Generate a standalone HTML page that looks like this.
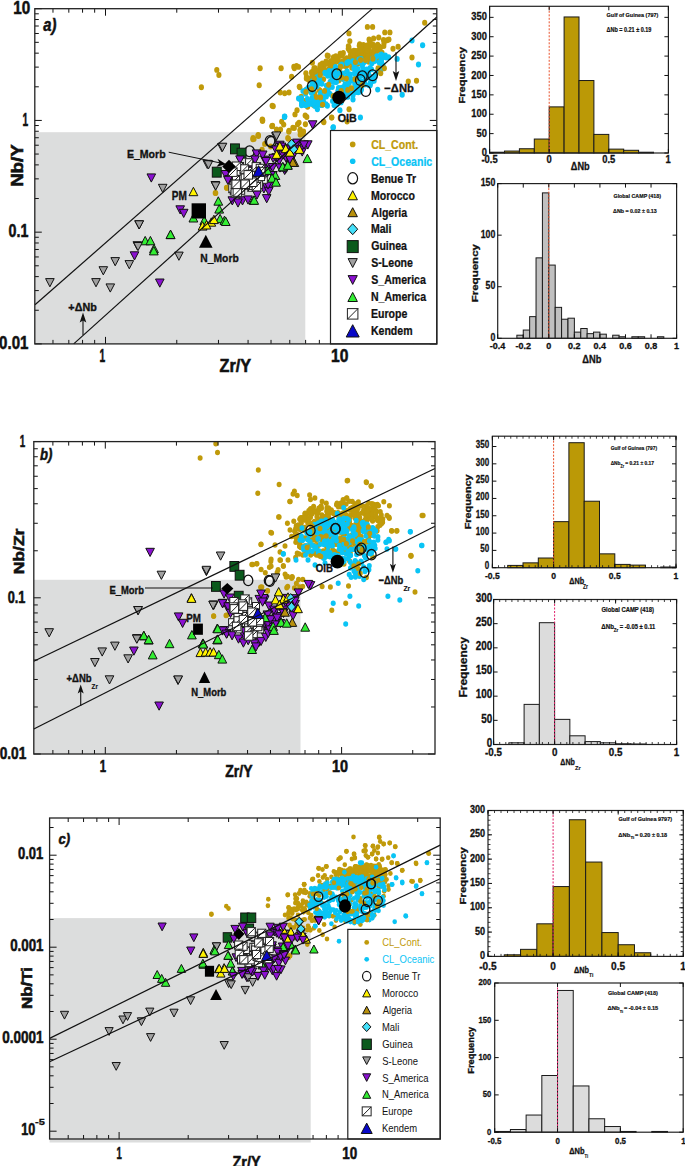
<!DOCTYPE html>
<html><head><meta charset="utf-8"><style>
html,body{margin:0;padding:0;background:#fff;}
svg{display:block;font-family:"Liberation Sans",sans-serif;}
</style></head><body>
<svg width="685" height="1166" viewBox="0 0 685 1166">
<rect width="685" height="1166" fill="#fff"/>
<rect x="34.80" y="132.20" width="270.50" height="211.70" fill="#dcdddd" stroke="none" stroke-width="1" />
<ellipse cx="319.5" cy="90.3" rx="2.6" ry="2.94" fill="#c09a0a"/>
<ellipse cx="369.8" cy="41.5" rx="2.6" ry="2.94" fill="#c09a0a"/>
<ellipse cx="348.3" cy="48.8" rx="2.6" ry="2.94" fill="#c09a0a"/>
<ellipse cx="323.2" cy="68.0" rx="2.6" ry="2.94" fill="#c09a0a"/>
<ellipse cx="307.6" cy="106.7" rx="2.6" ry="2.94" fill="#c09a0a"/>
<ellipse cx="351.8" cy="67.8" rx="2.6" ry="2.94" fill="#c09a0a"/>
<ellipse cx="330.6" cy="67.8" rx="2.6" ry="2.94" fill="#c09a0a"/>
<ellipse cx="306.3" cy="89.6" rx="2.6" ry="2.94" fill="#c09a0a"/>
<ellipse cx="313.5" cy="76.0" rx="2.6" ry="2.94" fill="#c09a0a"/>
<ellipse cx="318.9" cy="70.4" rx="2.6" ry="2.94" fill="#c09a0a"/>
<ellipse cx="356.2" cy="64.8" rx="2.6" ry="2.94" fill="#c09a0a"/>
<ellipse cx="305.9" cy="73.2" rx="2.6" ry="2.94" fill="#c09a0a"/>
<ellipse cx="299.8" cy="87.3" rx="2.6" ry="2.94" fill="#c09a0a"/>
<ellipse cx="359.7" cy="44.1" rx="2.6" ry="2.94" fill="#c09a0a"/>
<ellipse cx="313.5" cy="105.1" rx="2.6" ry="2.94" fill="#c09a0a"/>
<ellipse cx="314.4" cy="84.3" rx="2.6" ry="2.94" fill="#c09a0a"/>
<ellipse cx="328.2" cy="56.0" rx="2.6" ry="2.94" fill="#c09a0a"/>
<ellipse cx="309.4" cy="90.2" rx="2.6" ry="2.94" fill="#c09a0a"/>
<ellipse cx="299.3" cy="86.6" rx="2.6" ry="2.94" fill="#c09a0a"/>
<ellipse cx="320.5" cy="82.6" rx="2.6" ry="2.94" fill="#c09a0a"/>
<ellipse cx="346.8" cy="71.7" rx="2.6" ry="2.94" fill="#c09a0a"/>
<ellipse cx="363.0" cy="56.1" rx="2.6" ry="2.94" fill="#c09a0a"/>
<ellipse cx="319.4" cy="90.2" rx="2.6" ry="2.94" fill="#c09a0a"/>
<ellipse cx="382.0" cy="52.8" rx="2.6" ry="2.94" fill="#c09a0a"/>
<ellipse cx="354.3" cy="61.3" rx="2.6" ry="2.94" fill="#c09a0a"/>
<ellipse cx="301.2" cy="96.7" rx="2.6" ry="2.94" fill="#c09a0a"/>
<ellipse cx="374.0" cy="46.8" rx="2.6" ry="2.94" fill="#c09a0a"/>
<ellipse cx="343.0" cy="78.8" rx="2.6" ry="2.94" fill="#c09a0a"/>
<ellipse cx="327.3" cy="55.5" rx="2.6" ry="2.94" fill="#c09a0a"/>
<ellipse cx="383.5" cy="39.9" rx="2.6" ry="2.94" fill="#c09a0a"/>
<ellipse cx="379.3" cy="49.2" rx="2.6" ry="2.94" fill="#c09a0a"/>
<ellipse cx="324.2" cy="64.2" rx="2.6" ry="2.94" fill="#c09a0a"/>
<ellipse cx="330.3" cy="68.9" rx="2.6" ry="2.94" fill="#c09a0a"/>
<ellipse cx="305.7" cy="100.7" rx="2.6" ry="2.94" fill="#c09a0a"/>
<ellipse cx="349.8" cy="41.1" rx="2.6" ry="2.94" fill="#c09a0a"/>
<ellipse cx="384.0" cy="43.2" rx="2.6" ry="2.94" fill="#c09a0a"/>
<ellipse cx="342.8" cy="62.7" rx="2.6" ry="2.94" fill="#c09a0a"/>
<ellipse cx="314.7" cy="93.2" rx="2.6" ry="2.94" fill="#c09a0a"/>
<ellipse cx="338.7" cy="80.4" rx="2.6" ry="2.94" fill="#c09a0a"/>
<ellipse cx="387.1" cy="40.2" rx="2.6" ry="2.94" fill="#c09a0a"/>
<ellipse cx="306.5" cy="77.0" rx="2.6" ry="2.94" fill="#c09a0a"/>
<ellipse cx="369.1" cy="39.4" rx="2.6" ry="2.94" fill="#c09a0a"/>
<ellipse cx="382.5" cy="66.6" rx="2.6" ry="2.94" fill="#c09a0a"/>
<ellipse cx="343.3" cy="53.0" rx="2.6" ry="2.94" fill="#c09a0a"/>
<ellipse cx="348.9" cy="47.1" rx="2.6" ry="2.94" fill="#c09a0a"/>
<ellipse cx="340.3" cy="64.8" rx="2.6" ry="2.94" fill="#c09a0a"/>
<ellipse cx="344.6" cy="65.9" rx="2.6" ry="2.94" fill="#c09a0a"/>
<ellipse cx="312.1" cy="74.6" rx="2.6" ry="2.94" fill="#c09a0a"/>
<ellipse cx="340.7" cy="53.8" rx="2.6" ry="2.94" fill="#c09a0a"/>
<ellipse cx="364.8" cy="58.6" rx="2.6" ry="2.94" fill="#c09a0a"/>
<ellipse cx="371.0" cy="58.1" rx="2.6" ry="2.94" fill="#c09a0a"/>
<ellipse cx="381.5" cy="58.5" rx="2.6" ry="2.94" fill="#c09a0a"/>
<ellipse cx="365.7" cy="53.5" rx="2.6" ry="2.94" fill="#c09a0a"/>
<ellipse cx="367.2" cy="49.9" rx="2.6" ry="2.94" fill="#c09a0a"/>
<ellipse cx="348.6" cy="60.4" rx="2.6" ry="2.94" fill="#c09a0a"/>
<ellipse cx="319.9" cy="71.5" rx="2.6" ry="2.94" fill="#c09a0a"/>
<ellipse cx="315.2" cy="68.1" rx="2.6" ry="2.94" fill="#c09a0a"/>
<ellipse cx="365.3" cy="55.8" rx="2.6" ry="2.94" fill="#c09a0a"/>
<ellipse cx="324.0" cy="66.5" rx="2.6" ry="2.94" fill="#c09a0a"/>
<ellipse cx="334.0" cy="60.7" rx="2.6" ry="2.94" fill="#c09a0a"/>
<ellipse cx="323.6" cy="70.5" rx="2.6" ry="2.94" fill="#c09a0a"/>
<ellipse cx="351.5" cy="54.4" rx="2.6" ry="2.94" fill="#c09a0a"/>
<ellipse cx="318.7" cy="71.1" rx="2.6" ry="2.94" fill="#c09a0a"/>
<ellipse cx="352.9" cy="53.9" rx="2.6" ry="2.94" fill="#c09a0a"/>
<ellipse cx="376.6" cy="51.0" rx="2.6" ry="2.94" fill="#c09a0a"/>
<ellipse cx="306.4" cy="78.5" rx="2.6" ry="2.94" fill="#c09a0a"/>
<ellipse cx="332.4" cy="69.7" rx="2.6" ry="2.94" fill="#c09a0a"/>
<ellipse cx="353.7" cy="57.9" rx="2.6" ry="2.94" fill="#c09a0a"/>
<ellipse cx="361.8" cy="58.1" rx="2.6" ry="2.94" fill="#c09a0a"/>
<ellipse cx="311.5" cy="72.3" rx="2.6" ry="2.94" fill="#c09a0a"/>
<ellipse cx="359.5" cy="62.4" rx="2.6" ry="2.94" fill="#c09a0a"/>
<ellipse cx="328.5" cy="69.4" rx="2.6" ry="2.94" fill="#c09a0a"/>
<ellipse cx="330.5" cy="69.0" rx="2.6" ry="2.94" fill="#c09a0a"/>
<ellipse cx="373.7" cy="58.0" rx="2.6" ry="2.94" fill="#c09a0a"/>
<ellipse cx="350.5" cy="55.3" rx="2.6" ry="2.94" fill="#c09a0a"/>
<ellipse cx="340.2" cy="53.7" rx="2.6" ry="2.94" fill="#c09a0a"/>
<ellipse cx="353.8" cy="62.3" rx="2.6" ry="2.94" fill="#c09a0a"/>
<ellipse cx="373.1" cy="44.6" rx="2.6" ry="2.94" fill="#c09a0a"/>
<ellipse cx="369.7" cy="52.3" rx="2.6" ry="2.94" fill="#c09a0a"/>
<ellipse cx="354.1" cy="60.4" rx="2.6" ry="2.94" fill="#c09a0a"/>
<ellipse cx="358.4" cy="50.8" rx="2.6" ry="2.94" fill="#c09a0a"/>
<ellipse cx="360.7" cy="50.0" rx="2.6" ry="2.94" fill="#c09a0a"/>
<ellipse cx="359.4" cy="63.3" rx="2.6" ry="2.94" fill="#c09a0a"/>
<ellipse cx="375.7" cy="46.4" rx="2.6" ry="2.94" fill="#c09a0a"/>
<ellipse cx="334.4" cy="65.2" rx="2.6" ry="2.94" fill="#c09a0a"/>
<ellipse cx="355.8" cy="51.0" rx="2.6" ry="2.94" fill="#c09a0a"/>
<ellipse cx="371.8" cy="56.6" rx="2.6" ry="2.94" fill="#c09a0a"/>
<ellipse cx="368.1" cy="45.5" rx="2.6" ry="2.94" fill="#c09a0a"/>
<ellipse cx="367.4" cy="49.7" rx="2.6" ry="2.94" fill="#c09a0a"/>
<ellipse cx="379.0" cy="46.4" rx="2.6" ry="2.94" fill="#c09a0a"/>
<ellipse cx="322.3" cy="63.5" rx="2.6" ry="2.94" fill="#c09a0a"/>
<ellipse cx="327.6" cy="71.4" rx="2.6" ry="2.94" fill="#c09a0a"/>
<ellipse cx="354.8" cy="63.4" rx="2.6" ry="2.94" fill="#c09a0a"/>
<ellipse cx="349.7" cy="50.8" rx="2.6" ry="2.94" fill="#c09a0a"/>
<ellipse cx="346.8" cy="62.6" rx="2.6" ry="2.94" fill="#c09a0a"/>
<ellipse cx="348.9" cy="62.2" rx="2.6" ry="2.94" fill="#c09a0a"/>
<ellipse cx="347.0" cy="59.1" rx="2.6" ry="2.94" fill="#c09a0a"/>
<ellipse cx="326.0" cy="61.5" rx="2.6" ry="2.94" fill="#c09a0a"/>
<ellipse cx="342.2" cy="55.4" rx="2.6" ry="2.94" fill="#c09a0a"/>
<ellipse cx="319.9" cy="67.1" rx="2.6" ry="2.94" fill="#c09a0a"/>
<ellipse cx="377.2" cy="48.0" rx="2.6" ry="2.94" fill="#c09a0a"/>
<ellipse cx="358.6" cy="55.6" rx="2.6" ry="2.94" fill="#c09a0a"/>
<ellipse cx="332.7" cy="67.2" rx="2.6" ry="2.94" fill="#c09a0a"/>
<ellipse cx="313.2" cy="71.5" rx="2.6" ry="2.94" fill="#c09a0a"/>
<ellipse cx="346.4" cy="60.0" rx="2.6" ry="2.94" fill="#c09a0a"/>
<ellipse cx="334.3" cy="59.1" rx="2.6" ry="2.94" fill="#c09a0a"/>
<ellipse cx="320.9" cy="67.6" rx="2.6" ry="2.94" fill="#c09a0a"/>
<ellipse cx="354.8" cy="63.7" rx="2.6" ry="2.94" fill="#c09a0a"/>
<ellipse cx="371.8" cy="52.1" rx="2.6" ry="2.94" fill="#c09a0a"/>
<ellipse cx="375.4" cy="55.3" rx="2.6" ry="2.94" fill="#c09a0a"/>
<ellipse cx="374.2" cy="48.2" rx="2.6" ry="2.94" fill="#c09a0a"/>
<ellipse cx="323.7" cy="71.3" rx="2.6" ry="2.94" fill="#c09a0a"/>
<ellipse cx="369.9" cy="59.4" rx="2.6" ry="2.94" fill="#c09a0a"/>
<ellipse cx="366.6" cy="47.9" rx="2.6" ry="2.94" fill="#c09a0a"/>
<ellipse cx="336.4" cy="69.7" rx="2.6" ry="2.94" fill="#c09a0a"/>
<ellipse cx="380.5" cy="47.5" rx="2.6" ry="2.94" fill="#c09a0a"/>
<ellipse cx="348.0" cy="63.1" rx="2.6" ry="2.94" fill="#c09a0a"/>
<ellipse cx="377.3" cy="46.7" rx="2.6" ry="2.94" fill="#c09a0a"/>
<ellipse cx="309.8" cy="80.1" rx="2.6" ry="2.94" fill="#c09a0a"/>
<ellipse cx="330.5" cy="61.2" rx="2.6" ry="2.94" fill="#c09a0a"/>
<ellipse cx="345.2" cy="59.8" rx="2.6" ry="2.94" fill="#c09a0a"/>
<ellipse cx="362.7" cy="58.8" rx="2.6" ry="2.94" fill="#c09a0a"/>
<ellipse cx="354.1" cy="58.8" rx="2.6" ry="2.94" fill="#c09a0a"/>
<ellipse cx="351.8" cy="62.7" rx="2.6" ry="2.94" fill="#c09a0a"/>
<ellipse cx="368.5" cy="58.8" rx="2.6" ry="2.94" fill="#c09a0a"/>
<ellipse cx="364.7" cy="58.8" rx="2.6" ry="2.94" fill="#c09a0a"/>
<ellipse cx="361.4" cy="45.8" rx="2.6" ry="2.94" fill="#c09a0a"/>
<ellipse cx="331.7" cy="61.3" rx="2.6" ry="2.94" fill="#c09a0a"/>
<ellipse cx="357.0" cy="56.2" rx="2.6" ry="2.94" fill="#c09a0a"/>
<ellipse cx="346.6" cy="58.2" rx="2.6" ry="2.94" fill="#c09a0a"/>
<ellipse cx="347.9" cy="62.8" rx="2.6" ry="2.94" fill="#c09a0a"/>
<ellipse cx="368.1" cy="46.0" rx="2.6" ry="2.94" fill="#c09a0a"/>
<ellipse cx="308.5" cy="79.3" rx="2.6" ry="2.94" fill="#c09a0a"/>
<ellipse cx="378.7" cy="59.4" rx="2.6" ry="2.94" fill="#c09a0a"/>
<ellipse cx="346.1" cy="66.3" rx="2.6" ry="2.94" fill="#c09a0a"/>
<ellipse cx="356.1" cy="64.9" rx="2.6" ry="2.94" fill="#c09a0a"/>
<ellipse cx="327.1" cy="70.9" rx="2.6" ry="2.94" fill="#c09a0a"/>
<ellipse cx="317.2" cy="72.4" rx="2.6" ry="2.94" fill="#c09a0a"/>
<ellipse cx="363.4" cy="45.0" rx="2.6" ry="2.94" fill="#c09a0a"/>
<ellipse cx="310.7" cy="78.3" rx="2.6" ry="2.94" fill="#c09a0a"/>
<ellipse cx="338.5" cy="61.6" rx="2.6" ry="2.94" fill="#c09a0a"/>
<ellipse cx="380.9" cy="52.5" rx="2.6" ry="2.94" fill="#c09a0a"/>
<ellipse cx="361.4" cy="61.3" rx="2.6" ry="2.94" fill="#c09a0a"/>
<ellipse cx="353.7" cy="60.8" rx="2.6" ry="2.94" fill="#c09a0a"/>
<ellipse cx="339.5" cy="69.0" rx="2.6" ry="2.94" fill="#c09a0a"/>
<ellipse cx="350.4" cy="59.4" rx="2.6" ry="2.94" fill="#c09a0a"/>
<ellipse cx="362.3" cy="52.3" rx="2.6" ry="2.94" fill="#c09a0a"/>
<ellipse cx="313.9" cy="77.8" rx="2.6" ry="2.94" fill="#c09a0a"/>
<ellipse cx="363.8" cy="50.4" rx="2.6" ry="2.94" fill="#c09a0a"/>
<ellipse cx="334.1" cy="61.7" rx="2.6" ry="2.94" fill="#c09a0a"/>
<ellipse cx="365.0" cy="51.3" rx="2.6" ry="2.94" fill="#c09a0a"/>
<ellipse cx="368.2" cy="57.4" rx="2.6" ry="2.94" fill="#c09a0a"/>
<ellipse cx="330.4" cy="64.4" rx="2.6" ry="2.94" fill="#c09a0a"/>
<ellipse cx="338.4" cy="57.4" rx="2.6" ry="2.94" fill="#c09a0a"/>
<ellipse cx="312.6" cy="77.1" rx="2.6" ry="2.94" fill="#c09a0a"/>
<ellipse cx="349.0" cy="61.9" rx="2.6" ry="2.94" fill="#c09a0a"/>
<ellipse cx="358.5" cy="54.7" rx="2.6" ry="2.94" fill="#c09a0a"/>
<ellipse cx="365.5" cy="46.0" rx="2.6" ry="2.94" fill="#c09a0a"/>
<ellipse cx="321.6" cy="68.8" rx="2.6" ry="2.94" fill="#c09a0a"/>
<ellipse cx="376.2" cy="60.1" rx="2.6" ry="2.94" fill="#c09a0a"/>
<ellipse cx="367.6" cy="54.9" rx="2.6" ry="2.94" fill="#c09a0a"/>
<ellipse cx="333.5" cy="57.2" rx="2.6" ry="2.94" fill="#c09a0a"/>
<ellipse cx="335.9" cy="58.1" rx="2.6" ry="2.94" fill="#c09a0a"/>
<ellipse cx="320.2" cy="65.0" rx="2.6" ry="2.94" fill="#c09a0a"/>
<ellipse cx="318.8" cy="72.6" rx="2.6" ry="2.94" fill="#c09a0a"/>
<ellipse cx="373.7" cy="54.0" rx="2.6" ry="2.94" fill="#c09a0a"/>
<ellipse cx="347.4" cy="65.1" rx="2.6" ry="2.94" fill="#c09a0a"/>
<ellipse cx="367.7" cy="45.5" rx="2.6" ry="2.94" fill="#c09a0a"/>
<ellipse cx="316.2" cy="72.1" rx="2.6" ry="2.94" fill="#c09a0a"/>
<ellipse cx="355.6" cy="52.6" rx="2.6" ry="2.94" fill="#c09a0a"/>
<ellipse cx="322.2" cy="72.8" rx="2.6" ry="2.94" fill="#c09a0a"/>
<ellipse cx="335.8" cy="56.2" rx="2.6" ry="2.94" fill="#c09a0a"/>
<ellipse cx="343.5" cy="64.0" rx="2.6" ry="2.94" fill="#c09a0a"/>
<ellipse cx="376.4" cy="59.0" rx="2.6" ry="2.94" fill="#c09a0a"/>
<ellipse cx="367.6" cy="59.4" rx="2.6" ry="2.94" fill="#c09a0a"/>
<ellipse cx="314.0" cy="68.3" rx="2.6" ry="2.94" fill="#c09a0a"/>
<ellipse cx="365.5" cy="50.0" rx="2.6" ry="2.94" fill="#c09a0a"/>
<ellipse cx="323.4" cy="71.0" rx="2.6" ry="2.94" fill="#c09a0a"/>
<ellipse cx="351.4" cy="51.7" rx="2.6" ry="2.94" fill="#c09a0a"/>
<ellipse cx="318.5" cy="72.5" rx="2.6" ry="2.94" fill="#c09a0a"/>
<ellipse cx="329.3" cy="64.4" rx="2.6" ry="2.94" fill="#c09a0a"/>
<ellipse cx="368.7" cy="61.7" rx="2.6" ry="2.94" fill="#c09a0a"/>
<ellipse cx="376.3" cy="56.3" rx="2.6" ry="2.94" fill="#c09a0a"/>
<ellipse cx="308.9" cy="80.0" rx="2.6" ry="2.94" fill="#c09a0a"/>
<ellipse cx="367.5" cy="58.0" rx="2.6" ry="2.94" fill="#c09a0a"/>
<ellipse cx="346.2" cy="63.1" rx="2.6" ry="2.94" fill="#c09a0a"/>
<ellipse cx="356.3" cy="52.3" rx="2.6" ry="2.94" fill="#c09a0a"/>
<ellipse cx="325.8" cy="63.8" rx="2.6" ry="2.94" fill="#c09a0a"/>
<ellipse cx="316.8" cy="73.0" rx="2.6" ry="2.94" fill="#c09a0a"/>
<ellipse cx="360.9" cy="46.8" rx="2.6" ry="2.94" fill="#c09a0a"/>
<ellipse cx="342.4" cy="61.3" rx="2.6" ry="2.94" fill="#c09a0a"/>
<ellipse cx="371.9" cy="54.8" rx="2.6" ry="2.94" fill="#c09a0a"/>
<ellipse cx="366.6" cy="59.3" rx="2.6" ry="2.94" fill="#c09a0a"/>
<ellipse cx="376.5" cy="46.5" rx="2.6" ry="2.94" fill="#c09a0a"/>
<ellipse cx="369.5" cy="51.1" rx="2.6" ry="2.94" fill="#c09a0a"/>
<ellipse cx="347.4" cy="63.5" rx="2.6" ry="2.94" fill="#c09a0a"/>
<ellipse cx="317.3" cy="75.4" rx="2.6" ry="2.94" fill="#c09a0a"/>
<ellipse cx="333.1" cy="69.8" rx="2.6" ry="2.94" fill="#c09a0a"/>
<ellipse cx="360.4" cy="52.3" rx="2.6" ry="2.94" fill="#c09a0a"/>
<ellipse cx="349.0" cy="60.9" rx="2.6" ry="2.94" fill="#c09a0a"/>
<ellipse cx="367.4" cy="51.1" rx="2.6" ry="2.94" fill="#c09a0a"/>
<ellipse cx="353.1" cy="54.3" rx="2.6" ry="2.94" fill="#c09a0a"/>
<ellipse cx="334.3" cy="64.1" rx="2.6" ry="2.94" fill="#c09a0a"/>
<ellipse cx="335.6" cy="69.0" rx="2.6" ry="2.94" fill="#c09a0a"/>
<ellipse cx="362.1" cy="55.8" rx="2.6" ry="2.94" fill="#c09a0a"/>
<ellipse cx="361.5" cy="55.9" rx="2.6" ry="2.94" fill="#c09a0a"/>
<ellipse cx="369.5" cy="46.6" rx="2.6" ry="2.94" fill="#c09a0a"/>
<ellipse cx="376.8" cy="59.7" rx="2.6" ry="2.94" fill="#c09a0a"/>
<ellipse cx="331.7" cy="68.4" rx="2.6" ry="2.94" fill="#c09a0a"/>
<ellipse cx="317.4" cy="72.9" rx="2.6" ry="2.94" fill="#c09a0a"/>
<ellipse cx="332.5" cy="62.5" rx="2.6" ry="2.94" fill="#c09a0a"/>
<ellipse cx="316.1" cy="70.8" rx="2.6" ry="2.94" fill="#c09a0a"/>
<ellipse cx="353.9" cy="50.7" rx="2.6" ry="2.94" fill="#c09a0a"/>
<ellipse cx="333.2" cy="61.1" rx="2.6" ry="2.94" fill="#c09a0a"/>
<ellipse cx="315.6" cy="78.3" rx="2.6" ry="2.94" fill="#c09a0a"/>
<ellipse cx="424.7" cy="22.8" rx="2.6" ry="2.94" fill="#c09a0a"/>
<ellipse cx="367.4" cy="26.9" rx="2.6" ry="2.94" fill="#c09a0a"/>
<ellipse cx="372.6" cy="26.9" rx="2.6" ry="2.94" fill="#c09a0a"/>
<ellipse cx="384.8" cy="32.4" rx="2.6" ry="2.94" fill="#c09a0a"/>
<ellipse cx="389.9" cy="32.4" rx="2.6" ry="2.94" fill="#c09a0a"/>
<ellipse cx="349.0" cy="33.4" rx="2.6" ry="2.94" fill="#c09a0a"/>
<ellipse cx="373.6" cy="38.5" rx="2.6" ry="2.94" fill="#c09a0a"/>
<ellipse cx="378.7" cy="37.5" rx="2.6" ry="2.94" fill="#c09a0a"/>
<ellipse cx="388.9" cy="39.5" rx="2.6" ry="2.94" fill="#c09a0a"/>
<ellipse cx="348.4" cy="46.1" rx="2.6" ry="2.94" fill="#c09a0a"/>
<ellipse cx="359.3" cy="45.7" rx="2.6" ry="2.94" fill="#c09a0a"/>
<ellipse cx="366.4" cy="45.7" rx="2.6" ry="2.94" fill="#c09a0a"/>
<ellipse cx="370.5" cy="43.2" rx="2.6" ry="2.94" fill="#c09a0a"/>
<ellipse cx="377.7" cy="44.6" rx="2.6" ry="2.94" fill="#c09a0a"/>
<ellipse cx="383.8" cy="46.1" rx="2.6" ry="2.94" fill="#c09a0a"/>
<ellipse cx="393.0" cy="48.7" rx="2.6" ry="2.94" fill="#c09a0a"/>
<ellipse cx="398.1" cy="46.7" rx="2.6" ry="2.94" fill="#c09a0a"/>
<ellipse cx="412.0" cy="57.5" rx="2.6" ry="2.94" fill="#c09a0a"/>
<ellipse cx="416.5" cy="80.8" rx="2.6" ry="2.94" fill="#c09a0a"/>
<ellipse cx="408.3" cy="81.4" rx="2.6" ry="2.94" fill="#c09a0a"/>
<ellipse cx="201.4" cy="87.3" rx="2.6" ry="2.94" fill="#c09a0a"/>
<ellipse cx="216.8" cy="69.9" rx="2.6" ry="2.94" fill="#c09a0a"/>
<ellipse cx="218.9" cy="75.0" rx="2.6" ry="2.94" fill="#c09a0a"/>
<ellipse cx="260.1" cy="68.2" rx="2.6" ry="2.94" fill="#c09a0a"/>
<ellipse cx="259.2" cy="85.2" rx="2.6" ry="2.94" fill="#c09a0a"/>
<ellipse cx="281.1" cy="68.2" rx="2.6" ry="2.94" fill="#c09a0a"/>
<ellipse cx="293.9" cy="66.8" rx="2.6" ry="2.94" fill="#c09a0a"/>
<ellipse cx="296.5" cy="65.9" rx="2.6" ry="2.94" fill="#c09a0a"/>
<ellipse cx="291.6" cy="76.8" rx="2.6" ry="2.94" fill="#c09a0a"/>
<ellipse cx="280.2" cy="92.5" rx="2.6" ry="2.94" fill="#c09a0a"/>
<ellipse cx="289.0" cy="92.5" rx="2.6" ry="2.94" fill="#c09a0a"/>
<ellipse cx="273.2" cy="106.2" rx="2.6" ry="2.94" fill="#c09a0a"/>
<ellipse cx="262.3" cy="119.9" rx="2.6" ry="2.94" fill="#c09a0a"/>
<ellipse cx="272.3" cy="126.0" rx="2.6" ry="2.94" fill="#c09a0a"/>
<ellipse cx="272.2" cy="105.7" rx="2.6" ry="2.94" fill="#c09a0a"/>
<ellipse cx="262.5" cy="121.0" rx="2.6" ry="2.94" fill="#c09a0a"/>
<ellipse cx="284.7" cy="93.2" rx="2.6" ry="2.94" fill="#c09a0a"/>
<ellipse cx="262.3" cy="119.5" rx="2.6" ry="2.94" fill="#c09a0a"/>
<ellipse cx="283.7" cy="124.6" rx="2.6" ry="2.94" fill="#c09a0a"/>
<ellipse cx="281.7" cy="121.6" rx="2.6" ry="2.94" fill="#c09a0a"/>
<ellipse cx="272.5" cy="125.7" rx="2.6" ry="2.94" fill="#c09a0a"/>
<ellipse cx="295.0" cy="114.4" rx="2.6" ry="2.94" fill="#c09a0a"/>
<ellipse cx="297.0" cy="110.3" rx="2.6" ry="2.94" fill="#c09a0a"/>
<ellipse cx="305.2" cy="115.4" rx="2.6" ry="2.94" fill="#c09a0a"/>
<ellipse cx="299.0" cy="122.6" rx="2.6" ry="2.94" fill="#c09a0a"/>
<ellipse cx="292.9" cy="127.7" rx="2.6" ry="2.94" fill="#c09a0a"/>
<ellipse cx="288.8" cy="131.8" rx="2.6" ry="2.94" fill="#c09a0a"/>
<ellipse cx="300.0" cy="130.8" rx="2.6" ry="2.94" fill="#c09a0a"/>
<ellipse cx="303.1" cy="133.8" rx="2.6" ry="2.94" fill="#c09a0a"/>
<ellipse cx="253.1" cy="137.9" rx="2.6" ry="2.94" fill="#c09a0a"/>
<ellipse cx="258.2" cy="134.9" rx="2.6" ry="2.94" fill="#c09a0a"/>
<ellipse cx="287.8" cy="137.9" rx="2.6" ry="2.94" fill="#c09a0a"/>
<ellipse cx="323.6" cy="121.6" rx="2.6" ry="2.94" fill="#c09a0a"/>
<ellipse cx="331.7" cy="117.5" rx="2.6" ry="2.94" fill="#c09a0a"/>
<ellipse cx="349.1" cy="109.3" rx="2.6" ry="2.94" fill="#c09a0a"/>
<ellipse cx="347.1" cy="121.6" rx="2.6" ry="2.94" fill="#c09a0a"/>
<ellipse cx="254.0" cy="138.9" rx="2.6" ry="2.94" fill="#c09a0a"/>
<ellipse cx="258.4" cy="136.0" rx="2.6" ry="2.94" fill="#c09a0a"/>
<ellipse cx="215.7" cy="193.1" rx="2.6" ry="2.94" fill="#c09a0a"/>
<ellipse cx="227.1" cy="187.9" rx="2.6" ry="2.94" fill="#c09a0a"/>
<ellipse cx="226.5" cy="187.7" rx="2.6" ry="2.94" fill="#c09a0a"/>
<ellipse cx="215.3" cy="192.9" rx="2.6" ry="2.94" fill="#c09a0a"/>
<ellipse cx="262.7" cy="120.3" rx="2.6" ry="2.94" fill="#c09a0a"/>
<ellipse cx="271.9" cy="126.2" rx="2.6" ry="2.94" fill="#c09a0a"/>
<ellipse cx="276.5" cy="129.5" rx="2.6" ry="2.94" fill="#c09a0a"/>
<ellipse cx="280.5" cy="129.5" rx="2.6" ry="2.94" fill="#c09a0a"/>
<ellipse cx="289.0" cy="130.8" rx="2.6" ry="2.94" fill="#c09a0a"/>
<ellipse cx="294.3" cy="128.1" rx="2.6" ry="2.94" fill="#c09a0a"/>
<ellipse cx="297.6" cy="124.2" rx="2.6" ry="2.94" fill="#c09a0a"/>
<ellipse cx="300.2" cy="129.5" rx="2.6" ry="2.94" fill="#c09a0a"/>
<ellipse cx="303.5" cy="131.4" rx="2.6" ry="2.94" fill="#c09a0a"/>
<ellipse cx="305.4" cy="124.2" rx="2.6" ry="2.94" fill="#c09a0a"/>
<ellipse cx="288.4" cy="138.7" rx="2.6" ry="2.94" fill="#c09a0a"/>
<ellipse cx="252.9" cy="139.3" rx="2.6" ry="2.94" fill="#c09a0a"/>
<ellipse cx="258.1" cy="135.4" rx="2.6" ry="2.94" fill="#c09a0a"/>
<ellipse cx="264.7" cy="143.9" rx="2.6" ry="2.94" fill="#c09a0a"/>
<ellipse cx="262.1" cy="149.8" rx="2.6" ry="2.94" fill="#c09a0a"/>
<ellipse cx="270.6" cy="146.5" rx="2.6" ry="2.94" fill="#c09a0a"/>
<ellipse cx="300.2" cy="134.7" rx="2.6" ry="2.94" fill="#c09a0a"/>
<ellipse cx="306.8" cy="117.0" rx="2.6" ry="2.94" fill="#c09a0a"/>
<ellipse cx="323.8" cy="122.2" rx="2.6" ry="2.94" fill="#c09a0a"/>
<ellipse cx="331.7" cy="117.6" rx="2.6" ry="2.94" fill="#c09a0a"/>
<ellipse cx="312.4" cy="62.7" rx="2.6" ry="2.94" fill="#c09a0a"/>
<ellipse cx="298.5" cy="66.9" rx="2.6" ry="2.94" fill="#c09a0a"/>
<ellipse cx="294.4" cy="68.3" rx="2.6" ry="2.94" fill="#c09a0a"/>
<ellipse cx="323.5" cy="79.3" rx="2.6" ry="2.94" fill="#c09a0a"/>
<ellipse cx="340.6" cy="89.5" rx="2.6" ry="2.94" fill="#0ac4f5"/>
<ellipse cx="358.6" cy="61.7" rx="2.6" ry="2.94" fill="#0ac4f5"/>
<ellipse cx="321.8" cy="97.8" rx="2.6" ry="2.94" fill="#0ac4f5"/>
<ellipse cx="360.9" cy="86.5" rx="2.6" ry="2.94" fill="#0ac4f5"/>
<ellipse cx="348.5" cy="89.7" rx="2.6" ry="2.94" fill="#0ac4f5"/>
<ellipse cx="311.3" cy="102.9" rx="2.6" ry="2.94" fill="#0ac4f5"/>
<ellipse cx="301.5" cy="98.2" rx="2.6" ry="2.94" fill="#0ac4f5"/>
<ellipse cx="303.0" cy="91.1" rx="2.6" ry="2.94" fill="#0ac4f5"/>
<ellipse cx="327.7" cy="75.8" rx="2.6" ry="2.94" fill="#0ac4f5"/>
<ellipse cx="301.7" cy="103.4" rx="2.6" ry="2.94" fill="#0ac4f5"/>
<ellipse cx="354.4" cy="62.8" rx="2.6" ry="2.94" fill="#0ac4f5"/>
<ellipse cx="312.1" cy="98.0" rx="2.6" ry="2.94" fill="#0ac4f5"/>
<ellipse cx="333.6" cy="76.6" rx="2.6" ry="2.94" fill="#0ac4f5"/>
<ellipse cx="352.0" cy="79.7" rx="2.6" ry="2.94" fill="#0ac4f5"/>
<ellipse cx="329.5" cy="73.6" rx="2.6" ry="2.94" fill="#0ac4f5"/>
<ellipse cx="360.9" cy="90.4" rx="2.6" ry="2.94" fill="#0ac4f5"/>
<ellipse cx="330.2" cy="81.6" rx="2.6" ry="2.94" fill="#0ac4f5"/>
<ellipse cx="372.2" cy="81.0" rx="2.6" ry="2.94" fill="#0ac4f5"/>
<ellipse cx="298.6" cy="98.4" rx="2.6" ry="2.94" fill="#0ac4f5"/>
<ellipse cx="336.4" cy="82.0" rx="2.6" ry="2.94" fill="#0ac4f5"/>
<ellipse cx="316.9" cy="77.1" rx="2.6" ry="2.94" fill="#0ac4f5"/>
<ellipse cx="332.5" cy="95.7" rx="2.6" ry="2.94" fill="#0ac4f5"/>
<ellipse cx="312.7" cy="91.6" rx="2.6" ry="2.94" fill="#0ac4f5"/>
<ellipse cx="328.4" cy="88.4" rx="2.6" ry="2.94" fill="#0ac4f5"/>
<ellipse cx="311.8" cy="103.9" rx="2.6" ry="2.94" fill="#0ac4f5"/>
<ellipse cx="368.4" cy="72.5" rx="2.6" ry="2.94" fill="#0ac4f5"/>
<ellipse cx="326.3" cy="96.5" rx="2.6" ry="2.94" fill="#0ac4f5"/>
<ellipse cx="317.6" cy="82.5" rx="2.6" ry="2.94" fill="#0ac4f5"/>
<ellipse cx="340.9" cy="87.9" rx="2.6" ry="2.94" fill="#0ac4f5"/>
<ellipse cx="320.7" cy="105.1" rx="2.6" ry="2.94" fill="#0ac4f5"/>
<ellipse cx="380.1" cy="62.8" rx="2.6" ry="2.94" fill="#0ac4f5"/>
<ellipse cx="323.4" cy="101.2" rx="2.6" ry="2.94" fill="#0ac4f5"/>
<ellipse cx="322.2" cy="105.0" rx="2.6" ry="2.94" fill="#0ac4f5"/>
<ellipse cx="344.4" cy="91.6" rx="2.6" ry="2.94" fill="#0ac4f5"/>
<ellipse cx="362.2" cy="65.6" rx="2.6" ry="2.94" fill="#0ac4f5"/>
<ellipse cx="360.2" cy="91.5" rx="2.6" ry="2.94" fill="#0ac4f5"/>
<ellipse cx="308.4" cy="101.9" rx="2.6" ry="2.94" fill="#0ac4f5"/>
<ellipse cx="335.5" cy="67.0" rx="2.6" ry="2.94" fill="#0ac4f5"/>
<ellipse cx="348.6" cy="87.7" rx="2.6" ry="2.94" fill="#0ac4f5"/>
<ellipse cx="367.5" cy="76.6" rx="2.6" ry="2.94" fill="#0ac4f5"/>
<ellipse cx="370.2" cy="85.3" rx="2.6" ry="2.94" fill="#0ac4f5"/>
<ellipse cx="328.7" cy="73.9" rx="2.6" ry="2.94" fill="#0ac4f5"/>
<ellipse cx="365.2" cy="84.4" rx="2.6" ry="2.94" fill="#0ac4f5"/>
<ellipse cx="346.3" cy="96.6" rx="2.6" ry="2.94" fill="#0ac4f5"/>
<ellipse cx="329.2" cy="70.9" rx="2.6" ry="2.94" fill="#0ac4f5"/>
<ellipse cx="346.9" cy="87.6" rx="2.6" ry="2.94" fill="#0ac4f5"/>
<ellipse cx="361.9" cy="75.3" rx="2.6" ry="2.94" fill="#0ac4f5"/>
<ellipse cx="319.1" cy="76.0" rx="2.6" ry="2.94" fill="#0ac4f5"/>
<ellipse cx="326.4" cy="91.0" rx="2.6" ry="2.94" fill="#0ac4f5"/>
<ellipse cx="325.4" cy="91.6" rx="2.6" ry="2.94" fill="#0ac4f5"/>
<ellipse cx="358.7" cy="72.4" rx="2.6" ry="2.94" fill="#0ac4f5"/>
<ellipse cx="316.7" cy="103.6" rx="2.6" ry="2.94" fill="#0ac4f5"/>
<ellipse cx="343.1" cy="91.7" rx="2.6" ry="2.94" fill="#0ac4f5"/>
<ellipse cx="353.0" cy="99.5" rx="2.6" ry="2.94" fill="#0ac4f5"/>
<ellipse cx="319.5" cy="78.8" rx="2.6" ry="2.94" fill="#0ac4f5"/>
<ellipse cx="317.4" cy="83.1" rx="2.6" ry="2.94" fill="#0ac4f5"/>
<ellipse cx="367.6" cy="75.3" rx="2.6" ry="2.94" fill="#0ac4f5"/>
<ellipse cx="359.3" cy="89.8" rx="2.6" ry="2.94" fill="#0ac4f5"/>
<ellipse cx="360.0" cy="72.9" rx="2.6" ry="2.94" fill="#0ac4f5"/>
<ellipse cx="364.8" cy="71.4" rx="2.6" ry="2.94" fill="#0ac4f5"/>
<ellipse cx="343.0" cy="73.5" rx="2.6" ry="2.94" fill="#0ac4f5"/>
<ellipse cx="317.2" cy="83.4" rx="2.6" ry="2.94" fill="#0ac4f5"/>
<ellipse cx="371.5" cy="69.4" rx="2.6" ry="2.94" fill="#0ac4f5"/>
<ellipse cx="332.6" cy="101.1" rx="2.6" ry="2.94" fill="#0ac4f5"/>
<ellipse cx="380.3" cy="71.3" rx="2.6" ry="2.94" fill="#0ac4f5"/>
<ellipse cx="307.8" cy="88.6" rx="2.6" ry="2.94" fill="#0ac4f5"/>
<ellipse cx="369.7" cy="76.3" rx="2.6" ry="2.94" fill="#0ac4f5"/>
<ellipse cx="354.1" cy="68.2" rx="2.6" ry="2.94" fill="#0ac4f5"/>
<ellipse cx="334.2" cy="74.5" rx="2.6" ry="2.94" fill="#0ac4f5"/>
<ellipse cx="332.2" cy="75.6" rx="2.6" ry="2.94" fill="#0ac4f5"/>
<ellipse cx="371.9" cy="63.2" rx="2.6" ry="2.94" fill="#0ac4f5"/>
<ellipse cx="301.0" cy="99.1" rx="2.6" ry="2.94" fill="#0ac4f5"/>
<ellipse cx="329.7" cy="93.7" rx="2.6" ry="2.94" fill="#0ac4f5"/>
<ellipse cx="315.9" cy="101.5" rx="2.6" ry="2.94" fill="#0ac4f5"/>
<ellipse cx="311.3" cy="92.7" rx="2.6" ry="2.94" fill="#0ac4f5"/>
<ellipse cx="305.6" cy="91.0" rx="2.6" ry="2.94" fill="#0ac4f5"/>
<ellipse cx="346.4" cy="78.2" rx="2.6" ry="2.94" fill="#0ac4f5"/>
<ellipse cx="345.6" cy="89.2" rx="2.6" ry="2.94" fill="#0ac4f5"/>
<ellipse cx="371.3" cy="81.3" rx="2.6" ry="2.94" fill="#0ac4f5"/>
<ellipse cx="355.7" cy="79.2" rx="2.6" ry="2.94" fill="#0ac4f5"/>
<ellipse cx="355.6" cy="75.0" rx="2.6" ry="2.94" fill="#0ac4f5"/>
<ellipse cx="335.0" cy="81.9" rx="2.6" ry="2.94" fill="#0ac4f5"/>
<ellipse cx="363.2" cy="69.0" rx="2.6" ry="2.94" fill="#0ac4f5"/>
<ellipse cx="336.1" cy="75.9" rx="2.6" ry="2.94" fill="#0ac4f5"/>
<ellipse cx="353.1" cy="94.7" rx="2.6" ry="2.94" fill="#0ac4f5"/>
<ellipse cx="374.9" cy="61.0" rx="2.6" ry="2.94" fill="#0ac4f5"/>
<ellipse cx="306.6" cy="91.0" rx="2.6" ry="2.94" fill="#0ac4f5"/>
<ellipse cx="385.3" cy="55.5" rx="2.6" ry="2.94" fill="#0ac4f5"/>
<ellipse cx="317.4" cy="104.0" rx="2.6" ry="2.94" fill="#0ac4f5"/>
<ellipse cx="340.7" cy="65.2" rx="2.6" ry="2.94" fill="#0ac4f5"/>
<ellipse cx="367.1" cy="76.9" rx="2.6" ry="2.94" fill="#0ac4f5"/>
<ellipse cx="347.1" cy="71.1" rx="2.6" ry="2.94" fill="#0ac4f5"/>
<ellipse cx="324.0" cy="103.9" rx="2.6" ry="2.94" fill="#0ac4f5"/>
<ellipse cx="352.4" cy="90.1" rx="2.6" ry="2.94" fill="#0ac4f5"/>
<ellipse cx="341.3" cy="93.5" rx="2.6" ry="2.94" fill="#0ac4f5"/>
<ellipse cx="327.9" cy="74.6" rx="2.6" ry="2.94" fill="#0ac4f5"/>
<ellipse cx="341.6" cy="64.5" rx="2.6" ry="2.94" fill="#0ac4f5"/>
<ellipse cx="354.7" cy="82.9" rx="2.6" ry="2.94" fill="#0ac4f5"/>
<ellipse cx="332.2" cy="87.1" rx="2.6" ry="2.94" fill="#0ac4f5"/>
<ellipse cx="319.7" cy="76.6" rx="2.6" ry="2.94" fill="#0ac4f5"/>
<ellipse cx="305.6" cy="93.8" rx="2.6" ry="2.94" fill="#0ac4f5"/>
<ellipse cx="355.4" cy="63.3" rx="2.6" ry="2.94" fill="#0ac4f5"/>
<ellipse cx="347.5" cy="86.2" rx="2.6" ry="2.94" fill="#0ac4f5"/>
<ellipse cx="350.3" cy="74.4" rx="2.6" ry="2.94" fill="#0ac4f5"/>
<ellipse cx="325.1" cy="73.2" rx="2.6" ry="2.94" fill="#0ac4f5"/>
<ellipse cx="343.2" cy="78.8" rx="2.6" ry="2.94" fill="#0ac4f5"/>
<ellipse cx="330.5" cy="72.9" rx="2.6" ry="2.94" fill="#0ac4f5"/>
<ellipse cx="327.2" cy="89.5" rx="2.6" ry="2.94" fill="#0ac4f5"/>
<ellipse cx="333.3" cy="81.8" rx="2.6" ry="2.94" fill="#0ac4f5"/>
<ellipse cx="359.1" cy="59.5" rx="2.6" ry="2.94" fill="#0ac4f5"/>
<ellipse cx="319.5" cy="97.7" rx="2.6" ry="2.94" fill="#0ac4f5"/>
<ellipse cx="322.6" cy="99.4" rx="2.6" ry="2.94" fill="#0ac4f5"/>
<ellipse cx="356.0" cy="88.4" rx="2.6" ry="2.94" fill="#0ac4f5"/>
<ellipse cx="351.4" cy="79.9" rx="2.6" ry="2.94" fill="#0ac4f5"/>
<ellipse cx="339.7" cy="73.4" rx="2.6" ry="2.94" fill="#0ac4f5"/>
<ellipse cx="318.5" cy="82.4" rx="2.6" ry="2.94" fill="#0ac4f5"/>
<ellipse cx="364.3" cy="81.1" rx="2.6" ry="2.94" fill="#0ac4f5"/>
<ellipse cx="358.3" cy="87.3" rx="2.6" ry="2.94" fill="#0ac4f5"/>
<ellipse cx="363.1" cy="73.2" rx="2.6" ry="2.94" fill="#0ac4f5"/>
<ellipse cx="380.8" cy="62.2" rx="2.6" ry="2.94" fill="#0ac4f5"/>
<ellipse cx="374.6" cy="76.7" rx="2.6" ry="2.94" fill="#0ac4f5"/>
<ellipse cx="307.5" cy="98.9" rx="2.6" ry="2.94" fill="#0ac4f5"/>
<ellipse cx="331.7" cy="80.5" rx="2.6" ry="2.94" fill="#0ac4f5"/>
<ellipse cx="347.9" cy="96.7" rx="2.6" ry="2.94" fill="#0ac4f5"/>
<ellipse cx="320.5" cy="82.8" rx="2.6" ry="2.94" fill="#0ac4f5"/>
<ellipse cx="381.2" cy="59.9" rx="2.6" ry="2.94" fill="#0ac4f5"/>
<ellipse cx="354.0" cy="64.0" rx="2.6" ry="2.94" fill="#0ac4f5"/>
<ellipse cx="356.5" cy="77.5" rx="2.6" ry="2.94" fill="#0ac4f5"/>
<ellipse cx="329.8" cy="75.6" rx="2.6" ry="2.94" fill="#0ac4f5"/>
<ellipse cx="303.3" cy="103.7" rx="2.6" ry="2.94" fill="#0ac4f5"/>
<ellipse cx="345.1" cy="84.3" rx="2.6" ry="2.94" fill="#0ac4f5"/>
<ellipse cx="347.7" cy="83.4" rx="2.6" ry="2.94" fill="#0ac4f5"/>
<ellipse cx="375.6" cy="74.1" rx="2.6" ry="2.94" fill="#0ac4f5"/>
<ellipse cx="380.6" cy="55.3" rx="2.6" ry="2.94" fill="#0ac4f5"/>
<ellipse cx="370.8" cy="82.5" rx="2.6" ry="2.94" fill="#0ac4f5"/>
<ellipse cx="345.3" cy="96.0" rx="2.6" ry="2.94" fill="#0ac4f5"/>
<ellipse cx="357.1" cy="73.6" rx="2.6" ry="2.94" fill="#0ac4f5"/>
<ellipse cx="352.7" cy="61.2" rx="2.6" ry="2.94" fill="#0ac4f5"/>
<ellipse cx="312.6" cy="98.6" rx="2.6" ry="2.94" fill="#0ac4f5"/>
<ellipse cx="358.1" cy="69.3" rx="2.6" ry="2.94" fill="#0ac4f5"/>
<ellipse cx="349.5" cy="91.9" rx="2.6" ry="2.94" fill="#0ac4f5"/>
<ellipse cx="366.6" cy="69.4" rx="2.6" ry="2.94" fill="#0ac4f5"/>
<ellipse cx="367.0" cy="77.4" rx="2.6" ry="2.94" fill="#0ac4f5"/>
<ellipse cx="354.5" cy="73.3" rx="2.6" ry="2.94" fill="#0ac4f5"/>
<ellipse cx="335.0" cy="71.6" rx="2.6" ry="2.94" fill="#0ac4f5"/>
<ellipse cx="349.2" cy="83.1" rx="2.6" ry="2.94" fill="#0ac4f5"/>
<ellipse cx="381.0" cy="70.1" rx="2.6" ry="2.94" fill="#0ac4f5"/>
<ellipse cx="378.0" cy="71.0" rx="2.6" ry="2.94" fill="#0ac4f5"/>
<ellipse cx="384.1" cy="57.1" rx="2.6" ry="2.94" fill="#0ac4f5"/>
<ellipse cx="325.9" cy="104.3" rx="2.6" ry="2.94" fill="#0ac4f5"/>
<ellipse cx="358.2" cy="92.2" rx="2.6" ry="2.94" fill="#0ac4f5"/>
<ellipse cx="386.2" cy="57.6" rx="2.6" ry="2.94" fill="#0ac4f5"/>
<ellipse cx="337.1" cy="103.2" rx="2.6" ry="2.94" fill="#0ac4f5"/>
<ellipse cx="358.1" cy="79.9" rx="2.6" ry="2.94" fill="#0ac4f5"/>
<ellipse cx="341.0" cy="102.4" rx="2.6" ry="2.94" fill="#0ac4f5"/>
<ellipse cx="359.3" cy="79.3" rx="2.6" ry="2.94" fill="#0ac4f5"/>
<ellipse cx="359.7" cy="85.9" rx="2.6" ry="2.94" fill="#0ac4f5"/>
<ellipse cx="312.5" cy="87.7" rx="2.6" ry="2.94" fill="#0ac4f5"/>
<ellipse cx="360.3" cy="81.9" rx="2.6" ry="2.94" fill="#0ac4f5"/>
<ellipse cx="336.8" cy="75.1" rx="2.6" ry="2.94" fill="#0ac4f5"/>
<ellipse cx="314.8" cy="106.0" rx="2.6" ry="2.94" fill="#0ac4f5"/>
<ellipse cx="357.1" cy="61.8" rx="2.6" ry="2.94" fill="#0ac4f5"/>
<ellipse cx="346.9" cy="63.0" rx="2.6" ry="2.94" fill="#0ac4f5"/>
<ellipse cx="326.5" cy="85.7" rx="2.6" ry="2.94" fill="#0ac4f5"/>
<ellipse cx="364.7" cy="80.2" rx="2.6" ry="2.94" fill="#0ac4f5"/>
<ellipse cx="379.6" cy="62.6" rx="2.6" ry="2.94" fill="#0ac4f5"/>
<ellipse cx="304.3" cy="104.7" rx="2.6" ry="2.94" fill="#0ac4f5"/>
<ellipse cx="353.2" cy="91.4" rx="2.6" ry="2.94" fill="#0ac4f5"/>
<ellipse cx="348.3" cy="62.0" rx="2.6" ry="2.94" fill="#0ac4f5"/>
<ellipse cx="381.5" cy="61.9" rx="2.6" ry="2.94" fill="#0ac4f5"/>
<ellipse cx="321.9" cy="83.7" rx="2.6" ry="2.94" fill="#0ac4f5"/>
<ellipse cx="319.3" cy="100.4" rx="2.6" ry="2.94" fill="#0ac4f5"/>
<ellipse cx="358.9" cy="77.0" rx="2.6" ry="2.94" fill="#0ac4f5"/>
<ellipse cx="299.9" cy="98.9" rx="2.6" ry="2.94" fill="#0ac4f5"/>
<ellipse cx="336.9" cy="100.6" rx="2.6" ry="2.94" fill="#0ac4f5"/>
<ellipse cx="381.3" cy="54.4" rx="2.6" ry="2.94" fill="#0ac4f5"/>
<ellipse cx="365.0" cy="61.6" rx="2.6" ry="2.94" fill="#0ac4f5"/>
<ellipse cx="337.3" cy="103.8" rx="2.6" ry="2.94" fill="#0ac4f5"/>
<ellipse cx="323.8" cy="96.9" rx="2.6" ry="2.94" fill="#0ac4f5"/>
<ellipse cx="382.1" cy="55.4" rx="2.6" ry="2.94" fill="#0ac4f5"/>
<ellipse cx="327.4" cy="105.8" rx="2.6" ry="2.94" fill="#0ac4f5"/>
<ellipse cx="321.0" cy="102.0" rx="2.6" ry="2.94" fill="#0ac4f5"/>
<ellipse cx="320.7" cy="92.9" rx="2.6" ry="2.94" fill="#0ac4f5"/>
<ellipse cx="307.2" cy="89.5" rx="2.6" ry="2.94" fill="#0ac4f5"/>
<ellipse cx="311.9" cy="86.1" rx="2.6" ry="2.94" fill="#0ac4f5"/>
<ellipse cx="334.2" cy="105.3" rx="2.6" ry="2.94" fill="#0ac4f5"/>
<ellipse cx="320.1" cy="95.5" rx="2.6" ry="2.94" fill="#0ac4f5"/>
<ellipse cx="317.5" cy="104.4" rx="2.6" ry="2.94" fill="#0ac4f5"/>
<ellipse cx="361.4" cy="89.3" rx="2.6" ry="2.94" fill="#0ac4f5"/>
<ellipse cx="361.0" cy="59.0" rx="2.6" ry="2.94" fill="#0ac4f5"/>
<ellipse cx="379.5" cy="62.5" rx="2.6" ry="2.94" fill="#0ac4f5"/>
<ellipse cx="337.9" cy="91.1" rx="2.6" ry="2.94" fill="#0ac4f5"/>
<ellipse cx="378.1" cy="71.0" rx="2.6" ry="2.94" fill="#0ac4f5"/>
<ellipse cx="332.9" cy="70.9" rx="2.6" ry="2.94" fill="#0ac4f5"/>
<ellipse cx="363.1" cy="63.4" rx="2.6" ry="2.94" fill="#0ac4f5"/>
<ellipse cx="308.3" cy="87.6" rx="2.6" ry="2.94" fill="#0ac4f5"/>
<ellipse cx="339.5" cy="73.2" rx="2.6" ry="2.94" fill="#0ac4f5"/>
<ellipse cx="325.1" cy="72.6" rx="2.6" ry="2.94" fill="#0ac4f5"/>
<ellipse cx="308.7" cy="104.1" rx="2.6" ry="2.94" fill="#0ac4f5"/>
<ellipse cx="364.0" cy="61.8" rx="2.6" ry="2.94" fill="#0ac4f5"/>
<ellipse cx="370.4" cy="82.9" rx="2.6" ry="2.94" fill="#0ac4f5"/>
<ellipse cx="366.5" cy="73.0" rx="2.6" ry="2.94" fill="#0ac4f5"/>
<ellipse cx="312.7" cy="80.9" rx="2.6" ry="2.94" fill="#0ac4f5"/>
<ellipse cx="376.8" cy="56.2" rx="2.6" ry="2.94" fill="#0ac4f5"/>
<ellipse cx="388.6" cy="57.2" rx="2.6" ry="2.94" fill="#0ac4f5"/>
<ellipse cx="369.1" cy="85.3" rx="2.6" ry="2.94" fill="#0ac4f5"/>
<ellipse cx="356.9" cy="80.0" rx="2.6" ry="2.94" fill="#0ac4f5"/>
<ellipse cx="347.5" cy="75.9" rx="2.6" ry="2.94" fill="#0ac4f5"/>
<ellipse cx="355.1" cy="85.7" rx="2.6" ry="2.94" fill="#0ac4f5"/>
<ellipse cx="327.0" cy="92.9" rx="2.6" ry="2.94" fill="#0ac4f5"/>
<ellipse cx="318.0" cy="80.0" rx="2.6" ry="2.94" fill="#0ac4f5"/>
<ellipse cx="345.4" cy="93.3" rx="2.6" ry="2.94" fill="#0ac4f5"/>
<ellipse cx="313.2" cy="87.5" rx="2.6" ry="2.94" fill="#0ac4f5"/>
<ellipse cx="312.0" cy="84.2" rx="2.6" ry="2.94" fill="#0ac4f5"/>
<ellipse cx="317.0" cy="86.2" rx="2.6" ry="2.94" fill="#0ac4f5"/>
<ellipse cx="334.7" cy="77.6" rx="2.6" ry="2.94" fill="#0ac4f5"/>
<ellipse cx="312.8" cy="90.9" rx="2.6" ry="2.94" fill="#0ac4f5"/>
<ellipse cx="342.7" cy="90.8" rx="2.6" ry="2.94" fill="#0ac4f5"/>
<ellipse cx="305.7" cy="105.2" rx="2.6" ry="2.94" fill="#0ac4f5"/>
<ellipse cx="370.1" cy="67.9" rx="2.6" ry="2.94" fill="#0ac4f5"/>
<ellipse cx="363.2" cy="84.4" rx="2.6" ry="2.94" fill="#0ac4f5"/>
<ellipse cx="338.5" cy="87.9" rx="2.6" ry="2.94" fill="#0ac4f5"/>
<ellipse cx="338.9" cy="89.5" rx="2.6" ry="2.94" fill="#0ac4f5"/>
<ellipse cx="356.1" cy="92.1" rx="2.6" ry="2.94" fill="#0ac4f5"/>
<ellipse cx="314.4" cy="102.4" rx="2.6" ry="2.94" fill="#0ac4f5"/>
<ellipse cx="301.8" cy="102.6" rx="2.6" ry="2.94" fill="#0ac4f5"/>
<ellipse cx="338.0" cy="97.1" rx="2.6" ry="2.94" fill="#0ac4f5"/>
<ellipse cx="301.6" cy="105.2" rx="2.6" ry="2.94" fill="#0ac4f5"/>
<ellipse cx="305.8" cy="90.2" rx="2.6" ry="2.94" fill="#0ac4f5"/>
<ellipse cx="355.9" cy="69.1" rx="2.6" ry="2.94" fill="#0ac4f5"/>
<ellipse cx="348.4" cy="91.0" rx="2.6" ry="2.94" fill="#0ac4f5"/>
<ellipse cx="382.9" cy="65.2" rx="2.6" ry="2.94" fill="#0ac4f5"/>
<ellipse cx="341.9" cy="78.6" rx="2.6" ry="2.94" fill="#0ac4f5"/>
<ellipse cx="350.0" cy="77.4" rx="2.6" ry="2.94" fill="#0ac4f5"/>
<ellipse cx="367.0" cy="74.3" rx="2.6" ry="2.94" fill="#0ac4f5"/>
<ellipse cx="374.1" cy="80.8" rx="2.6" ry="2.94" fill="#0ac4f5"/>
<ellipse cx="343.2" cy="87.3" rx="2.6" ry="2.94" fill="#0ac4f5"/>
<ellipse cx="372.6" cy="58.7" rx="2.6" ry="2.94" fill="#0ac4f5"/>
<ellipse cx="344.4" cy="88.9" rx="2.6" ry="2.94" fill="#0ac4f5"/>
<ellipse cx="352.6" cy="79.7" rx="2.6" ry="2.94" fill="#0ac4f5"/>
<ellipse cx="306.0" cy="91.9" rx="2.6" ry="2.94" fill="#c09a0a"/>
<ellipse cx="324.5" cy="90.9" rx="2.6" ry="2.94" fill="#c09a0a"/>
<ellipse cx="333.3" cy="96.0" rx="2.6" ry="2.94" fill="#c09a0a"/>
<ellipse cx="380.7" cy="73.3" rx="2.6" ry="2.94" fill="#c09a0a"/>
<ellipse cx="320.5" cy="97.4" rx="2.6" ry="2.94" fill="#c09a0a"/>
<ellipse cx="355.4" cy="62.1" rx="2.6" ry="2.94" fill="#c09a0a"/>
<ellipse cx="347.8" cy="89.9" rx="2.6" ry="2.94" fill="#c09a0a"/>
<ellipse cx="311.5" cy="89.2" rx="2.6" ry="2.94" fill="#c09a0a"/>
<ellipse cx="360.6" cy="60.0" rx="2.6" ry="2.94" fill="#c09a0a"/>
<ellipse cx="351.4" cy="88.2" rx="2.6" ry="2.94" fill="#c09a0a"/>
<ellipse cx="314.2" cy="78.4" rx="2.6" ry="2.94" fill="#c09a0a"/>
<ellipse cx="316.5" cy="97.1" rx="2.6" ry="2.94" fill="#c09a0a"/>
<ellipse cx="372.9" cy="58.8" rx="2.6" ry="2.94" fill="#c09a0a"/>
<ellipse cx="365.6" cy="60.1" rx="2.6" ry="2.94" fill="#c09a0a"/>
<ellipse cx="341.2" cy="91.0" rx="2.6" ry="2.94" fill="#c09a0a"/>
<ellipse cx="346.3" cy="78.6" rx="2.6" ry="2.94" fill="#c09a0a"/>
<ellipse cx="341.6" cy="77.6" rx="2.6" ry="2.94" fill="#c09a0a"/>
<ellipse cx="340.6" cy="66.8" rx="2.6" ry="2.94" fill="#c09a0a"/>
<ellipse cx="362.1" cy="84.9" rx="2.6" ry="2.94" fill="#c09a0a"/>
<ellipse cx="328.7" cy="84.7" rx="2.6" ry="2.94" fill="#c09a0a"/>
<ellipse cx="384.3" cy="68.2" rx="2.6" ry="2.94" fill="#c09a0a"/>
<ellipse cx="355.1" cy="79.3" rx="2.6" ry="2.94" fill="#c09a0a"/>
<ellipse cx="320.1" cy="74.9" rx="2.6" ry="2.94" fill="#c09a0a"/>
<ellipse cx="322.6" cy="104.6" rx="2.6" ry="2.94" fill="#c09a0a"/>
<ellipse cx="378.1" cy="68.3" rx="2.6" ry="2.94" fill="#c09a0a"/>
<ellipse cx="412.0" cy="40.5" rx="2.6" ry="2.94" fill="#0ac4f5"/>
<ellipse cx="422.6" cy="45.2" rx="2.6" ry="2.94" fill="#0ac4f5"/>
<ellipse cx="418.5" cy="64.5" rx="2.6" ry="2.94" fill="#0ac4f5"/>
<ellipse cx="397.1" cy="58.9" rx="2.6" ry="2.94" fill="#0ac4f5"/>
<ellipse cx="389.9" cy="97.8" rx="2.6" ry="2.94" fill="#0ac4f5"/>
<ellipse cx="402.2" cy="94.7" rx="2.6" ry="2.94" fill="#0ac4f5"/>
<ellipse cx="377.7" cy="89.6" rx="2.6" ry="2.94" fill="#0ac4f5"/>
<ellipse cx="284.6" cy="116.7" rx="2.6" ry="2.94" fill="#0ac4f5"/>
<ellipse cx="284.7" cy="116.5" rx="2.6" ry="2.94" fill="#0ac4f5"/>
<ellipse cx="317.4" cy="109.3" rx="2.6" ry="2.94" fill="#0ac4f5"/>
<ellipse cx="339.9" cy="110.3" rx="2.6" ry="2.94" fill="#0ac4f5"/>
<ellipse cx="333.4" cy="127.3" rx="2.6" ry="2.94" fill="#0ac4f5"/>
<ellipse cx="360.4" cy="117.5" rx="2.6" ry="2.94" fill="#0ac4f5"/>
<ellipse cx="284.4" cy="117.0" rx="2.6" ry="2.94" fill="#0ac4f5"/>
<ellipse cx="333.0" cy="127.5" rx="2.6" ry="2.94" fill="#0ac4f5"/>
<ellipse cx="312.3" cy="86.1" rx="4.8" ry="5.4" fill="none" stroke="#111" stroke-width="1.3"/>
<ellipse cx="336.8" cy="74.3" rx="4.8" ry="5.4" fill="none" stroke="#111" stroke-width="1.3"/>
<ellipse cx="360.3" cy="80.0" rx="4.8" ry="5.4" fill="none" stroke="#111" stroke-width="1.3"/>
<ellipse cx="362.3" cy="76.3" rx="4.8" ry="5.4" fill="none" stroke="#111" stroke-width="1.3"/>
<ellipse cx="372.6" cy="75.3" rx="4.8" ry="5.4" fill="none" stroke="#111" stroke-width="1.3"/>
<ellipse cx="365.8" cy="91.0" rx="4.8" ry="5.4" fill="none" stroke="#111" stroke-width="1.3"/>
<ellipse cx="249.6" cy="151.3" rx="4.8" ry="5.4" fill="none" stroke="#111" stroke-width="1.3"/>
<ellipse cx="270.0" cy="141.0" rx="4.8" ry="5.4" fill="none" stroke="#111" stroke-width="1.3"/>
<ellipse cx="271.3" cy="141.9" rx="4.8" ry="5.4" fill="none" stroke="#111" stroke-width="1.3"/>
<path d="M264.1,165.0L268.4,173.2L272.7,165.0Z" fill="#8a10d0" stroke="#111" stroke-width="1"/>
<path d="M259.6,184.8L263.9,193.0L268.2,184.8Z" fill="#8a10d0" stroke="#111" stroke-width="1"/>
<path d="M263.4,168.1L267.7,176.4L272.1,168.1Z" fill="#8a10d0" stroke="#111" stroke-width="1"/>
<path d="M282.9,156.2L287.2,164.4L291.6,156.2Z" fill="#8a10d0" stroke="#111" stroke-width="1"/>
<path d="M252.2,149.9L256.6,158.1L260.9,149.9Z" fill="#8a10d0" stroke="#111" stroke-width="1"/>
<path d="M260.4,172.1L264.8,180.3L269.1,172.1Z" fill="#8a10d0" stroke="#111" stroke-width="1"/>
<path d="M261.3,181.0L265.6,189.2L270.0,181.0Z" fill="#8a10d0" stroke="#111" stroke-width="1"/>
<path d="M283.2,144.7L287.6,152.9L291.9,144.7Z" fill="#8a10d0" stroke="#111" stroke-width="1"/>
<path d="M273.5,146.3L277.8,154.6L282.1,146.3Z" fill="#8a10d0" stroke="#111" stroke-width="1"/>
<path d="M303.5,140.8L307.8,149.1L312.1,140.8Z" fill="#8a10d0" stroke="#111" stroke-width="1"/>
<path d="M260.5,156.1L264.8,164.3L269.1,156.1Z" fill="#8a10d0" stroke="#111" stroke-width="1"/>
<path d="M275.4,141.2L279.8,149.4L284.1,141.2Z" fill="#8a10d0" stroke="#111" stroke-width="1"/>
<path d="M280.3,166.4L284.7,174.6L289.0,166.4Z" fill="#8a10d0" stroke="#111" stroke-width="1"/>
<path d="M297.9,147.8L302.2,156.1L306.5,147.8Z" fill="#8a10d0" stroke="#111" stroke-width="1"/>
<path d="M262.4,194.6L266.7,202.8L271.0,194.6Z" fill="#8a10d0" stroke="#111" stroke-width="1"/>
<path d="M277.2,143.0L281.5,151.2L285.8,143.0Z" fill="#8a10d0" stroke="#111" stroke-width="1"/>
<path d="M285.9,160.1L290.2,168.3L294.5,160.1Z" fill="#8a10d0" stroke="#111" stroke-width="1"/>
<path d="M293.8,140.9L298.2,149.1L302.5,140.9Z" fill="#8a10d0" stroke="#111" stroke-width="1"/>
<path d="M281.3,164.9L285.7,173.2L290.0,164.9Z" fill="#8a10d0" stroke="#111" stroke-width="1"/>
<path d="M266.0,182.4L270.4,190.6L274.7,182.4Z" fill="#8a10d0" stroke="#111" stroke-width="1"/>
<path d="M271.9,153.7L276.2,161.9L280.5,153.7Z" fill="#8a10d0" stroke="#111" stroke-width="1"/>
<path d="M268.5,171.5L272.8,179.7L277.2,171.5Z" fill="#8a10d0" stroke="#111" stroke-width="1"/>
<path d="M155.5,279.0L159.8,287.2L164.1,279.0Z" fill="#8a10d0" stroke="#111" stroke-width="1"/>
<path d="M217.6,143.5L221.9,151.7L226.2,143.5Z" fill="#a0a0a0" stroke="#111" stroke-width="1"/>
<rect x="230.5" y="143.9" width="8.928" height="9.928" fill="#0b5a1c" stroke="#111" stroke-width="1"/>
<rect x="237.1" y="148.2" width="8.928" height="9.928" fill="#0b5a1c" stroke="#111" stroke-width="1"/>
<path d="M271.6,132.6L275.9,140.8L280.2,132.6Z" fill="#a0a0a0" stroke="#111" stroke-width="1"/>
<path d="M203.0,160.3L207.3,168.5L211.6,160.3Z" fill="#a0a0a0" stroke="#111" stroke-width="1"/>
<rect x="212.3" y="167.2" width="8.928" height="9.928" fill="#0b5a1c" stroke="#111" stroke-width="1"/>
<path d="M221.2,170.5L225.5,178.7L229.8,170.5Z" fill="#8a10d0" stroke="#111" stroke-width="1"/>
<path d="M224.9,175.6L229.2,183.8L233.5,175.6Z" fill="#8a10d0" stroke="#111" stroke-width="1"/>
<path d="M211.0,181.5L215.3,189.7L219.6,181.5Z" fill="#a0a0a0" stroke="#111" stroke-width="1"/>
<path d="M147.0,173.9L151.3,182.1L155.6,173.9Z" fill="#8a10d0" stroke="#111" stroke-width="1"/>
<path d="M158.4,184.3L162.7,192.5L167.0,184.3Z" fill="#a0a0a0" stroke="#111" stroke-width="1"/>
<path d="M189.0,195.7L193.4,187.3L197.8,195.7Z" fill="#fff200" stroke="#111" stroke-width="1" stroke-linejoin="miter"/>
<path d="M175.9,205.8L180.2,214.0L184.5,205.8Z" fill="#8a10d0" stroke="#111" stroke-width="1"/>
<path d="M179.4,209.3L183.7,217.5L188.0,209.3Z" fill="#8a10d0" stroke="#111" stroke-width="1"/>
<path d="M189.0,222.0L193.4,213.6L197.8,222.0Z" fill="#33ee33" stroke="#111" stroke-width="1" stroke-linejoin="miter"/>
<path d="M134.8,220.7L139.1,228.9L143.4,220.7Z" fill="#a0a0a0" stroke="#111" stroke-width="1"/>
<path d="M166.2,238.7L170.6,230.3L175.0,238.7Z" fill="#33ee33" stroke="#111" stroke-width="1" stroke-linejoin="miter"/>
<path d="M140.8,244.8L145.2,236.4L149.6,244.8Z" fill="#33ee33" stroke="#111" stroke-width="1" stroke-linejoin="miter"/>
<path d="M146.0,244.8L150.4,236.4L154.8,244.8Z" fill="#33ee33" stroke="#111" stroke-width="1" stroke-linejoin="miter"/>
<path d="M133.0,241.7L137.3,249.9L141.6,241.7Z" fill="#a0a0a0" stroke="#111" stroke-width="1"/>
<path d="M149.6,252.7L154.0,244.3L158.4,252.7Z" fill="#33ee33" stroke="#111" stroke-width="1" stroke-linejoin="miter"/>
<path d="M45.6,278.6L49.9,286.8L54.2,278.6Z" fill="#a0a0a0" stroke="#111" stroke-width="1"/>
<path d="M134.9,220.8L139.2,229.0L143.5,220.8Z" fill="#a0a0a0" stroke="#111" stroke-width="1"/>
<path d="M133.7,242.5L138.0,250.7L142.3,242.5Z" fill="#a0a0a0" stroke="#111" stroke-width="1"/>
<path d="M130.2,251.8L134.5,260.0L138.8,251.8Z" fill="#8a10d0" stroke="#111" stroke-width="1"/>
<path d="M110.9,257.6L115.2,265.8L119.5,257.6Z" fill="#a0a0a0" stroke="#111" stroke-width="1"/>
<path d="M125.0,260.6L129.3,268.8L133.6,260.6Z" fill="#a0a0a0" stroke="#111" stroke-width="1"/>
<path d="M99.0,266.7L103.3,274.9L107.6,266.7Z" fill="#a0a0a0" stroke="#111" stroke-width="1"/>
<path d="M91.7,278.6L96.0,286.8L100.3,278.6Z" fill="#a0a0a0" stroke="#111" stroke-width="1"/>
<path d="M106.0,283.9L110.3,292.1L114.6,283.9Z" fill="#a0a0a0" stroke="#111" stroke-width="1"/>
<path d="M149.4,254.9L153.8,246.5L158.2,254.9Z" fill="#33ee33" stroke="#111" stroke-width="1" stroke-linejoin="miter"/>
<path d="M211.4,182.0L215.7,190.2L220.0,182.0Z" fill="#a0a0a0" stroke="#111" stroke-width="1"/>
<path d="M213.9,205.2L218.3,196.8L222.7,205.2Z" fill="#33ee33" stroke="#111" stroke-width="1" stroke-linejoin="miter"/>
<path d="M214.8,213.1L219.2,204.7L223.6,213.1Z" fill="#33ee33" stroke="#111" stroke-width="1" stroke-linejoin="miter"/>
<path d="M215.7,222.7L220.1,214.3L224.5,222.7Z" fill="#33ee33" stroke="#111" stroke-width="1" stroke-linejoin="miter"/>
<path d="M220.1,224.5L224.5,216.1L228.9,224.5Z" fill="#33ee33" stroke="#111" stroke-width="1" stroke-linejoin="miter"/>
<path d="M199.9,224.5L204.3,216.1L208.7,224.5Z" fill="#33ee33" stroke="#111" stroke-width="1" stroke-linejoin="miter"/>
<path d="M198.2,230.1L202.6,221.7L207.0,230.1Z" fill="#fff200" stroke="#111" stroke-width="1" stroke-linejoin="miter"/>
<path d="M206.9,226.2L211.3,217.8L215.7,226.2Z" fill="#fff200" stroke="#111" stroke-width="1" stroke-linejoin="miter"/>
<path d="M209.5,223.6L213.9,215.2L218.3,223.6Z" fill="#fff200" stroke="#111" stroke-width="1" stroke-linejoin="miter"/>
<path d="M202.1,229.0L206.5,220.6L210.9,229.0Z" fill="#fff200" stroke="#111" stroke-width="1" stroke-linejoin="miter"/>
<path d="M166.1,238.5L170.5,230.1L174.9,238.5Z" fill="#33ee33" stroke="#111" stroke-width="1" stroke-linejoin="miter"/>
<path d="M174.6,252.1L178.9,260.3L183.2,252.1Z" fill="#a0a0a0" stroke="#111" stroke-width="1"/>
<path d="M218.2,143.2L222.5,151.4L226.8,143.2Z" fill="#a0a0a0" stroke="#111" stroke-width="1"/>
<path d="M204.2,160.7L208.5,168.9L212.8,160.7Z" fill="#a0a0a0" stroke="#111" stroke-width="1"/>
<path d="M258.4,151.0L262.7,159.2L267.0,151.0Z" fill="#8a10d0" stroke="#111" stroke-width="1"/>
<path d="M268.9,154.3L273.2,162.5L277.5,154.3Z" fill="#8a10d0" stroke="#111" stroke-width="1"/>
<path d="M278.8,151.0L283.1,159.2L287.4,151.0Z" fill="#8a10d0" stroke="#111" stroke-width="1"/>
<path d="M289.3,151.0L293.6,159.2L297.9,151.0Z" fill="#8a10d0" stroke="#111" stroke-width="1"/>
<path d="M261.7,157.5L266.0,165.7L270.3,157.5Z" fill="#8a10d0" stroke="#111" stroke-width="1"/>
<path d="M268.3,163.5L272.6,171.7L276.9,163.5Z" fill="#8a10d0" stroke="#111" stroke-width="1"/>
<path d="M274.9,156.9L279.2,165.1L283.5,156.9Z" fill="#8a10d0" stroke="#111" stroke-width="1"/>
<path d="M284.1,152.9L288.4,161.1L292.7,152.9Z" fill="#8a10d0" stroke="#111" stroke-width="1"/>
<path d="M292.6,139.1L296.9,147.3L301.2,139.1Z" fill="#8a10d0" stroke="#111" stroke-width="1"/>
<path d="M264.5,187.3L268.8,195.5L273.1,187.3Z" fill="#8a10d0" stroke="#111" stroke-width="1"/>
<path d="M223.6,176.3L227.9,184.5L232.2,176.3Z" fill="#8a10d0" stroke="#111" stroke-width="1"/>
<path d="M238.2,196.8L242.5,205.0L246.8,196.8Z" fill="#8a10d0" stroke="#111" stroke-width="1"/>
<path d="M228.0,196.8L232.3,205.0L236.6,196.8Z" fill="#8a10d0" stroke="#111" stroke-width="1"/>
<path d="M271.7,145.9L276.0,154.1L280.3,145.9Z" fill="#8a10d0" stroke="#111" stroke-width="1"/>
<path d="M281.7,145.9L286.0,154.1L290.3,145.9Z" fill="#8a10d0" stroke="#111" stroke-width="1"/>
<path d="M257.7,173.9L262.0,182.1L266.3,173.9Z" fill="#8a10d0" stroke="#111" stroke-width="1"/>
<path d="M263.7,180.9L268.0,189.1L272.3,180.9Z" fill="#8a10d0" stroke="#111" stroke-width="1"/>
<path d="M252.7,190.9L257.0,199.1L261.3,190.9Z" fill="#8a10d0" stroke="#111" stroke-width="1"/>
<path d="M243.7,195.9L248.0,204.1L252.3,195.9Z" fill="#8a10d0" stroke="#111" stroke-width="1"/>
<path d="M233.7,198.9L238.0,207.1L242.3,198.9Z" fill="#8a10d0" stroke="#111" stroke-width="1"/>
<path d="M275.7,163.9L280.0,172.1L284.3,163.9Z" fill="#8a10d0" stroke="#111" stroke-width="1"/>
<path d="M285.7,155.9L290.0,164.1L294.3,155.9Z" fill="#8a10d0" stroke="#111" stroke-width="1"/>
<path d="M295.7,145.9L300.0,154.1L304.3,145.9Z" fill="#8a10d0" stroke="#111" stroke-width="1"/>
<path d="M299.7,140.9L304.0,149.1L308.3,140.9Z" fill="#8a10d0" stroke="#111" stroke-width="1"/>
<path d="M250.7,155.9L255.0,164.1L259.3,155.9Z" fill="#8a10d0" stroke="#111" stroke-width="1"/>
<path d="M245.7,161.9L250.0,170.1L254.3,161.9Z" fill="#8a10d0" stroke="#111" stroke-width="1"/>
<path d="M241.7,165.9L246.0,174.1L250.3,165.9Z" fill="#8a10d0" stroke="#111" stroke-width="1"/>
<path d="M235.7,155.9L240.0,164.1L244.3,155.9Z" fill="#8a10d0" stroke="#111" stroke-width="1"/>
<path d="M308.4,120.8L312.7,129.0L317.0,120.8Z" fill="#8a10d0" stroke="#111" stroke-width="1"/>
<path d="M253.7,175.9L258.0,184.1L262.3,175.9Z" fill="#8a10d0" stroke="#111" stroke-width="1"/>
<path d="M259.7,167.9L264.0,176.1L268.3,167.9Z" fill="#8a10d0" stroke="#111" stroke-width="1"/>
<path d="M275.4,150.1L279.8,141.7L284.2,150.1Z" fill="#fff200" stroke="#111" stroke-width="1" stroke-linejoin="miter"/>
<path d="M281.3,152.7L285.7,144.3L290.1,152.7Z" fill="#fff200" stroke="#111" stroke-width="1" stroke-linejoin="miter"/>
<path d="M295.1,153.4L299.5,145.0L303.9,153.4Z" fill="#fff200" stroke="#111" stroke-width="1" stroke-linejoin="miter"/>
<path d="M272.2,158.4L276.6,150.0L281.0,158.4Z" fill="#fff200" stroke="#111" stroke-width="1" stroke-linejoin="miter"/>
<path d="M285.6,156.2L290.0,147.8L294.4,156.2Z" fill="#fff200" stroke="#111" stroke-width="1" stroke-linejoin="miter"/>
<path d="M291.6,139.4L295.7,143.9L291.6,148.4L287.5,143.9Z" fill="#44e0fa" stroke="#111" stroke-width="1"/>
<path d="M293.6,144.7L297.7,149.2L293.6,153.7L289.5,149.2Z" fill="#44e0fa" stroke="#111" stroke-width="1"/>
<path d="M289.9,166.5L294.3,158.1L298.7,166.5Z" fill="#b8900c" stroke="#111" stroke-width="1" stroke-linejoin="miter"/>
<path d="M288.5,166.4L292.9,158.0L297.3,166.4Z" fill="#b8900c" stroke="#111" stroke-width="1" stroke-linejoin="miter"/>
<path d="M303.0,162.6L307.4,154.2L311.8,162.6Z" fill="#33ee33" stroke="#111" stroke-width="1" stroke-linejoin="miter"/>
<path d="M283.3,169.1L287.7,160.7L292.1,169.1Z" fill="#33ee33" stroke="#111" stroke-width="1" stroke-linejoin="miter"/>
<path d="M278.7,171.1L283.1,162.7L287.5,171.1Z" fill="#33ee33" stroke="#111" stroke-width="1" stroke-linejoin="miter"/>
<path d="M262.9,174.4L267.3,166.0L271.7,174.4Z" fill="#33ee33" stroke="#111" stroke-width="1" stroke-linejoin="miter"/>
<path d="M271.0,179.5L275.4,171.1L279.8,179.5Z" fill="#33ee33" stroke="#111" stroke-width="1" stroke-linejoin="miter"/>
<path d="M278.3,170.8L282.7,162.4L287.1,170.8Z" fill="#33ee33" stroke="#111" stroke-width="1" stroke-linejoin="miter"/>
<path d="M283.4,169.3L287.8,160.9L292.2,169.3Z" fill="#33ee33" stroke="#111" stroke-width="1" stroke-linejoin="miter"/>
<path d="M249.1,204.3L253.5,195.9L257.9,204.3Z" fill="#33ee33" stroke="#111" stroke-width="1" stroke-linejoin="miter"/>
<path d="M249.8,204.3L254.2,195.9L258.6,204.3Z" fill="#33ee33" stroke="#111" stroke-width="1" stroke-linejoin="miter"/>
<path d="M221.3,225.5L225.7,217.1L230.1,225.5Z" fill="#33ee33" stroke="#111" stroke-width="1" stroke-linejoin="miter"/>
<path d="M267.6,182.2L272.0,173.8L276.4,182.2Z" fill="#33ee33" stroke="#111" stroke-width="1" stroke-linejoin="miter"/>
<path d="M271.6,186.2L276.0,177.8L280.4,186.2Z" fill="#33ee33" stroke="#111" stroke-width="1" stroke-linejoin="miter"/>
<path d="M272.2,131.9L276.5,140.1L280.8,131.9Z" fill="#a0a0a0" stroke="#111" stroke-width="1"/>
<rect x="233.2" y="168.2" width="7.068" height="7.068" fill="#fff" stroke="#222" stroke-width="1"/>
<line x1="233.17" y1="175.23" x2="240.23" y2="168.17" stroke="#222" stroke-width="1" />
<rect x="245.6" y="167.4" width="7.068" height="7.068" fill="#fff" stroke="#222" stroke-width="1"/>
<line x1="245.57" y1="174.43" x2="252.63" y2="167.37" stroke="#222" stroke-width="1" />
<rect x="232.5" y="175.5" width="7.068" height="7.068" fill="#fff" stroke="#222" stroke-width="1"/>
<line x1="232.47" y1="182.53" x2="239.53" y2="175.47" stroke="#222" stroke-width="1" />
<rect x="241.2" y="174.0" width="7.068" height="7.068" fill="#fff" stroke="#222" stroke-width="1"/>
<line x1="241.17" y1="181.03" x2="248.23" y2="173.97" stroke="#222" stroke-width="1" />
<rect x="230.3" y="187.2" width="7.068" height="7.068" fill="#fff" stroke="#222" stroke-width="1"/>
<line x1="230.27" y1="194.23" x2="237.33" y2="187.17" stroke="#222" stroke-width="1" />
<rect x="237.6" y="187.2" width="7.068" height="7.068" fill="#fff" stroke="#222" stroke-width="1"/>
<line x1="237.57" y1="194.23" x2="244.63" y2="187.17" stroke="#222" stroke-width="1" />
<rect x="247.8" y="184.2" width="7.068" height="7.068" fill="#fff" stroke="#222" stroke-width="1"/>
<line x1="247.77" y1="191.23" x2="254.83" y2="184.17" stroke="#222" stroke-width="1" />
<rect x="256.5" y="178.4" width="7.068" height="7.068" fill="#fff" stroke="#222" stroke-width="1"/>
<line x1="256.47" y1="185.43" x2="263.53" y2="178.37" stroke="#222" stroke-width="1" />
<rect x="260.2" y="176.2" width="7.068" height="7.068" fill="#fff" stroke="#222" stroke-width="1"/>
<line x1="260.17" y1="183.23" x2="267.23" y2="176.17" stroke="#222" stroke-width="1" />
<rect x="245.6" y="158.7" width="7.068" height="7.068" fill="#fff" stroke="#222" stroke-width="1"/>
<line x1="245.57" y1="165.73" x2="252.63" y2="158.67" stroke="#222" stroke-width="1" />
<rect x="239.5" y="181.5" width="7.068" height="7.068" fill="#fff" stroke="#222" stroke-width="1"/>
<line x1="239.47" y1="188.53" x2="246.53" y2="181.47" stroke="#222" stroke-width="1" />
<rect x="251.5" y="172.5" width="7.068" height="7.068" fill="#fff" stroke="#222" stroke-width="1"/>
<line x1="251.47" y1="179.53" x2="258.53" y2="172.47" stroke="#222" stroke-width="1" />
<rect x="236.5" y="162.5" width="7.068" height="7.068" fill="#fff" stroke="#222" stroke-width="1"/>
<line x1="236.47" y1="169.53" x2="243.53" y2="162.47" stroke="#222" stroke-width="1" />
<path d="M253.0,176.3L258.6,165.7L264.2,176.3Z" fill="#0808c8" stroke="#111" stroke-width="1" stroke-linejoin="miter"/>
<rect x="240.1" y="164.8" width="8.512" height="8.512" fill="#fff" stroke="#222" stroke-width="1"/>
<line x1="240.08" y1="173.33" x2="248.59" y2="164.82" stroke="#222" stroke-width="1" />
<rect x="232.6" y="188.7" width="8.512" height="8.512" fill="#fff" stroke="#222" stroke-width="1"/>
<line x1="232.56" y1="197.24" x2="241.07" y2="188.73" stroke="#222" stroke-width="1" />
<rect x="247.0" y="180.9" width="8.512" height="8.512" fill="#fff" stroke="#222" stroke-width="1"/>
<line x1="246.97" y1="189.41" x2="255.48" y2="180.90" stroke="#222" stroke-width="1" />
<rect x="246.1" y="170.2" width="8.512" height="8.512" fill="#fff" stroke="#222" stroke-width="1"/>
<line x1="246.10" y1="178.68" x2="254.61" y2="170.17" stroke="#222" stroke-width="1" />
<rect x="252.4" y="176.9" width="8.512" height="8.512" fill="#fff" stroke="#222" stroke-width="1"/>
<line x1="252.35" y1="185.43" x2="260.86" y2="176.92" stroke="#222" stroke-width="1" />
<rect x="254.1" y="179.9" width="8.512" height="8.512" fill="#fff" stroke="#222" stroke-width="1"/>
<line x1="254.09" y1="188.41" x2="262.60" y2="179.90" stroke="#222" stroke-width="1" />
<rect x="256.1" y="172.1" width="8.512" height="8.512" fill="#fff" stroke="#222" stroke-width="1"/>
<line x1="256.12" y1="180.63" x2="264.63" y2="172.12" stroke="#222" stroke-width="1" />
<rect x="232.2" y="162.0" width="8.512" height="8.512" fill="#fff" stroke="#222" stroke-width="1"/>
<line x1="232.17" y1="170.50" x2="240.68" y2="161.99" stroke="#222" stroke-width="1" />
<rect x="252.1" y="162.6" width="8.512" height="8.512" fill="#fff" stroke="#222" stroke-width="1"/>
<line x1="252.05" y1="171.12" x2="260.57" y2="162.61" stroke="#222" stroke-width="1" />
<rect x="249.7" y="178.5" width="8.512" height="8.512" fill="#fff" stroke="#222" stroke-width="1"/>
<line x1="249.66" y1="186.98" x2="258.17" y2="178.47" stroke="#222" stroke-width="1" />
<rect x="228.8" y="184.2" width="8.512" height="8.512" fill="#fff" stroke="#222" stroke-width="1"/>
<line x1="228.83" y1="192.71" x2="237.34" y2="184.20" stroke="#222" stroke-width="1" />
<rect x="256.2" y="164.3" width="8.512" height="8.512" fill="#fff" stroke="#222" stroke-width="1"/>
<line x1="256.18" y1="172.81" x2="264.69" y2="164.30" stroke="#222" stroke-width="1" />
<rect x="252.2" y="182.4" width="8.512" height="8.512" fill="#fff" stroke="#222" stroke-width="1"/>
<line x1="252.16" y1="190.89" x2="260.67" y2="182.38" stroke="#222" stroke-width="1" />
<rect x="231.1" y="180.2" width="8.512" height="8.512" fill="#fff" stroke="#222" stroke-width="1"/>
<line x1="231.12" y1="188.70" x2="239.63" y2="180.19" stroke="#222" stroke-width="1" />
<rect x="231.1" y="188.7" width="8.512" height="8.512" fill="#fff" stroke="#222" stroke-width="1"/>
<line x1="231.08" y1="197.22" x2="239.59" y2="188.71" stroke="#222" stroke-width="1" />
<rect x="228.6" y="167.9" width="8.512" height="8.512" fill="#fff" stroke="#222" stroke-width="1"/>
<line x1="228.62" y1="176.38" x2="237.13" y2="167.87" stroke="#222" stroke-width="1" />
<rect x="248.4" y="178.0" width="8.512" height="8.512" fill="#fff" stroke="#222" stroke-width="1"/>
<line x1="248.44" y1="186.54" x2="256.95" y2="178.03" stroke="#222" stroke-width="1" />
<rect x="233.1" y="187.8" width="8.512" height="8.512" fill="#fff" stroke="#222" stroke-width="1"/>
<line x1="233.12" y1="196.33" x2="241.63" y2="187.82" stroke="#222" stroke-width="1" />
<rect x="256.4" y="167.3" width="8.512" height="8.512" fill="#fff" stroke="#222" stroke-width="1"/>
<line x1="256.37" y1="175.81" x2="264.88" y2="167.29" stroke="#222" stroke-width="1" />
<rect x="231.9" y="180.1" width="8.512" height="8.512" fill="#fff" stroke="#222" stroke-width="1"/>
<line x1="231.85" y1="188.62" x2="240.36" y2="180.11" stroke="#222" stroke-width="1" />
<rect x="241.0" y="180.0" width="8.512" height="8.512" fill="#fff" stroke="#222" stroke-width="1"/>
<line x1="241.00" y1="188.47" x2="249.51" y2="179.96" stroke="#222" stroke-width="1" />
<rect x="244.0" y="170.6" width="8.512" height="8.512" fill="#fff" stroke="#222" stroke-width="1"/>
<line x1="244.01" y1="179.07" x2="252.52" y2="170.56" stroke="#222" stroke-width="1" />
<path d="M253.0,176.3L258.6,165.7L264.2,176.3Z" fill="#0808c8" stroke="#111" stroke-width="1" stroke-linejoin="miter"/>
<path d="M229,159.8L235.8,166.5L229,173.2L222.2,166.5Z" fill="#000"/>
<rect x="191.60" y="203.30" width="14.40" height="15.20" fill="#000" stroke="none" stroke-width="1" />
<path d="M199,247.8L205.8,234.8L212.6,247.8Z" fill="#000"/>
<circle cx="339" cy="97.5" r="6.8" fill="#000"/>
<line x1="168.70" y1="152.20" x2="222.00" y2="163.30" stroke="#111" stroke-width="1" />
<path d="M226,164.2L217.5,158.8L219.5,163L216.5,166.8Z" fill="#000"/>
<text transform="translate(126.91,157.50) scale(0.895,1)" font-size="11.8" font-weight="bold" font-style="normal" fill="#111" stroke="#111" stroke-width="0.35">E_Morb</text>
<text transform="translate(171.85,200.30) scale(0.836,1)" font-size="12" font-weight="bold" font-style="normal" fill="#111" stroke="#111" stroke-width="0.35">PM</text>
<text transform="translate(200.33,262.30) scale(0.874,1)" font-size="11.8" font-weight="bold" font-style="normal" fill="#111" stroke="#111" stroke-width="0.35">N_Morb</text>
<text transform="translate(337.67,121.60) scale(0.903,1)" font-size="11.8" font-weight="bold" font-style="normal" fill="#111" stroke="#111" stroke-width="0.35">OIB</text>
<text transform="translate(68.37,310.80) scale(1.025,1)" font-size="10.5" font-weight="bold" font-style="normal" fill="#111" stroke="#111" stroke-width="0.35">+ΔNb</text>
<line x1="83.00" y1="335.00" x2="83.00" y2="318.00" stroke="#222" stroke-width="1.2" />
<path d="M83,312.5L86.3,322.6L83,320.5L79.7,322.6Z" fill="#111"/>
<text transform="translate(384.35,91.60) scale(0.973,1)" font-size="11.5" font-weight="bold" font-style="normal" fill="#111" stroke="#111" stroke-width="0.35">−ΔNb</text>
<line x1="396.00" y1="52.20" x2="396.00" y2="75.00" stroke="#222" stroke-width="1.2" />
<path d="M396,81L392.7,70.9L396,73L399.3,70.9Z" fill="#111"/>
<line x1="35.00" y1="304.80" x2="372.10" y2="8.90" stroke="#111" stroke-width="1.2" />
<line x1="73.70" y1="343.90" x2="436.80" y2="17.00" stroke="#111" stroke-width="1.2" />
<line x1="105.50" y1="343.90" x2="105.50" y2="336.90" stroke="#111" stroke-width="1" />
<line x1="105.50" y1="8.70" x2="105.50" y2="15.70" stroke="#111" stroke-width="1" />
<line x1="342.30" y1="343.90" x2="342.30" y2="336.90" stroke="#111" stroke-width="1" />
<line x1="342.30" y1="8.70" x2="342.30" y2="15.70" stroke="#111" stroke-width="1" />
<line x1="52.97" y1="343.90" x2="52.97" y2="339.90" stroke="#111" stroke-width="1" />
<line x1="52.97" y1="8.70" x2="52.97" y2="12.70" stroke="#111" stroke-width="1" />
<line x1="68.82" y1="343.90" x2="68.82" y2="339.90" stroke="#111" stroke-width="1" />
<line x1="68.82" y1="8.70" x2="68.82" y2="12.70" stroke="#111" stroke-width="1" />
<line x1="82.55" y1="343.90" x2="82.55" y2="339.90" stroke="#111" stroke-width="1" />
<line x1="82.55" y1="8.70" x2="82.55" y2="12.70" stroke="#111" stroke-width="1" />
<line x1="94.66" y1="343.90" x2="94.66" y2="339.90" stroke="#111" stroke-width="1" />
<line x1="94.66" y1="8.70" x2="94.66" y2="12.70" stroke="#111" stroke-width="1" />
<line x1="176.78" y1="343.90" x2="176.78" y2="339.90" stroke="#111" stroke-width="1" />
<line x1="176.78" y1="8.70" x2="176.78" y2="12.70" stroke="#111" stroke-width="1" />
<line x1="218.48" y1="343.90" x2="218.48" y2="339.90" stroke="#111" stroke-width="1" />
<line x1="218.48" y1="8.70" x2="218.48" y2="12.70" stroke="#111" stroke-width="1" />
<line x1="248.07" y1="343.90" x2="248.07" y2="339.90" stroke="#111" stroke-width="1" />
<line x1="248.07" y1="8.70" x2="248.07" y2="12.70" stroke="#111" stroke-width="1" />
<line x1="271.02" y1="343.90" x2="271.02" y2="339.90" stroke="#111" stroke-width="1" />
<line x1="271.02" y1="8.70" x2="271.02" y2="12.70" stroke="#111" stroke-width="1" />
<line x1="289.77" y1="343.90" x2="289.77" y2="339.90" stroke="#111" stroke-width="1" />
<line x1="289.77" y1="8.70" x2="289.77" y2="12.70" stroke="#111" stroke-width="1" />
<line x1="305.62" y1="343.90" x2="305.62" y2="339.90" stroke="#111" stroke-width="1" />
<line x1="305.62" y1="8.70" x2="305.62" y2="12.70" stroke="#111" stroke-width="1" />
<line x1="319.35" y1="343.90" x2="319.35" y2="339.90" stroke="#111" stroke-width="1" />
<line x1="319.35" y1="8.70" x2="319.35" y2="12.70" stroke="#111" stroke-width="1" />
<line x1="331.46" y1="343.90" x2="331.46" y2="339.90" stroke="#111" stroke-width="1" />
<line x1="331.46" y1="8.70" x2="331.46" y2="12.70" stroke="#111" stroke-width="1" />
<line x1="413.58" y1="343.90" x2="413.58" y2="339.90" stroke="#111" stroke-width="1" />
<line x1="413.58" y1="8.70" x2="413.58" y2="12.70" stroke="#111" stroke-width="1" />
<line x1="34.80" y1="8.70" x2="41.80" y2="8.70" stroke="#111" stroke-width="1" />
<line x1="436.80" y1="8.70" x2="429.80" y2="8.70" stroke="#111" stroke-width="1" />
<line x1="34.80" y1="120.43" x2="41.80" y2="120.43" stroke="#111" stroke-width="1" />
<line x1="436.80" y1="120.43" x2="429.80" y2="120.43" stroke="#111" stroke-width="1" />
<line x1="34.80" y1="232.16" x2="41.80" y2="232.16" stroke="#111" stroke-width="1" />
<line x1="436.80" y1="232.16" x2="429.80" y2="232.16" stroke="#111" stroke-width="1" />
<line x1="34.80" y1="343.89" x2="41.80" y2="343.89" stroke="#111" stroke-width="1" />
<line x1="436.80" y1="343.89" x2="429.80" y2="343.89" stroke="#111" stroke-width="1" />
<line x1="34.80" y1="310.26" x2="38.80" y2="310.26" stroke="#111" stroke-width="1" />
<line x1="436.80" y1="310.26" x2="432.80" y2="310.26" stroke="#111" stroke-width="1" />
<line x1="34.80" y1="290.58" x2="38.80" y2="290.58" stroke="#111" stroke-width="1" />
<line x1="436.80" y1="290.58" x2="432.80" y2="290.58" stroke="#111" stroke-width="1" />
<line x1="34.80" y1="276.62" x2="38.80" y2="276.62" stroke="#111" stroke-width="1" />
<line x1="436.80" y1="276.62" x2="432.80" y2="276.62" stroke="#111" stroke-width="1" />
<line x1="34.80" y1="265.79" x2="38.80" y2="265.79" stroke="#111" stroke-width="1" />
<line x1="436.80" y1="265.79" x2="432.80" y2="265.79" stroke="#111" stroke-width="1" />
<line x1="34.80" y1="256.95" x2="38.80" y2="256.95" stroke="#111" stroke-width="1" />
<line x1="436.80" y1="256.95" x2="432.80" y2="256.95" stroke="#111" stroke-width="1" />
<line x1="34.80" y1="249.47" x2="38.80" y2="249.47" stroke="#111" stroke-width="1" />
<line x1="436.80" y1="249.47" x2="432.80" y2="249.47" stroke="#111" stroke-width="1" />
<line x1="34.80" y1="242.99" x2="38.80" y2="242.99" stroke="#111" stroke-width="1" />
<line x1="436.80" y1="242.99" x2="432.80" y2="242.99" stroke="#111" stroke-width="1" />
<line x1="34.80" y1="237.27" x2="38.80" y2="237.27" stroke="#111" stroke-width="1" />
<line x1="436.80" y1="237.27" x2="432.80" y2="237.27" stroke="#111" stroke-width="1" />
<line x1="34.80" y1="198.53" x2="38.80" y2="198.53" stroke="#111" stroke-width="1" />
<line x1="436.80" y1="198.53" x2="432.80" y2="198.53" stroke="#111" stroke-width="1" />
<line x1="34.80" y1="178.85" x2="38.80" y2="178.85" stroke="#111" stroke-width="1" />
<line x1="436.80" y1="178.85" x2="432.80" y2="178.85" stroke="#111" stroke-width="1" />
<line x1="34.80" y1="164.89" x2="38.80" y2="164.89" stroke="#111" stroke-width="1" />
<line x1="436.80" y1="164.89" x2="432.80" y2="164.89" stroke="#111" stroke-width="1" />
<line x1="34.80" y1="154.06" x2="38.80" y2="154.06" stroke="#111" stroke-width="1" />
<line x1="436.80" y1="154.06" x2="432.80" y2="154.06" stroke="#111" stroke-width="1" />
<line x1="34.80" y1="145.22" x2="38.80" y2="145.22" stroke="#111" stroke-width="1" />
<line x1="436.80" y1="145.22" x2="432.80" y2="145.22" stroke="#111" stroke-width="1" />
<line x1="34.80" y1="137.74" x2="38.80" y2="137.74" stroke="#111" stroke-width="1" />
<line x1="436.80" y1="137.74" x2="432.80" y2="137.74" stroke="#111" stroke-width="1" />
<line x1="34.80" y1="131.26" x2="38.80" y2="131.26" stroke="#111" stroke-width="1" />
<line x1="436.80" y1="131.26" x2="432.80" y2="131.26" stroke="#111" stroke-width="1" />
<line x1="34.80" y1="125.54" x2="38.80" y2="125.54" stroke="#111" stroke-width="1" />
<line x1="436.80" y1="125.54" x2="432.80" y2="125.54" stroke="#111" stroke-width="1" />
<line x1="34.80" y1="86.80" x2="38.80" y2="86.80" stroke="#111" stroke-width="1" />
<line x1="436.80" y1="86.80" x2="432.80" y2="86.80" stroke="#111" stroke-width="1" />
<line x1="34.80" y1="67.12" x2="38.80" y2="67.12" stroke="#111" stroke-width="1" />
<line x1="436.80" y1="67.12" x2="432.80" y2="67.12" stroke="#111" stroke-width="1" />
<line x1="34.80" y1="53.16" x2="38.80" y2="53.16" stroke="#111" stroke-width="1" />
<line x1="436.80" y1="53.16" x2="432.80" y2="53.16" stroke="#111" stroke-width="1" />
<line x1="34.80" y1="42.33" x2="38.80" y2="42.33" stroke="#111" stroke-width="1" />
<line x1="436.80" y1="42.33" x2="432.80" y2="42.33" stroke="#111" stroke-width="1" />
<line x1="34.80" y1="33.49" x2="38.80" y2="33.49" stroke="#111" stroke-width="1" />
<line x1="436.80" y1="33.49" x2="432.80" y2="33.49" stroke="#111" stroke-width="1" />
<line x1="34.80" y1="26.01" x2="38.80" y2="26.01" stroke="#111" stroke-width="1" />
<line x1="436.80" y1="26.01" x2="432.80" y2="26.01" stroke="#111" stroke-width="1" />
<line x1="34.80" y1="19.53" x2="38.80" y2="19.53" stroke="#111" stroke-width="1" />
<line x1="436.80" y1="19.53" x2="432.80" y2="19.53" stroke="#111" stroke-width="1" />
<line x1="34.80" y1="13.81" x2="38.80" y2="13.81" stroke="#111" stroke-width="1" />
<line x1="436.80" y1="13.81" x2="432.80" y2="13.81" stroke="#111" stroke-width="1" />
<rect x="330.50" y="130.50" width="106.30" height="213.40" fill="#fff" stroke="#222" stroke-width="1.2" />
<rect x="34.80" y="8.70" width="402.00" height="335.20" fill="none" stroke="#222" stroke-width="1.3" />
<rect x="33.80" y="579.80" width="266.70" height="174.20" fill="#dcdddd" stroke="none" stroke-width="1" />
<ellipse cx="349.6" cy="521.8" rx="2.5" ry="2.75" fill="#c09a0a"/>
<ellipse cx="343.1" cy="499.8" rx="2.5" ry="2.75" fill="#c09a0a"/>
<ellipse cx="308.0" cy="523.3" rx="2.5" ry="2.75" fill="#c09a0a"/>
<ellipse cx="311.0" cy="524.1" rx="2.5" ry="2.75" fill="#c09a0a"/>
<ellipse cx="361.8" cy="521.6" rx="2.5" ry="2.75" fill="#c09a0a"/>
<ellipse cx="341.3" cy="545.1" rx="2.5" ry="2.75" fill="#c09a0a"/>
<ellipse cx="369.4" cy="534.2" rx="2.5" ry="2.75" fill="#c09a0a"/>
<ellipse cx="356.4" cy="536.6" rx="2.5" ry="2.75" fill="#c09a0a"/>
<ellipse cx="389.0" cy="517.2" rx="2.5" ry="2.75" fill="#c09a0a"/>
<ellipse cx="367.0" cy="517.7" rx="2.5" ry="2.75" fill="#c09a0a"/>
<ellipse cx="347.5" cy="539.5" rx="2.5" ry="2.75" fill="#c09a0a"/>
<ellipse cx="337.3" cy="543.8" rx="2.5" ry="2.75" fill="#c09a0a"/>
<ellipse cx="349.4" cy="523.6" rx="2.5" ry="2.75" fill="#c09a0a"/>
<ellipse cx="354.8" cy="503.7" rx="2.5" ry="2.75" fill="#c09a0a"/>
<ellipse cx="306.6" cy="514.3" rx="2.5" ry="2.75" fill="#c09a0a"/>
<ellipse cx="372.9" cy="504.7" rx="2.5" ry="2.75" fill="#c09a0a"/>
<ellipse cx="347.6" cy="551.5" rx="2.5" ry="2.75" fill="#c09a0a"/>
<ellipse cx="322.4" cy="517.7" rx="2.5" ry="2.75" fill="#c09a0a"/>
<ellipse cx="318.0" cy="512.9" rx="2.5" ry="2.75" fill="#c09a0a"/>
<ellipse cx="368.9" cy="531.2" rx="2.5" ry="2.75" fill="#c09a0a"/>
<ellipse cx="314.9" cy="498.0" rx="2.5" ry="2.75" fill="#c09a0a"/>
<ellipse cx="369.5" cy="543.0" rx="2.5" ry="2.75" fill="#c09a0a"/>
<ellipse cx="374.2" cy="507.9" rx="2.5" ry="2.75" fill="#c09a0a"/>
<ellipse cx="344.7" cy="558.9" rx="2.5" ry="2.75" fill="#c09a0a"/>
<ellipse cx="349.6" cy="560.9" rx="2.5" ry="2.75" fill="#c09a0a"/>
<ellipse cx="293.8" cy="521.2" rx="2.5" ry="2.75" fill="#c09a0a"/>
<ellipse cx="344.0" cy="564.1" rx="2.5" ry="2.75" fill="#c09a0a"/>
<ellipse cx="365.9" cy="516.0" rx="2.5" ry="2.75" fill="#c09a0a"/>
<ellipse cx="389.3" cy="518.3" rx="2.5" ry="2.75" fill="#c09a0a"/>
<ellipse cx="336.5" cy="504.7" rx="2.5" ry="2.75" fill="#c09a0a"/>
<ellipse cx="343.0" cy="502.7" rx="2.5" ry="2.75" fill="#c09a0a"/>
<ellipse cx="344.5" cy="551.0" rx="2.5" ry="2.75" fill="#c09a0a"/>
<ellipse cx="314.3" cy="521.6" rx="2.5" ry="2.75" fill="#c09a0a"/>
<ellipse cx="381.7" cy="523.4" rx="2.5" ry="2.75" fill="#c09a0a"/>
<ellipse cx="323.6" cy="556.9" rx="2.5" ry="2.75" fill="#c09a0a"/>
<ellipse cx="372.6" cy="557.1" rx="2.5" ry="2.75" fill="#c09a0a"/>
<ellipse cx="359.5" cy="520.9" rx="2.5" ry="2.75" fill="#c09a0a"/>
<ellipse cx="360.1" cy="552.2" rx="2.5" ry="2.75" fill="#c09a0a"/>
<ellipse cx="354.5" cy="507.9" rx="2.5" ry="2.75" fill="#c09a0a"/>
<ellipse cx="318.7" cy="520.7" rx="2.5" ry="2.75" fill="#c09a0a"/>
<ellipse cx="368.3" cy="531.8" rx="2.5" ry="2.75" fill="#c09a0a"/>
<ellipse cx="345.2" cy="552.0" rx="2.5" ry="2.75" fill="#c09a0a"/>
<ellipse cx="299.3" cy="537.3" rx="2.5" ry="2.75" fill="#c09a0a"/>
<ellipse cx="322.6" cy="532.0" rx="2.5" ry="2.75" fill="#c09a0a"/>
<ellipse cx="374.9" cy="508.6" rx="2.5" ry="2.75" fill="#c09a0a"/>
<ellipse cx="346.5" cy="530.6" rx="2.5" ry="2.75" fill="#c09a0a"/>
<ellipse cx="312.4" cy="532.1" rx="2.5" ry="2.75" fill="#c09a0a"/>
<ellipse cx="337.0" cy="523.7" rx="2.5" ry="2.75" fill="#c09a0a"/>
<ellipse cx="327.2" cy="548.9" rx="2.5" ry="2.75" fill="#c09a0a"/>
<ellipse cx="302.8" cy="555.1" rx="2.5" ry="2.75" fill="#c09a0a"/>
<ellipse cx="308.6" cy="539.5" rx="2.5" ry="2.75" fill="#c09a0a"/>
<ellipse cx="350.5" cy="527.5" rx="2.5" ry="2.75" fill="#c09a0a"/>
<ellipse cx="313.2" cy="545.4" rx="2.5" ry="2.75" fill="#c09a0a"/>
<ellipse cx="366.0" cy="529.4" rx="2.5" ry="2.75" fill="#c09a0a"/>
<ellipse cx="339.0" cy="513.7" rx="2.5" ry="2.75" fill="#c09a0a"/>
<ellipse cx="346.1" cy="504.1" rx="2.5" ry="2.75" fill="#c09a0a"/>
<ellipse cx="364.7" cy="513.4" rx="2.5" ry="2.75" fill="#c09a0a"/>
<ellipse cx="372.0" cy="535.3" rx="2.5" ry="2.75" fill="#c09a0a"/>
<ellipse cx="338.3" cy="506.8" rx="2.5" ry="2.75" fill="#c09a0a"/>
<ellipse cx="378.8" cy="521.2" rx="2.5" ry="2.75" fill="#c09a0a"/>
<ellipse cx="307.7" cy="546.8" rx="2.5" ry="2.75" fill="#c09a0a"/>
<ellipse cx="334.3" cy="531.7" rx="2.5" ry="2.75" fill="#c09a0a"/>
<ellipse cx="324.5" cy="527.8" rx="2.5" ry="2.75" fill="#c09a0a"/>
<ellipse cx="371.1" cy="513.6" rx="2.5" ry="2.75" fill="#c09a0a"/>
<ellipse cx="363.5" cy="512.1" rx="2.5" ry="2.75" fill="#c09a0a"/>
<ellipse cx="361.2" cy="543.7" rx="2.5" ry="2.75" fill="#c09a0a"/>
<ellipse cx="345.7" cy="541.8" rx="2.5" ry="2.75" fill="#c09a0a"/>
<ellipse cx="304.8" cy="527.4" rx="2.5" ry="2.75" fill="#c09a0a"/>
<ellipse cx="367.7" cy="511.7" rx="2.5" ry="2.75" fill="#c09a0a"/>
<ellipse cx="330.4" cy="521.0" rx="2.5" ry="2.75" fill="#c09a0a"/>
<ellipse cx="334.2" cy="522.2" rx="2.5" ry="2.75" fill="#c09a0a"/>
<ellipse cx="382.6" cy="522.2" rx="2.5" ry="2.75" fill="#c09a0a"/>
<ellipse cx="338.1" cy="528.2" rx="2.5" ry="2.75" fill="#c09a0a"/>
<ellipse cx="343.0" cy="542.8" rx="2.5" ry="2.75" fill="#c09a0a"/>
<ellipse cx="313.7" cy="534.9" rx="2.5" ry="2.75" fill="#c09a0a"/>
<ellipse cx="343.5" cy="535.7" rx="2.5" ry="2.75" fill="#c09a0a"/>
<ellipse cx="310.0" cy="509.9" rx="2.5" ry="2.75" fill="#c09a0a"/>
<ellipse cx="325.0" cy="553.0" rx="2.5" ry="2.75" fill="#c09a0a"/>
<ellipse cx="324.8" cy="534.2" rx="2.5" ry="2.75" fill="#c09a0a"/>
<ellipse cx="321.2" cy="506.1" rx="2.5" ry="2.75" fill="#c09a0a"/>
<ellipse cx="299.8" cy="546.6" rx="2.5" ry="2.75" fill="#c09a0a"/>
<ellipse cx="363.2" cy="521.6" rx="2.5" ry="2.75" fill="#c09a0a"/>
<ellipse cx="354.9" cy="538.7" rx="2.5" ry="2.75" fill="#c09a0a"/>
<ellipse cx="372.7" cy="528.2" rx="2.5" ry="2.75" fill="#c09a0a"/>
<ellipse cx="327.4" cy="514.3" rx="2.5" ry="2.75" fill="#c09a0a"/>
<ellipse cx="372.1" cy="509.5" rx="2.5" ry="2.75" fill="#c09a0a"/>
<ellipse cx="300.1" cy="546.1" rx="2.5" ry="2.75" fill="#c09a0a"/>
<ellipse cx="362.9" cy="527.7" rx="2.5" ry="2.75" fill="#c09a0a"/>
<ellipse cx="368.6" cy="503.2" rx="2.5" ry="2.75" fill="#c09a0a"/>
<ellipse cx="316.9" cy="516.7" rx="2.5" ry="2.75" fill="#c09a0a"/>
<ellipse cx="331.3" cy="509.9" rx="2.5" ry="2.75" fill="#c09a0a"/>
<ellipse cx="300.1" cy="519.5" rx="2.5" ry="2.75" fill="#c09a0a"/>
<ellipse cx="360.4" cy="527.5" rx="2.5" ry="2.75" fill="#c09a0a"/>
<ellipse cx="316.4" cy="554.9" rx="2.5" ry="2.75" fill="#c09a0a"/>
<ellipse cx="340.8" cy="541.7" rx="2.5" ry="2.75" fill="#c09a0a"/>
<ellipse cx="372.5" cy="534.5" rx="2.5" ry="2.75" fill="#c09a0a"/>
<ellipse cx="331.9" cy="533.3" rx="2.5" ry="2.75" fill="#c09a0a"/>
<ellipse cx="369.7" cy="517.8" rx="2.5" ry="2.75" fill="#c09a0a"/>
<ellipse cx="341.6" cy="515.9" rx="2.5" ry="2.75" fill="#c09a0a"/>
<ellipse cx="296.0" cy="534.0" rx="2.5" ry="2.75" fill="#c09a0a"/>
<ellipse cx="351.3" cy="548.7" rx="2.5" ry="2.75" fill="#c09a0a"/>
<ellipse cx="346.0" cy="514.9" rx="2.5" ry="2.75" fill="#c09a0a"/>
<ellipse cx="330.1" cy="554.8" rx="2.5" ry="2.75" fill="#c09a0a"/>
<ellipse cx="374.7" cy="507.8" rx="2.5" ry="2.75" fill="#c09a0a"/>
<ellipse cx="296.2" cy="525.7" rx="2.5" ry="2.75" fill="#c09a0a"/>
<ellipse cx="306.5" cy="549.6" rx="2.5" ry="2.75" fill="#c09a0a"/>
<ellipse cx="352.4" cy="507.4" rx="2.5" ry="2.75" fill="#c09a0a"/>
<ellipse cx="341.9" cy="518.7" rx="2.5" ry="2.75" fill="#c09a0a"/>
<ellipse cx="338.0" cy="512.7" rx="2.5" ry="2.75" fill="#c09a0a"/>
<ellipse cx="308.7" cy="510.7" rx="2.5" ry="2.75" fill="#c09a0a"/>
<ellipse cx="327.6" cy="540.7" rx="2.5" ry="2.75" fill="#c09a0a"/>
<ellipse cx="343.0" cy="502.8" rx="2.5" ry="2.75" fill="#c09a0a"/>
<ellipse cx="357.3" cy="550.0" rx="2.5" ry="2.75" fill="#c09a0a"/>
<ellipse cx="363.0" cy="545.3" rx="2.5" ry="2.75" fill="#c09a0a"/>
<ellipse cx="299.6" cy="543.7" rx="2.5" ry="2.75" fill="#c09a0a"/>
<ellipse cx="309.5" cy="540.8" rx="2.5" ry="2.75" fill="#c09a0a"/>
<ellipse cx="316.5" cy="539.9" rx="2.5" ry="2.75" fill="#c09a0a"/>
<ellipse cx="328.6" cy="517.8" rx="2.5" ry="2.75" fill="#c09a0a"/>
<ellipse cx="374.2" cy="517.0" rx="2.5" ry="2.75" fill="#c09a0a"/>
<ellipse cx="338.8" cy="531.5" rx="2.5" ry="2.75" fill="#c09a0a"/>
<ellipse cx="378.5" cy="505.8" rx="2.5" ry="2.75" fill="#c09a0a"/>
<ellipse cx="347.5" cy="529.2" rx="2.5" ry="2.75" fill="#c09a0a"/>
<ellipse cx="321.6" cy="540.1" rx="2.5" ry="2.75" fill="#c09a0a"/>
<ellipse cx="340.8" cy="532.2" rx="2.5" ry="2.75" fill="#c09a0a"/>
<ellipse cx="299.6" cy="546.6" rx="2.5" ry="2.75" fill="#c09a0a"/>
<ellipse cx="381.0" cy="520.4" rx="2.5" ry="2.75" fill="#c09a0a"/>
<ellipse cx="300.4" cy="546.6" rx="2.5" ry="2.75" fill="#c09a0a"/>
<ellipse cx="361.7" cy="525.7" rx="2.5" ry="2.75" fill="#c09a0a"/>
<ellipse cx="349.3" cy="501.3" rx="2.5" ry="2.75" fill="#c09a0a"/>
<ellipse cx="351.4" cy="525.4" rx="2.5" ry="2.75" fill="#c09a0a"/>
<ellipse cx="340.1" cy="522.4" rx="2.5" ry="2.75" fill="#c09a0a"/>
<ellipse cx="329.7" cy="513.1" rx="2.5" ry="2.75" fill="#c09a0a"/>
<ellipse cx="298.3" cy="524.9" rx="2.5" ry="2.75" fill="#c09a0a"/>
<ellipse cx="315.9" cy="540.3" rx="2.5" ry="2.75" fill="#c09a0a"/>
<ellipse cx="366.8" cy="541.5" rx="2.5" ry="2.75" fill="#c09a0a"/>
<ellipse cx="334.6" cy="513.7" rx="2.5" ry="2.75" fill="#c09a0a"/>
<ellipse cx="328.3" cy="527.9" rx="2.5" ry="2.75" fill="#c09a0a"/>
<ellipse cx="301.5" cy="527.5" rx="2.5" ry="2.75" fill="#c09a0a"/>
<ellipse cx="337.8" cy="541.1" rx="2.5" ry="2.75" fill="#c09a0a"/>
<ellipse cx="349.8" cy="543.4" rx="2.5" ry="2.75" fill="#c09a0a"/>
<ellipse cx="353.5" cy="549.2" rx="2.5" ry="2.75" fill="#c09a0a"/>
<ellipse cx="356.3" cy="539.1" rx="2.5" ry="2.75" fill="#c09a0a"/>
<ellipse cx="315.8" cy="552.5" rx="2.5" ry="2.75" fill="#c09a0a"/>
<ellipse cx="328.3" cy="535.2" rx="2.5" ry="2.75" fill="#c09a0a"/>
<ellipse cx="321.8" cy="518.0" rx="2.5" ry="2.75" fill="#c09a0a"/>
<ellipse cx="328.8" cy="508.5" rx="2.5" ry="2.75" fill="#c09a0a"/>
<ellipse cx="343.2" cy="504.7" rx="2.5" ry="2.75" fill="#c09a0a"/>
<ellipse cx="320.9" cy="554.0" rx="2.5" ry="2.75" fill="#c09a0a"/>
<ellipse cx="360.1" cy="526.6" rx="2.5" ry="2.75" fill="#c09a0a"/>
<ellipse cx="356.7" cy="511.9" rx="2.5" ry="2.75" fill="#c09a0a"/>
<ellipse cx="323.8" cy="536.8" rx="2.5" ry="2.75" fill="#c09a0a"/>
<ellipse cx="354.7" cy="515.1" rx="2.5" ry="2.75" fill="#c09a0a"/>
<ellipse cx="378.8" cy="518.6" rx="2.5" ry="2.75" fill="#c09a0a"/>
<ellipse cx="316.6" cy="548.4" rx="2.5" ry="2.75" fill="#c09a0a"/>
<ellipse cx="307.6" cy="539.0" rx="2.5" ry="2.75" fill="#c09a0a"/>
<ellipse cx="311.7" cy="534.3" rx="2.5" ry="2.75" fill="#c09a0a"/>
<ellipse cx="318.6" cy="521.8" rx="2.5" ry="2.75" fill="#c09a0a"/>
<ellipse cx="377.8" cy="526.8" rx="2.5" ry="2.75" fill="#c09a0a"/>
<ellipse cx="332.9" cy="535.4" rx="2.5" ry="2.75" fill="#c09a0a"/>
<ellipse cx="318.9" cy="510.1" rx="2.5" ry="2.75" fill="#c09a0a"/>
<ellipse cx="328.2" cy="515.7" rx="2.5" ry="2.75" fill="#c09a0a"/>
<ellipse cx="310.7" cy="555.0" rx="2.5" ry="2.75" fill="#c09a0a"/>
<ellipse cx="295.6" cy="528.8" rx="2.5" ry="2.75" fill="#c09a0a"/>
<ellipse cx="297.4" cy="534.8" rx="2.5" ry="2.75" fill="#c09a0a"/>
<ellipse cx="356.4" cy="513.9" rx="2.5" ry="2.75" fill="#c09a0a"/>
<ellipse cx="294.6" cy="531.2" rx="2.5" ry="2.75" fill="#c09a0a"/>
<ellipse cx="302.3" cy="517.8" rx="2.5" ry="2.75" fill="#c09a0a"/>
<ellipse cx="334.4" cy="551.2" rx="2.5" ry="2.75" fill="#c09a0a"/>
<ellipse cx="326.9" cy="507.9" rx="2.5" ry="2.75" fill="#c09a0a"/>
<ellipse cx="364.5" cy="547.1" rx="2.5" ry="2.75" fill="#c09a0a"/>
<ellipse cx="341.1" cy="503.0" rx="2.5" ry="2.75" fill="#c09a0a"/>
<ellipse cx="310.6" cy="523.2" rx="2.5" ry="2.75" fill="#c09a0a"/>
<ellipse cx="343.1" cy="513.0" rx="2.5" ry="2.75" fill="#c09a0a"/>
<ellipse cx="295.5" cy="533.4" rx="2.5" ry="2.75" fill="#c09a0a"/>
<ellipse cx="360.5" cy="543.5" rx="2.5" ry="2.75" fill="#c09a0a"/>
<ellipse cx="366.6" cy="534.8" rx="2.5" ry="2.75" fill="#c09a0a"/>
<ellipse cx="349.2" cy="527.1" rx="2.5" ry="2.75" fill="#c09a0a"/>
<ellipse cx="365.3" cy="519.5" rx="2.5" ry="2.75" fill="#c09a0a"/>
<ellipse cx="318.0" cy="520.3" rx="2.5" ry="2.75" fill="#c09a0a"/>
<ellipse cx="320.5" cy="535.9" rx="2.5" ry="2.75" fill="#c09a0a"/>
<ellipse cx="373.3" cy="504.2" rx="2.5" ry="2.75" fill="#c09a0a"/>
<ellipse cx="299.9" cy="529.4" rx="2.5" ry="2.75" fill="#c09a0a"/>
<ellipse cx="354.4" cy="511.0" rx="2.5" ry="2.75" fill="#c09a0a"/>
<ellipse cx="297.2" cy="528.4" rx="2.5" ry="2.75" fill="#c09a0a"/>
<ellipse cx="354.6" cy="537.4" rx="2.5" ry="2.75" fill="#c09a0a"/>
<ellipse cx="376.9" cy="530.9" rx="2.5" ry="2.75" fill="#c09a0a"/>
<ellipse cx="330.3" cy="539.6" rx="2.5" ry="2.75" fill="#c09a0a"/>
<ellipse cx="358.8" cy="530.1" rx="2.5" ry="2.75" fill="#c09a0a"/>
<ellipse cx="300.9" cy="547.4" rx="2.5" ry="2.75" fill="#c09a0a"/>
<ellipse cx="325.3" cy="530.6" rx="2.5" ry="2.75" fill="#c09a0a"/>
<ellipse cx="349.9" cy="510.1" rx="2.5" ry="2.75" fill="#c09a0a"/>
<ellipse cx="357.2" cy="528.3" rx="2.5" ry="2.75" fill="#c09a0a"/>
<ellipse cx="308.4" cy="548.7" rx="2.5" ry="2.75" fill="#c09a0a"/>
<ellipse cx="354.5" cy="512.6" rx="2.5" ry="2.75" fill="#c09a0a"/>
<ellipse cx="341.5" cy="552.0" rx="2.5" ry="2.75" fill="#c09a0a"/>
<ellipse cx="380.4" cy="522.4" rx="2.5" ry="2.75" fill="#c09a0a"/>
<ellipse cx="325.3" cy="535.2" rx="2.5" ry="2.75" fill="#c09a0a"/>
<ellipse cx="348.1" cy="543.3" rx="2.5" ry="2.75" fill="#c09a0a"/>
<ellipse cx="351.6" cy="509.4" rx="2.5" ry="2.75" fill="#c09a0a"/>
<ellipse cx="376.9" cy="530.8" rx="2.5" ry="2.75" fill="#c09a0a"/>
<ellipse cx="372.5" cy="512.0" rx="2.5" ry="2.75" fill="#c09a0a"/>
<ellipse cx="363.1" cy="542.4" rx="2.5" ry="2.75" fill="#c09a0a"/>
<ellipse cx="372.6" cy="520.9" rx="2.5" ry="2.75" fill="#c09a0a"/>
<ellipse cx="301.3" cy="523.3" rx="2.5" ry="2.75" fill="#c09a0a"/>
<ellipse cx="309.8" cy="531.0" rx="2.5" ry="2.75" fill="#c09a0a"/>
<ellipse cx="366.6" cy="520.8" rx="2.5" ry="2.75" fill="#c09a0a"/>
<ellipse cx="331.6" cy="533.3" rx="2.5" ry="2.75" fill="#c09a0a"/>
<ellipse cx="296.2" cy="538.1" rx="2.5" ry="2.75" fill="#c09a0a"/>
<ellipse cx="376.7" cy="530.0" rx="2.5" ry="2.75" fill="#c09a0a"/>
<ellipse cx="373.7" cy="529.5" rx="2.5" ry="2.75" fill="#c09a0a"/>
<ellipse cx="304.9" cy="513.9" rx="2.5" ry="2.75" fill="#c09a0a"/>
<ellipse cx="331.7" cy="536.7" rx="2.5" ry="2.75" fill="#c09a0a"/>
<ellipse cx="362.7" cy="543.0" rx="2.5" ry="2.75" fill="#c09a0a"/>
<ellipse cx="351.9" cy="514.6" rx="2.5" ry="2.75" fill="#c09a0a"/>
<ellipse cx="332.3" cy="521.7" rx="2.5" ry="2.75" fill="#c09a0a"/>
<ellipse cx="337.6" cy="515.3" rx="2.5" ry="2.75" fill="#c09a0a"/>
<ellipse cx="341.9" cy="526.4" rx="2.5" ry="2.75" fill="#c09a0a"/>
<ellipse cx="346.2" cy="546.0" rx="2.5" ry="2.75" fill="#c09a0a"/>
<ellipse cx="359.6" cy="541.9" rx="2.5" ry="2.75" fill="#c09a0a"/>
<ellipse cx="382.5" cy="521.7" rx="2.5" ry="2.75" fill="#c09a0a"/>
<ellipse cx="353.2" cy="533.3" rx="2.5" ry="2.75" fill="#c09a0a"/>
<ellipse cx="311.5" cy="513.2" rx="2.5" ry="2.75" fill="#c09a0a"/>
<ellipse cx="359.4" cy="546.5" rx="2.5" ry="2.75" fill="#c09a0a"/>
<ellipse cx="337.0" cy="503.3" rx="2.5" ry="2.75" fill="#c09a0a"/>
<ellipse cx="326.9" cy="547.3" rx="2.5" ry="2.75" fill="#c09a0a"/>
<ellipse cx="338.5" cy="526.5" rx="2.5" ry="2.75" fill="#c09a0a"/>
<ellipse cx="328.6" cy="536.0" rx="2.5" ry="2.75" fill="#c09a0a"/>
<ellipse cx="347.3" cy="539.7" rx="2.5" ry="2.75" fill="#c09a0a"/>
<ellipse cx="327.3" cy="514.5" rx="2.5" ry="2.75" fill="#c09a0a"/>
<ellipse cx="363.6" cy="545.4" rx="2.5" ry="2.75" fill="#c09a0a"/>
<ellipse cx="376.7" cy="511.5" rx="2.5" ry="2.75" fill="#c09a0a"/>
<ellipse cx="300.8" cy="517.8" rx="2.5" ry="2.75" fill="#c09a0a"/>
<ellipse cx="350.4" cy="508.5" rx="2.5" ry="2.75" fill="#c09a0a"/>
<ellipse cx="368.0" cy="515.3" rx="2.5" ry="2.75" fill="#c09a0a"/>
<ellipse cx="354.8" cy="517.1" rx="2.5" ry="2.75" fill="#c09a0a"/>
<ellipse cx="313.4" cy="512.0" rx="2.5" ry="2.75" fill="#c09a0a"/>
<ellipse cx="338.3" cy="540.8" rx="2.5" ry="2.75" fill="#c09a0a"/>
<ellipse cx="313.3" cy="539.3" rx="2.5" ry="2.75" fill="#c09a0a"/>
<ellipse cx="323.8" cy="537.2" rx="2.5" ry="2.75" fill="#c09a0a"/>
<ellipse cx="326.7" cy="511.2" rx="2.5" ry="2.75" fill="#c09a0a"/>
<ellipse cx="356.0" cy="523.8" rx="2.5" ry="2.75" fill="#c09a0a"/>
<ellipse cx="304.9" cy="550.4" rx="2.5" ry="2.75" fill="#c09a0a"/>
<ellipse cx="352.3" cy="501.4" rx="2.5" ry="2.75" fill="#c09a0a"/>
<ellipse cx="358.5" cy="534.1" rx="2.5" ry="2.75" fill="#c09a0a"/>
<ellipse cx="333.5" cy="528.7" rx="2.5" ry="2.75" fill="#c09a0a"/>
<ellipse cx="379.7" cy="521.5" rx="2.5" ry="2.75" fill="#c09a0a"/>
<ellipse cx="350.7" cy="536.4" rx="2.5" ry="2.75" fill="#c09a0a"/>
<ellipse cx="326.5" cy="519.9" rx="2.5" ry="2.75" fill="#c09a0a"/>
<ellipse cx="361.2" cy="536.4" rx="2.5" ry="2.75" fill="#c09a0a"/>
<ellipse cx="334.7" cy="529.5" rx="2.5" ry="2.75" fill="#c09a0a"/>
<ellipse cx="313.8" cy="545.2" rx="2.5" ry="2.75" fill="#c09a0a"/>
<ellipse cx="295.7" cy="536.9" rx="2.5" ry="2.75" fill="#c09a0a"/>
<ellipse cx="334.5" cy="512.8" rx="2.5" ry="2.75" fill="#c09a0a"/>
<ellipse cx="346.2" cy="533.4" rx="2.5" ry="2.75" fill="#c09a0a"/>
<ellipse cx="301.6" cy="528.1" rx="2.5" ry="2.75" fill="#c09a0a"/>
<ellipse cx="308.6" cy="545.7" rx="2.5" ry="2.75" fill="#c09a0a"/>
<ellipse cx="323.1" cy="518.9" rx="2.5" ry="2.75" fill="#c09a0a"/>
<ellipse cx="310.6" cy="508.8" rx="2.5" ry="2.75" fill="#c09a0a"/>
<ellipse cx="349.6" cy="548.5" rx="2.5" ry="2.75" fill="#c09a0a"/>
<ellipse cx="313.6" cy="506.6" rx="2.5" ry="2.75" fill="#c09a0a"/>
<ellipse cx="341.6" cy="506.8" rx="2.5" ry="2.75" fill="#c09a0a"/>
<ellipse cx="330.0" cy="543.6" rx="2.5" ry="2.75" fill="#c09a0a"/>
<ellipse cx="312.0" cy="540.1" rx="2.5" ry="2.75" fill="#c09a0a"/>
<ellipse cx="342.0" cy="505.0" rx="2.5" ry="2.75" fill="#c09a0a"/>
<ellipse cx="315.5" cy="534.4" rx="2.5" ry="2.75" fill="#c09a0a"/>
<ellipse cx="345.3" cy="546.8" rx="2.5" ry="2.75" fill="#c09a0a"/>
<ellipse cx="340.3" cy="538.0" rx="2.5" ry="2.75" fill="#c09a0a"/>
<ellipse cx="322.3" cy="552.3" rx="2.5" ry="2.75" fill="#c09a0a"/>
<ellipse cx="325.8" cy="544.9" rx="2.5" ry="2.75" fill="#c09a0a"/>
<ellipse cx="297.0" cy="528.6" rx="2.5" ry="2.75" fill="#c09a0a"/>
<ellipse cx="345.6" cy="510.6" rx="2.5" ry="2.75" fill="#c09a0a"/>
<ellipse cx="376.5" cy="504.7" rx="2.5" ry="2.75" fill="#c09a0a"/>
<ellipse cx="358.1" cy="530.4" rx="2.5" ry="2.75" fill="#c09a0a"/>
<ellipse cx="308.5" cy="519.6" rx="2.5" ry="2.75" fill="#c09a0a"/>
<ellipse cx="353.1" cy="537.6" rx="2.5" ry="2.75" fill="#c09a0a"/>
<ellipse cx="328.6" cy="545.9" rx="2.5" ry="2.75" fill="#c09a0a"/>
<ellipse cx="302.0" cy="518.7" rx="2.5" ry="2.75" fill="#c09a0a"/>
<ellipse cx="364.6" cy="543.1" rx="2.5" ry="2.75" fill="#c09a0a"/>
<ellipse cx="307.2" cy="517.8" rx="2.5" ry="2.75" fill="#c09a0a"/>
<ellipse cx="303.9" cy="537.9" rx="2.5" ry="2.75" fill="#c09a0a"/>
<ellipse cx="333.4" cy="513.4" rx="2.5" ry="2.75" fill="#c09a0a"/>
<ellipse cx="327.3" cy="549.5" rx="2.5" ry="2.75" fill="#c09a0a"/>
<ellipse cx="331.8" cy="539.6" rx="2.5" ry="2.75" fill="#c09a0a"/>
<ellipse cx="349.9" cy="527.2" rx="2.5" ry="2.75" fill="#c09a0a"/>
<ellipse cx="343.5" cy="520.9" rx="2.5" ry="2.75" fill="#c09a0a"/>
<ellipse cx="311.6" cy="528.4" rx="2.5" ry="2.75" fill="#c09a0a"/>
<ellipse cx="321.1" cy="519.0" rx="2.5" ry="2.75" fill="#c09a0a"/>
<ellipse cx="310.5" cy="552.3" rx="2.5" ry="2.75" fill="#c09a0a"/>
<ellipse cx="331.9" cy="511.6" rx="2.5" ry="2.75" fill="#c09a0a"/>
<ellipse cx="371.4" cy="519.4" rx="2.5" ry="2.75" fill="#c09a0a"/>
<ellipse cx="353.4" cy="513.3" rx="2.5" ry="2.75" fill="#c09a0a"/>
<ellipse cx="351.9" cy="525.9" rx="2.5" ry="2.75" fill="#c09a0a"/>
<ellipse cx="359.6" cy="530.3" rx="2.5" ry="2.75" fill="#c09a0a"/>
<ellipse cx="327.4" cy="516.2" rx="2.5" ry="2.75" fill="#c09a0a"/>
<ellipse cx="346.9" cy="547.6" rx="2.5" ry="2.75" fill="#c09a0a"/>
<ellipse cx="355.6" cy="527.6" rx="2.5" ry="2.75" fill="#c09a0a"/>
<ellipse cx="323.2" cy="551.0" rx="2.5" ry="2.75" fill="#c09a0a"/>
<ellipse cx="369.4" cy="508.5" rx="2.5" ry="2.75" fill="#c09a0a"/>
<ellipse cx="354.5" cy="544.2" rx="2.5" ry="2.75" fill="#c09a0a"/>
<ellipse cx="372.3" cy="514.2" rx="2.5" ry="2.75" fill="#c09a0a"/>
<ellipse cx="382.8" cy="518.9" rx="2.5" ry="2.75" fill="#c09a0a"/>
<ellipse cx="327.8" cy="555.9" rx="2.5" ry="2.75" fill="#c09a0a"/>
<ellipse cx="308.8" cy="522.7" rx="2.5" ry="2.75" fill="#c09a0a"/>
<ellipse cx="349.7" cy="515.8" rx="2.5" ry="2.75" fill="#c09a0a"/>
<ellipse cx="317.7" cy="545.5" rx="2.5" ry="2.75" fill="#c09a0a"/>
<ellipse cx="348.5" cy="542.6" rx="2.5" ry="2.75" fill="#c09a0a"/>
<ellipse cx="356.5" cy="529.5" rx="2.5" ry="2.75" fill="#c09a0a"/>
<ellipse cx="332.3" cy="538.1" rx="2.5" ry="2.75" fill="#c09a0a"/>
<ellipse cx="320.2" cy="507.6" rx="2.5" ry="2.75" fill="#c09a0a"/>
<ellipse cx="328.4" cy="508.0" rx="2.5" ry="2.75" fill="#c09a0a"/>
<ellipse cx="334.4" cy="543.7" rx="2.5" ry="2.75" fill="#c09a0a"/>
<ellipse cx="298.2" cy="536.5" rx="2.5" ry="2.75" fill="#c09a0a"/>
<ellipse cx="303.8" cy="529.3" rx="2.5" ry="2.75" fill="#c09a0a"/>
<ellipse cx="320.3" cy="525.6" rx="2.5" ry="2.75" fill="#c09a0a"/>
<ellipse cx="357.4" cy="523.8" rx="2.5" ry="2.75" fill="#c09a0a"/>
<ellipse cx="328.8" cy="541.7" rx="2.5" ry="2.75" fill="#c09a0a"/>
<ellipse cx="304.2" cy="520.1" rx="2.5" ry="2.75" fill="#c09a0a"/>
<ellipse cx="356.5" cy="547.8" rx="2.5" ry="2.75" fill="#c09a0a"/>
<ellipse cx="381.3" cy="514.9" rx="2.5" ry="2.75" fill="#c09a0a"/>
<ellipse cx="349.7" cy="518.0" rx="2.5" ry="2.75" fill="#c09a0a"/>
<ellipse cx="356.5" cy="548.4" rx="2.5" ry="2.75" fill="#c09a0a"/>
<ellipse cx="305.9" cy="519.9" rx="2.5" ry="2.75" fill="#c09a0a"/>
<ellipse cx="377.4" cy="520.3" rx="2.5" ry="2.75" fill="#c09a0a"/>
<ellipse cx="350.3" cy="546.9" rx="2.5" ry="2.75" fill="#c09a0a"/>
<ellipse cx="318.8" cy="544.9" rx="2.5" ry="2.75" fill="#c09a0a"/>
<ellipse cx="308.8" cy="519.9" rx="2.5" ry="2.75" fill="#c09a0a"/>
<ellipse cx="365.5" cy="510.1" rx="2.5" ry="2.75" fill="#c09a0a"/>
<ellipse cx="345.0" cy="531.8" rx="2.5" ry="2.75" fill="#c09a0a"/>
<ellipse cx="349.4" cy="509.8" rx="2.5" ry="2.75" fill="#c09a0a"/>
<ellipse cx="361.8" cy="505.8" rx="2.5" ry="2.75" fill="#c09a0a"/>
<ellipse cx="376.7" cy="517.8" rx="2.5" ry="2.75" fill="#c09a0a"/>
<ellipse cx="316.4" cy="512.5" rx="2.5" ry="2.75" fill="#c09a0a"/>
<ellipse cx="329.2" cy="545.3" rx="2.5" ry="2.75" fill="#c09a0a"/>
<ellipse cx="370.2" cy="542.7" rx="2.5" ry="2.75" fill="#c09a0a"/>
<ellipse cx="359.0" cy="514.1" rx="2.5" ry="2.75" fill="#c09a0a"/>
<ellipse cx="322.6" cy="517.5" rx="2.5" ry="2.75" fill="#c09a0a"/>
<ellipse cx="332.6" cy="550.0" rx="2.5" ry="2.75" fill="#c09a0a"/>
<ellipse cx="335.0" cy="539.7" rx="2.5" ry="2.75" fill="#c09a0a"/>
<ellipse cx="363.9" cy="510.9" rx="2.5" ry="2.75" fill="#c09a0a"/>
<ellipse cx="301.5" cy="540.9" rx="2.5" ry="2.75" fill="#c09a0a"/>
<ellipse cx="337.3" cy="552.0" rx="2.5" ry="2.75" fill="#c09a0a"/>
<ellipse cx="308.8" cy="531.5" rx="2.5" ry="2.75" fill="#c09a0a"/>
<ellipse cx="304.7" cy="546.0" rx="2.5" ry="2.75" fill="#c09a0a"/>
<ellipse cx="358.4" cy="502.0" rx="2.5" ry="2.75" fill="#c09a0a"/>
<ellipse cx="321.5" cy="508.3" rx="2.5" ry="2.75" fill="#c09a0a"/>
<ellipse cx="350.6" cy="536.1" rx="2.5" ry="2.75" fill="#c09a0a"/>
<ellipse cx="380.0" cy="525.3" rx="2.5" ry="2.75" fill="#c09a0a"/>
<ellipse cx="345.1" cy="520.9" rx="2.5" ry="2.75" fill="#c09a0a"/>
<ellipse cx="348.0" cy="522.9" rx="2.5" ry="2.75" fill="#c09a0a"/>
<ellipse cx="333.2" cy="542.9" rx="2.5" ry="2.75" fill="#c09a0a"/>
<ellipse cx="310.5" cy="517.2" rx="2.5" ry="2.75" fill="#c09a0a"/>
<ellipse cx="362.0" cy="513.0" rx="2.5" ry="2.75" fill="#c09a0a"/>
<ellipse cx="308.1" cy="523.6" rx="2.5" ry="2.75" fill="#c09a0a"/>
<ellipse cx="321.9" cy="515.1" rx="2.5" ry="2.75" fill="#c09a0a"/>
<ellipse cx="325.3" cy="530.8" rx="2.5" ry="2.75" fill="#c09a0a"/>
<ellipse cx="304.3" cy="530.6" rx="2.5" ry="2.75" fill="#c09a0a"/>
<ellipse cx="311.9" cy="513.9" rx="2.5" ry="2.75" fill="#c09a0a"/>
<ellipse cx="324.4" cy="516.8" rx="2.5" ry="2.75" fill="#c09a0a"/>
<ellipse cx="368.5" cy="537.7" rx="2.5" ry="2.75" fill="#c09a0a"/>
<ellipse cx="336.1" cy="544.2" rx="2.5" ry="2.75" fill="#c09a0a"/>
<ellipse cx="355.1" cy="518.2" rx="2.5" ry="2.75" fill="#c09a0a"/>
<ellipse cx="348.8" cy="542.7" rx="2.5" ry="2.75" fill="#c09a0a"/>
<ellipse cx="341.6" cy="543.1" rx="2.5" ry="2.75" fill="#c09a0a"/>
<ellipse cx="350.3" cy="553.1" rx="2.5" ry="2.75" fill="#c09a0a"/>
<ellipse cx="317.5" cy="538.5" rx="2.5" ry="2.75" fill="#c09a0a"/>
<ellipse cx="374.6" cy="505.6" rx="2.5" ry="2.75" fill="#c09a0a"/>
<ellipse cx="358.4" cy="515.3" rx="2.5" ry="2.75" fill="#c09a0a"/>
<ellipse cx="360.8" cy="524.3" rx="2.5" ry="2.75" fill="#c09a0a"/>
<ellipse cx="341.6" cy="514.4" rx="2.5" ry="2.75" fill="#c09a0a"/>
<ellipse cx="316.8" cy="549.5" rx="2.5" ry="2.75" fill="#c09a0a"/>
<ellipse cx="351.3" cy="536.0" rx="2.5" ry="2.75" fill="#c09a0a"/>
<ellipse cx="304.2" cy="516.9" rx="2.5" ry="2.75" fill="#c09a0a"/>
<ellipse cx="380.3" cy="511.8" rx="2.5" ry="2.75" fill="#c09a0a"/>
<ellipse cx="341.9" cy="539.9" rx="2.5" ry="2.75" fill="#c09a0a"/>
<ellipse cx="339.4" cy="531.8" rx="2.5" ry="2.75" fill="#c09a0a"/>
<ellipse cx="315.0" cy="524.7" rx="2.5" ry="2.75" fill="#c09a0a"/>
<ellipse cx="331.3" cy="539.2" rx="2.5" ry="2.75" fill="#c09a0a"/>
<ellipse cx="354.1" cy="515.1" rx="2.5" ry="2.75" fill="#c09a0a"/>
<ellipse cx="355.7" cy="524.8" rx="2.5" ry="2.75" fill="#c09a0a"/>
<ellipse cx="327.5" cy="511.4" rx="2.5" ry="2.75" fill="#c09a0a"/>
<ellipse cx="215.8" cy="443.7" rx="2.5" ry="2.75" fill="#c09a0a"/>
<ellipse cx="217.5" cy="452.4" rx="2.5" ry="2.75" fill="#c09a0a"/>
<ellipse cx="200.1" cy="458.1" rx="2.5" ry="2.75" fill="#c09a0a"/>
<ellipse cx="289.7" cy="501.5" rx="2.5" ry="2.75" fill="#c09a0a"/>
<ellipse cx="278.6" cy="516.9" rx="2.5" ry="2.75" fill="#c09a0a"/>
<ellipse cx="300.2" cy="518.9" rx="2.5" ry="2.75" fill="#c09a0a"/>
<ellipse cx="305.1" cy="513.2" rx="2.5" ry="2.75" fill="#c09a0a"/>
<ellipse cx="311.3" cy="513.2" rx="2.5" ry="2.75" fill="#c09a0a"/>
<ellipse cx="315.0" cy="510.7" rx="2.5" ry="2.75" fill="#c09a0a"/>
<ellipse cx="318.8" cy="508.2" rx="2.5" ry="2.75" fill="#c09a0a"/>
<ellipse cx="260.9" cy="544.4" rx="2.5" ry="2.75" fill="#c09a0a"/>
<ellipse cx="251.8" cy="564.5" rx="2.5" ry="2.75" fill="#c09a0a"/>
<ellipse cx="256.7" cy="563.7" rx="2.5" ry="2.75" fill="#c09a0a"/>
<ellipse cx="271.1" cy="559.3" rx="2.5" ry="2.75" fill="#c09a0a"/>
<ellipse cx="271.1" cy="566.3" rx="2.5" ry="2.75" fill="#c09a0a"/>
<ellipse cx="279.9" cy="560.1" rx="2.5" ry="2.75" fill="#c09a0a"/>
<ellipse cx="283.4" cy="566.3" rx="2.5" ry="2.75" fill="#c09a0a"/>
<ellipse cx="285.1" cy="574.2" rx="2.5" ry="2.75" fill="#c09a0a"/>
<ellipse cx="292.1" cy="576.8" rx="2.5" ry="2.75" fill="#c09a0a"/>
<ellipse cx="295.6" cy="557.5" rx="2.5" ry="2.75" fill="#c09a0a"/>
<ellipse cx="299.1" cy="554.0" rx="2.5" ry="2.75" fill="#c09a0a"/>
<ellipse cx="260.6" cy="587.3" rx="2.5" ry="2.75" fill="#c09a0a"/>
<ellipse cx="267.6" cy="590.8" rx="2.5" ry="2.75" fill="#c09a0a"/>
<ellipse cx="287.7" cy="586.4" rx="2.5" ry="2.75" fill="#c09a0a"/>
<ellipse cx="278.1" cy="569.8" rx="2.5" ry="2.75" fill="#c09a0a"/>
<ellipse cx="258.3" cy="470.0" rx="2.5" ry="2.75" fill="#c09a0a"/>
<ellipse cx="279.1" cy="484.4" rx="2.5" ry="2.75" fill="#c09a0a"/>
<ellipse cx="257.8" cy="493.3" rx="2.5" ry="2.75" fill="#c09a0a"/>
<ellipse cx="294.4" cy="491.3" rx="2.5" ry="2.75" fill="#c09a0a"/>
<ellipse cx="293.0" cy="494.1" rx="2.5" ry="2.75" fill="#c09a0a"/>
<ellipse cx="297.2" cy="495.5" rx="2.5" ry="2.75" fill="#c09a0a"/>
<ellipse cx="309.6" cy="494.9" rx="2.5" ry="2.75" fill="#c09a0a"/>
<ellipse cx="310.5" cy="499.6" rx="2.5" ry="2.75" fill="#c09a0a"/>
<ellipse cx="290.2" cy="501.6" rx="2.5" ry="2.75" fill="#c09a0a"/>
<ellipse cx="347.1" cy="480.8" rx="2.5" ry="2.75" fill="#c09a0a"/>
<ellipse cx="366.5" cy="482.4" rx="2.5" ry="2.75" fill="#c09a0a"/>
<ellipse cx="371.2" cy="486.3" rx="2.5" ry="2.75" fill="#c09a0a"/>
<ellipse cx="346.5" cy="498.3" rx="2.5" ry="2.75" fill="#c09a0a"/>
<ellipse cx="279.1" cy="517.1" rx="2.5" ry="2.75" fill="#c09a0a"/>
<ellipse cx="287.4" cy="523.2" rx="2.5" ry="2.75" fill="#c09a0a"/>
<ellipse cx="271.6" cy="532.9" rx="2.5" ry="2.75" fill="#c09a0a"/>
<ellipse cx="261.1" cy="544.3" rx="2.5" ry="2.75" fill="#c09a0a"/>
<ellipse cx="422.0" cy="515.5" rx="2.5" ry="2.75" fill="#c09a0a"/>
<ellipse cx="391.5" cy="530.7" rx="2.5" ry="2.75" fill="#c09a0a"/>
<ellipse cx="397.0" cy="530.7" rx="2.5" ry="2.75" fill="#c09a0a"/>
<ellipse cx="410.9" cy="556.0" rx="2.5" ry="2.75" fill="#c09a0a"/>
<ellipse cx="322.1" cy="501.6" rx="2.5" ry="2.75" fill="#c09a0a"/>
<ellipse cx="326.3" cy="503.2" rx="2.5" ry="2.75" fill="#c09a0a"/>
<ellipse cx="299.9" cy="519.1" rx="2.5" ry="2.75" fill="#c09a0a"/>
<ellipse cx="270.8" cy="532.5" rx="2.5" ry="2.75" fill="#c09a0a"/>
<ellipse cx="252.8" cy="564.4" rx="2.5" ry="2.75" fill="#c09a0a"/>
<ellipse cx="256.9" cy="563.8" rx="2.5" ry="2.75" fill="#c09a0a"/>
<ellipse cx="270.8" cy="561.6" rx="2.5" ry="2.75" fill="#c09a0a"/>
<ellipse cx="269.4" cy="567.2" rx="2.5" ry="2.75" fill="#c09a0a"/>
<ellipse cx="280.5" cy="560.2" rx="2.5" ry="2.75" fill="#c09a0a"/>
<ellipse cx="283.3" cy="565.8" rx="2.5" ry="2.75" fill="#c09a0a"/>
<ellipse cx="261.1" cy="569.4" rx="2.5" ry="2.75" fill="#c09a0a"/>
<ellipse cx="265.3" cy="572.7" rx="2.5" ry="2.75" fill="#c09a0a"/>
<ellipse cx="286.1" cy="576.9" rx="2.5" ry="2.75" fill="#c09a0a"/>
<ellipse cx="291.6" cy="578.3" rx="2.5" ry="2.75" fill="#c09a0a"/>
<ellipse cx="298.5" cy="579.6" rx="2.5" ry="2.75" fill="#c09a0a"/>
<ellipse cx="302.7" cy="586.6" rx="2.5" ry="2.75" fill="#c09a0a"/>
<ellipse cx="294.4" cy="588.0" rx="2.5" ry="2.75" fill="#c09a0a"/>
<ellipse cx="322.1" cy="586.6" rx="2.5" ry="2.75" fill="#c09a0a"/>
<ellipse cx="330.4" cy="587.1" rx="2.5" ry="2.75" fill="#c09a0a"/>
<ellipse cx="348.5" cy="586.0" rx="2.5" ry="2.75" fill="#c09a0a"/>
<ellipse cx="345.7" cy="603.2" rx="2.5" ry="2.75" fill="#c09a0a"/>
<ellipse cx="331.8" cy="610.2" rx="2.5" ry="2.75" fill="#c09a0a"/>
<ellipse cx="410.9" cy="555.5" rx="2.5" ry="2.75" fill="#c09a0a"/>
<ellipse cx="415.0" cy="592.1" rx="2.5" ry="2.75" fill="#c09a0a"/>
<ellipse cx="291.6" cy="536.6" rx="2.5" ry="2.75" fill="#c09a0a"/>
<ellipse cx="295.8" cy="542.2" rx="2.5" ry="2.75" fill="#c09a0a"/>
<ellipse cx="304.0" cy="546.4" rx="2.5" ry="2.75" fill="#c09a0a"/>
<ellipse cx="308.3" cy="550.5" rx="2.5" ry="2.75" fill="#c09a0a"/>
<ellipse cx="297.2" cy="553.3" rx="2.5" ry="2.75" fill="#c09a0a"/>
<ellipse cx="313.8" cy="553.3" rx="2.5" ry="2.75" fill="#c09a0a"/>
<ellipse cx="261.8" cy="586.9" rx="2.5" ry="2.75" fill="#c09a0a"/>
<ellipse cx="267.4" cy="590.9" rx="2.5" ry="2.75" fill="#c09a0a"/>
<ellipse cx="286.7" cy="587.7" rx="2.5" ry="2.75" fill="#c09a0a"/>
<ellipse cx="296.4" cy="583.6" rx="2.5" ry="2.75" fill="#c09a0a"/>
<ellipse cx="299.6" cy="586.9" rx="2.5" ry="2.75" fill="#c09a0a"/>
<ellipse cx="302.8" cy="579.6" rx="2.5" ry="2.75" fill="#c09a0a"/>
<ellipse cx="287.5" cy="576.4" rx="2.5" ry="2.75" fill="#c09a0a"/>
<ellipse cx="292.3" cy="577.2" rx="2.5" ry="2.75" fill="#c09a0a"/>
<ellipse cx="277.1" cy="572.4" rx="2.5" ry="2.75" fill="#c09a0a"/>
<ellipse cx="213.7" cy="616.3" rx="2.5" ry="2.75" fill="#c09a0a"/>
<ellipse cx="226.5" cy="615.3" rx="2.5" ry="2.75" fill="#c09a0a"/>
<ellipse cx="213.6" cy="615.9" rx="2.5" ry="2.75" fill="#c09a0a"/>
<ellipse cx="226.0" cy="615.4" rx="2.5" ry="2.75" fill="#c09a0a"/>
<ellipse cx="347.7" cy="480.4" rx="2.5" ry="2.75" fill="#c09a0a"/>
<ellipse cx="366.1" cy="482.0" rx="2.5" ry="2.75" fill="#c09a0a"/>
<ellipse cx="371.0" cy="486.1" rx="2.5" ry="2.75" fill="#c09a0a"/>
<ellipse cx="346.9" cy="498.1" rx="2.5" ry="2.75" fill="#c09a0a"/>
<ellipse cx="341.2" cy="504.5" rx="2.5" ry="2.75" fill="#c09a0a"/>
<ellipse cx="358.1" cy="504.5" rx="2.5" ry="2.75" fill="#c09a0a"/>
<ellipse cx="358.1" cy="508.5" rx="2.5" ry="2.75" fill="#c09a0a"/>
<ellipse cx="366.1" cy="506.1" rx="2.5" ry="2.75" fill="#c09a0a"/>
<ellipse cx="363.7" cy="510.1" rx="2.5" ry="2.75" fill="#c09a0a"/>
<ellipse cx="366.9" cy="511.0" rx="2.5" ry="2.75" fill="#c09a0a"/>
<ellipse cx="371.8" cy="503.7" rx="2.5" ry="2.75" fill="#c09a0a"/>
<ellipse cx="377.4" cy="504.5" rx="2.5" ry="2.75" fill="#c09a0a"/>
<ellipse cx="383.8" cy="501.8" rx="2.5" ry="2.75" fill="#c09a0a"/>
<ellipse cx="389.4" cy="505.7" rx="2.5" ry="2.75" fill="#c09a0a"/>
<ellipse cx="351.7" cy="508.5" rx="2.5" ry="2.75" fill="#c09a0a"/>
<ellipse cx="375.8" cy="515.4" rx="2.5" ry="2.75" fill="#c09a0a"/>
<ellipse cx="387.0" cy="515.4" rx="2.5" ry="2.75" fill="#c09a0a"/>
<ellipse cx="359.7" cy="517.4" rx="2.5" ry="2.75" fill="#c09a0a"/>
<ellipse cx="381.4" cy="520.6" rx="2.5" ry="2.75" fill="#c09a0a"/>
<ellipse cx="391.8" cy="531.0" rx="2.5" ry="2.75" fill="#c09a0a"/>
<ellipse cx="396.6" cy="531.0" rx="2.5" ry="2.75" fill="#c09a0a"/>
<ellipse cx="423.1" cy="515.4" rx="2.5" ry="2.75" fill="#c09a0a"/>
<ellipse cx="411.1" cy="555.9" rx="2.5" ry="2.75" fill="#c09a0a"/>
<ellipse cx="285.0" cy="546.0" rx="2.5" ry="2.75" fill="#c09a0a"/>
<ellipse cx="290.0" cy="530.0" rx="2.5" ry="2.75" fill="#c09a0a"/>
<ellipse cx="300.0" cy="527.0" rx="2.5" ry="2.75" fill="#c09a0a"/>
<ellipse cx="306.0" cy="538.0" rx="2.5" ry="2.75" fill="#c09a0a"/>
<ellipse cx="280.0" cy="552.0" rx="2.5" ry="2.75" fill="#c09a0a"/>
<ellipse cx="288.0" cy="560.0" rx="2.5" ry="2.75" fill="#c09a0a"/>
<ellipse cx="275.0" cy="545.0" rx="2.5" ry="2.75" fill="#c09a0a"/>
<ellipse cx="314.6" cy="524.6" rx="2.5" ry="2.75" fill="#0ac4f5"/>
<ellipse cx="352.7" cy="538.3" rx="2.5" ry="2.75" fill="#0ac4f5"/>
<ellipse cx="372.2" cy="531.4" rx="2.5" ry="2.75" fill="#0ac4f5"/>
<ellipse cx="377.9" cy="536.7" rx="2.5" ry="2.75" fill="#0ac4f5"/>
<ellipse cx="355.5" cy="573.5" rx="2.5" ry="2.75" fill="#0ac4f5"/>
<ellipse cx="371.5" cy="553.1" rx="2.5" ry="2.75" fill="#0ac4f5"/>
<ellipse cx="324.9" cy="528.9" rx="2.5" ry="2.75" fill="#0ac4f5"/>
<ellipse cx="368.9" cy="552.7" rx="2.5" ry="2.75" fill="#0ac4f5"/>
<ellipse cx="356.6" cy="554.5" rx="2.5" ry="2.75" fill="#0ac4f5"/>
<ellipse cx="354.0" cy="528.5" rx="2.5" ry="2.75" fill="#0ac4f5"/>
<ellipse cx="303.5" cy="549.6" rx="2.5" ry="2.75" fill="#0ac4f5"/>
<ellipse cx="340.9" cy="548.8" rx="2.5" ry="2.75" fill="#0ac4f5"/>
<ellipse cx="333.0" cy="557.5" rx="2.5" ry="2.75" fill="#0ac4f5"/>
<ellipse cx="374.4" cy="536.0" rx="2.5" ry="2.75" fill="#0ac4f5"/>
<ellipse cx="330.0" cy="552.7" rx="2.5" ry="2.75" fill="#0ac4f5"/>
<ellipse cx="323.8" cy="553.5" rx="2.5" ry="2.75" fill="#0ac4f5"/>
<ellipse cx="343.9" cy="543.7" rx="2.5" ry="2.75" fill="#0ac4f5"/>
<ellipse cx="354.5" cy="549.4" rx="2.5" ry="2.75" fill="#0ac4f5"/>
<ellipse cx="328.6" cy="543.6" rx="2.5" ry="2.75" fill="#0ac4f5"/>
<ellipse cx="332.2" cy="523.2" rx="2.5" ry="2.75" fill="#0ac4f5"/>
<ellipse cx="372.7" cy="527.7" rx="2.5" ry="2.75" fill="#0ac4f5"/>
<ellipse cx="344.2" cy="538.5" rx="2.5" ry="2.75" fill="#0ac4f5"/>
<ellipse cx="326.3" cy="539.0" rx="2.5" ry="2.75" fill="#0ac4f5"/>
<ellipse cx="352.4" cy="529.6" rx="2.5" ry="2.75" fill="#0ac4f5"/>
<ellipse cx="356.2" cy="520.5" rx="2.5" ry="2.75" fill="#0ac4f5"/>
<ellipse cx="374.7" cy="545.3" rx="2.5" ry="2.75" fill="#0ac4f5"/>
<ellipse cx="368.7" cy="547.6" rx="2.5" ry="2.75" fill="#0ac4f5"/>
<ellipse cx="342.3" cy="552.8" rx="2.5" ry="2.75" fill="#0ac4f5"/>
<ellipse cx="338.1" cy="561.5" rx="2.5" ry="2.75" fill="#0ac4f5"/>
<ellipse cx="352.1" cy="538.8" rx="2.5" ry="2.75" fill="#0ac4f5"/>
<ellipse cx="363.6" cy="567.1" rx="2.5" ry="2.75" fill="#0ac4f5"/>
<ellipse cx="349.2" cy="574.6" rx="2.5" ry="2.75" fill="#0ac4f5"/>
<ellipse cx="351.3" cy="538.0" rx="2.5" ry="2.75" fill="#0ac4f5"/>
<ellipse cx="335.0" cy="533.7" rx="2.5" ry="2.75" fill="#0ac4f5"/>
<ellipse cx="328.3" cy="524.5" rx="2.5" ry="2.75" fill="#0ac4f5"/>
<ellipse cx="317.2" cy="532.8" rx="2.5" ry="2.75" fill="#0ac4f5"/>
<ellipse cx="370.3" cy="528.3" rx="2.5" ry="2.75" fill="#0ac4f5"/>
<ellipse cx="322.1" cy="523.2" rx="2.5" ry="2.75" fill="#0ac4f5"/>
<ellipse cx="337.9" cy="529.9" rx="2.5" ry="2.75" fill="#0ac4f5"/>
<ellipse cx="302.6" cy="540.3" rx="2.5" ry="2.75" fill="#0ac4f5"/>
<ellipse cx="316.1" cy="547.1" rx="2.5" ry="2.75" fill="#0ac4f5"/>
<ellipse cx="358.2" cy="545.5" rx="2.5" ry="2.75" fill="#0ac4f5"/>
<ellipse cx="319.8" cy="531.3" rx="2.5" ry="2.75" fill="#0ac4f5"/>
<ellipse cx="321.3" cy="521.3" rx="2.5" ry="2.75" fill="#0ac4f5"/>
<ellipse cx="353.9" cy="526.9" rx="2.5" ry="2.75" fill="#0ac4f5"/>
<ellipse cx="304.1" cy="547.6" rx="2.5" ry="2.75" fill="#0ac4f5"/>
<ellipse cx="348.8" cy="519.9" rx="2.5" ry="2.75" fill="#0ac4f5"/>
<ellipse cx="339.3" cy="519.1" rx="2.5" ry="2.75" fill="#0ac4f5"/>
<ellipse cx="351.1" cy="577.2" rx="2.5" ry="2.75" fill="#0ac4f5"/>
<ellipse cx="368.6" cy="531.5" rx="2.5" ry="2.75" fill="#0ac4f5"/>
<ellipse cx="343.2" cy="525.8" rx="2.5" ry="2.75" fill="#0ac4f5"/>
<ellipse cx="330.5" cy="556.2" rx="2.5" ry="2.75" fill="#0ac4f5"/>
<ellipse cx="372.5" cy="550.8" rx="2.5" ry="2.75" fill="#0ac4f5"/>
<ellipse cx="341.4" cy="528.8" rx="2.5" ry="2.75" fill="#0ac4f5"/>
<ellipse cx="322.2" cy="527.0" rx="2.5" ry="2.75" fill="#0ac4f5"/>
<ellipse cx="368.0" cy="548.3" rx="2.5" ry="2.75" fill="#0ac4f5"/>
<ellipse cx="356.4" cy="567.0" rx="2.5" ry="2.75" fill="#0ac4f5"/>
<ellipse cx="361.7" cy="540.8" rx="2.5" ry="2.75" fill="#0ac4f5"/>
<ellipse cx="353.1" cy="529.2" rx="2.5" ry="2.75" fill="#0ac4f5"/>
<ellipse cx="330.5" cy="531.6" rx="2.5" ry="2.75" fill="#0ac4f5"/>
<ellipse cx="312.0" cy="551.2" rx="2.5" ry="2.75" fill="#0ac4f5"/>
<ellipse cx="370.1" cy="553.7" rx="2.5" ry="2.75" fill="#0ac4f5"/>
<ellipse cx="355.6" cy="566.3" rx="2.5" ry="2.75" fill="#0ac4f5"/>
<ellipse cx="373.8" cy="542.3" rx="2.5" ry="2.75" fill="#0ac4f5"/>
<ellipse cx="350.4" cy="562.3" rx="2.5" ry="2.75" fill="#0ac4f5"/>
<ellipse cx="352.8" cy="536.8" rx="2.5" ry="2.75" fill="#0ac4f5"/>
<ellipse cx="322.5" cy="531.8" rx="2.5" ry="2.75" fill="#0ac4f5"/>
<ellipse cx="325.3" cy="523.6" rx="2.5" ry="2.75" fill="#0ac4f5"/>
<ellipse cx="335.9" cy="537.5" rx="2.5" ry="2.75" fill="#0ac4f5"/>
<ellipse cx="313.8" cy="546.3" rx="2.5" ry="2.75" fill="#0ac4f5"/>
<ellipse cx="333.4" cy="538.8" rx="2.5" ry="2.75" fill="#0ac4f5"/>
<ellipse cx="365.9" cy="536.0" rx="2.5" ry="2.75" fill="#0ac4f5"/>
<ellipse cx="377.9" cy="540.1" rx="2.5" ry="2.75" fill="#0ac4f5"/>
<ellipse cx="341.5" cy="530.5" rx="2.5" ry="2.75" fill="#0ac4f5"/>
<ellipse cx="310.0" cy="531.8" rx="2.5" ry="2.75" fill="#0ac4f5"/>
<ellipse cx="324.9" cy="525.7" rx="2.5" ry="2.75" fill="#0ac4f5"/>
<ellipse cx="366.5" cy="524.2" rx="2.5" ry="2.75" fill="#0ac4f5"/>
<ellipse cx="340.7" cy="521.5" rx="2.5" ry="2.75" fill="#0ac4f5"/>
<ellipse cx="327.2" cy="540.4" rx="2.5" ry="2.75" fill="#0ac4f5"/>
<ellipse cx="337.0" cy="555.6" rx="2.5" ry="2.75" fill="#0ac4f5"/>
<ellipse cx="365.5" cy="558.1" rx="2.5" ry="2.75" fill="#0ac4f5"/>
<ellipse cx="329.0" cy="534.7" rx="2.5" ry="2.75" fill="#0ac4f5"/>
<ellipse cx="312.1" cy="544.9" rx="2.5" ry="2.75" fill="#0ac4f5"/>
<ellipse cx="363.1" cy="530.5" rx="2.5" ry="2.75" fill="#0ac4f5"/>
<ellipse cx="338.1" cy="556.0" rx="2.5" ry="2.75" fill="#0ac4f5"/>
<ellipse cx="324.3" cy="531.9" rx="2.5" ry="2.75" fill="#0ac4f5"/>
<ellipse cx="355.8" cy="574.0" rx="2.5" ry="2.75" fill="#0ac4f5"/>
<ellipse cx="327.1" cy="541.5" rx="2.5" ry="2.75" fill="#0ac4f5"/>
<ellipse cx="345.0" cy="527.9" rx="2.5" ry="2.75" fill="#0ac4f5"/>
<ellipse cx="363.4" cy="531.0" rx="2.5" ry="2.75" fill="#0ac4f5"/>
<ellipse cx="342.8" cy="558.8" rx="2.5" ry="2.75" fill="#0ac4f5"/>
<ellipse cx="346.3" cy="553.9" rx="2.5" ry="2.75" fill="#0ac4f5"/>
<ellipse cx="319.1" cy="551.0" rx="2.5" ry="2.75" fill="#0ac4f5"/>
<ellipse cx="346.9" cy="531.1" rx="2.5" ry="2.75" fill="#0ac4f5"/>
<ellipse cx="333.5" cy="525.1" rx="2.5" ry="2.75" fill="#0ac4f5"/>
<ellipse cx="348.9" cy="536.0" rx="2.5" ry="2.75" fill="#0ac4f5"/>
<ellipse cx="363.0" cy="525.0" rx="2.5" ry="2.75" fill="#0ac4f5"/>
<ellipse cx="355.1" cy="560.7" rx="2.5" ry="2.75" fill="#0ac4f5"/>
<ellipse cx="318.5" cy="525.2" rx="2.5" ry="2.75" fill="#0ac4f5"/>
<ellipse cx="329.9" cy="556.8" rx="2.5" ry="2.75" fill="#0ac4f5"/>
<ellipse cx="341.0" cy="527.1" rx="2.5" ry="2.75" fill="#0ac4f5"/>
<ellipse cx="307.7" cy="539.8" rx="2.5" ry="2.75" fill="#0ac4f5"/>
<ellipse cx="338.4" cy="528.0" rx="2.5" ry="2.75" fill="#0ac4f5"/>
<ellipse cx="306.4" cy="547.8" rx="2.5" ry="2.75" fill="#0ac4f5"/>
<ellipse cx="320.3" cy="544.3" rx="2.5" ry="2.75" fill="#0ac4f5"/>
<ellipse cx="336.3" cy="559.7" rx="2.5" ry="2.75" fill="#0ac4f5"/>
<ellipse cx="346.7" cy="531.2" rx="2.5" ry="2.75" fill="#0ac4f5"/>
<ellipse cx="350.7" cy="537.7" rx="2.5" ry="2.75" fill="#0ac4f5"/>
<ellipse cx="332.8" cy="519.9" rx="2.5" ry="2.75" fill="#0ac4f5"/>
<ellipse cx="327.6" cy="551.4" rx="2.5" ry="2.75" fill="#0ac4f5"/>
<ellipse cx="375.2" cy="548.4" rx="2.5" ry="2.75" fill="#0ac4f5"/>
<ellipse cx="343.5" cy="526.9" rx="2.5" ry="2.75" fill="#0ac4f5"/>
<ellipse cx="336.4" cy="540.7" rx="2.5" ry="2.75" fill="#0ac4f5"/>
<ellipse cx="305.5" cy="554.9" rx="2.5" ry="2.75" fill="#0ac4f5"/>
<ellipse cx="369.3" cy="540.9" rx="2.5" ry="2.75" fill="#0ac4f5"/>
<ellipse cx="323.1" cy="554.6" rx="2.5" ry="2.75" fill="#0ac4f5"/>
<ellipse cx="364.3" cy="527.6" rx="2.5" ry="2.75" fill="#0ac4f5"/>
<ellipse cx="322.6" cy="556.4" rx="2.5" ry="2.75" fill="#0ac4f5"/>
<ellipse cx="336.7" cy="527.4" rx="2.5" ry="2.75" fill="#0ac4f5"/>
<ellipse cx="364.4" cy="555.7" rx="2.5" ry="2.75" fill="#0ac4f5"/>
<ellipse cx="324.6" cy="557.7" rx="2.5" ry="2.75" fill="#0ac4f5"/>
<ellipse cx="359.3" cy="539.6" rx="2.5" ry="2.75" fill="#0ac4f5"/>
<ellipse cx="306.2" cy="545.8" rx="2.5" ry="2.75" fill="#0ac4f5"/>
<ellipse cx="317.6" cy="528.8" rx="2.5" ry="2.75" fill="#0ac4f5"/>
<ellipse cx="331.4" cy="521.8" rx="2.5" ry="2.75" fill="#0ac4f5"/>
<ellipse cx="372.9" cy="534.4" rx="2.5" ry="2.75" fill="#0ac4f5"/>
<ellipse cx="365.6" cy="549.2" rx="2.5" ry="2.75" fill="#0ac4f5"/>
<ellipse cx="371.7" cy="546.4" rx="2.5" ry="2.75" fill="#0ac4f5"/>
<ellipse cx="367.3" cy="524.5" rx="2.5" ry="2.75" fill="#0ac4f5"/>
<ellipse cx="328.1" cy="524.1" rx="2.5" ry="2.75" fill="#0ac4f5"/>
<ellipse cx="318.2" cy="538.7" rx="2.5" ry="2.75" fill="#0ac4f5"/>
<ellipse cx="333.4" cy="526.4" rx="2.5" ry="2.75" fill="#0ac4f5"/>
<ellipse cx="353.2" cy="532.0" rx="2.5" ry="2.75" fill="#0ac4f5"/>
<ellipse cx="372.2" cy="546.6" rx="2.5" ry="2.75" fill="#0ac4f5"/>
<ellipse cx="327.7" cy="532.9" rx="2.5" ry="2.75" fill="#0ac4f5"/>
<ellipse cx="309.5" cy="535.2" rx="2.5" ry="2.75" fill="#0ac4f5"/>
<ellipse cx="322.0" cy="521.5" rx="2.5" ry="2.75" fill="#0ac4f5"/>
<ellipse cx="324.4" cy="541.2" rx="2.5" ry="2.75" fill="#0ac4f5"/>
<ellipse cx="373.9" cy="529.4" rx="2.5" ry="2.75" fill="#0ac4f5"/>
<ellipse cx="316.8" cy="526.8" rx="2.5" ry="2.75" fill="#0ac4f5"/>
<ellipse cx="375.6" cy="531.1" rx="2.5" ry="2.75" fill="#0ac4f5"/>
<ellipse cx="303.6" cy="546.9" rx="2.5" ry="2.75" fill="#0ac4f5"/>
<ellipse cx="347.3" cy="524.1" rx="2.5" ry="2.75" fill="#0ac4f5"/>
<ellipse cx="355.5" cy="565.1" rx="2.5" ry="2.75" fill="#0ac4f5"/>
<ellipse cx="339.3" cy="545.5" rx="2.5" ry="2.75" fill="#0ac4f5"/>
<ellipse cx="341.9" cy="525.6" rx="2.5" ry="2.75" fill="#0ac4f5"/>
<ellipse cx="341.5" cy="531.9" rx="2.5" ry="2.75" fill="#0ac4f5"/>
<ellipse cx="325.7" cy="520.0" rx="2.5" ry="2.75" fill="#0ac4f5"/>
<ellipse cx="343.7" cy="531.7" rx="2.5" ry="2.75" fill="#0ac4f5"/>
<ellipse cx="344.9" cy="547.9" rx="2.5" ry="2.75" fill="#0ac4f5"/>
<ellipse cx="318.5" cy="525.0" rx="2.5" ry="2.75" fill="#0ac4f5"/>
<ellipse cx="348.2" cy="558.4" rx="2.5" ry="2.75" fill="#0ac4f5"/>
<ellipse cx="355.9" cy="548.2" rx="2.5" ry="2.75" fill="#0ac4f5"/>
<ellipse cx="346.9" cy="518.8" rx="2.5" ry="2.75" fill="#0ac4f5"/>
<ellipse cx="330.3" cy="523.6" rx="2.5" ry="2.75" fill="#0ac4f5"/>
<ellipse cx="331.4" cy="532.4" rx="2.5" ry="2.75" fill="#0ac4f5"/>
<ellipse cx="362.2" cy="523.0" rx="2.5" ry="2.75" fill="#0ac4f5"/>
<ellipse cx="323.6" cy="553.7" rx="2.5" ry="2.75" fill="#0ac4f5"/>
<ellipse cx="368.9" cy="569.7" rx="2.5" ry="2.75" fill="#0ac4f5"/>
<ellipse cx="326.1" cy="533.5" rx="2.5" ry="2.75" fill="#0ac4f5"/>
<ellipse cx="329.2" cy="524.7" rx="2.5" ry="2.75" fill="#0ac4f5"/>
<ellipse cx="361.6" cy="562.5" rx="2.5" ry="2.75" fill="#0ac4f5"/>
<ellipse cx="363.3" cy="531.6" rx="2.5" ry="2.75" fill="#0ac4f5"/>
<ellipse cx="334.7" cy="522.7" rx="2.5" ry="2.75" fill="#0ac4f5"/>
<ellipse cx="339.2" cy="549.2" rx="2.5" ry="2.75" fill="#0ac4f5"/>
<ellipse cx="363.1" cy="522.6" rx="2.5" ry="2.75" fill="#0ac4f5"/>
<ellipse cx="328.4" cy="546.7" rx="2.5" ry="2.75" fill="#0ac4f5"/>
<ellipse cx="339.8" cy="558.9" rx="2.5" ry="2.75" fill="#0ac4f5"/>
<ellipse cx="344.1" cy="558.9" rx="2.5" ry="2.75" fill="#0ac4f5"/>
<ellipse cx="348.2" cy="553.4" rx="2.5" ry="2.75" fill="#0ac4f5"/>
<ellipse cx="331.8" cy="542.8" rx="2.5" ry="2.75" fill="#0ac4f5"/>
<ellipse cx="361.9" cy="540.0" rx="2.5" ry="2.75" fill="#0ac4f5"/>
<ellipse cx="346.1" cy="539.6" rx="2.5" ry="2.75" fill="#0ac4f5"/>
<ellipse cx="360.9" cy="561.3" rx="2.5" ry="2.75" fill="#0ac4f5"/>
<ellipse cx="355.4" cy="534.3" rx="2.5" ry="2.75" fill="#0ac4f5"/>
<ellipse cx="332.6" cy="545.7" rx="2.5" ry="2.75" fill="#0ac4f5"/>
<ellipse cx="316.7" cy="530.4" rx="2.5" ry="2.75" fill="#0ac4f5"/>
<ellipse cx="342.2" cy="520.2" rx="2.5" ry="2.75" fill="#0ac4f5"/>
<ellipse cx="359.4" cy="576.3" rx="2.5" ry="2.75" fill="#0ac4f5"/>
<ellipse cx="360.8" cy="548.6" rx="2.5" ry="2.75" fill="#0ac4f5"/>
<ellipse cx="359.8" cy="569.9" rx="2.5" ry="2.75" fill="#0ac4f5"/>
<ellipse cx="315.5" cy="548.7" rx="2.5" ry="2.75" fill="#0ac4f5"/>
<ellipse cx="344.0" cy="561.2" rx="2.5" ry="2.75" fill="#0ac4f5"/>
<ellipse cx="318.3" cy="552.4" rx="2.5" ry="2.75" fill="#0ac4f5"/>
<ellipse cx="322.7" cy="528.5" rx="2.5" ry="2.75" fill="#0ac4f5"/>
<ellipse cx="344.7" cy="538.9" rx="2.5" ry="2.75" fill="#0ac4f5"/>
<ellipse cx="317.9" cy="539.1" rx="2.5" ry="2.75" fill="#0ac4f5"/>
<ellipse cx="332.1" cy="533.8" rx="2.5" ry="2.75" fill="#0ac4f5"/>
<ellipse cx="324.9" cy="531.1" rx="2.5" ry="2.75" fill="#0ac4f5"/>
<ellipse cx="323.5" cy="558.2" rx="2.5" ry="2.75" fill="#0ac4f5"/>
<ellipse cx="350.6" cy="555.4" rx="2.5" ry="2.75" fill="#0ac4f5"/>
<ellipse cx="310.1" cy="541.8" rx="2.5" ry="2.75" fill="#0ac4f5"/>
<ellipse cx="342.3" cy="562.7" rx="2.5" ry="2.75" fill="#0ac4f5"/>
<ellipse cx="342.8" cy="522.9" rx="2.5" ry="2.75" fill="#0ac4f5"/>
<ellipse cx="338.4" cy="557.1" rx="2.5" ry="2.75" fill="#0ac4f5"/>
<ellipse cx="363.7" cy="544.4" rx="2.5" ry="2.75" fill="#0ac4f5"/>
<ellipse cx="308.5" cy="549.1" rx="2.5" ry="2.75" fill="#0ac4f5"/>
<ellipse cx="348.3" cy="551.3" rx="2.5" ry="2.75" fill="#0ac4f5"/>
<ellipse cx="318.4" cy="522.9" rx="2.5" ry="2.75" fill="#0ac4f5"/>
<ellipse cx="301.3" cy="535.9" rx="2.5" ry="2.75" fill="#0ac4f5"/>
<ellipse cx="372.8" cy="542.8" rx="2.5" ry="2.75" fill="#0ac4f5"/>
<ellipse cx="347.2" cy="544.0" rx="2.5" ry="2.75" fill="#0ac4f5"/>
<ellipse cx="326.8" cy="526.8" rx="2.5" ry="2.75" fill="#0ac4f5"/>
<ellipse cx="330.4" cy="541.6" rx="2.5" ry="2.75" fill="#0ac4f5"/>
<ellipse cx="307.8" cy="551.8" rx="2.5" ry="2.75" fill="#0ac4f5"/>
<ellipse cx="363.7" cy="547.6" rx="2.5" ry="2.75" fill="#0ac4f5"/>
<ellipse cx="356.5" cy="562.2" rx="2.5" ry="2.75" fill="#0ac4f5"/>
<ellipse cx="326.5" cy="556.1" rx="2.5" ry="2.75" fill="#0ac4f5"/>
<ellipse cx="352.2" cy="564.5" rx="2.5" ry="2.75" fill="#0ac4f5"/>
<ellipse cx="356.9" cy="572.8" rx="2.5" ry="2.75" fill="#0ac4f5"/>
<ellipse cx="338.7" cy="520.1" rx="2.5" ry="2.75" fill="#0ac4f5"/>
<ellipse cx="334.3" cy="554.8" rx="2.5" ry="2.75" fill="#0ac4f5"/>
<ellipse cx="334.6" cy="527.7" rx="2.5" ry="2.75" fill="#0ac4f5"/>
<ellipse cx="340.5" cy="530.9" rx="2.5" ry="2.75" fill="#0ac4f5"/>
<ellipse cx="339.5" cy="560.8" rx="2.5" ry="2.75" fill="#0ac4f5"/>
<ellipse cx="323.9" cy="544.5" rx="2.5" ry="2.75" fill="#0ac4f5"/>
<ellipse cx="351.1" cy="549.6" rx="2.5" ry="2.75" fill="#0ac4f5"/>
<ellipse cx="364.9" cy="571.5" rx="2.5" ry="2.75" fill="#0ac4f5"/>
<ellipse cx="338.9" cy="524.5" rx="2.5" ry="2.75" fill="#0ac4f5"/>
<ellipse cx="356.6" cy="541.4" rx="2.5" ry="2.75" fill="#0ac4f5"/>
<ellipse cx="368.9" cy="546.7" rx="2.5" ry="2.75" fill="#0ac4f5"/>
<ellipse cx="349.6" cy="542.4" rx="2.5" ry="2.75" fill="#0ac4f5"/>
<ellipse cx="326.2" cy="543.7" rx="2.5" ry="2.75" fill="#0ac4f5"/>
<ellipse cx="350.5" cy="567.9" rx="2.5" ry="2.75" fill="#0ac4f5"/>
<ellipse cx="368.1" cy="569.5" rx="2.5" ry="2.75" fill="#0ac4f5"/>
<ellipse cx="336.0" cy="534.9" rx="2.5" ry="2.75" fill="#0ac4f5"/>
<ellipse cx="371.7" cy="546.4" rx="2.5" ry="2.75" fill="#0ac4f5"/>
<ellipse cx="330.3" cy="556.5" rx="2.5" ry="2.75" fill="#0ac4f5"/>
<ellipse cx="340.9" cy="549.5" rx="2.5" ry="2.75" fill="#0ac4f5"/>
<ellipse cx="306.9" cy="533.2" rx="2.5" ry="2.75" fill="#0ac4f5"/>
<ellipse cx="357.7" cy="568.4" rx="2.5" ry="2.75" fill="#c09a0a"/>
<ellipse cx="358.7" cy="563.9" rx="2.5" ry="2.75" fill="#c09a0a"/>
<ellipse cx="359.9" cy="544.3" rx="2.5" ry="2.75" fill="#c09a0a"/>
<ellipse cx="368.4" cy="526.9" rx="2.5" ry="2.75" fill="#c09a0a"/>
<ellipse cx="326.2" cy="535.9" rx="2.5" ry="2.75" fill="#c09a0a"/>
<ellipse cx="343.8" cy="539.6" rx="2.5" ry="2.75" fill="#c09a0a"/>
<ellipse cx="353.8" cy="565.9" rx="2.5" ry="2.75" fill="#c09a0a"/>
<ellipse cx="366.4" cy="577.6" rx="2.5" ry="2.75" fill="#c09a0a"/>
<ellipse cx="369.7" cy="533.5" rx="2.5" ry="2.75" fill="#c09a0a"/>
<ellipse cx="360.2" cy="573.5" rx="2.5" ry="2.75" fill="#c09a0a"/>
<ellipse cx="307.1" cy="547.4" rx="2.5" ry="2.75" fill="#c09a0a"/>
<ellipse cx="312.1" cy="526.0" rx="2.5" ry="2.75" fill="#c09a0a"/>
<ellipse cx="338.7" cy="558.1" rx="2.5" ry="2.75" fill="#c09a0a"/>
<ellipse cx="362.0" cy="549.7" rx="2.5" ry="2.75" fill="#c09a0a"/>
<ellipse cx="319.3" cy="555.7" rx="2.5" ry="2.75" fill="#c09a0a"/>
<ellipse cx="320.8" cy="556.5" rx="2.5" ry="2.75" fill="#c09a0a"/>
<ellipse cx="352.5" cy="541.1" rx="2.5" ry="2.75" fill="#c09a0a"/>
<ellipse cx="364.4" cy="541.8" rx="2.5" ry="2.75" fill="#c09a0a"/>
<ellipse cx="320.0" cy="528.6" rx="2.5" ry="2.75" fill="#c09a0a"/>
<ellipse cx="346.4" cy="543.7" rx="2.5" ry="2.75" fill="#c09a0a"/>
<ellipse cx="283.4" cy="554.0" rx="2.5" ry="2.75" fill="#0ac4f5"/>
<ellipse cx="265.8" cy="597.8" rx="2.5" ry="2.75" fill="#0ac4f5"/>
<ellipse cx="283.3" cy="553.8" rx="2.5" ry="2.75" fill="#0ac4f5"/>
<ellipse cx="410.3" cy="531.7" rx="2.5" ry="2.75" fill="#0ac4f5"/>
<ellipse cx="422.0" cy="545.5" rx="2.5" ry="2.75" fill="#0ac4f5"/>
<ellipse cx="417.8" cy="570.8" rx="2.5" ry="2.75" fill="#0ac4f5"/>
<ellipse cx="385.9" cy="542.2" rx="2.5" ry="2.75" fill="#0ac4f5"/>
<ellipse cx="388.7" cy="539.4" rx="2.5" ry="2.75" fill="#0ac4f5"/>
<ellipse cx="395.6" cy="549.1" rx="2.5" ry="2.75" fill="#0ac4f5"/>
<ellipse cx="354.0" cy="571.3" rx="2.5" ry="2.75" fill="#0ac4f5"/>
<ellipse cx="355.4" cy="576.9" rx="2.5" ry="2.75" fill="#0ac4f5"/>
<ellipse cx="363.7" cy="579.6" rx="2.5" ry="2.75" fill="#0ac4f5"/>
<ellipse cx="338.2" cy="583.2" rx="2.5" ry="2.75" fill="#0ac4f5"/>
<ellipse cx="349.9" cy="596.3" rx="2.5" ry="2.75" fill="#0ac4f5"/>
<ellipse cx="333.2" cy="603.2" rx="2.5" ry="2.75" fill="#0ac4f5"/>
<ellipse cx="358.7" cy="606.0" rx="2.5" ry="2.75" fill="#0ac4f5"/>
<ellipse cx="387.9" cy="596.3" rx="2.5" ry="2.75" fill="#0ac4f5"/>
<ellipse cx="399.8" cy="599.9" rx="2.5" ry="2.75" fill="#0ac4f5"/>
<ellipse cx="345.7" cy="624.0" rx="2.5" ry="2.75" fill="#0ac4f5"/>
<ellipse cx="369.3" cy="565.8" rx="2.5" ry="2.75" fill="#0ac4f5"/>
<ellipse cx="343.7" cy="507.7" rx="2.5" ry="2.75" fill="#0ac4f5"/>
<ellipse cx="337.2" cy="513.4" rx="2.5" ry="2.75" fill="#0ac4f5"/>
<ellipse cx="343.7" cy="518.2" rx="2.5" ry="2.75" fill="#0ac4f5"/>
<ellipse cx="410.3" cy="531.8" rx="2.5" ry="2.75" fill="#0ac4f5"/>
<ellipse cx="421.5" cy="545.5" rx="2.5" ry="2.75" fill="#0ac4f5"/>
<ellipse cx="395.8" cy="549.0" rx="2.5" ry="2.75" fill="#0ac4f5"/>
<ellipse cx="387.0" cy="549.0" rx="2.5" ry="2.75" fill="#0ac4f5"/>
<ellipse cx="386.2" cy="542.3" rx="2.5" ry="2.75" fill="#0ac4f5"/>
<ellipse cx="389.4" cy="540.7" rx="2.5" ry="2.75" fill="#0ac4f5"/>
<ellipse cx="302.0" cy="528.0" rx="2.5" ry="2.75" fill="#0ac4f5"/>
<ellipse cx="300.0" cy="540.0" rx="2.5" ry="2.75" fill="#0ac4f5"/>
<ellipse cx="308.0" cy="560.0" rx="2.5" ry="2.75" fill="#0ac4f5"/>
<ellipse cx="296.0" cy="560.0" rx="2.5" ry="2.75" fill="#0ac4f5"/>
<ellipse cx="315.0" cy="565.0" rx="2.5" ry="2.75" fill="#0ac4f5"/>
<ellipse cx="325.0" cy="563.0" rx="2.5" ry="2.75" fill="#0ac4f5"/>
<ellipse cx="310.5" cy="530.5" rx="4.6" ry="5.2" fill="none" stroke="#111" stroke-width="1.3"/>
<ellipse cx="335.4" cy="528.9" rx="4.6" ry="5.2" fill="none" stroke="#111" stroke-width="1.3"/>
<ellipse cx="359.6" cy="550.0" rx="4.6" ry="5.2" fill="none" stroke="#111" stroke-width="1.3"/>
<ellipse cx="361.5" cy="548.3" rx="4.6" ry="5.2" fill="none" stroke="#111" stroke-width="1.3"/>
<ellipse cx="371.5" cy="554.7" rx="4.6" ry="5.2" fill="none" stroke="#111" stroke-width="1.3"/>
<ellipse cx="364.3" cy="572.2" rx="4.6" ry="5.2" fill="none" stroke="#111" stroke-width="1.3"/>
<ellipse cx="268.9" cy="580.5" rx="4.6" ry="5.2" fill="none" stroke="#111" stroke-width="1.3"/>
<ellipse cx="248.2" cy="580.4" rx="4.6" ry="5.2" fill="none" stroke="#111" stroke-width="1.3"/>
<ellipse cx="269.9" cy="581.2" rx="4.6" ry="5.2" fill="none" stroke="#111" stroke-width="1.3"/>
<ellipse cx="335.6" cy="528.6" rx="4.6" ry="5.2" fill="none" stroke="#111" stroke-width="1.3"/>
<path d="M294.1,588.9L298.4,597.1L302.7,588.9Z" fill="#8a10d0" stroke="#111" stroke-width="1"/>
<path d="M275.1,612.5L279.4,620.7L283.7,612.5Z" fill="#8a10d0" stroke="#111" stroke-width="1"/>
<path d="M289.7,594.7L293.9,602.8L298.2,594.7Z" fill="#8a10d0" stroke="#111" stroke-width="1"/>
<path d="M279.1,608.8L283.4,616.9L287.6,608.8Z" fill="#8a10d0" stroke="#111" stroke-width="1"/>
<path d="M263.9,622.9L268.2,631.0L272.5,622.9Z" fill="#8a10d0" stroke="#111" stroke-width="1"/>
<path d="M260.5,595.8L264.8,603.9L269.0,595.8Z" fill="#8a10d0" stroke="#111" stroke-width="1"/>
<path d="M270.0,609.4L274.2,617.5L278.5,609.4Z" fill="#8a10d0" stroke="#111" stroke-width="1"/>
<path d="M269.8,615.1L274.1,623.2L278.4,615.1Z" fill="#8a10d0" stroke="#111" stroke-width="1"/>
<path d="M255.0,595.4L259.3,603.5L263.5,595.4Z" fill="#8a10d0" stroke="#111" stroke-width="1"/>
<path d="M254.7,638.3L259.0,646.4L263.3,638.3Z" fill="#8a10d0" stroke="#111" stroke-width="1"/>
<path d="M281.7,599.1L285.9,607.2L290.2,599.1Z" fill="#8a10d0" stroke="#111" stroke-width="1"/>
<path d="M260.4,622.9L264.7,631.0L269.0,622.9Z" fill="#8a10d0" stroke="#111" stroke-width="1"/>
<path d="M288.4,606.4L292.7,614.5L297.0,606.4Z" fill="#8a10d0" stroke="#111" stroke-width="1"/>
<path d="M259.5,594.5L263.8,602.6L268.0,594.5Z" fill="#8a10d0" stroke="#111" stroke-width="1"/>
<path d="M276.2,619.5L280.4,627.6L284.7,619.5Z" fill="#8a10d0" stroke="#111" stroke-width="1"/>
<path d="M258.2,622.8L262.5,631.0L266.8,622.8Z" fill="#8a10d0" stroke="#111" stroke-width="1"/>
<path d="M280.2,594.4L284.5,602.5L288.8,594.4Z" fill="#8a10d0" stroke="#111" stroke-width="1"/>
<path d="M239.7,631.8L243.9,639.9L248.2,631.8Z" fill="#8a10d0" stroke="#111" stroke-width="1"/>
<path d="M240.3,627.5L244.6,635.6L248.9,627.5Z" fill="#8a10d0" stroke="#111" stroke-width="1"/>
<path d="M244.5,634.1L248.8,642.2L253.0,634.1Z" fill="#8a10d0" stroke="#111" stroke-width="1"/>
<path d="M290.9,600.3L295.1,608.4L299.4,600.3Z" fill="#8a10d0" stroke="#111" stroke-width="1"/>
<path d="M262.4,621.6L266.7,629.7L271.0,621.6Z" fill="#8a10d0" stroke="#111" stroke-width="1"/>
<path d="M145.8,548.3L150.1,556.5L154.4,548.3Z" fill="#8a10d0" stroke="#111" stroke-width="1"/>
<path d="M216.3,552.0L220.6,560.2L224.9,552.0Z" fill="#a0a0a0" stroke="#111" stroke-width="1"/>
<rect x="229.9" y="561.5" width="8.832" height="9.832" fill="#0b5a1c" stroke="#111" stroke-width="1"/>
<rect x="235.2" y="570.3" width="8.832" height="9.832" fill="#0b5a1c" stroke="#111" stroke-width="1"/>
<rect x="211.5" y="581.5" width="8.832" height="9.832" fill="#0b5a1c" stroke="#111" stroke-width="1"/>
<rect x="234.3" y="591.3" width="8.832" height="9.832" fill="#0b5a1c" stroke="#111" stroke-width="1"/>
<path d="M187.0,602.0L191.4,593.6L195.8,602.0Z" fill="#fff200" stroke="#111" stroke-width="1" stroke-linejoin="miter"/>
<path d="M209.0,601.1L213.3,609.3L217.6,601.1Z" fill="#a0a0a0" stroke="#111" stroke-width="1"/>
<path d="M271.2,573.9L275.5,582.1L279.8,573.9Z" fill="#a0a0a0" stroke="#111" stroke-width="1"/>
<path d="M209.4,601.2L213.7,609.4L218.0,601.2Z" fill="#a0a0a0" stroke="#111" stroke-width="1"/>
<path d="M202.1,567.5L206.4,575.7L210.7,567.5Z" fill="#a0a0a0" stroke="#111" stroke-width="1"/>
<path d="M157.1,571.2L161.4,579.4L165.7,571.2Z" fill="#a0a0a0" stroke="#111" stroke-width="1"/>
<path d="M202.1,566.3L206.4,574.5L210.7,566.3Z" fill="#a0a0a0" stroke="#111" stroke-width="1"/>
<path d="M133.7,606.5L138.0,614.7L142.3,606.5Z" fill="#a0a0a0" stroke="#111" stroke-width="1"/>
<path d="M208.8,601.3L213.1,609.5L217.4,601.3Z" fill="#a0a0a0" stroke="#111" stroke-width="1"/>
<path d="M132.6,634.6L136.9,642.8L141.2,634.6Z" fill="#a0a0a0" stroke="#111" stroke-width="1"/>
<path d="M44.9,628.7L49.2,636.9L53.5,628.7Z" fill="#a0a0a0" stroke="#111" stroke-width="1"/>
<path d="M133.8,606.5L138.1,614.7L142.4,606.5Z" fill="#a0a0a0" stroke="#111" stroke-width="1"/>
<path d="M132.5,635.1L136.8,643.3L141.1,635.1Z" fill="#a0a0a0" stroke="#111" stroke-width="1"/>
<path d="M110.6,642.1L114.9,650.3L119.2,642.1Z" fill="#a0a0a0" stroke="#111" stroke-width="1"/>
<path d="M97.9,647.9L102.2,656.1L106.5,647.9Z" fill="#a0a0a0" stroke="#111" stroke-width="1"/>
<path d="M90.6,658.5L94.9,666.7L99.2,658.5Z" fill="#a0a0a0" stroke="#111" stroke-width="1"/>
<path d="M123.8,654.8L128.1,663.0L132.4,654.8Z" fill="#a0a0a0" stroke="#111" stroke-width="1"/>
<path d="M105.2,675.8L109.5,684.0L113.8,675.8Z" fill="#a0a0a0" stroke="#111" stroke-width="1"/>
<path d="M173.7,676.3L178.0,684.5L182.3,676.3Z" fill="#a0a0a0" stroke="#111" stroke-width="1"/>
<path d="M173.9,675.9L178.2,684.1L182.5,675.9Z" fill="#a0a0a0" stroke="#111" stroke-width="1"/>
<path d="M129.6,647.0L133.9,655.2L138.2,647.0Z" fill="#8a10d0" stroke="#111" stroke-width="1"/>
<path d="M154.8,702.0L159.1,710.2L163.4,702.0Z" fill="#8a10d0" stroke="#111" stroke-width="1"/>
<path d="M174.3,612.9L178.6,621.1L182.9,612.9Z" fill="#8a10d0" stroke="#111" stroke-width="1"/>
<path d="M178.3,619.3L182.6,627.5L186.9,619.3Z" fill="#8a10d0" stroke="#111" stroke-width="1"/>
<path d="M218.5,599.3L222.8,607.5L227.1,599.3Z" fill="#8a10d0" stroke="#111" stroke-width="1"/>
<path d="M222.5,602.5L226.8,610.7L231.1,602.5Z" fill="#8a10d0" stroke="#111" stroke-width="1"/>
<path d="M220.1,626.6L224.4,634.8L228.7,626.6Z" fill="#8a10d0" stroke="#111" stroke-width="1"/>
<path d="M222.5,629.8L226.8,638.0L231.1,629.8Z" fill="#8a10d0" stroke="#111" stroke-width="1"/>
<path d="M306.2,581.6L310.5,589.8L314.8,581.6Z" fill="#8a10d0" stroke="#111" stroke-width="1"/>
<path d="M304.1,580.4L308.4,588.6L312.7,580.4Z" fill="#8a10d0" stroke="#111" stroke-width="1"/>
<path d="M187.1,602.4L191.5,594.0L195.9,602.4Z" fill="#fff200" stroke="#111" stroke-width="1" stroke-linejoin="miter"/>
<path d="M196.0,656.6L200.4,648.2L204.8,656.6Z" fill="#fff200" stroke="#111" stroke-width="1" stroke-linejoin="miter"/>
<path d="M201.3,656.1L205.7,647.7L210.1,656.1Z" fill="#fff200" stroke="#111" stroke-width="1" stroke-linejoin="miter"/>
<path d="M205.7,656.1L210.1,647.7L214.5,656.1Z" fill="#fff200" stroke="#111" stroke-width="1" stroke-linejoin="miter"/>
<path d="M209.2,656.1L213.6,647.7L218.0,656.1Z" fill="#fff200" stroke="#111" stroke-width="1" stroke-linejoin="miter"/>
<path d="M139.5,639.8L143.9,631.4L148.3,639.8Z" fill="#33ee33" stroke="#111" stroke-width="1" stroke-linejoin="miter"/>
<path d="M144.3,644.0L148.7,635.6L153.1,644.0Z" fill="#33ee33" stroke="#111" stroke-width="1" stroke-linejoin="miter"/>
<path d="M148.3,658.9L152.7,650.5L157.1,658.9Z" fill="#33ee33" stroke="#111" stroke-width="1" stroke-linejoin="miter"/>
<path d="M139.4,639.7L143.8,631.3L148.2,639.7Z" fill="#33ee33" stroke="#111" stroke-width="1" stroke-linejoin="miter"/>
<path d="M144.2,643.7L148.6,635.3L153.0,643.7Z" fill="#33ee33" stroke="#111" stroke-width="1" stroke-linejoin="miter"/>
<path d="M165.1,647.7L169.5,639.3L173.9,647.7Z" fill="#33ee33" stroke="#111" stroke-width="1" stroke-linejoin="miter"/>
<path d="M187.5,638.9L191.9,630.5L196.3,638.9Z" fill="#33ee33" stroke="#111" stroke-width="1" stroke-linejoin="miter"/>
<path d="M198.3,647.7L202.7,639.3L207.1,647.7Z" fill="#33ee33" stroke="#111" stroke-width="1" stroke-linejoin="miter"/>
<path d="M212.8,632.5L217.2,624.1L221.6,632.5Z" fill="#33ee33" stroke="#111" stroke-width="1" stroke-linejoin="miter"/>
<path d="M212.8,643.7L217.2,635.3L221.6,643.7Z" fill="#33ee33" stroke="#111" stroke-width="1" stroke-linejoin="miter"/>
<path d="M198.7,647.3L203.1,638.9L207.5,647.3Z" fill="#33ee33" stroke="#111" stroke-width="1" stroke-linejoin="miter"/>
<path d="M213.0,643.8L217.4,635.4L221.8,643.8Z" fill="#33ee33" stroke="#111" stroke-width="1" stroke-linejoin="miter"/>
<path d="M214.4,658.7L218.8,650.3L223.2,658.7Z" fill="#33ee33" stroke="#111" stroke-width="1" stroke-linejoin="miter"/>
<path d="M217.9,663.1L222.3,654.7L226.7,663.1Z" fill="#33ee33" stroke="#111" stroke-width="1" stroke-linejoin="miter"/>
<path d="M247.7,653.5L252.1,645.1L256.5,653.5Z" fill="#33ee33" stroke="#111" stroke-width="1" stroke-linejoin="miter"/>
<path d="M300.8,631.2L305.2,622.8L309.6,631.2Z" fill="#33ee33" stroke="#111" stroke-width="1" stroke-linejoin="miter"/>
<path d="M219.8,590.0L224.1,598.2L228.4,590.0Z" fill="#8a10d0" stroke="#111" stroke-width="1"/>
<path d="M225.4,594.0L229.7,602.2L234.0,594.0Z" fill="#8a10d0" stroke="#111" stroke-width="1"/>
<path d="M218.2,599.6L222.5,607.8L226.8,599.6Z" fill="#8a10d0" stroke="#111" stroke-width="1"/>
<path d="M223.8,602.8L228.1,611.0L232.4,602.8Z" fill="#8a10d0" stroke="#111" stroke-width="1"/>
<path d="M226.2,609.3L230.5,617.5L234.8,609.3Z" fill="#8a10d0" stroke="#111" stroke-width="1"/>
<path d="M256.7,590.0L261.0,598.2L265.3,590.0Z" fill="#8a10d0" stroke="#111" stroke-width="1"/>
<path d="M258.3,598.0L262.6,606.2L266.9,598.0Z" fill="#8a10d0" stroke="#111" stroke-width="1"/>
<path d="M264.8,602.0L269.1,610.2L273.4,602.0Z" fill="#8a10d0" stroke="#111" stroke-width="1"/>
<path d="M269.6,606.0L273.9,614.2L278.2,606.0Z" fill="#8a10d0" stroke="#111" stroke-width="1"/>
<path d="M263.1,610.9L267.4,619.1L271.7,610.9Z" fill="#8a10d0" stroke="#111" stroke-width="1"/>
<path d="M266.4,615.7L270.7,623.9L275.0,615.7Z" fill="#8a10d0" stroke="#111" stroke-width="1"/>
<path d="M272.8,614.1L277.1,622.3L281.4,614.1Z" fill="#8a10d0" stroke="#111" stroke-width="1"/>
<path d="M279.2,606.0L283.5,614.2L287.8,606.0Z" fill="#8a10d0" stroke="#111" stroke-width="1"/>
<path d="M285.6,602.8L289.9,611.0L294.2,602.8Z" fill="#8a10d0" stroke="#111" stroke-width="1"/>
<path d="M290.4,597.2L294.7,605.4L299.0,597.2Z" fill="#8a10d0" stroke="#111" stroke-width="1"/>
<path d="M288.8,611.7L293.1,619.9L297.4,611.7Z" fill="#8a10d0" stroke="#111" stroke-width="1"/>
<path d="M279.2,609.3L283.5,617.5L287.8,609.3Z" fill="#8a10d0" stroke="#111" stroke-width="1"/>
<path d="M218.2,626.9L222.5,635.1L226.8,626.9Z" fill="#8a10d0" stroke="#111" stroke-width="1"/>
<path d="M222.2,630.1L226.5,638.3L230.8,630.1Z" fill="#8a10d0" stroke="#111" stroke-width="1"/>
<path d="M227.8,631.7L232.1,639.9L236.4,631.7Z" fill="#8a10d0" stroke="#111" stroke-width="1"/>
<path d="M234.2,635.0L238.5,643.2L242.8,635.0Z" fill="#8a10d0" stroke="#111" stroke-width="1"/>
<path d="M239.1,639.0L243.4,647.2L247.7,639.0Z" fill="#8a10d0" stroke="#111" stroke-width="1"/>
<path d="M243.9,636.6L248.2,644.8L252.5,636.6Z" fill="#8a10d0" stroke="#111" stroke-width="1"/>
<path d="M250.3,639.8L254.6,648.0L258.9,639.8Z" fill="#8a10d0" stroke="#111" stroke-width="1"/>
<path d="M256.7,637.4L261.0,645.6L265.3,637.4Z" fill="#8a10d0" stroke="#111" stroke-width="1"/>
<path d="M261.5,633.3L265.8,641.5L270.1,633.3Z" fill="#8a10d0" stroke="#111" stroke-width="1"/>
<path d="M263.9,629.3L268.2,637.5L272.5,629.3Z" fill="#8a10d0" stroke="#111" stroke-width="1"/>
<path d="M270.7,620.9L275.0,629.1L279.3,620.9Z" fill="#8a10d0" stroke="#111" stroke-width="1"/>
<path d="M265.7,625.9L270.0,634.1L274.3,625.9Z" fill="#8a10d0" stroke="#111" stroke-width="1"/>
<path d="M275.7,601.9L280.0,610.1L284.3,601.9Z" fill="#8a10d0" stroke="#111" stroke-width="1"/>
<path d="M251.7,642.9L256.0,651.1L260.3,642.9Z" fill="#8a10d0" stroke="#111" stroke-width="1"/>
<path d="M257.7,623.9L262.0,632.1L266.3,623.9Z" fill="#8a10d0" stroke="#111" stroke-width="1"/>
<path d="M259.7,615.9L264.0,624.1L268.3,615.9Z" fill="#8a10d0" stroke="#111" stroke-width="1"/>
<path d="M274.3,595.9L278.7,587.5L283.1,595.9Z" fill="#fff200" stroke="#111" stroke-width="1" stroke-linejoin="miter"/>
<path d="M279.1,603.1L283.5,594.7L287.9,603.1Z" fill="#fff200" stroke="#111" stroke-width="1" stroke-linejoin="miter"/>
<path d="M271.1,603.9L275.5,595.5L279.9,603.9Z" fill="#fff200" stroke="#111" stroke-width="1" stroke-linejoin="miter"/>
<path d="M293.6,612.7L298.0,604.3L302.4,612.7Z" fill="#fff200" stroke="#111" stroke-width="1" stroke-linejoin="miter"/>
<path d="M275.1,608.7L279.5,600.3L283.9,608.7Z" fill="#fff200" stroke="#111" stroke-width="1" stroke-linejoin="miter"/>
<path d="M283.6,601.2L288.0,592.8L292.4,601.2Z" fill="#fff200" stroke="#111" stroke-width="1" stroke-linejoin="miter"/>
<path d="M290.7,593.6L294.7,598.1L290.7,602.6L286.7,598.1Z" fill="#44e0fa" stroke="#111" stroke-width="1"/>
<path d="M291.5,602.4L295.5,606.9L291.5,611.4L287.5,606.9Z" fill="#44e0fa" stroke="#111" stroke-width="1"/>
<path d="M287.9,626.4L292.3,618.0L296.7,626.4Z" fill="#b8900c" stroke="#111" stroke-width="1" stroke-linejoin="miter"/>
<path d="M280.6,616.2L285.0,607.8L289.4,616.2Z" fill="#b8900c" stroke="#111" stroke-width="1" stroke-linejoin="miter"/>
<path d="M260.6,621.6L265.0,613.2L269.4,621.6Z" fill="#33ee33" stroke="#111" stroke-width="1" stroke-linejoin="miter"/>
<path d="M276.7,626.4L281.1,618.0L285.5,626.4Z" fill="#33ee33" stroke="#111" stroke-width="1" stroke-linejoin="miter"/>
<path d="M282.3,627.2L286.7,618.8L291.1,627.2Z" fill="#33ee33" stroke="#111" stroke-width="1" stroke-linejoin="miter"/>
<path d="M268.7,630.4L273.1,622.0L277.5,630.4Z" fill="#33ee33" stroke="#111" stroke-width="1" stroke-linejoin="miter"/>
<path d="M269.5,634.4L273.9,626.0L278.3,634.4Z" fill="#33ee33" stroke="#111" stroke-width="1" stroke-linejoin="miter"/>
<path d="M213.3,632.8L217.7,624.4L222.1,632.8Z" fill="#33ee33" stroke="#111" stroke-width="1" stroke-linejoin="miter"/>
<path d="M213.3,643.3L217.7,634.9L222.1,643.3Z" fill="#33ee33" stroke="#111" stroke-width="1" stroke-linejoin="miter"/>
<path d="M198.8,648.1L203.2,639.7L207.6,648.1Z" fill="#33ee33" stroke="#111" stroke-width="1" stroke-linejoin="miter"/>
<rect x="235.8" y="599.4" width="6.992" height="6.992" fill="#fff" stroke="#222" stroke-width="1"/>
<line x1="235.80" y1="606.40" x2="242.80" y2="599.40" stroke="#222" stroke-width="1" />
<rect x="244.7" y="597.8" width="6.992" height="6.992" fill="#fff" stroke="#222" stroke-width="1"/>
<line x1="244.70" y1="604.80" x2="251.70" y2="597.80" stroke="#222" stroke-width="1" />
<rect x="232.6" y="607.5" width="6.992" height="6.992" fill="#fff" stroke="#222" stroke-width="1"/>
<line x1="232.60" y1="614.50" x2="239.60" y2="607.50" stroke="#222" stroke-width="1" />
<rect x="246.3" y="606.6" width="6.992" height="6.992" fill="#fff" stroke="#222" stroke-width="1"/>
<line x1="246.30" y1="613.60" x2="253.30" y2="606.60" stroke="#222" stroke-width="1" />
<rect x="228.6" y="618.7" width="6.992" height="6.992" fill="#fff" stroke="#222" stroke-width="1"/>
<line x1="228.60" y1="625.70" x2="235.60" y2="618.70" stroke="#222" stroke-width="1" />
<rect x="237.5" y="619.5" width="6.992" height="6.992" fill="#fff" stroke="#222" stroke-width="1"/>
<line x1="237.50" y1="626.50" x2="244.50" y2="619.50" stroke="#222" stroke-width="1" />
<rect x="247.9" y="621.9" width="6.992" height="6.992" fill="#fff" stroke="#222" stroke-width="1"/>
<line x1="247.90" y1="628.90" x2="254.90" y2="621.90" stroke="#222" stroke-width="1" />
<rect x="254.3" y="621.1" width="6.992" height="6.992" fill="#fff" stroke="#222" stroke-width="1"/>
<line x1="254.30" y1="628.10" x2="261.30" y2="621.10" stroke="#222" stroke-width="1" />
<rect x="235.0" y="625.9" width="6.992" height="6.992" fill="#fff" stroke="#222" stroke-width="1"/>
<line x1="235.00" y1="632.90" x2="242.00" y2="625.90" stroke="#222" stroke-width="1" />
<rect x="244.7" y="626.7" width="6.992" height="6.992" fill="#fff" stroke="#222" stroke-width="1"/>
<line x1="244.70" y1="633.70" x2="251.70" y2="626.70" stroke="#222" stroke-width="1" />
<rect x="256.7" y="625.9" width="6.992" height="6.992" fill="#fff" stroke="#222" stroke-width="1"/>
<line x1="256.70" y1="632.90" x2="263.70" y2="625.90" stroke="#222" stroke-width="1" />
<rect x="250.3" y="630.7" width="6.992" height="6.992" fill="#fff" stroke="#222" stroke-width="1"/>
<line x1="250.30" y1="637.70" x2="257.30" y2="630.70" stroke="#222" stroke-width="1" />
<rect x="240.5" y="612.5" width="6.992" height="6.992" fill="#fff" stroke="#222" stroke-width="1"/>
<line x1="240.50" y1="619.50" x2="247.50" y2="612.50" stroke="#222" stroke-width="1" />
<rect x="252.5" y="602.5" width="6.992" height="6.992" fill="#fff" stroke="#222" stroke-width="1"/>
<line x1="252.50" y1="609.50" x2="259.50" y2="602.50" stroke="#222" stroke-width="1" />
<path d="M252.3,618.6L257.8,608.2L263.3,618.6Z" fill="#0808c8" stroke="#111" stroke-width="1" stroke-linejoin="miter"/>
<rect x="235.8" y="602.4" width="8.512" height="8.512" fill="#fff" stroke="#222" stroke-width="1"/>
<line x1="235.82" y1="610.96" x2="244.33" y2="602.45" stroke="#222" stroke-width="1" />
<rect x="251.0" y="620.1" width="8.512" height="8.512" fill="#fff" stroke="#222" stroke-width="1"/>
<line x1="251.05" y1="628.65" x2="259.56" y2="620.14" stroke="#222" stroke-width="1" />
<rect x="240.7" y="594.9" width="8.512" height="8.512" fill="#fff" stroke="#222" stroke-width="1"/>
<line x1="240.67" y1="603.42" x2="249.18" y2="594.91" stroke="#222" stroke-width="1" />
<rect x="234.0" y="613.5" width="8.512" height="8.512" fill="#fff" stroke="#222" stroke-width="1"/>
<line x1="233.96" y1="621.96" x2="242.47" y2="613.45" stroke="#222" stroke-width="1" />
<rect x="248.2" y="615.0" width="8.512" height="8.512" fill="#fff" stroke="#222" stroke-width="1"/>
<line x1="248.19" y1="623.51" x2="256.70" y2="615.00" stroke="#222" stroke-width="1" />
<rect x="234.0" y="616.7" width="8.512" height="8.512" fill="#fff" stroke="#222" stroke-width="1"/>
<line x1="234.02" y1="625.24" x2="242.53" y2="616.73" stroke="#222" stroke-width="1" />
<rect x="253.3" y="621.0" width="8.512" height="8.512" fill="#fff" stroke="#222" stroke-width="1"/>
<line x1="253.34" y1="629.48" x2="261.85" y2="620.97" stroke="#222" stroke-width="1" />
<rect x="238.0" y="599.8" width="8.512" height="8.512" fill="#fff" stroke="#222" stroke-width="1"/>
<line x1="237.97" y1="608.32" x2="246.48" y2="599.81" stroke="#222" stroke-width="1" />
<rect x="229.8" y="597.5" width="8.512" height="8.512" fill="#fff" stroke="#222" stroke-width="1"/>
<line x1="229.80" y1="606.03" x2="238.32" y2="597.52" stroke="#222" stroke-width="1" />
<rect x="254.7" y="617.3" width="8.512" height="8.512" fill="#fff" stroke="#222" stroke-width="1"/>
<line x1="254.71" y1="625.80" x2="263.22" y2="617.29" stroke="#222" stroke-width="1" />
<rect x="253.4" y="622.2" width="8.512" height="8.512" fill="#fff" stroke="#222" stroke-width="1"/>
<line x1="253.38" y1="630.72" x2="261.89" y2="622.20" stroke="#222" stroke-width="1" />
<rect x="244.4" y="631.7" width="8.512" height="8.512" fill="#fff" stroke="#222" stroke-width="1"/>
<line x1="244.44" y1="640.21" x2="252.95" y2="631.70" stroke="#222" stroke-width="1" />
<rect x="239.2" y="615.3" width="8.512" height="8.512" fill="#fff" stroke="#222" stroke-width="1"/>
<line x1="239.24" y1="623.79" x2="247.75" y2="615.27" stroke="#222" stroke-width="1" />
<rect x="254.1" y="617.9" width="8.512" height="8.512" fill="#fff" stroke="#222" stroke-width="1"/>
<line x1="254.11" y1="626.38" x2="262.63" y2="617.87" stroke="#222" stroke-width="1" />
<rect x="255.2" y="616.3" width="8.512" height="8.512" fill="#fff" stroke="#222" stroke-width="1"/>
<line x1="255.18" y1="624.77" x2="263.69" y2="616.26" stroke="#222" stroke-width="1" />
<rect x="234.3" y="605.0" width="8.512" height="8.512" fill="#fff" stroke="#222" stroke-width="1"/>
<line x1="234.26" y1="613.54" x2="242.78" y2="605.03" stroke="#222" stroke-width="1" />
<rect x="229.4" y="602.8" width="8.512" height="8.512" fill="#fff" stroke="#222" stroke-width="1"/>
<line x1="229.38" y1="611.33" x2="237.89" y2="602.82" stroke="#222" stroke-width="1" />
<rect x="230.1" y="604.6" width="8.512" height="8.512" fill="#fff" stroke="#222" stroke-width="1"/>
<line x1="230.08" y1="613.10" x2="238.59" y2="604.58" stroke="#222" stroke-width="1" />
<rect x="247.7" y="608.0" width="8.512" height="8.512" fill="#fff" stroke="#222" stroke-width="1"/>
<line x1="247.72" y1="616.48" x2="256.23" y2="607.97" stroke="#222" stroke-width="1" />
<rect x="239.0" y="601.9" width="8.512" height="8.512" fill="#fff" stroke="#222" stroke-width="1"/>
<line x1="238.96" y1="610.43" x2="247.47" y2="601.91" stroke="#222" stroke-width="1" />
<rect x="248.1" y="617.5" width="8.512" height="8.512" fill="#fff" stroke="#222" stroke-width="1"/>
<line x1="248.13" y1="626.01" x2="256.64" y2="617.50" stroke="#222" stroke-width="1" />
<rect x="232.4" y="622.2" width="8.512" height="8.512" fill="#fff" stroke="#222" stroke-width="1"/>
<line x1="232.39" y1="630.69" x2="240.90" y2="622.18" stroke="#222" stroke-width="1" />
<path d="M252.3,618.6L257.8,608.2L263.3,618.6Z" fill="#0808c8" stroke="#111" stroke-width="1" stroke-linejoin="miter"/>
<path d="M227.3,582.9L233.4,588.6L227.3,594.3L221.2,588.6Z" fill="#000"/>
<rect x="193.10" y="623.60" width="9.80" height="11.20" fill="#000" stroke="none" stroke-width="1" />
<path d="M198.8,683L204.5,671.4L210.2,683Z" fill="#000"/>
<circle cx="337.4" cy="561.6" r="6.8" fill="#000"/>
<line x1="145.00" y1="588.00" x2="213.00" y2="588.00" stroke="#111" stroke-width="1.2" />
<text transform="translate(109.39,593.50) scale(0.821,1)" font-size="11.5" font-weight="bold" font-style="normal" fill="#111" stroke="#111" stroke-width="0.35">E_Morb</text>
<text transform="translate(186.17,621.80) scale(0.870,1)" font-size="11.2" font-weight="bold" font-style="normal" fill="#111" stroke="#111" stroke-width="0.35">PM</text>
<text transform="translate(191.29,696.20) scale(0.858,1)" font-size="11" font-weight="bold" font-style="normal" fill="#111" stroke="#111" stroke-width="0.35">N_Morb</text>
<text transform="translate(315.81,572.20) scale(0.877,1)" font-size="11" font-weight="bold" font-style="normal" fill="#111" stroke="#111" stroke-width="0.35">OIB</text>
<text transform="translate(66.52,682.10) scale(0.906,1)" font-size="10.5" font-weight="bold" font-style="normal" fill="#111" stroke="#111" stroke-width="0.35">+ΔNb</text>
<text transform="translate(91.61,688.50) scale(0.838,1)" font-size="7.5" font-weight="bold" font-style="normal" fill="#111" stroke="#111" stroke-width="0.15">Zr</text>
<line x1="80.70" y1="706.00" x2="80.70" y2="690.00" stroke="#222" stroke-width="1.2" />
<path d="M80.7,684.5L83.7,693.5L80.7,691.5L77.7,693.5Z" fill="#111"/>
<text transform="translate(378.62,583.80) scale(0.854,1)" font-size="11" font-weight="bold" font-style="normal" fill="#111" stroke="#111" stroke-width="0.35">−ΔNb</text>
<text transform="translate(403.40,590.70) scale(0.908,1)" font-size="7.5" font-weight="bold" font-style="normal" fill="#111" stroke="#111" stroke-width="0.15">Zr</text>
<line x1="392.90" y1="546.40" x2="392.90" y2="566.00" stroke="#222" stroke-width="1.2" />
<path d="M392.9,572.7L389.9,563.7L392.9,565.7L395.9,563.7Z" fill="#111"/>
<line x1="33.80" y1="661.20" x2="435.00" y2="468.50" stroke="#111" stroke-width="1.2" />
<line x1="33.80" y1="729.00" x2="435.00" y2="526.20" stroke="#111" stroke-width="1.2" />
<line x1="105.30" y1="754.00" x2="105.30" y2="747.00" stroke="#111" stroke-width="1" />
<line x1="105.30" y1="441.60" x2="105.30" y2="448.60" stroke="#111" stroke-width="1" />
<line x1="341.60" y1="754.00" x2="341.60" y2="747.00" stroke="#111" stroke-width="1" />
<line x1="341.60" y1="441.60" x2="341.60" y2="448.60" stroke="#111" stroke-width="1" />
<line x1="52.88" y1="754.00" x2="52.88" y2="750.00" stroke="#111" stroke-width="1" />
<line x1="52.88" y1="441.60" x2="52.88" y2="445.60" stroke="#111" stroke-width="1" />
<line x1="68.70" y1="754.00" x2="68.70" y2="750.00" stroke="#111" stroke-width="1" />
<line x1="68.70" y1="441.60" x2="68.70" y2="445.60" stroke="#111" stroke-width="1" />
<line x1="82.40" y1="754.00" x2="82.40" y2="750.00" stroke="#111" stroke-width="1" />
<line x1="82.40" y1="441.60" x2="82.40" y2="445.60" stroke="#111" stroke-width="1" />
<line x1="94.49" y1="754.00" x2="94.49" y2="750.00" stroke="#111" stroke-width="1" />
<line x1="94.49" y1="441.60" x2="94.49" y2="445.60" stroke="#111" stroke-width="1" />
<line x1="176.43" y1="754.00" x2="176.43" y2="750.00" stroke="#111" stroke-width="1" />
<line x1="176.43" y1="441.60" x2="176.43" y2="445.60" stroke="#111" stroke-width="1" />
<line x1="218.04" y1="754.00" x2="218.04" y2="750.00" stroke="#111" stroke-width="1" />
<line x1="218.04" y1="441.60" x2="218.04" y2="445.60" stroke="#111" stroke-width="1" />
<line x1="247.57" y1="754.00" x2="247.57" y2="750.00" stroke="#111" stroke-width="1" />
<line x1="247.57" y1="441.60" x2="247.57" y2="445.60" stroke="#111" stroke-width="1" />
<line x1="270.47" y1="754.00" x2="270.47" y2="750.00" stroke="#111" stroke-width="1" />
<line x1="270.47" y1="441.60" x2="270.47" y2="445.60" stroke="#111" stroke-width="1" />
<line x1="289.18" y1="754.00" x2="289.18" y2="750.00" stroke="#111" stroke-width="1" />
<line x1="289.18" y1="441.60" x2="289.18" y2="445.60" stroke="#111" stroke-width="1" />
<line x1="305.00" y1="754.00" x2="305.00" y2="750.00" stroke="#111" stroke-width="1" />
<line x1="305.00" y1="441.60" x2="305.00" y2="445.60" stroke="#111" stroke-width="1" />
<line x1="318.70" y1="754.00" x2="318.70" y2="750.00" stroke="#111" stroke-width="1" />
<line x1="318.70" y1="441.60" x2="318.70" y2="445.60" stroke="#111" stroke-width="1" />
<line x1="330.79" y1="754.00" x2="330.79" y2="750.00" stroke="#111" stroke-width="1" />
<line x1="330.79" y1="441.60" x2="330.79" y2="445.60" stroke="#111" stroke-width="1" />
<line x1="412.73" y1="754.00" x2="412.73" y2="750.00" stroke="#111" stroke-width="1" />
<line x1="412.73" y1="441.60" x2="412.73" y2="445.60" stroke="#111" stroke-width="1" />
<line x1="33.80" y1="441.60" x2="40.80" y2="441.60" stroke="#111" stroke-width="1" />
<line x1="435.00" y1="441.60" x2="428.00" y2="441.60" stroke="#111" stroke-width="1" />
<line x1="33.80" y1="597.80" x2="40.80" y2="597.80" stroke="#111" stroke-width="1" />
<line x1="435.00" y1="597.80" x2="428.00" y2="597.80" stroke="#111" stroke-width="1" />
<line x1="33.80" y1="754.00" x2="40.80" y2="754.00" stroke="#111" stroke-width="1" />
<line x1="435.00" y1="754.00" x2="428.00" y2="754.00" stroke="#111" stroke-width="1" />
<line x1="33.80" y1="706.98" x2="37.80" y2="706.98" stroke="#111" stroke-width="1" />
<line x1="435.00" y1="706.98" x2="431.00" y2="706.98" stroke="#111" stroke-width="1" />
<line x1="33.80" y1="679.47" x2="37.80" y2="679.47" stroke="#111" stroke-width="1" />
<line x1="435.00" y1="679.47" x2="431.00" y2="679.47" stroke="#111" stroke-width="1" />
<line x1="33.80" y1="659.96" x2="37.80" y2="659.96" stroke="#111" stroke-width="1" />
<line x1="435.00" y1="659.96" x2="431.00" y2="659.96" stroke="#111" stroke-width="1" />
<line x1="33.80" y1="644.82" x2="37.80" y2="644.82" stroke="#111" stroke-width="1" />
<line x1="435.00" y1="644.82" x2="431.00" y2="644.82" stroke="#111" stroke-width="1" />
<line x1="33.80" y1="632.45" x2="37.80" y2="632.45" stroke="#111" stroke-width="1" />
<line x1="435.00" y1="632.45" x2="431.00" y2="632.45" stroke="#111" stroke-width="1" />
<line x1="33.80" y1="622.00" x2="37.80" y2="622.00" stroke="#111" stroke-width="1" />
<line x1="435.00" y1="622.00" x2="431.00" y2="622.00" stroke="#111" stroke-width="1" />
<line x1="33.80" y1="612.94" x2="37.80" y2="612.94" stroke="#111" stroke-width="1" />
<line x1="435.00" y1="612.94" x2="431.00" y2="612.94" stroke="#111" stroke-width="1" />
<line x1="33.80" y1="604.95" x2="37.80" y2="604.95" stroke="#111" stroke-width="1" />
<line x1="435.00" y1="604.95" x2="431.00" y2="604.95" stroke="#111" stroke-width="1" />
<line x1="33.80" y1="550.78" x2="37.80" y2="550.78" stroke="#111" stroke-width="1" />
<line x1="435.00" y1="550.78" x2="431.00" y2="550.78" stroke="#111" stroke-width="1" />
<line x1="33.80" y1="523.27" x2="37.80" y2="523.27" stroke="#111" stroke-width="1" />
<line x1="435.00" y1="523.27" x2="431.00" y2="523.27" stroke="#111" stroke-width="1" />
<line x1="33.80" y1="503.76" x2="37.80" y2="503.76" stroke="#111" stroke-width="1" />
<line x1="435.00" y1="503.76" x2="431.00" y2="503.76" stroke="#111" stroke-width="1" />
<line x1="33.80" y1="488.62" x2="37.80" y2="488.62" stroke="#111" stroke-width="1" />
<line x1="435.00" y1="488.62" x2="431.00" y2="488.62" stroke="#111" stroke-width="1" />
<line x1="33.80" y1="476.25" x2="37.80" y2="476.25" stroke="#111" stroke-width="1" />
<line x1="435.00" y1="476.25" x2="431.00" y2="476.25" stroke="#111" stroke-width="1" />
<line x1="33.80" y1="465.80" x2="37.80" y2="465.80" stroke="#111" stroke-width="1" />
<line x1="435.00" y1="465.80" x2="431.00" y2="465.80" stroke="#111" stroke-width="1" />
<line x1="33.80" y1="456.74" x2="37.80" y2="456.74" stroke="#111" stroke-width="1" />
<line x1="435.00" y1="456.74" x2="431.00" y2="456.74" stroke="#111" stroke-width="1" />
<line x1="33.80" y1="448.75" x2="37.80" y2="448.75" stroke="#111" stroke-width="1" />
<line x1="435.00" y1="448.75" x2="431.00" y2="448.75" stroke="#111" stroke-width="1" />
<rect x="33.80" y="441.60" width="401.20" height="312.40" fill="none" stroke="#222" stroke-width="1.3" />
<rect x="49.60" y="918.10" width="261.10" height="224.40" fill="#dcdddd" stroke="none" stroke-width="1" />
<ellipse cx="351.6" cy="900.1" rx="2.3" ry="2.48" fill="#c09a0a"/>
<ellipse cx="378.2" cy="866.3" rx="2.3" ry="2.48" fill="#c09a0a"/>
<ellipse cx="360.4" cy="924.6" rx="2.3" ry="2.48" fill="#c09a0a"/>
<ellipse cx="388.2" cy="857.7" rx="2.3" ry="2.48" fill="#c09a0a"/>
<ellipse cx="360.4" cy="898.6" rx="2.3" ry="2.48" fill="#c09a0a"/>
<ellipse cx="347.1" cy="882.3" rx="2.3" ry="2.48" fill="#c09a0a"/>
<ellipse cx="322.5" cy="869.4" rx="2.3" ry="2.48" fill="#c09a0a"/>
<ellipse cx="355.6" cy="909.9" rx="2.3" ry="2.48" fill="#c09a0a"/>
<ellipse cx="336.0" cy="920.4" rx="2.3" ry="2.48" fill="#c09a0a"/>
<ellipse cx="363.6" cy="851.1" rx="2.3" ry="2.48" fill="#c09a0a"/>
<ellipse cx="322.9" cy="877.4" rx="2.3" ry="2.48" fill="#c09a0a"/>
<ellipse cx="370.7" cy="893.2" rx="2.3" ry="2.48" fill="#c09a0a"/>
<ellipse cx="360.6" cy="883.5" rx="2.3" ry="2.48" fill="#c09a0a"/>
<ellipse cx="341.1" cy="874.0" rx="2.3" ry="2.48" fill="#c09a0a"/>
<ellipse cx="348.2" cy="914.6" rx="2.3" ry="2.48" fill="#c09a0a"/>
<ellipse cx="342.0" cy="876.0" rx="2.3" ry="2.48" fill="#c09a0a"/>
<ellipse cx="374.3" cy="850.5" rx="2.3" ry="2.48" fill="#c09a0a"/>
<ellipse cx="348.6" cy="882.1" rx="2.3" ry="2.48" fill="#c09a0a"/>
<ellipse cx="324.1" cy="924.4" rx="2.3" ry="2.48" fill="#c09a0a"/>
<ellipse cx="365.8" cy="855.5" rx="2.3" ry="2.48" fill="#c09a0a"/>
<ellipse cx="343.5" cy="898.2" rx="2.3" ry="2.48" fill="#c09a0a"/>
<ellipse cx="355.0" cy="909.3" rx="2.3" ry="2.48" fill="#c09a0a"/>
<ellipse cx="340.0" cy="880.1" rx="2.3" ry="2.48" fill="#c09a0a"/>
<ellipse cx="344.8" cy="864.8" rx="2.3" ry="2.48" fill="#c09a0a"/>
<ellipse cx="332.9" cy="916.3" rx="2.3" ry="2.48" fill="#c09a0a"/>
<ellipse cx="310.0" cy="907.6" rx="2.3" ry="2.48" fill="#c09a0a"/>
<ellipse cx="357.2" cy="867.2" rx="2.3" ry="2.48" fill="#c09a0a"/>
<ellipse cx="357.3" cy="912.3" rx="2.3" ry="2.48" fill="#c09a0a"/>
<ellipse cx="336.9" cy="916.9" rx="2.3" ry="2.48" fill="#c09a0a"/>
<ellipse cx="371.1" cy="895.7" rx="2.3" ry="2.48" fill="#c09a0a"/>
<ellipse cx="345.2" cy="920.8" rx="2.3" ry="2.48" fill="#c09a0a"/>
<ellipse cx="357.5" cy="908.5" rx="2.3" ry="2.48" fill="#c09a0a"/>
<ellipse cx="319.2" cy="895.4" rx="2.3" ry="2.48" fill="#c09a0a"/>
<ellipse cx="351.9" cy="858.9" rx="2.3" ry="2.48" fill="#c09a0a"/>
<ellipse cx="310.4" cy="930.3" rx="2.3" ry="2.48" fill="#c09a0a"/>
<ellipse cx="373.4" cy="894.5" rx="2.3" ry="2.48" fill="#c09a0a"/>
<ellipse cx="334.6" cy="927.1" rx="2.3" ry="2.48" fill="#c09a0a"/>
<ellipse cx="377.9" cy="853.1" rx="2.3" ry="2.48" fill="#c09a0a"/>
<ellipse cx="374.3" cy="915.2" rx="2.3" ry="2.48" fill="#c09a0a"/>
<ellipse cx="329.6" cy="915.9" rx="2.3" ry="2.48" fill="#c09a0a"/>
<ellipse cx="380.2" cy="841.6" rx="2.3" ry="2.48" fill="#c09a0a"/>
<ellipse cx="356.8" cy="871.0" rx="2.3" ry="2.48" fill="#c09a0a"/>
<ellipse cx="326.6" cy="887.1" rx="2.3" ry="2.48" fill="#c09a0a"/>
<ellipse cx="338.6" cy="859.2" rx="2.3" ry="2.48" fill="#c09a0a"/>
<ellipse cx="376.4" cy="891.8" rx="2.3" ry="2.48" fill="#c09a0a"/>
<ellipse cx="351.4" cy="879.7" rx="2.3" ry="2.48" fill="#c09a0a"/>
<ellipse cx="341.9" cy="881.5" rx="2.3" ry="2.48" fill="#c09a0a"/>
<ellipse cx="336.9" cy="881.0" rx="2.3" ry="2.48" fill="#c09a0a"/>
<ellipse cx="367.3" cy="866.5" rx="2.3" ry="2.48" fill="#c09a0a"/>
<ellipse cx="359.8" cy="874.0" rx="2.3" ry="2.48" fill="#c09a0a"/>
<ellipse cx="383.6" cy="872.9" rx="2.3" ry="2.48" fill="#c09a0a"/>
<ellipse cx="349.7" cy="886.2" rx="2.3" ry="2.48" fill="#c09a0a"/>
<ellipse cx="362.7" cy="876.4" rx="2.3" ry="2.48" fill="#c09a0a"/>
<ellipse cx="379.4" cy="878.9" rx="2.3" ry="2.48" fill="#c09a0a"/>
<ellipse cx="341.1" cy="882.4" rx="2.3" ry="2.48" fill="#c09a0a"/>
<ellipse cx="371.3" cy="867.9" rx="2.3" ry="2.48" fill="#c09a0a"/>
<ellipse cx="366.0" cy="868.5" rx="2.3" ry="2.48" fill="#c09a0a"/>
<ellipse cx="347.9" cy="872.7" rx="2.3" ry="2.48" fill="#c09a0a"/>
<ellipse cx="366.4" cy="883.4" rx="2.3" ry="2.48" fill="#c09a0a"/>
<ellipse cx="365.0" cy="876.4" rx="2.3" ry="2.48" fill="#c09a0a"/>
<ellipse cx="368.0" cy="865.5" rx="2.3" ry="2.48" fill="#c09a0a"/>
<ellipse cx="339.6" cy="885.4" rx="2.3" ry="2.48" fill="#c09a0a"/>
<ellipse cx="363.7" cy="880.0" rx="2.3" ry="2.48" fill="#c09a0a"/>
<ellipse cx="381.9" cy="878.8" rx="2.3" ry="2.48" fill="#c09a0a"/>
<ellipse cx="355.0" cy="882.5" rx="2.3" ry="2.48" fill="#c09a0a"/>
<ellipse cx="354.4" cy="882.2" rx="2.3" ry="2.48" fill="#c09a0a"/>
<ellipse cx="361.3" cy="866.0" rx="2.3" ry="2.48" fill="#c09a0a"/>
<ellipse cx="334.0" cy="886.9" rx="2.3" ry="2.48" fill="#c09a0a"/>
<ellipse cx="348.0" cy="880.4" rx="2.3" ry="2.48" fill="#c09a0a"/>
<ellipse cx="378.6" cy="874.7" rx="2.3" ry="2.48" fill="#c09a0a"/>
<ellipse cx="357.6" cy="882.2" rx="2.3" ry="2.48" fill="#c09a0a"/>
<ellipse cx="344.6" cy="872.2" rx="2.3" ry="2.48" fill="#c09a0a"/>
<ellipse cx="364.4" cy="878.5" rx="2.3" ry="2.48" fill="#c09a0a"/>
<ellipse cx="336.3" cy="880.7" rx="2.3" ry="2.48" fill="#c09a0a"/>
<ellipse cx="373.5" cy="869.3" rx="2.3" ry="2.48" fill="#c09a0a"/>
<ellipse cx="350.3" cy="870.0" rx="2.3" ry="2.48" fill="#c09a0a"/>
<ellipse cx="335.6" cy="884.1" rx="2.3" ry="2.48" fill="#c09a0a"/>
<ellipse cx="376.6" cy="870.4" rx="2.3" ry="2.48" fill="#c09a0a"/>
<ellipse cx="369.2" cy="875.8" rx="2.3" ry="2.48" fill="#c09a0a"/>
<ellipse cx="378.9" cy="872.9" rx="2.3" ry="2.48" fill="#c09a0a"/>
<ellipse cx="359.1" cy="880.5" rx="2.3" ry="2.48" fill="#c09a0a"/>
<ellipse cx="355.4" cy="880.5" rx="2.3" ry="2.48" fill="#c09a0a"/>
<ellipse cx="355.7" cy="866.4" rx="2.3" ry="2.48" fill="#c09a0a"/>
<ellipse cx="335.5" cy="882.1" rx="2.3" ry="2.48" fill="#c09a0a"/>
<ellipse cx="372.1" cy="885.9" rx="2.3" ry="2.48" fill="#c09a0a"/>
<ellipse cx="368.9" cy="877.2" rx="2.3" ry="2.48" fill="#c09a0a"/>
<ellipse cx="338.0" cy="883.8" rx="2.3" ry="2.48" fill="#c09a0a"/>
<ellipse cx="346.3" cy="873.5" rx="2.3" ry="2.48" fill="#c09a0a"/>
<ellipse cx="370.2" cy="876.3" rx="2.3" ry="2.48" fill="#c09a0a"/>
<ellipse cx="342.5" cy="882.0" rx="2.3" ry="2.48" fill="#c09a0a"/>
<ellipse cx="371.6" cy="883.1" rx="2.3" ry="2.48" fill="#c09a0a"/>
<ellipse cx="381.0" cy="869.4" rx="2.3" ry="2.48" fill="#c09a0a"/>
<ellipse cx="340.1" cy="882.8" rx="2.3" ry="2.48" fill="#c09a0a"/>
<ellipse cx="349.7" cy="872.9" rx="2.3" ry="2.48" fill="#c09a0a"/>
<ellipse cx="376.4" cy="872.5" rx="2.3" ry="2.48" fill="#c09a0a"/>
<ellipse cx="348.6" cy="880.0" rx="2.3" ry="2.48" fill="#c09a0a"/>
<ellipse cx="349.9" cy="881.8" rx="2.3" ry="2.48" fill="#c09a0a"/>
<ellipse cx="365.1" cy="874.8" rx="2.3" ry="2.48" fill="#c09a0a"/>
<ellipse cx="345.7" cy="874.6" rx="2.3" ry="2.48" fill="#c09a0a"/>
<ellipse cx="350.6" cy="881.5" rx="2.3" ry="2.48" fill="#c09a0a"/>
<ellipse cx="345.9" cy="885.2" rx="2.3" ry="2.48" fill="#c09a0a"/>
<ellipse cx="362.4" cy="872.9" rx="2.3" ry="2.48" fill="#c09a0a"/>
<ellipse cx="374.1" cy="868.8" rx="2.3" ry="2.48" fill="#c09a0a"/>
<ellipse cx="363.9" cy="883.6" rx="2.3" ry="2.48" fill="#c09a0a"/>
<ellipse cx="360.1" cy="870.9" rx="2.3" ry="2.48" fill="#c09a0a"/>
<ellipse cx="367.9" cy="875.7" rx="2.3" ry="2.48" fill="#c09a0a"/>
<ellipse cx="378.8" cy="870.6" rx="2.3" ry="2.48" fill="#c09a0a"/>
<ellipse cx="351.1" cy="879.5" rx="2.3" ry="2.48" fill="#c09a0a"/>
<ellipse cx="360.9" cy="868.5" rx="2.3" ry="2.48" fill="#c09a0a"/>
<ellipse cx="352.4" cy="883.0" rx="2.3" ry="2.48" fill="#c09a0a"/>
<ellipse cx="342.5" cy="880.2" rx="2.3" ry="2.48" fill="#c09a0a"/>
<ellipse cx="331.0" cy="886.2" rx="2.3" ry="2.48" fill="#c09a0a"/>
<ellipse cx="368.6" cy="871.0" rx="2.3" ry="2.48" fill="#c09a0a"/>
<ellipse cx="352.3" cy="876.2" rx="2.3" ry="2.48" fill="#c09a0a"/>
<ellipse cx="354.2" cy="874.8" rx="2.3" ry="2.48" fill="#c09a0a"/>
<ellipse cx="356.4" cy="879.7" rx="2.3" ry="2.48" fill="#c09a0a"/>
<ellipse cx="381.3" cy="883.1" rx="2.3" ry="2.48" fill="#c09a0a"/>
<ellipse cx="371.1" cy="871.4" rx="2.3" ry="2.48" fill="#c09a0a"/>
<ellipse cx="378.9" cy="864.6" rx="2.3" ry="2.48" fill="#c09a0a"/>
<ellipse cx="347.2" cy="872.6" rx="2.3" ry="2.48" fill="#c09a0a"/>
<ellipse cx="352.9" cy="886.0" rx="2.3" ry="2.48" fill="#c09a0a"/>
<ellipse cx="368.6" cy="883.4" rx="2.3" ry="2.48" fill="#c09a0a"/>
<ellipse cx="354.8" cy="872.9" rx="2.3" ry="2.48" fill="#c09a0a"/>
<ellipse cx="376.4" cy="880.9" rx="2.3" ry="2.48" fill="#c09a0a"/>
<ellipse cx="381.9" cy="881.0" rx="2.3" ry="2.48" fill="#c09a0a"/>
<ellipse cx="381.9" cy="873.5" rx="2.3" ry="2.48" fill="#c09a0a"/>
<ellipse cx="361.0" cy="882.1" rx="2.3" ry="2.48" fill="#c09a0a"/>
<ellipse cx="362.7" cy="884.2" rx="2.3" ry="2.48" fill="#c09a0a"/>
<ellipse cx="379.6" cy="866.2" rx="2.3" ry="2.48" fill="#c09a0a"/>
<ellipse cx="350.7" cy="868.7" rx="2.3" ry="2.48" fill="#c09a0a"/>
<ellipse cx="348.3" cy="886.3" rx="2.3" ry="2.48" fill="#c09a0a"/>
<ellipse cx="353.0" cy="870.7" rx="2.3" ry="2.48" fill="#c09a0a"/>
<ellipse cx="344.3" cy="873.8" rx="2.3" ry="2.48" fill="#c09a0a"/>
<ellipse cx="367.7" cy="871.5" rx="2.3" ry="2.48" fill="#c09a0a"/>
<ellipse cx="343.5" cy="885.0" rx="2.3" ry="2.48" fill="#c09a0a"/>
<ellipse cx="338.2" cy="881.4" rx="2.3" ry="2.48" fill="#c09a0a"/>
<ellipse cx="334.6" cy="882.1" rx="2.3" ry="2.48" fill="#c09a0a"/>
<ellipse cx="343.9" cy="882.0" rx="2.3" ry="2.48" fill="#c09a0a"/>
<ellipse cx="333.8" cy="882.5" rx="2.3" ry="2.48" fill="#c09a0a"/>
<ellipse cx="360.2" cy="874.9" rx="2.3" ry="2.48" fill="#c09a0a"/>
<ellipse cx="349.0" cy="879.9" rx="2.3" ry="2.48" fill="#c09a0a"/>
<ellipse cx="363.7" cy="870.8" rx="2.3" ry="2.48" fill="#c09a0a"/>
<ellipse cx="378.2" cy="876.4" rx="2.3" ry="2.48" fill="#c09a0a"/>
<ellipse cx="373.9" cy="866.1" rx="2.3" ry="2.48" fill="#c09a0a"/>
<ellipse cx="369.9" cy="877.9" rx="2.3" ry="2.48" fill="#c09a0a"/>
<ellipse cx="378.4" cy="884.5" rx="2.3" ry="2.48" fill="#c09a0a"/>
<ellipse cx="360.7" cy="877.5" rx="2.3" ry="2.48" fill="#c09a0a"/>
<ellipse cx="373.5" cy="869.6" rx="2.3" ry="2.48" fill="#c09a0a"/>
<ellipse cx="360.4" cy="882.2" rx="2.3" ry="2.48" fill="#c09a0a"/>
<ellipse cx="363.3" cy="876.3" rx="2.3" ry="2.48" fill="#c09a0a"/>
<ellipse cx="378.7" cy="886.7" rx="2.3" ry="2.48" fill="#c09a0a"/>
<ellipse cx="364.4" cy="866.8" rx="2.3" ry="2.48" fill="#c09a0a"/>
<ellipse cx="385.4" cy="874.6" rx="2.3" ry="2.48" fill="#c09a0a"/>
<ellipse cx="359.7" cy="882.9" rx="2.3" ry="2.48" fill="#c09a0a"/>
<ellipse cx="379.5" cy="866.6" rx="2.3" ry="2.48" fill="#c09a0a"/>
<ellipse cx="354.9" cy="867.5" rx="2.3" ry="2.48" fill="#c09a0a"/>
<ellipse cx="355.4" cy="866.4" rx="2.3" ry="2.48" fill="#c09a0a"/>
<ellipse cx="379.9" cy="871.8" rx="2.3" ry="2.48" fill="#c09a0a"/>
<ellipse cx="351.2" cy="884.8" rx="2.3" ry="2.48" fill="#c09a0a"/>
<ellipse cx="376.8" cy="871.3" rx="2.3" ry="2.48" fill="#c09a0a"/>
<ellipse cx="357.7" cy="879.2" rx="2.3" ry="2.48" fill="#c09a0a"/>
<ellipse cx="378.8" cy="867.1" rx="2.3" ry="2.48" fill="#c09a0a"/>
<ellipse cx="370.0" cy="881.0" rx="2.3" ry="2.48" fill="#c09a0a"/>
<ellipse cx="363.1" cy="871.5" rx="2.3" ry="2.48" fill="#c09a0a"/>
<ellipse cx="378.8" cy="882.2" rx="2.3" ry="2.48" fill="#c09a0a"/>
<ellipse cx="332.4" cy="884.8" rx="2.3" ry="2.48" fill="#c09a0a"/>
<ellipse cx="365.8" cy="870.2" rx="2.3" ry="2.48" fill="#c09a0a"/>
<ellipse cx="376.1" cy="883.6" rx="2.3" ry="2.48" fill="#c09a0a"/>
<ellipse cx="345.8" cy="883.0" rx="2.3" ry="2.48" fill="#c09a0a"/>
<ellipse cx="358.5" cy="867.1" rx="2.3" ry="2.48" fill="#c09a0a"/>
<ellipse cx="336.7" cy="886.7" rx="2.3" ry="2.48" fill="#c09a0a"/>
<ellipse cx="379.0" cy="880.2" rx="2.3" ry="2.48" fill="#c09a0a"/>
<ellipse cx="381.3" cy="871.0" rx="2.3" ry="2.48" fill="#c09a0a"/>
<ellipse cx="342.9" cy="884.2" rx="2.3" ry="2.48" fill="#c09a0a"/>
<ellipse cx="349.4" cy="873.2" rx="2.3" ry="2.48" fill="#c09a0a"/>
<ellipse cx="370.6" cy="884.5" rx="2.3" ry="2.48" fill="#c09a0a"/>
<ellipse cx="382.7" cy="876.9" rx="2.3" ry="2.48" fill="#c09a0a"/>
<ellipse cx="337.0" cy="879.9" rx="2.3" ry="2.48" fill="#c09a0a"/>
<ellipse cx="366.5" cy="865.7" rx="2.3" ry="2.48" fill="#c09a0a"/>
<ellipse cx="382.1" cy="879.1" rx="2.3" ry="2.48" fill="#c09a0a"/>
<ellipse cx="357.1" cy="871.5" rx="2.3" ry="2.48" fill="#c09a0a"/>
<ellipse cx="349.8" cy="868.8" rx="2.3" ry="2.48" fill="#c09a0a"/>
<ellipse cx="366.3" cy="879.1" rx="2.3" ry="2.48" fill="#c09a0a"/>
<ellipse cx="355.7" cy="880.5" rx="2.3" ry="2.48" fill="#c09a0a"/>
<ellipse cx="350.3" cy="873.6" rx="2.3" ry="2.48" fill="#c09a0a"/>
<ellipse cx="348.0" cy="882.6" rx="2.3" ry="2.48" fill="#c09a0a"/>
<ellipse cx="384.3" cy="874.6" rx="2.3" ry="2.48" fill="#c09a0a"/>
<ellipse cx="362.9" cy="879.6" rx="2.3" ry="2.48" fill="#c09a0a"/>
<ellipse cx="374.0" cy="874.4" rx="2.3" ry="2.48" fill="#c09a0a"/>
<ellipse cx="360.6" cy="881.7" rx="2.3" ry="2.48" fill="#c09a0a"/>
<ellipse cx="383.9" cy="870.0" rx="2.3" ry="2.48" fill="#c09a0a"/>
<ellipse cx="385.6" cy="869.9" rx="2.3" ry="2.48" fill="#c09a0a"/>
<ellipse cx="354.9" cy="867.0" rx="2.3" ry="2.48" fill="#c09a0a"/>
<ellipse cx="363.8" cy="872.6" rx="2.3" ry="2.48" fill="#c09a0a"/>
<ellipse cx="335.7" cy="879.0" rx="2.3" ry="2.48" fill="#c09a0a"/>
<ellipse cx="285.0" cy="915.1" rx="2.3" ry="2.48" fill="#c09a0a"/>
<ellipse cx="295.6" cy="920.1" rx="2.3" ry="2.48" fill="#c09a0a"/>
<ellipse cx="303.6" cy="911.9" rx="2.3" ry="2.48" fill="#c09a0a"/>
<ellipse cx="308.3" cy="912.7" rx="2.3" ry="2.48" fill="#c09a0a"/>
<ellipse cx="299.9" cy="923.7" rx="2.3" ry="2.48" fill="#c09a0a"/>
<ellipse cx="290.3" cy="908.9" rx="2.3" ry="2.48" fill="#c09a0a"/>
<ellipse cx="317.9" cy="910.2" rx="2.3" ry="2.48" fill="#c09a0a"/>
<ellipse cx="292.9" cy="918.9" rx="2.3" ry="2.48" fill="#c09a0a"/>
<ellipse cx="299.0" cy="927.5" rx="2.3" ry="2.48" fill="#c09a0a"/>
<ellipse cx="292.2" cy="913.5" rx="2.3" ry="2.48" fill="#c09a0a"/>
<ellipse cx="291.0" cy="927.2" rx="2.3" ry="2.48" fill="#c09a0a"/>
<ellipse cx="303.0" cy="902.9" rx="2.3" ry="2.48" fill="#c09a0a"/>
<ellipse cx="294.0" cy="908.7" rx="2.3" ry="2.48" fill="#c09a0a"/>
<ellipse cx="295.2" cy="909.3" rx="2.3" ry="2.48" fill="#c09a0a"/>
<ellipse cx="312.9" cy="899.2" rx="2.3" ry="2.48" fill="#c09a0a"/>
<ellipse cx="327.4" cy="889.1" rx="2.3" ry="2.48" fill="#c09a0a"/>
<ellipse cx="295.1" cy="894.8" rx="2.3" ry="2.48" fill="#c09a0a"/>
<ellipse cx="295.3" cy="902.9" rx="2.3" ry="2.48" fill="#c09a0a"/>
<ellipse cx="311.9" cy="901.7" rx="2.3" ry="2.48" fill="#c09a0a"/>
<ellipse cx="292.3" cy="912.1" rx="2.3" ry="2.48" fill="#c09a0a"/>
<ellipse cx="316.3" cy="889.1" rx="2.3" ry="2.48" fill="#c09a0a"/>
<ellipse cx="312.9" cy="895.1" rx="2.3" ry="2.48" fill="#c09a0a"/>
<ellipse cx="314.7" cy="902.1" rx="2.3" ry="2.48" fill="#c09a0a"/>
<ellipse cx="319.1" cy="910.9" rx="2.3" ry="2.48" fill="#c09a0a"/>
<ellipse cx="296.9" cy="898.4" rx="2.3" ry="2.48" fill="#c09a0a"/>
<ellipse cx="309.1" cy="928.1" rx="2.3" ry="2.48" fill="#c09a0a"/>
<ellipse cx="297.9" cy="908.9" rx="2.3" ry="2.48" fill="#c09a0a"/>
<ellipse cx="288.4" cy="918.0" rx="2.3" ry="2.48" fill="#c09a0a"/>
<ellipse cx="297.9" cy="903.0" rx="2.3" ry="2.48" fill="#c09a0a"/>
<ellipse cx="296.6" cy="924.3" rx="2.3" ry="2.48" fill="#c09a0a"/>
<ellipse cx="304.4" cy="890.1" rx="2.3" ry="2.48" fill="#c09a0a"/>
<ellipse cx="290.4" cy="917.8" rx="2.3" ry="2.48" fill="#c09a0a"/>
<ellipse cx="298.1" cy="906.6" rx="2.3" ry="2.48" fill="#c09a0a"/>
<ellipse cx="309.6" cy="903.4" rx="2.3" ry="2.48" fill="#c09a0a"/>
<ellipse cx="313.0" cy="900.7" rx="2.3" ry="2.48" fill="#c09a0a"/>
<ellipse cx="306.3" cy="902.1" rx="2.3" ry="2.48" fill="#c09a0a"/>
<ellipse cx="303.2" cy="891.8" rx="2.3" ry="2.48" fill="#c09a0a"/>
<ellipse cx="300.4" cy="890.3" rx="2.3" ry="2.48" fill="#c09a0a"/>
<ellipse cx="311.7" cy="905.0" rx="2.3" ry="2.48" fill="#c09a0a"/>
<ellipse cx="303.0" cy="928.1" rx="2.3" ry="2.48" fill="#c09a0a"/>
<ellipse cx="291.7" cy="910.4" rx="2.3" ry="2.48" fill="#c09a0a"/>
<ellipse cx="311.2" cy="915.3" rx="2.3" ry="2.48" fill="#c09a0a"/>
<ellipse cx="317.7" cy="902.1" rx="2.3" ry="2.48" fill="#c09a0a"/>
<ellipse cx="288.2" cy="914.1" rx="2.3" ry="2.48" fill="#c09a0a"/>
<ellipse cx="307.2" cy="929.9" rx="2.3" ry="2.48" fill="#c09a0a"/>
<ellipse cx="316.2" cy="917.3" rx="2.3" ry="2.48" fill="#c09a0a"/>
<ellipse cx="314.2" cy="919.0" rx="2.3" ry="2.48" fill="#c09a0a"/>
<ellipse cx="304.2" cy="908.6" rx="2.3" ry="2.48" fill="#c09a0a"/>
<ellipse cx="307.0" cy="905.3" rx="2.3" ry="2.48" fill="#c09a0a"/>
<ellipse cx="303.4" cy="912.1" rx="2.3" ry="2.48" fill="#c09a0a"/>
<ellipse cx="313.0" cy="903.7" rx="2.3" ry="2.48" fill="#c09a0a"/>
<ellipse cx="309.7" cy="896.3" rx="2.3" ry="2.48" fill="#c09a0a"/>
<ellipse cx="315.1" cy="920.4" rx="2.3" ry="2.48" fill="#c09a0a"/>
<ellipse cx="301.3" cy="906.1" rx="2.3" ry="2.48" fill="#c09a0a"/>
<ellipse cx="302.1" cy="909.9" rx="2.3" ry="2.48" fill="#c09a0a"/>
<ellipse cx="312.0" cy="920.8" rx="2.3" ry="2.48" fill="#c09a0a"/>
<ellipse cx="314.8" cy="904.5" rx="2.3" ry="2.48" fill="#c09a0a"/>
<ellipse cx="309.8" cy="893.4" rx="2.3" ry="2.48" fill="#c09a0a"/>
<ellipse cx="313.7" cy="900.5" rx="2.3" ry="2.48" fill="#c09a0a"/>
<ellipse cx="314.9" cy="894.1" rx="2.3" ry="2.48" fill="#c09a0a"/>
<ellipse cx="289.6" cy="925.1" rx="2.3" ry="2.48" fill="#c09a0a"/>
<ellipse cx="321.9" cy="903.2" rx="2.3" ry="2.48" fill="#c09a0a"/>
<ellipse cx="324.2" cy="895.6" rx="2.3" ry="2.48" fill="#c09a0a"/>
<ellipse cx="317.2" cy="900.1" rx="2.3" ry="2.48" fill="#c09a0a"/>
<ellipse cx="303.3" cy="892.3" rx="2.3" ry="2.48" fill="#c09a0a"/>
<ellipse cx="288.7" cy="911.9" rx="2.3" ry="2.48" fill="#c09a0a"/>
<ellipse cx="299.0" cy="893.6" rx="2.3" ry="2.48" fill="#c09a0a"/>
<ellipse cx="304.7" cy="919.6" rx="2.3" ry="2.48" fill="#c09a0a"/>
<ellipse cx="294.1" cy="927.6" rx="2.3" ry="2.48" fill="#c09a0a"/>
<ellipse cx="291.3" cy="911.5" rx="2.3" ry="2.48" fill="#c09a0a"/>
<ellipse cx="356.0" cy="881.0" rx="2.3" ry="2.48" fill="#c09a0a"/>
<ellipse cx="380.0" cy="874.6" rx="2.3" ry="2.48" fill="#c09a0a"/>
<ellipse cx="384.5" cy="876.3" rx="2.3" ry="2.48" fill="#c09a0a"/>
<ellipse cx="354.8" cy="868.5" rx="2.3" ry="2.48" fill="#c09a0a"/>
<ellipse cx="338.6" cy="881.7" rx="2.3" ry="2.48" fill="#c09a0a"/>
<ellipse cx="372.8" cy="885.8" rx="2.3" ry="2.48" fill="#c09a0a"/>
<ellipse cx="337.4" cy="880.0" rx="2.3" ry="2.48" fill="#c09a0a"/>
<ellipse cx="383.5" cy="881.1" rx="2.3" ry="2.48" fill="#c09a0a"/>
<ellipse cx="363.3" cy="872.5" rx="2.3" ry="2.48" fill="#c09a0a"/>
<ellipse cx="341.3" cy="870.0" rx="2.3" ry="2.48" fill="#c09a0a"/>
<ellipse cx="356.4" cy="881.6" rx="2.3" ry="2.48" fill="#c09a0a"/>
<ellipse cx="359.0" cy="875.4" rx="2.3" ry="2.48" fill="#c09a0a"/>
<ellipse cx="348.8" cy="871.2" rx="2.3" ry="2.48" fill="#c09a0a"/>
<ellipse cx="375.4" cy="880.9" rx="2.3" ry="2.48" fill="#c09a0a"/>
<ellipse cx="373.8" cy="875.8" rx="2.3" ry="2.48" fill="#c09a0a"/>
<ellipse cx="372.8" cy="873.9" rx="2.3" ry="2.48" fill="#c09a0a"/>
<ellipse cx="378.8" cy="866.6" rx="2.3" ry="2.48" fill="#c09a0a"/>
<ellipse cx="348.6" cy="877.4" rx="2.3" ry="2.48" fill="#c09a0a"/>
<ellipse cx="335.9" cy="872.6" rx="2.3" ry="2.48" fill="#c09a0a"/>
<ellipse cx="327.1" cy="879.2" rx="2.3" ry="2.48" fill="#c09a0a"/>
<ellipse cx="347.6" cy="870.6" rx="2.3" ry="2.48" fill="#c09a0a"/>
<ellipse cx="384.1" cy="873.0" rx="2.3" ry="2.48" fill="#c09a0a"/>
<ellipse cx="324.4" cy="885.3" rx="2.3" ry="2.48" fill="#c09a0a"/>
<ellipse cx="342.9" cy="873.3" rx="2.3" ry="2.48" fill="#c09a0a"/>
<ellipse cx="372.3" cy="885.5" rx="2.3" ry="2.48" fill="#c09a0a"/>
<ellipse cx="343.2" cy="874.5" rx="2.3" ry="2.48" fill="#c09a0a"/>
<ellipse cx="361.8" cy="871.5" rx="2.3" ry="2.48" fill="#c09a0a"/>
<ellipse cx="338.3" cy="878.5" rx="2.3" ry="2.48" fill="#c09a0a"/>
<ellipse cx="337.1" cy="884.1" rx="2.3" ry="2.48" fill="#c09a0a"/>
<ellipse cx="351.6" cy="881.2" rx="2.3" ry="2.48" fill="#c09a0a"/>
<ellipse cx="374.0" cy="871.7" rx="2.3" ry="2.48" fill="#c09a0a"/>
<ellipse cx="371.1" cy="884.4" rx="2.3" ry="2.48" fill="#c09a0a"/>
<ellipse cx="378.3" cy="885.3" rx="2.3" ry="2.48" fill="#c09a0a"/>
<ellipse cx="378.5" cy="881.5" rx="2.3" ry="2.48" fill="#c09a0a"/>
<ellipse cx="356.9" cy="877.4" rx="2.3" ry="2.48" fill="#c09a0a"/>
<ellipse cx="347.7" cy="877.4" rx="2.3" ry="2.48" fill="#c09a0a"/>
<ellipse cx="353.5" cy="875.4" rx="2.3" ry="2.48" fill="#c09a0a"/>
<ellipse cx="384.3" cy="872.9" rx="2.3" ry="2.48" fill="#c09a0a"/>
<ellipse cx="350.8" cy="870.3" rx="2.3" ry="2.48" fill="#c09a0a"/>
<ellipse cx="341.1" cy="883.4" rx="2.3" ry="2.48" fill="#c09a0a"/>
<ellipse cx="371.2" cy="882.0" rx="2.3" ry="2.48" fill="#c09a0a"/>
<ellipse cx="369.1" cy="882.4" rx="2.3" ry="2.48" fill="#c09a0a"/>
<ellipse cx="365.7" cy="872.1" rx="2.3" ry="2.48" fill="#c09a0a"/>
<ellipse cx="379.8" cy="886.5" rx="2.3" ry="2.48" fill="#c09a0a"/>
<ellipse cx="340.5" cy="879.5" rx="2.3" ry="2.48" fill="#c09a0a"/>
<ellipse cx="383.7" cy="873.9" rx="2.3" ry="2.48" fill="#c09a0a"/>
<ellipse cx="373.1" cy="872.6" rx="2.3" ry="2.48" fill="#c09a0a"/>
<ellipse cx="366.4" cy="865.0" rx="2.3" ry="2.48" fill="#c09a0a"/>
<ellipse cx="378.8" cy="881.4" rx="2.3" ry="2.48" fill="#c09a0a"/>
<ellipse cx="349.6" cy="881.7" rx="2.3" ry="2.48" fill="#c09a0a"/>
<ellipse cx="331.4" cy="876.9" rx="2.3" ry="2.48" fill="#c09a0a"/>
<ellipse cx="371.0" cy="865.3" rx="2.3" ry="2.48" fill="#c09a0a"/>
<ellipse cx="365.9" cy="875.8" rx="2.3" ry="2.48" fill="#c09a0a"/>
<ellipse cx="372.7" cy="873.1" rx="2.3" ry="2.48" fill="#c09a0a"/>
<ellipse cx="333.4" cy="884.4" rx="2.3" ry="2.48" fill="#c09a0a"/>
<ellipse cx="366.3" cy="870.4" rx="2.3" ry="2.48" fill="#c09a0a"/>
<ellipse cx="366.7" cy="864.8" rx="2.3" ry="2.48" fill="#c09a0a"/>
<ellipse cx="384.2" cy="870.8" rx="2.3" ry="2.48" fill="#c09a0a"/>
<ellipse cx="354.8" cy="874.7" rx="2.3" ry="2.48" fill="#c09a0a"/>
<ellipse cx="378.1" cy="876.8" rx="2.3" ry="2.48" fill="#c09a0a"/>
<ellipse cx="359.6" cy="871.7" rx="2.3" ry="2.48" fill="#c09a0a"/>
<ellipse cx="344.0" cy="870.8" rx="2.3" ry="2.48" fill="#c09a0a"/>
<ellipse cx="323.7" cy="890.0" rx="2.3" ry="2.48" fill="#c09a0a"/>
<ellipse cx="335.8" cy="874.7" rx="2.3" ry="2.48" fill="#c09a0a"/>
<ellipse cx="374.6" cy="867.3" rx="2.3" ry="2.48" fill="#c09a0a"/>
<ellipse cx="383.1" cy="880.3" rx="2.3" ry="2.48" fill="#c09a0a"/>
<ellipse cx="331.6" cy="887.5" rx="2.3" ry="2.48" fill="#c09a0a"/>
<ellipse cx="365.5" cy="865.8" rx="2.3" ry="2.48" fill="#c09a0a"/>
<ellipse cx="338.5" cy="873.7" rx="2.3" ry="2.48" fill="#c09a0a"/>
<ellipse cx="378.2" cy="868.1" rx="2.3" ry="2.48" fill="#c09a0a"/>
<ellipse cx="353.2" cy="876.9" rx="2.3" ry="2.48" fill="#c09a0a"/>
<ellipse cx="328.4" cy="885.9" rx="2.3" ry="2.48" fill="#c09a0a"/>
<ellipse cx="366.9" cy="880.7" rx="2.3" ry="2.48" fill="#c09a0a"/>
<ellipse cx="376.3" cy="866.1" rx="2.3" ry="2.48" fill="#c09a0a"/>
<ellipse cx="361.4" cy="872.8" rx="2.3" ry="2.48" fill="#c09a0a"/>
<ellipse cx="322.1" cy="885.9" rx="2.3" ry="2.48" fill="#c09a0a"/>
<ellipse cx="322.0" cy="885.3" rx="2.3" ry="2.48" fill="#c09a0a"/>
<ellipse cx="386.6" cy="879.5" rx="2.3" ry="2.48" fill="#c09a0a"/>
<ellipse cx="362.2" cy="879.0" rx="2.3" ry="2.48" fill="#c09a0a"/>
<ellipse cx="360.2" cy="875.6" rx="2.3" ry="2.48" fill="#c09a0a"/>
<ellipse cx="337.9" cy="872.6" rx="2.3" ry="2.48" fill="#c09a0a"/>
<ellipse cx="377.0" cy="873.4" rx="2.3" ry="2.48" fill="#c09a0a"/>
<ellipse cx="381.1" cy="882.8" rx="2.3" ry="2.48" fill="#c09a0a"/>
<ellipse cx="356.7" cy="867.1" rx="2.3" ry="2.48" fill="#c09a0a"/>
<ellipse cx="352.9" cy="878.2" rx="2.3" ry="2.48" fill="#c09a0a"/>
<ellipse cx="344.1" cy="875.4" rx="2.3" ry="2.48" fill="#c09a0a"/>
<ellipse cx="326.0" cy="886.5" rx="2.3" ry="2.48" fill="#c09a0a"/>
<ellipse cx="374.5" cy="885.7" rx="2.3" ry="2.48" fill="#c09a0a"/>
<ellipse cx="385.0" cy="881.9" rx="2.3" ry="2.48" fill="#c09a0a"/>
<ellipse cx="384.3" cy="875.8" rx="2.3" ry="2.48" fill="#c09a0a"/>
<ellipse cx="374.2" cy="867.4" rx="2.3" ry="2.48" fill="#c09a0a"/>
<ellipse cx="325.5" cy="883.8" rx="2.3" ry="2.48" fill="#c09a0a"/>
<ellipse cx="365.6" cy="874.3" rx="2.3" ry="2.48" fill="#c09a0a"/>
<ellipse cx="356.3" cy="882.2" rx="2.3" ry="2.48" fill="#c09a0a"/>
<ellipse cx="351.6" cy="871.8" rx="2.3" ry="2.48" fill="#c09a0a"/>
<ellipse cx="385.4" cy="869.4" rx="2.3" ry="2.48" fill="#c09a0a"/>
<ellipse cx="356.1" cy="870.4" rx="2.3" ry="2.48" fill="#c09a0a"/>
<ellipse cx="348.8" cy="869.8" rx="2.3" ry="2.48" fill="#c09a0a"/>
<ellipse cx="335.3" cy="885.5" rx="2.3" ry="2.48" fill="#c09a0a"/>
<ellipse cx="370.7" cy="883.2" rx="2.3" ry="2.48" fill="#c09a0a"/>
<ellipse cx="367.2" cy="867.5" rx="2.3" ry="2.48" fill="#c09a0a"/>
<ellipse cx="364.5" cy="873.6" rx="2.3" ry="2.48" fill="#c09a0a"/>
<ellipse cx="348.9" cy="874.2" rx="2.3" ry="2.48" fill="#c09a0a"/>
<ellipse cx="364.3" cy="867.0" rx="2.3" ry="2.48" fill="#c09a0a"/>
<ellipse cx="370.8" cy="878.9" rx="2.3" ry="2.48" fill="#c09a0a"/>
<ellipse cx="342.1" cy="878.3" rx="2.3" ry="2.48" fill="#c09a0a"/>
<ellipse cx="334.5" cy="887.0" rx="2.3" ry="2.48" fill="#c09a0a"/>
<ellipse cx="369.6" cy="870.5" rx="2.3" ry="2.48" fill="#c09a0a"/>
<ellipse cx="326.4" cy="883.7" rx="2.3" ry="2.48" fill="#c09a0a"/>
<ellipse cx="343.5" cy="881.8" rx="2.3" ry="2.48" fill="#c09a0a"/>
<ellipse cx="353.5" cy="837.1" rx="2.3" ry="2.48" fill="#c09a0a"/>
<ellipse cx="379.3" cy="837.1" rx="2.3" ry="2.48" fill="#c09a0a"/>
<ellipse cx="389.6" cy="843.0" rx="2.3" ry="2.48" fill="#c09a0a"/>
<ellipse cx="383.7" cy="844.1" rx="2.3" ry="2.48" fill="#c09a0a"/>
<ellipse cx="365.5" cy="845.8" rx="2.3" ry="2.48" fill="#c09a0a"/>
<ellipse cx="372.8" cy="846.3" rx="2.3" ry="2.48" fill="#c09a0a"/>
<ellipse cx="377.6" cy="847.4" rx="2.3" ry="2.48" fill="#c09a0a"/>
<ellipse cx="395.1" cy="846.7" rx="2.3" ry="2.48" fill="#c09a0a"/>
<ellipse cx="346.5" cy="851.3" rx="2.3" ry="2.48" fill="#c09a0a"/>
<ellipse cx="353.9" cy="853.9" rx="2.3" ry="2.48" fill="#c09a0a"/>
<ellipse cx="354.6" cy="857.7" rx="2.3" ry="2.48" fill="#c09a0a"/>
<ellipse cx="365.5" cy="850.7" rx="2.3" ry="2.48" fill="#c09a0a"/>
<ellipse cx="372.1" cy="853.9" rx="2.3" ry="2.48" fill="#c09a0a"/>
<ellipse cx="367.7" cy="857.2" rx="2.3" ry="2.48" fill="#c09a0a"/>
<ellipse cx="340.4" cy="857.7" rx="2.3" ry="2.48" fill="#c09a0a"/>
<ellipse cx="376.1" cy="859.0" rx="2.3" ry="2.48" fill="#c09a0a"/>
<ellipse cx="382.0" cy="859.4" rx="2.3" ry="2.48" fill="#c09a0a"/>
<ellipse cx="428.4" cy="853.3" rx="2.3" ry="2.48" fill="#c09a0a"/>
<ellipse cx="415.9" cy="863.1" rx="2.3" ry="2.48" fill="#c09a0a"/>
<ellipse cx="397.3" cy="863.4" rx="2.3" ry="2.48" fill="#c09a0a"/>
<ellipse cx="391.8" cy="862.7" rx="2.3" ry="2.48" fill="#c09a0a"/>
<ellipse cx="402.1" cy="870.4" rx="2.3" ry="2.48" fill="#c09a0a"/>
<ellipse cx="318.5" cy="868.2" rx="2.3" ry="2.48" fill="#c09a0a"/>
<ellipse cx="326.1" cy="866.4" rx="2.3" ry="2.48" fill="#c09a0a"/>
<ellipse cx="313.0" cy="879.1" rx="2.3" ry="2.48" fill="#c09a0a"/>
<ellipse cx="304.2" cy="884.2" rx="2.3" ry="2.48" fill="#c09a0a"/>
<ellipse cx="305.3" cy="892.3" rx="2.3" ry="2.48" fill="#c09a0a"/>
<ellipse cx="295.5" cy="898.8" rx="2.3" ry="2.48" fill="#c09a0a"/>
<ellipse cx="411.5" cy="881.3" rx="2.3" ry="2.48" fill="#c09a0a"/>
<ellipse cx="420.3" cy="880.2" rx="2.3" ry="2.48" fill="#c09a0a"/>
<ellipse cx="333.8" cy="871.5" rx="2.3" ry="2.48" fill="#c09a0a"/>
<ellipse cx="339.3" cy="869.3" rx="2.3" ry="2.48" fill="#c09a0a"/>
<ellipse cx="211.4" cy="913.9" rx="2.3" ry="2.48" fill="#c09a0a"/>
<ellipse cx="226.3" cy="906.3" rx="2.3" ry="2.48" fill="#c09a0a"/>
<ellipse cx="228.5" cy="908.5" rx="2.3" ry="2.48" fill="#c09a0a"/>
<ellipse cx="268.3" cy="899.3" rx="2.3" ry="2.48" fill="#c09a0a"/>
<ellipse cx="267.9" cy="905.8" rx="2.3" ry="2.48" fill="#c09a0a"/>
<ellipse cx="287.6" cy="894.9" rx="2.3" ry="2.48" fill="#c09a0a"/>
<ellipse cx="288.7" cy="907.4" rx="2.3" ry="2.48" fill="#c09a0a"/>
<ellipse cx="304.0" cy="884.4" rx="2.3" ry="2.48" fill="#c09a0a"/>
<ellipse cx="296.3" cy="898.6" rx="2.3" ry="2.48" fill="#c09a0a"/>
<ellipse cx="302.9" cy="900.8" rx="2.3" ry="2.48" fill="#c09a0a"/>
<ellipse cx="306.2" cy="892.0" rx="2.3" ry="2.48" fill="#c09a0a"/>
<ellipse cx="289.8" cy="955.5" rx="2.3" ry="2.48" fill="#c09a0a"/>
<ellipse cx="288.7" cy="957.7" rx="2.3" ry="2.48" fill="#c09a0a"/>
<ellipse cx="307.3" cy="944.6" rx="2.3" ry="2.48" fill="#c09a0a"/>
<ellipse cx="319.3" cy="930.4" rx="2.3" ry="2.48" fill="#c09a0a"/>
<ellipse cx="322.6" cy="934.7" rx="2.3" ry="2.48" fill="#c09a0a"/>
<ellipse cx="327.0" cy="939.1" rx="2.3" ry="2.48" fill="#c09a0a"/>
<ellipse cx="313.9" cy="928.2" rx="2.3" ry="2.48" fill="#c09a0a"/>
<ellipse cx="211.4" cy="914.5" rx="2.3" ry="2.48" fill="#c09a0a"/>
<ellipse cx="290.2" cy="956.1" rx="2.3" ry="2.48" fill="#c09a0a"/>
<ellipse cx="379.2" cy="837.4" rx="2.3" ry="2.48" fill="#c09a0a"/>
<ellipse cx="365.0" cy="845.4" rx="2.3" ry="2.48" fill="#c09a0a"/>
<ellipse cx="373.0" cy="846.1" rx="2.3" ry="2.48" fill="#c09a0a"/>
<ellipse cx="378.0" cy="846.7" rx="2.3" ry="2.48" fill="#c09a0a"/>
<ellipse cx="383.6" cy="843.9" rx="2.3" ry="2.48" fill="#c09a0a"/>
<ellipse cx="389.8" cy="843.0" rx="2.3" ry="2.48" fill="#c09a0a"/>
<ellipse cx="395.4" cy="846.7" rx="2.3" ry="2.48" fill="#c09a0a"/>
<ellipse cx="365.2" cy="850.4" rx="2.3" ry="2.48" fill="#c09a0a"/>
<ellipse cx="368.1" cy="857.2" rx="2.3" ry="2.48" fill="#c09a0a"/>
<ellipse cx="372.2" cy="854.1" rx="2.3" ry="2.48" fill="#c09a0a"/>
<ellipse cx="376.1" cy="859.1" rx="2.3" ry="2.48" fill="#c09a0a"/>
<ellipse cx="382.3" cy="859.1" rx="2.3" ry="2.48" fill="#c09a0a"/>
<ellipse cx="391.6" cy="862.8" rx="2.3" ry="2.48" fill="#c09a0a"/>
<ellipse cx="397.2" cy="863.4" rx="2.3" ry="2.48" fill="#c09a0a"/>
<ellipse cx="428.9" cy="853.5" rx="2.3" ry="2.48" fill="#c09a0a"/>
<ellipse cx="416.2" cy="863.7" rx="2.3" ry="2.48" fill="#c09a0a"/>
<ellipse cx="402.4" cy="870.3" rx="2.3" ry="2.48" fill="#c09a0a"/>
<ellipse cx="390.4" cy="873.4" rx="2.3" ry="2.48" fill="#c09a0a"/>
<ellipse cx="412.7" cy="881.4" rx="2.3" ry="2.48" fill="#c09a0a"/>
<ellipse cx="420.2" cy="880.8" rx="2.3" ry="2.48" fill="#c09a0a"/>
<ellipse cx="388.5" cy="885.8" rx="2.3" ry="2.48" fill="#c09a0a"/>
<ellipse cx="388.5" cy="889.5" rx="2.3" ry="2.48" fill="#c09a0a"/>
<ellipse cx="384.2" cy="891.3" rx="2.3" ry="2.48" fill="#c09a0a"/>
<ellipse cx="383.6" cy="896.3" rx="2.3" ry="2.48" fill="#c09a0a"/>
<ellipse cx="346.4" cy="851.6" rx="2.3" ry="2.48" fill="#c09a0a"/>
<ellipse cx="354.2" cy="853.9" rx="2.3" ry="2.48" fill="#c09a0a"/>
<ellipse cx="354.9" cy="857.9" rx="2.3" ry="2.48" fill="#c09a0a"/>
<ellipse cx="340.4" cy="857.9" rx="2.3" ry="2.48" fill="#c09a0a"/>
<ellipse cx="365.1" cy="851.0" rx="2.3" ry="2.48" fill="#c09a0a"/>
<ellipse cx="318.8" cy="868.4" rx="2.3" ry="2.48" fill="#c09a0a"/>
<ellipse cx="326.6" cy="866.4" rx="2.3" ry="2.48" fill="#c09a0a"/>
<ellipse cx="312.2" cy="879.6" rx="2.3" ry="2.48" fill="#c09a0a"/>
<ellipse cx="318.1" cy="875.6" rx="2.3" ry="2.48" fill="#c09a0a"/>
<ellipse cx="324.7" cy="875.6" rx="2.3" ry="2.48" fill="#c09a0a"/>
<ellipse cx="304.3" cy="884.4" rx="2.3" ry="2.48" fill="#c09a0a"/>
<ellipse cx="287.9" cy="894.7" rx="2.3" ry="2.48" fill="#c09a0a"/>
<ellipse cx="296.4" cy="899.3" rx="2.3" ry="2.48" fill="#c09a0a"/>
<ellipse cx="305.6" cy="892.7" rx="2.3" ry="2.48" fill="#c09a0a"/>
<ellipse cx="288.5" cy="907.8" rx="2.3" ry="2.48" fill="#c09a0a"/>
<ellipse cx="319.4" cy="881.5" rx="2.3" ry="2.48" fill="#c09a0a"/>
<ellipse cx="300.0" cy="905.0" rx="2.3" ry="2.48" fill="#c09a0a"/>
<ellipse cx="305.0" cy="910.0" rx="2.3" ry="2.48" fill="#c09a0a"/>
<ellipse cx="298.0" cy="915.0" rx="2.3" ry="2.48" fill="#c09a0a"/>
<ellipse cx="303.0" cy="920.0" rx="2.3" ry="2.48" fill="#c09a0a"/>
<ellipse cx="310.0" cy="918.0" rx="2.3" ry="2.48" fill="#c09a0a"/>
<ellipse cx="296.0" cy="910.0" rx="2.3" ry="2.48" fill="#c09a0a"/>
<ellipse cx="308.0" cy="926.0" rx="2.3" ry="2.48" fill="#c09a0a"/>
<ellipse cx="300.0" cy="930.0" rx="2.3" ry="2.48" fill="#c09a0a"/>
<ellipse cx="347.1" cy="909.9" rx="2.3" ry="2.48" fill="#0ac4f5"/>
<ellipse cx="316.6" cy="899.7" rx="2.3" ry="2.48" fill="#0ac4f5"/>
<ellipse cx="373.8" cy="900.4" rx="2.3" ry="2.48" fill="#0ac4f5"/>
<ellipse cx="367.1" cy="881.3" rx="2.3" ry="2.48" fill="#0ac4f5"/>
<ellipse cx="373.8" cy="915.5" rx="2.3" ry="2.48" fill="#0ac4f5"/>
<ellipse cx="382.3" cy="884.9" rx="2.3" ry="2.48" fill="#0ac4f5"/>
<ellipse cx="336.1" cy="883.1" rx="2.3" ry="2.48" fill="#0ac4f5"/>
<ellipse cx="321.8" cy="914.5" rx="2.3" ry="2.48" fill="#0ac4f5"/>
<ellipse cx="365.8" cy="902.6" rx="2.3" ry="2.48" fill="#0ac4f5"/>
<ellipse cx="353.2" cy="912.3" rx="2.3" ry="2.48" fill="#0ac4f5"/>
<ellipse cx="354.1" cy="886.3" rx="2.3" ry="2.48" fill="#0ac4f5"/>
<ellipse cx="334.3" cy="887.0" rx="2.3" ry="2.48" fill="#0ac4f5"/>
<ellipse cx="341.8" cy="878.6" rx="2.3" ry="2.48" fill="#0ac4f5"/>
<ellipse cx="345.6" cy="914.4" rx="2.3" ry="2.48" fill="#0ac4f5"/>
<ellipse cx="343.2" cy="909.1" rx="2.3" ry="2.48" fill="#0ac4f5"/>
<ellipse cx="359.9" cy="877.5" rx="2.3" ry="2.48" fill="#0ac4f5"/>
<ellipse cx="332.2" cy="893.7" rx="2.3" ry="2.48" fill="#0ac4f5"/>
<ellipse cx="361.9" cy="921.1" rx="2.3" ry="2.48" fill="#0ac4f5"/>
<ellipse cx="346.8" cy="921.2" rx="2.3" ry="2.48" fill="#0ac4f5"/>
<ellipse cx="375.3" cy="905.0" rx="2.3" ry="2.48" fill="#0ac4f5"/>
<ellipse cx="349.3" cy="899.7" rx="2.3" ry="2.48" fill="#0ac4f5"/>
<ellipse cx="326.3" cy="893.3" rx="2.3" ry="2.48" fill="#0ac4f5"/>
<ellipse cx="364.6" cy="884.6" rx="2.3" ry="2.48" fill="#0ac4f5"/>
<ellipse cx="374.3" cy="899.8" rx="2.3" ry="2.48" fill="#0ac4f5"/>
<ellipse cx="355.4" cy="914.8" rx="2.3" ry="2.48" fill="#0ac4f5"/>
<ellipse cx="358.7" cy="881.8" rx="2.3" ry="2.48" fill="#0ac4f5"/>
<ellipse cx="354.6" cy="921.9" rx="2.3" ry="2.48" fill="#0ac4f5"/>
<ellipse cx="369.0" cy="890.4" rx="2.3" ry="2.48" fill="#0ac4f5"/>
<ellipse cx="344.0" cy="879.2" rx="2.3" ry="2.48" fill="#0ac4f5"/>
<ellipse cx="333.4" cy="883.2" rx="2.3" ry="2.48" fill="#0ac4f5"/>
<ellipse cx="337.0" cy="879.2" rx="2.3" ry="2.48" fill="#0ac4f5"/>
<ellipse cx="325.1" cy="912.8" rx="2.3" ry="2.48" fill="#0ac4f5"/>
<ellipse cx="353.9" cy="898.5" rx="2.3" ry="2.48" fill="#0ac4f5"/>
<ellipse cx="378.8" cy="893.4" rx="2.3" ry="2.48" fill="#0ac4f5"/>
<ellipse cx="372.1" cy="876.9" rx="2.3" ry="2.48" fill="#0ac4f5"/>
<ellipse cx="383.2" cy="884.0" rx="2.3" ry="2.48" fill="#0ac4f5"/>
<ellipse cx="364.4" cy="907.7" rx="2.3" ry="2.48" fill="#0ac4f5"/>
<ellipse cx="367.9" cy="893.4" rx="2.3" ry="2.48" fill="#0ac4f5"/>
<ellipse cx="317.7" cy="890.5" rx="2.3" ry="2.48" fill="#0ac4f5"/>
<ellipse cx="326.6" cy="896.5" rx="2.3" ry="2.48" fill="#0ac4f5"/>
<ellipse cx="343.6" cy="918.8" rx="2.3" ry="2.48" fill="#0ac4f5"/>
<ellipse cx="328.4" cy="901.7" rx="2.3" ry="2.48" fill="#0ac4f5"/>
<ellipse cx="376.9" cy="899.4" rx="2.3" ry="2.48" fill="#0ac4f5"/>
<ellipse cx="366.8" cy="878.8" rx="2.3" ry="2.48" fill="#0ac4f5"/>
<ellipse cx="354.3" cy="923.0" rx="2.3" ry="2.48" fill="#0ac4f5"/>
<ellipse cx="347.6" cy="878.4" rx="2.3" ry="2.48" fill="#0ac4f5"/>
<ellipse cx="384.1" cy="887.1" rx="2.3" ry="2.48" fill="#0ac4f5"/>
<ellipse cx="333.4" cy="909.7" rx="2.3" ry="2.48" fill="#0ac4f5"/>
<ellipse cx="348.0" cy="884.1" rx="2.3" ry="2.48" fill="#0ac4f5"/>
<ellipse cx="348.2" cy="911.4" rx="2.3" ry="2.48" fill="#0ac4f5"/>
<ellipse cx="364.7" cy="919.6" rx="2.3" ry="2.48" fill="#0ac4f5"/>
<ellipse cx="337.9" cy="898.0" rx="2.3" ry="2.48" fill="#0ac4f5"/>
<ellipse cx="357.9" cy="900.3" rx="2.3" ry="2.48" fill="#0ac4f5"/>
<ellipse cx="318.8" cy="888.5" rx="2.3" ry="2.48" fill="#0ac4f5"/>
<ellipse cx="324.8" cy="884.7" rx="2.3" ry="2.48" fill="#0ac4f5"/>
<ellipse cx="315.7" cy="894.1" rx="2.3" ry="2.48" fill="#0ac4f5"/>
<ellipse cx="325.8" cy="916.1" rx="2.3" ry="2.48" fill="#0ac4f5"/>
<ellipse cx="371.4" cy="888.2" rx="2.3" ry="2.48" fill="#0ac4f5"/>
<ellipse cx="320.8" cy="902.8" rx="2.3" ry="2.48" fill="#0ac4f5"/>
<ellipse cx="345.4" cy="901.0" rx="2.3" ry="2.48" fill="#0ac4f5"/>
<ellipse cx="318.4" cy="900.8" rx="2.3" ry="2.48" fill="#0ac4f5"/>
<ellipse cx="367.4" cy="896.7" rx="2.3" ry="2.48" fill="#0ac4f5"/>
<ellipse cx="343.4" cy="882.4" rx="2.3" ry="2.48" fill="#0ac4f5"/>
<ellipse cx="369.4" cy="895.5" rx="2.3" ry="2.48" fill="#0ac4f5"/>
<ellipse cx="370.4" cy="904.5" rx="2.3" ry="2.48" fill="#0ac4f5"/>
<ellipse cx="352.6" cy="878.8" rx="2.3" ry="2.48" fill="#0ac4f5"/>
<ellipse cx="384.6" cy="889.7" rx="2.3" ry="2.48" fill="#0ac4f5"/>
<ellipse cx="349.2" cy="898.8" rx="2.3" ry="2.48" fill="#0ac4f5"/>
<ellipse cx="377.7" cy="898.9" rx="2.3" ry="2.48" fill="#0ac4f5"/>
<ellipse cx="339.2" cy="916.7" rx="2.3" ry="2.48" fill="#0ac4f5"/>
<ellipse cx="375.1" cy="909.9" rx="2.3" ry="2.48" fill="#0ac4f5"/>
<ellipse cx="378.8" cy="892.0" rx="2.3" ry="2.48" fill="#0ac4f5"/>
<ellipse cx="317.0" cy="892.0" rx="2.3" ry="2.48" fill="#0ac4f5"/>
<ellipse cx="355.2" cy="913.1" rx="2.3" ry="2.48" fill="#0ac4f5"/>
<ellipse cx="365.4" cy="905.6" rx="2.3" ry="2.48" fill="#0ac4f5"/>
<ellipse cx="355.2" cy="907.3" rx="2.3" ry="2.48" fill="#0ac4f5"/>
<ellipse cx="353.2" cy="875.9" rx="2.3" ry="2.48" fill="#0ac4f5"/>
<ellipse cx="351.0" cy="888.5" rx="2.3" ry="2.48" fill="#0ac4f5"/>
<ellipse cx="314.5" cy="904.7" rx="2.3" ry="2.48" fill="#0ac4f5"/>
<ellipse cx="373.6" cy="888.8" rx="2.3" ry="2.48" fill="#0ac4f5"/>
<ellipse cx="360.5" cy="905.4" rx="2.3" ry="2.48" fill="#0ac4f5"/>
<ellipse cx="361.4" cy="917.2" rx="2.3" ry="2.48" fill="#0ac4f5"/>
<ellipse cx="362.5" cy="879.0" rx="2.3" ry="2.48" fill="#0ac4f5"/>
<ellipse cx="356.4" cy="892.0" rx="2.3" ry="2.48" fill="#0ac4f5"/>
<ellipse cx="341.0" cy="907.7" rx="2.3" ry="2.48" fill="#0ac4f5"/>
<ellipse cx="322.3" cy="905.4" rx="2.3" ry="2.48" fill="#0ac4f5"/>
<ellipse cx="381.1" cy="878.9" rx="2.3" ry="2.48" fill="#0ac4f5"/>
<ellipse cx="374.5" cy="909.3" rx="2.3" ry="2.48" fill="#0ac4f5"/>
<ellipse cx="340.0" cy="912.1" rx="2.3" ry="2.48" fill="#0ac4f5"/>
<ellipse cx="343.3" cy="901.5" rx="2.3" ry="2.48" fill="#0ac4f5"/>
<ellipse cx="357.8" cy="896.4" rx="2.3" ry="2.48" fill="#0ac4f5"/>
<ellipse cx="351.8" cy="920.6" rx="2.3" ry="2.48" fill="#0ac4f5"/>
<ellipse cx="318.0" cy="915.5" rx="2.3" ry="2.48" fill="#0ac4f5"/>
<ellipse cx="365.2" cy="888.1" rx="2.3" ry="2.48" fill="#0ac4f5"/>
<ellipse cx="318.1" cy="911.2" rx="2.3" ry="2.48" fill="#0ac4f5"/>
<ellipse cx="374.6" cy="891.9" rx="2.3" ry="2.48" fill="#0ac4f5"/>
<ellipse cx="319.5" cy="902.0" rx="2.3" ry="2.48" fill="#0ac4f5"/>
<ellipse cx="360.5" cy="892.5" rx="2.3" ry="2.48" fill="#0ac4f5"/>
<ellipse cx="340.5" cy="880.1" rx="2.3" ry="2.48" fill="#0ac4f5"/>
<ellipse cx="319.8" cy="885.9" rx="2.3" ry="2.48" fill="#0ac4f5"/>
<ellipse cx="367.3" cy="881.1" rx="2.3" ry="2.48" fill="#0ac4f5"/>
<ellipse cx="324.1" cy="897.6" rx="2.3" ry="2.48" fill="#0ac4f5"/>
<ellipse cx="325.1" cy="886.8" rx="2.3" ry="2.48" fill="#0ac4f5"/>
<ellipse cx="365.6" cy="886.5" rx="2.3" ry="2.48" fill="#0ac4f5"/>
<ellipse cx="352.1" cy="879.3" rx="2.3" ry="2.48" fill="#0ac4f5"/>
<ellipse cx="348.8" cy="908.9" rx="2.3" ry="2.48" fill="#0ac4f5"/>
<ellipse cx="343.4" cy="884.4" rx="2.3" ry="2.48" fill="#0ac4f5"/>
<ellipse cx="311.2" cy="888.5" rx="2.3" ry="2.48" fill="#0ac4f5"/>
<ellipse cx="340.4" cy="880.1" rx="2.3" ry="2.48" fill="#0ac4f5"/>
<ellipse cx="341.7" cy="899.7" rx="2.3" ry="2.48" fill="#0ac4f5"/>
<ellipse cx="313.8" cy="907.2" rx="2.3" ry="2.48" fill="#0ac4f5"/>
<ellipse cx="343.5" cy="915.3" rx="2.3" ry="2.48" fill="#0ac4f5"/>
<ellipse cx="333.9" cy="881.7" rx="2.3" ry="2.48" fill="#0ac4f5"/>
<ellipse cx="346.4" cy="909.1" rx="2.3" ry="2.48" fill="#0ac4f5"/>
<ellipse cx="329.6" cy="892.6" rx="2.3" ry="2.48" fill="#0ac4f5"/>
<ellipse cx="328.8" cy="916.1" rx="2.3" ry="2.48" fill="#0ac4f5"/>
<ellipse cx="312.7" cy="891.8" rx="2.3" ry="2.48" fill="#0ac4f5"/>
<ellipse cx="314.8" cy="888.2" rx="2.3" ry="2.48" fill="#0ac4f5"/>
<ellipse cx="323.8" cy="886.4" rx="2.3" ry="2.48" fill="#0ac4f5"/>
<ellipse cx="357.8" cy="893.0" rx="2.3" ry="2.48" fill="#0ac4f5"/>
<ellipse cx="342.2" cy="891.0" rx="2.3" ry="2.48" fill="#0ac4f5"/>
<ellipse cx="323.9" cy="896.4" rx="2.3" ry="2.48" fill="#0ac4f5"/>
<ellipse cx="341.1" cy="920.4" rx="2.3" ry="2.48" fill="#0ac4f5"/>
<ellipse cx="324.3" cy="908.9" rx="2.3" ry="2.48" fill="#0ac4f5"/>
<ellipse cx="365.2" cy="906.9" rx="2.3" ry="2.48" fill="#0ac4f5"/>
<ellipse cx="356.1" cy="877.2" rx="2.3" ry="2.48" fill="#0ac4f5"/>
<ellipse cx="320.2" cy="900.2" rx="2.3" ry="2.48" fill="#0ac4f5"/>
<ellipse cx="355.4" cy="921.6" rx="2.3" ry="2.48" fill="#0ac4f5"/>
<ellipse cx="369.4" cy="885.6" rx="2.3" ry="2.48" fill="#0ac4f5"/>
<ellipse cx="320.3" cy="912.5" rx="2.3" ry="2.48" fill="#0ac4f5"/>
<ellipse cx="315.6" cy="904.1" rx="2.3" ry="2.48" fill="#0ac4f5"/>
<ellipse cx="374.0" cy="879.3" rx="2.3" ry="2.48" fill="#0ac4f5"/>
<ellipse cx="316.7" cy="905.6" rx="2.3" ry="2.48" fill="#0ac4f5"/>
<ellipse cx="345.0" cy="913.5" rx="2.3" ry="2.48" fill="#0ac4f5"/>
<ellipse cx="368.6" cy="894.2" rx="2.3" ry="2.48" fill="#0ac4f5"/>
<ellipse cx="309.5" cy="905.0" rx="2.3" ry="2.48" fill="#0ac4f5"/>
<ellipse cx="350.2" cy="895.5" rx="2.3" ry="2.48" fill="#0ac4f5"/>
<ellipse cx="354.8" cy="903.4" rx="2.3" ry="2.48" fill="#0ac4f5"/>
<ellipse cx="346.0" cy="901.7" rx="2.3" ry="2.48" fill="#0ac4f5"/>
<ellipse cx="352.1" cy="912.4" rx="2.3" ry="2.48" fill="#0ac4f5"/>
<ellipse cx="369.3" cy="886.9" rx="2.3" ry="2.48" fill="#0ac4f5"/>
<ellipse cx="341.4" cy="885.7" rx="2.3" ry="2.48" fill="#0ac4f5"/>
<ellipse cx="332.6" cy="894.4" rx="2.3" ry="2.48" fill="#0ac4f5"/>
<ellipse cx="343.9" cy="880.3" rx="2.3" ry="2.48" fill="#0ac4f5"/>
<ellipse cx="331.5" cy="897.2" rx="2.3" ry="2.48" fill="#0ac4f5"/>
<ellipse cx="338.6" cy="900.7" rx="2.3" ry="2.48" fill="#0ac4f5"/>
<ellipse cx="314.2" cy="902.1" rx="2.3" ry="2.48" fill="#0ac4f5"/>
<ellipse cx="378.6" cy="910.8" rx="2.3" ry="2.48" fill="#0ac4f5"/>
<ellipse cx="351.8" cy="914.0" rx="2.3" ry="2.48" fill="#0ac4f5"/>
<ellipse cx="338.1" cy="883.7" rx="2.3" ry="2.48" fill="#0ac4f5"/>
<ellipse cx="356.1" cy="887.0" rx="2.3" ry="2.48" fill="#0ac4f5"/>
<ellipse cx="329.9" cy="912.3" rx="2.3" ry="2.48" fill="#0ac4f5"/>
<ellipse cx="348.1" cy="883.6" rx="2.3" ry="2.48" fill="#0ac4f5"/>
<ellipse cx="325.6" cy="910.6" rx="2.3" ry="2.48" fill="#0ac4f5"/>
<ellipse cx="359.0" cy="918.5" rx="2.3" ry="2.48" fill="#0ac4f5"/>
<ellipse cx="365.8" cy="888.9" rx="2.3" ry="2.48" fill="#0ac4f5"/>
<ellipse cx="363.0" cy="917.7" rx="2.3" ry="2.48" fill="#0ac4f5"/>
<ellipse cx="320.1" cy="887.2" rx="2.3" ry="2.48" fill="#0ac4f5"/>
<ellipse cx="322.2" cy="914.5" rx="2.3" ry="2.48" fill="#0ac4f5"/>
<ellipse cx="362.3" cy="902.1" rx="2.3" ry="2.48" fill="#0ac4f5"/>
<ellipse cx="324.0" cy="895.0" rx="2.3" ry="2.48" fill="#0ac4f5"/>
<ellipse cx="362.1" cy="876.7" rx="2.3" ry="2.48" fill="#0ac4f5"/>
<ellipse cx="377.5" cy="909.1" rx="2.3" ry="2.48" fill="#0ac4f5"/>
<ellipse cx="348.6" cy="889.7" rx="2.3" ry="2.48" fill="#0ac4f5"/>
<ellipse cx="338.1" cy="898.7" rx="2.3" ry="2.48" fill="#0ac4f5"/>
<ellipse cx="355.5" cy="888.4" rx="2.3" ry="2.48" fill="#0ac4f5"/>
<ellipse cx="331.1" cy="899.9" rx="2.3" ry="2.48" fill="#0ac4f5"/>
<ellipse cx="378.3" cy="906.5" rx="2.3" ry="2.48" fill="#0ac4f5"/>
<ellipse cx="347.5" cy="901.9" rx="2.3" ry="2.48" fill="#0ac4f5"/>
<ellipse cx="372.2" cy="895.9" rx="2.3" ry="2.48" fill="#0ac4f5"/>
<ellipse cx="333.9" cy="879.6" rx="2.3" ry="2.48" fill="#0ac4f5"/>
<ellipse cx="328.5" cy="906.1" rx="2.3" ry="2.48" fill="#0ac4f5"/>
<ellipse cx="336.5" cy="919.1" rx="2.3" ry="2.48" fill="#0ac4f5"/>
<ellipse cx="345.0" cy="915.5" rx="2.3" ry="2.48" fill="#0ac4f5"/>
<ellipse cx="370.9" cy="900.2" rx="2.3" ry="2.48" fill="#0ac4f5"/>
<ellipse cx="320.8" cy="915.8" rx="2.3" ry="2.48" fill="#0ac4f5"/>
<ellipse cx="382.6" cy="897.2" rx="2.3" ry="2.48" fill="#0ac4f5"/>
<ellipse cx="367.8" cy="905.3" rx="2.3" ry="2.48" fill="#0ac4f5"/>
<ellipse cx="368.2" cy="919.0" rx="2.3" ry="2.48" fill="#0ac4f5"/>
<ellipse cx="359.0" cy="882.2" rx="2.3" ry="2.48" fill="#0ac4f5"/>
<ellipse cx="342.6" cy="901.3" rx="2.3" ry="2.48" fill="#0ac4f5"/>
<ellipse cx="326.3" cy="909.2" rx="2.3" ry="2.48" fill="#0ac4f5"/>
<ellipse cx="334.1" cy="879.4" rx="2.3" ry="2.48" fill="#0ac4f5"/>
<ellipse cx="336.5" cy="910.6" rx="2.3" ry="2.48" fill="#0ac4f5"/>
<ellipse cx="357.8" cy="890.8" rx="2.3" ry="2.48" fill="#0ac4f5"/>
<ellipse cx="341.2" cy="908.4" rx="2.3" ry="2.48" fill="#0ac4f5"/>
<ellipse cx="374.4" cy="880.4" rx="2.3" ry="2.48" fill="#0ac4f5"/>
<ellipse cx="324.1" cy="895.1" rx="2.3" ry="2.48" fill="#0ac4f5"/>
<ellipse cx="325.7" cy="883.9" rx="2.3" ry="2.48" fill="#0ac4f5"/>
<ellipse cx="332.2" cy="882.0" rx="2.3" ry="2.48" fill="#0ac4f5"/>
<ellipse cx="311.7" cy="895.8" rx="2.3" ry="2.48" fill="#0ac4f5"/>
<ellipse cx="342.6" cy="904.9" rx="2.3" ry="2.48" fill="#0ac4f5"/>
<ellipse cx="345.6" cy="888.7" rx="2.3" ry="2.48" fill="#0ac4f5"/>
<ellipse cx="356.5" cy="896.6" rx="2.3" ry="2.48" fill="#0ac4f5"/>
<ellipse cx="354.4" cy="919.9" rx="2.3" ry="2.48" fill="#0ac4f5"/>
<ellipse cx="371.4" cy="912.1" rx="2.3" ry="2.48" fill="#0ac4f5"/>
<ellipse cx="366.5" cy="907.6" rx="2.3" ry="2.48" fill="#0ac4f5"/>
<ellipse cx="383.5" cy="900.8" rx="2.3" ry="2.48" fill="#0ac4f5"/>
<ellipse cx="339.0" cy="904.8" rx="2.3" ry="2.48" fill="#0ac4f5"/>
<ellipse cx="323.6" cy="913.1" rx="2.3" ry="2.48" fill="#0ac4f5"/>
<ellipse cx="349.1" cy="892.5" rx="2.3" ry="2.48" fill="#0ac4f5"/>
<ellipse cx="361.0" cy="909.4" rx="2.3" ry="2.48" fill="#0ac4f5"/>
<ellipse cx="356.0" cy="890.3" rx="2.3" ry="2.48" fill="#0ac4f5"/>
<ellipse cx="354.7" cy="878.9" rx="2.3" ry="2.48" fill="#0ac4f5"/>
<ellipse cx="326.8" cy="912.8" rx="2.3" ry="2.48" fill="#0ac4f5"/>
<ellipse cx="363.3" cy="885.9" rx="2.3" ry="2.48" fill="#0ac4f5"/>
<ellipse cx="342.1" cy="878.0" rx="2.3" ry="2.48" fill="#0ac4f5"/>
<ellipse cx="349.3" cy="914.6" rx="2.3" ry="2.48" fill="#0ac4f5"/>
<ellipse cx="354.6" cy="889.1" rx="2.3" ry="2.48" fill="#0ac4f5"/>
<ellipse cx="348.5" cy="892.9" rx="2.3" ry="2.48" fill="#0ac4f5"/>
<ellipse cx="324.9" cy="904.7" rx="2.3" ry="2.48" fill="#0ac4f5"/>
<ellipse cx="371.0" cy="885.0" rx="2.3" ry="2.48" fill="#0ac4f5"/>
<ellipse cx="319.8" cy="902.6" rx="2.3" ry="2.48" fill="#0ac4f5"/>
<ellipse cx="358.1" cy="895.6" rx="2.3" ry="2.48" fill="#0ac4f5"/>
<ellipse cx="350.5" cy="904.0" rx="2.3" ry="2.48" fill="#0ac4f5"/>
<ellipse cx="362.6" cy="880.0" rx="2.3" ry="2.48" fill="#0ac4f5"/>
<ellipse cx="335.0" cy="882.3" rx="2.3" ry="2.48" fill="#0ac4f5"/>
<ellipse cx="356.8" cy="915.4" rx="2.3" ry="2.48" fill="#0ac4f5"/>
<ellipse cx="340.0" cy="885.6" rx="2.3" ry="2.48" fill="#0ac4f5"/>
<ellipse cx="315.4" cy="912.6" rx="2.3" ry="2.48" fill="#0ac4f5"/>
<ellipse cx="375.2" cy="910.5" rx="2.3" ry="2.48" fill="#0ac4f5"/>
<ellipse cx="325.9" cy="912.0" rx="2.3" ry="2.48" fill="#0ac4f5"/>
<ellipse cx="377.5" cy="890.0" rx="2.3" ry="2.48" fill="#0ac4f5"/>
<ellipse cx="324.3" cy="906.6" rx="2.3" ry="2.48" fill="#0ac4f5"/>
<ellipse cx="368.7" cy="902.5" rx="2.3" ry="2.48" fill="#0ac4f5"/>
<ellipse cx="379.4" cy="899.3" rx="2.3" ry="2.48" fill="#0ac4f5"/>
<ellipse cx="321.4" cy="892.6" rx="2.3" ry="2.48" fill="#0ac4f5"/>
<ellipse cx="333.1" cy="899.7" rx="2.3" ry="2.48" fill="#0ac4f5"/>
<ellipse cx="337.8" cy="915.2" rx="2.3" ry="2.48" fill="#0ac4f5"/>
<ellipse cx="357.1" cy="913.7" rx="2.3" ry="2.48" fill="#0ac4f5"/>
<ellipse cx="355.1" cy="878.6" rx="2.3" ry="2.48" fill="#0ac4f5"/>
<ellipse cx="364.0" cy="892.6" rx="2.3" ry="2.48" fill="#0ac4f5"/>
<ellipse cx="372.3" cy="918.2" rx="2.3" ry="2.48" fill="#0ac4f5"/>
<ellipse cx="374.5" cy="907.0" rx="2.3" ry="2.48" fill="#0ac4f5"/>
<ellipse cx="346.8" cy="913.7" rx="2.3" ry="2.48" fill="#0ac4f5"/>
<ellipse cx="376.7" cy="878.9" rx="2.3" ry="2.48" fill="#0ac4f5"/>
<ellipse cx="312.9" cy="895.2" rx="2.3" ry="2.48" fill="#0ac4f5"/>
<ellipse cx="355.6" cy="890.8" rx="2.3" ry="2.48" fill="#0ac4f5"/>
<ellipse cx="362.1" cy="911.8" rx="2.3" ry="2.48" fill="#0ac4f5"/>
<ellipse cx="314.2" cy="904.6" rx="2.3" ry="2.48" fill="#0ac4f5"/>
<ellipse cx="368.6" cy="880.8" rx="2.3" ry="2.48" fill="#0ac4f5"/>
<ellipse cx="329.4" cy="908.2" rx="2.3" ry="2.48" fill="#0ac4f5"/>
<ellipse cx="341.7" cy="880.5" rx="2.3" ry="2.48" fill="#0ac4f5"/>
<ellipse cx="312.8" cy="904.5" rx="2.3" ry="2.48" fill="#0ac4f5"/>
<ellipse cx="329.2" cy="901.0" rx="2.3" ry="2.48" fill="#0ac4f5"/>
<ellipse cx="315.1" cy="891.1" rx="2.3" ry="2.48" fill="#0ac4f5"/>
<ellipse cx="330.8" cy="887.4" rx="2.3" ry="2.48" fill="#0ac4f5"/>
<ellipse cx="366.6" cy="897.6" rx="2.3" ry="2.48" fill="#0ac4f5"/>
<ellipse cx="369.4" cy="920.1" rx="2.3" ry="2.48" fill="#0ac4f5"/>
<ellipse cx="381.8" cy="886.6" rx="2.3" ry="2.48" fill="#0ac4f5"/>
<ellipse cx="361.2" cy="881.8" rx="2.3" ry="2.48" fill="#0ac4f5"/>
<ellipse cx="311.7" cy="905.7" rx="2.3" ry="2.48" fill="#0ac4f5"/>
<ellipse cx="349.7" cy="883.1" rx="2.3" ry="2.48" fill="#0ac4f5"/>
<ellipse cx="331.6" cy="909.7" rx="2.3" ry="2.48" fill="#0ac4f5"/>
<ellipse cx="355.9" cy="880.5" rx="2.3" ry="2.48" fill="#0ac4f5"/>
<ellipse cx="340.1" cy="904.6" rx="2.3" ry="2.48" fill="#0ac4f5"/>
<ellipse cx="327.4" cy="882.8" rx="2.3" ry="2.48" fill="#0ac4f5"/>
<ellipse cx="349.1" cy="918.9" rx="2.3" ry="2.48" fill="#0ac4f5"/>
<ellipse cx="312.3" cy="903.9" rx="2.3" ry="2.48" fill="#0ac4f5"/>
<ellipse cx="358.8" cy="920.9" rx="2.3" ry="2.48" fill="#0ac4f5"/>
<ellipse cx="319.2" cy="911.4" rx="2.3" ry="2.48" fill="#0ac4f5"/>
<ellipse cx="341.8" cy="918.3" rx="2.3" ry="2.48" fill="#0ac4f5"/>
<ellipse cx="380.7" cy="904.9" rx="2.3" ry="2.48" fill="#0ac4f5"/>
<ellipse cx="357.2" cy="880.8" rx="2.3" ry="2.48" fill="#0ac4f5"/>
<ellipse cx="358.3" cy="887.6" rx="2.3" ry="2.48" fill="#0ac4f5"/>
<ellipse cx="323.7" cy="914.5" rx="2.3" ry="2.48" fill="#0ac4f5"/>
<ellipse cx="369.9" cy="906.2" rx="2.3" ry="2.48" fill="#0ac4f5"/>
<ellipse cx="371.6" cy="885.2" rx="2.3" ry="2.48" fill="#0ac4f5"/>
<ellipse cx="346.4" cy="917.1" rx="2.3" ry="2.48" fill="#0ac4f5"/>
<ellipse cx="364.6" cy="893.8" rx="2.3" ry="2.48" fill="#0ac4f5"/>
<ellipse cx="338.8" cy="916.9" rx="2.3" ry="2.48" fill="#0ac4f5"/>
<ellipse cx="361.7" cy="884.1" rx="2.3" ry="2.48" fill="#0ac4f5"/>
<ellipse cx="335.0" cy="887.1" rx="2.3" ry="2.48" fill="#0ac4f5"/>
<ellipse cx="336.0" cy="897.1" rx="2.3" ry="2.48" fill="#0ac4f5"/>
<ellipse cx="365.4" cy="896.3" rx="2.3" ry="2.48" fill="#0ac4f5"/>
<ellipse cx="358.5" cy="891.6" rx="2.3" ry="2.48" fill="#0ac4f5"/>
<ellipse cx="324.7" cy="917.2" rx="2.3" ry="2.48" fill="#0ac4f5"/>
<ellipse cx="371.0" cy="899.5" rx="2.3" ry="2.48" fill="#0ac4f5"/>
<ellipse cx="360.5" cy="907.6" rx="2.3" ry="2.48" fill="#0ac4f5"/>
<ellipse cx="352.9" cy="891.3" rx="2.3" ry="2.48" fill="#0ac4f5"/>
<ellipse cx="338.1" cy="886.5" rx="2.3" ry="2.48" fill="#0ac4f5"/>
<ellipse cx="336.0" cy="879.0" rx="2.3" ry="2.48" fill="#0ac4f5"/>
<ellipse cx="370.3" cy="889.6" rx="2.3" ry="2.48" fill="#0ac4f5"/>
<ellipse cx="371.6" cy="903.6" rx="2.3" ry="2.48" fill="#0ac4f5"/>
<ellipse cx="339.5" cy="902.0" rx="2.3" ry="2.48" fill="#0ac4f5"/>
<ellipse cx="355.4" cy="881.4" rx="2.3" ry="2.48" fill="#0ac4f5"/>
<ellipse cx="368.1" cy="915.5" rx="2.3" ry="2.48" fill="#0ac4f5"/>
<ellipse cx="350.5" cy="921.9" rx="2.3" ry="2.48" fill="#0ac4f5"/>
<ellipse cx="326.9" cy="886.8" rx="2.3" ry="2.48" fill="#0ac4f5"/>
<ellipse cx="375.0" cy="885.5" rx="2.3" ry="2.48" fill="#0ac4f5"/>
<ellipse cx="364.8" cy="891.8" rx="2.3" ry="2.48" fill="#0ac4f5"/>
<ellipse cx="371.0" cy="889.5" rx="2.3" ry="2.48" fill="#0ac4f5"/>
<ellipse cx="356.5" cy="904.8" rx="2.3" ry="2.48" fill="#0ac4f5"/>
<ellipse cx="355.1" cy="916.6" rx="2.3" ry="2.48" fill="#0ac4f5"/>
<ellipse cx="355.9" cy="886.5" rx="2.3" ry="2.48" fill="#0ac4f5"/>
<ellipse cx="337.0" cy="888.3" rx="2.3" ry="2.48" fill="#0ac4f5"/>
<ellipse cx="348.7" cy="895.8" rx="2.3" ry="2.48" fill="#0ac4f5"/>
<ellipse cx="347.2" cy="890.6" rx="2.3" ry="2.48" fill="#0ac4f5"/>
<ellipse cx="370.9" cy="897.0" rx="2.3" ry="2.48" fill="#0ac4f5"/>
<ellipse cx="345.0" cy="896.7" rx="2.3" ry="2.48" fill="#0ac4f5"/>
<ellipse cx="347.5" cy="892.3" rx="2.3" ry="2.48" fill="#0ac4f5"/>
<ellipse cx="347.9" cy="885.7" rx="2.3" ry="2.48" fill="#0ac4f5"/>
<ellipse cx="339.1" cy="880.5" rx="2.3" ry="2.48" fill="#0ac4f5"/>
<ellipse cx="315.2" cy="892.7" rx="2.3" ry="2.48" fill="#0ac4f5"/>
<ellipse cx="379.5" cy="884.8" rx="2.3" ry="2.48" fill="#0ac4f5"/>
<ellipse cx="333.0" cy="887.4" rx="2.3" ry="2.48" fill="#0ac4f5"/>
<ellipse cx="368.6" cy="880.1" rx="2.3" ry="2.48" fill="#0ac4f5"/>
<ellipse cx="343.0" cy="882.8" rx="2.3" ry="2.48" fill="#0ac4f5"/>
<ellipse cx="339.3" cy="897.8" rx="2.3" ry="2.48" fill="#0ac4f5"/>
<ellipse cx="360.8" cy="907.9" rx="2.3" ry="2.48" fill="#0ac4f5"/>
<ellipse cx="347.1" cy="886.4" rx="2.3" ry="2.48" fill="#0ac4f5"/>
<ellipse cx="353.9" cy="907.4" rx="2.3" ry="2.48" fill="#0ac4f5"/>
<ellipse cx="344.0" cy="879.5" rx="2.3" ry="2.48" fill="#0ac4f5"/>
<ellipse cx="338.2" cy="900.5" rx="2.3" ry="2.48" fill="#0ac4f5"/>
<ellipse cx="335.1" cy="912.7" rx="2.3" ry="2.48" fill="#0ac4f5"/>
<ellipse cx="363.8" cy="896.3" rx="2.3" ry="2.48" fill="#0ac4f5"/>
<ellipse cx="364.7" cy="913.4" rx="2.3" ry="2.48" fill="#0ac4f5"/>
<ellipse cx="367.2" cy="914.3" rx="2.3" ry="2.48" fill="#0ac4f5"/>
<ellipse cx="325.9" cy="887.8" rx="2.3" ry="2.48" fill="#0ac4f5"/>
<ellipse cx="377.1" cy="898.7" rx="2.3" ry="2.48" fill="#0ac4f5"/>
<ellipse cx="351.1" cy="911.4" rx="2.3" ry="2.48" fill="#c09a0a"/>
<ellipse cx="366.4" cy="916.9" rx="2.3" ry="2.48" fill="#c09a0a"/>
<ellipse cx="352.5" cy="911.2" rx="2.3" ry="2.48" fill="#c09a0a"/>
<ellipse cx="367.0" cy="920.0" rx="2.3" ry="2.48" fill="#c09a0a"/>
<ellipse cx="330.0" cy="892.9" rx="2.3" ry="2.48" fill="#c09a0a"/>
<ellipse cx="364.1" cy="903.4" rx="2.3" ry="2.48" fill="#c09a0a"/>
<ellipse cx="366.7" cy="892.8" rx="2.3" ry="2.48" fill="#c09a0a"/>
<ellipse cx="364.5" cy="893.3" rx="2.3" ry="2.48" fill="#c09a0a"/>
<ellipse cx="333.9" cy="882.8" rx="2.3" ry="2.48" fill="#c09a0a"/>
<ellipse cx="374.0" cy="879.2" rx="2.3" ry="2.48" fill="#c09a0a"/>
<ellipse cx="378.9" cy="901.5" rx="2.3" ry="2.48" fill="#c09a0a"/>
<ellipse cx="347.0" cy="894.2" rx="2.3" ry="2.48" fill="#c09a0a"/>
<ellipse cx="338.8" cy="888.0" rx="2.3" ry="2.48" fill="#c09a0a"/>
<ellipse cx="354.7" cy="921.8" rx="2.3" ry="2.48" fill="#c09a0a"/>
<ellipse cx="347.7" cy="911.7" rx="2.3" ry="2.48" fill="#c09a0a"/>
<ellipse cx="360.5" cy="901.6" rx="2.3" ry="2.48" fill="#c09a0a"/>
<ellipse cx="316.4" cy="893.4" rx="2.3" ry="2.48" fill="#c09a0a"/>
<ellipse cx="374.6" cy="896.5" rx="2.3" ry="2.48" fill="#c09a0a"/>
<ellipse cx="361.3" cy="887.7" rx="2.3" ry="2.48" fill="#c09a0a"/>
<ellipse cx="353.8" cy="885.8" rx="2.3" ry="2.48" fill="#c09a0a"/>
<ellipse cx="369.4" cy="914.4" rx="2.3" ry="2.48" fill="#c09a0a"/>
<ellipse cx="377.6" cy="904.8" rx="2.3" ry="2.48" fill="#c09a0a"/>
<ellipse cx="372.7" cy="883.2" rx="2.3" ry="2.48" fill="#c09a0a"/>
<ellipse cx="366.9" cy="889.3" rx="2.3" ry="2.48" fill="#c09a0a"/>
<ellipse cx="342.9" cy="894.3" rx="2.3" ry="2.48" fill="#c09a0a"/>
<ellipse cx="313.0" cy="894.0" rx="2.3" ry="2.48" fill="#c09a0a"/>
<ellipse cx="349.1" cy="905.0" rx="2.3" ry="2.48" fill="#c09a0a"/>
<ellipse cx="350.5" cy="883.4" rx="2.3" ry="2.48" fill="#c09a0a"/>
<ellipse cx="355.5" cy="889.2" rx="2.3" ry="2.48" fill="#c09a0a"/>
<ellipse cx="378.2" cy="879.9" rx="2.3" ry="2.48" fill="#c09a0a"/>
<ellipse cx="368.7" cy="879.3" rx="2.3" ry="2.48" fill="#c09a0a"/>
<ellipse cx="352.3" cy="892.1" rx="2.3" ry="2.48" fill="#c09a0a"/>
<ellipse cx="344.3" cy="908.3" rx="2.3" ry="2.48" fill="#c09a0a"/>
<ellipse cx="377.0" cy="906.6" rx="2.3" ry="2.48" fill="#c09a0a"/>
<ellipse cx="316.8" cy="908.8" rx="2.3" ry="2.48" fill="#c09a0a"/>
<ellipse cx="393.6" cy="855.7" rx="2.3" ry="2.48" fill="#0ac4f5"/>
<ellipse cx="426.9" cy="862.7" rx="2.3" ry="2.48" fill="#0ac4f5"/>
<ellipse cx="396.2" cy="878.0" rx="2.3" ry="2.48" fill="#0ac4f5"/>
<ellipse cx="402.3" cy="883.1" rx="2.3" ry="2.48" fill="#0ac4f5"/>
<ellipse cx="391.8" cy="884.6" rx="2.3" ry="2.48" fill="#0ac4f5"/>
<ellipse cx="416.3" cy="885.7" rx="2.3" ry="2.48" fill="#0ac4f5"/>
<ellipse cx="422.0" cy="893.8" rx="2.3" ry="2.48" fill="#0ac4f5"/>
<ellipse cx="405.6" cy="915.7" rx="2.3" ry="2.48" fill="#0ac4f5"/>
<ellipse cx="360.1" cy="862.7" rx="2.3" ry="2.48" fill="#0ac4f5"/>
<ellipse cx="339.0" cy="941.3" rx="2.3" ry="2.48" fill="#0ac4f5"/>
<ellipse cx="315.0" cy="926.0" rx="2.3" ry="2.48" fill="#0ac4f5"/>
<ellipse cx="331.4" cy="923.8" rx="2.3" ry="2.48" fill="#0ac4f5"/>
<ellipse cx="393.5" cy="856.0" rx="2.3" ry="2.48" fill="#0ac4f5"/>
<ellipse cx="427.0" cy="862.8" rx="2.3" ry="2.48" fill="#0ac4f5"/>
<ellipse cx="396.0" cy="877.7" rx="2.3" ry="2.48" fill="#0ac4f5"/>
<ellipse cx="402.2" cy="882.0" rx="2.3" ry="2.48" fill="#0ac4f5"/>
<ellipse cx="392.3" cy="884.5" rx="2.3" ry="2.48" fill="#0ac4f5"/>
<ellipse cx="416.1" cy="886.4" rx="2.3" ry="2.48" fill="#0ac4f5"/>
<ellipse cx="422.0" cy="893.8" rx="2.3" ry="2.48" fill="#0ac4f5"/>
<ellipse cx="405.9" cy="916.2" rx="2.3" ry="2.48" fill="#0ac4f5"/>
<ellipse cx="394.7" cy="921.7" rx="2.3" ry="2.48" fill="#0ac4f5"/>
<ellipse cx="382.3" cy="878.3" rx="2.3" ry="2.48" fill="#0ac4f5"/>
<ellipse cx="376.1" cy="867.2" rx="2.3" ry="2.48" fill="#0ac4f5"/>
<ellipse cx="361.9" cy="862.8" rx="2.3" ry="2.48" fill="#0ac4f5"/>
<ellipse cx="378.6" cy="890.7" rx="2.3" ry="2.48" fill="#0ac4f5"/>
<ellipse cx="383.6" cy="905.6" rx="2.3" ry="2.48" fill="#0ac4f5"/>
<ellipse cx="360.8" cy="863.1" rx="2.3" ry="2.48" fill="#0ac4f5"/>
<ellipse cx="344.4" cy="872.3" rx="2.3" ry="2.48" fill="#0ac4f5"/>
<ellipse cx="350.3" cy="878.2" rx="2.3" ry="2.48" fill="#0ac4f5"/>
<ellipse cx="322.0" cy="887.4" rx="2.3" ry="2.48" fill="#0ac4f5"/>
<ellipse cx="311.5" cy="900.6" rx="2.3" ry="2.48" fill="#0ac4f5"/>
<ellipse cx="310.2" cy="908.5" rx="2.3" ry="2.48" fill="#0ac4f5"/>
<ellipse cx="315.5" cy="926.2" rx="2.3" ry="2.48" fill="#0ac4f5"/>
<ellipse cx="364.0" cy="918.0" rx="2.3" ry="2.48" fill="#0ac4f5"/>
<ellipse cx="372.0" cy="915.0" rx="2.3" ry="2.48" fill="#0ac4f5"/>
<ellipse cx="358.0" cy="922.0" rx="2.3" ry="2.48" fill="#0ac4f5"/>
<ellipse cx="318.5" cy="896.6" rx="4.3" ry="4.8" fill="none" stroke="#111" stroke-width="1.3"/>
<ellipse cx="371.0" cy="883.9" rx="4.3" ry="4.8" fill="none" stroke="#111" stroke-width="1.3"/>
<ellipse cx="367.7" cy="901.7" rx="4.3" ry="4.8" fill="none" stroke="#111" stroke-width="1.3"/>
<ellipse cx="378.0" cy="900.6" rx="4.3" ry="4.8" fill="none" stroke="#111" stroke-width="1.3"/>
<ellipse cx="365.5" cy="909.3" rx="4.3" ry="4.8" fill="none" stroke="#111" stroke-width="1.3"/>
<ellipse cx="343.1" cy="899.3" rx="4.3" ry="4.8" fill="none" stroke="#111" stroke-width="1.3"/>
<ellipse cx="371.2" cy="883.9" rx="4.3" ry="4.8" fill="none" stroke="#111" stroke-width="1.3"/>
<path d="M262.9,958.8L267.0,966.6L271.0,958.8Z" fill="#8a10d0" stroke="#111" stroke-width="1"/>
<path d="M242.8,974.0L246.9,981.7L250.9,974.0Z" fill="#8a10d0" stroke="#111" stroke-width="1"/>
<path d="M283.2,934.9L287.3,942.7L291.4,934.9Z" fill="#8a10d0" stroke="#111" stroke-width="1"/>
<path d="M282.9,930.1L287.0,937.9L291.1,930.1Z" fill="#8a10d0" stroke="#111" stroke-width="1"/>
<path d="M266.4,955.4L270.5,963.2L274.6,955.4Z" fill="#8a10d0" stroke="#111" stroke-width="1"/>
<path d="M278.3,943.0L282.4,950.8L286.5,943.0Z" fill="#8a10d0" stroke="#111" stroke-width="1"/>
<path d="M262.2,964.8L266.3,972.6L270.4,964.8Z" fill="#8a10d0" stroke="#111" stroke-width="1"/>
<path d="M298.0,933.2L302.0,941.0L306.1,933.2Z" fill="#8a10d0" stroke="#111" stroke-width="1"/>
<path d="M240.8,970.0L244.9,977.7L249.0,970.0Z" fill="#8a10d0" stroke="#111" stroke-width="1"/>
<path d="M275.8,956.0L279.9,963.7L283.9,956.0Z" fill="#8a10d0" stroke="#111" stroke-width="1"/>
<path d="M264.1,948.8L268.2,956.6L272.3,948.8Z" fill="#8a10d0" stroke="#111" stroke-width="1"/>
<path d="M296.5,930.3L300.5,938.1L304.6,930.3Z" fill="#8a10d0" stroke="#111" stroke-width="1"/>
<path d="M282.7,943.6L286.8,951.3L290.9,943.6Z" fill="#8a10d0" stroke="#111" stroke-width="1"/>
<path d="M244.3,969.2L248.4,977.0L252.5,969.2Z" fill="#8a10d0" stroke="#111" stroke-width="1"/>
<path d="M274.6,946.9L278.7,954.7L282.8,946.9Z" fill="#8a10d0" stroke="#111" stroke-width="1"/>
<path d="M246.9,965.5L251.0,973.2L255.1,965.5Z" fill="#8a10d0" stroke="#111" stroke-width="1"/>
<path d="M270.2,928.2L274.3,936.0L278.4,928.2Z" fill="#8a10d0" stroke="#111" stroke-width="1"/>
<path d="M243.6,971.5L247.6,979.2L251.7,971.5Z" fill="#8a10d0" stroke="#111" stroke-width="1"/>
<path d="M237.7,967.4L241.7,975.2L245.8,967.4Z" fill="#8a10d0" stroke="#111" stroke-width="1"/>
<path d="M281.5,949.6L285.6,957.4L289.7,949.6Z" fill="#8a10d0" stroke="#111" stroke-width="1"/>
<path d="M279.5,934.7L283.6,942.5L287.6,934.7Z" fill="#8a10d0" stroke="#111" stroke-width="1"/>
<path d="M272.6,929.5L276.7,937.3L280.8,929.5Z" fill="#8a10d0" stroke="#111" stroke-width="1"/>
<path d="M268.2,944.0L272.3,951.8L276.3,944.0Z" fill="#8a10d0" stroke="#111" stroke-width="1"/>
<path d="M264.5,956.2L268.6,963.9L272.7,956.2Z" fill="#8a10d0" stroke="#111" stroke-width="1"/>
<rect x="240.7" y="913.0" width="8.448" height="9.448" fill="#0b5a1c" stroke="#111" stroke-width="1"/>
<rect x="247.3" y="913.0" width="8.448" height="9.448" fill="#0b5a1c" stroke="#111" stroke-width="1"/>
<rect x="223.2" y="932.7" width="8.448" height="9.448" fill="#0b5a1c" stroke="#111" stroke-width="1"/>
<rect x="245.1" y="924.0" width="8.448" height="9.448" fill="#0b5a1c" stroke="#111" stroke-width="1"/>
<path d="M212.3,942.9L216.4,950.7L220.5,942.9Z" fill="#a0a0a0" stroke="#111" stroke-width="1"/>
<path d="M212.4,942.8L216.5,950.6L220.6,942.8Z" fill="#a0a0a0" stroke="#111" stroke-width="1"/>
<path d="M281.3,930.8L285.4,938.6L289.5,930.8Z" fill="#a0a0a0" stroke="#111" stroke-width="1"/>
<path d="M276.9,931.9L281.0,939.7L285.1,931.9Z" fill="#a0a0a0" stroke="#111" stroke-width="1"/>
<path d="M60.4,1011.3L64.5,1019.1L68.6,1011.3Z" fill="#a0a0a0" stroke="#111" stroke-width="1"/>
<path d="M105.0,1027.6L109.1,1035.4L113.2,1027.6Z" fill="#a0a0a0" stroke="#111" stroke-width="1"/>
<path d="M118.9,1016.0L123.0,1023.8L127.1,1016.0Z" fill="#a0a0a0" stroke="#111" stroke-width="1"/>
<path d="M123.4,1012.6L127.5,1020.4L131.6,1012.6Z" fill="#a0a0a0" stroke="#111" stroke-width="1"/>
<path d="M137.3,1017.8L141.4,1025.6L145.5,1017.8Z" fill="#a0a0a0" stroke="#111" stroke-width="1"/>
<path d="M145.7,1008.1L149.8,1015.9L153.9,1008.1Z" fill="#a0a0a0" stroke="#111" stroke-width="1"/>
<path d="M146.5,1033.6L150.6,1041.4L154.7,1033.6Z" fill="#a0a0a0" stroke="#111" stroke-width="1"/>
<path d="M169.9,1009.2L174.0,1017.0L178.1,1009.2Z" fill="#a0a0a0" stroke="#111" stroke-width="1"/>
<path d="M186.5,996.8L190.6,1004.6L194.7,996.8Z" fill="#a0a0a0" stroke="#111" stroke-width="1"/>
<path d="M112.1,1062.5L116.2,1070.3L120.3,1062.5Z" fill="#a0a0a0" stroke="#111" stroke-width="1"/>
<path d="M220.1,1041.5L224.2,1049.3L228.3,1041.5Z" fill="#a0a0a0" stroke="#111" stroke-width="1"/>
<path d="M224.6,979.7L228.7,987.5L232.8,979.7Z" fill="#a0a0a0" stroke="#111" stroke-width="1"/>
<path d="M227.1,980.8L231.2,988.6L235.3,980.8Z" fill="#a0a0a0" stroke="#111" stroke-width="1"/>
<path d="M241.1,986.4L245.2,994.2L249.3,986.4Z" fill="#a0a0a0" stroke="#111" stroke-width="1"/>
<path d="M244.1,973.8L248.2,981.6L252.3,973.8Z" fill="#a0a0a0" stroke="#111" stroke-width="1"/>
<path d="M248.5,978.5L252.6,986.3L256.7,978.5Z" fill="#a0a0a0" stroke="#111" stroke-width="1"/>
<path d="M199.1,957.4L203.3,949.4L207.5,957.4Z" fill="#33ee33" stroke="#111" stroke-width="1" stroke-linejoin="miter"/>
<path d="M210.0,954.1L214.2,946.1L218.4,954.1Z" fill="#33ee33" stroke="#111" stroke-width="1" stroke-linejoin="miter"/>
<path d="M224.3,948.6L228.5,940.6L232.7,948.6Z" fill="#33ee33" stroke="#111" stroke-width="1" stroke-linejoin="miter"/>
<path d="M224.3,959.5L228.5,951.5L232.7,959.5Z" fill="#33ee33" stroke="#111" stroke-width="1" stroke-linejoin="miter"/>
<path d="M199.1,968.3L203.3,960.3L207.5,968.3Z" fill="#33ee33" stroke="#111" stroke-width="1" stroke-linejoin="miter"/>
<path d="M226.5,967.2L230.7,959.2L234.9,967.2Z" fill="#33ee33" stroke="#111" stroke-width="1" stroke-linejoin="miter"/>
<path d="M228.6,974.9L232.8,966.9L237.0,974.9Z" fill="#33ee33" stroke="#111" stroke-width="1" stroke-linejoin="miter"/>
<path d="M258.2,968.3L262.4,960.3L266.6,968.3Z" fill="#33ee33" stroke="#111" stroke-width="1" stroke-linejoin="miter"/>
<path d="M279.0,950.8L283.2,942.8L287.4,950.8Z" fill="#33ee33" stroke="#111" stroke-width="1" stroke-linejoin="miter"/>
<path d="M286.7,948.6L290.9,940.6L295.1,948.6Z" fill="#33ee33" stroke="#111" stroke-width="1" stroke-linejoin="miter"/>
<path d="M291.0,953.0L295.2,945.0L299.4,953.0Z" fill="#33ee33" stroke="#111" stroke-width="1" stroke-linejoin="miter"/>
<path d="M309.7,953.0L313.9,945.0L318.1,953.0Z" fill="#33ee33" stroke="#111" stroke-width="1" stroke-linejoin="miter"/>
<path d="M153.0,978.5L157.2,970.5L161.4,978.5Z" fill="#33ee33" stroke="#111" stroke-width="1" stroke-linejoin="miter"/>
<path d="M157.5,982.4L161.7,974.4L165.9,982.4Z" fill="#33ee33" stroke="#111" stroke-width="1" stroke-linejoin="miter"/>
<path d="M161.4,986.3L165.6,978.3L169.8,986.3Z" fill="#33ee33" stroke="#111" stroke-width="1" stroke-linejoin="miter"/>
<path d="M177.2,972.4L181.4,964.4L185.6,972.4Z" fill="#33ee33" stroke="#111" stroke-width="1" stroke-linejoin="miter"/>
<path d="M198.7,967.2L202.9,959.2L207.1,967.2Z" fill="#33ee33" stroke="#111" stroke-width="1" stroke-linejoin="miter"/>
<path d="M210.0,953.5L214.2,945.5L218.4,953.5Z" fill="#33ee33" stroke="#111" stroke-width="1" stroke-linejoin="miter"/>
<path d="M228.2,975.0L232.4,967.0L236.6,975.0Z" fill="#33ee33" stroke="#111" stroke-width="1" stroke-linejoin="miter"/>
<path d="M223.8,959.3L228.0,951.3L232.2,959.3Z" fill="#33ee33" stroke="#111" stroke-width="1" stroke-linejoin="miter"/>
<path d="M258.0,968.9L262.2,960.9L266.4,968.9Z" fill="#33ee33" stroke="#111" stroke-width="1" stroke-linejoin="miter"/>
<path d="M291.3,954.0L295.5,946.0L299.7,954.0Z" fill="#33ee33" stroke="#111" stroke-width="1" stroke-linejoin="miter"/>
<path d="M210.7,954.9L214.9,946.9L219.1,954.9Z" fill="#33ee33" stroke="#111" stroke-width="1" stroke-linejoin="miter"/>
<path d="M199.1,956.3L203.3,948.3L207.5,956.3Z" fill="#fff200" stroke="#111" stroke-width="1" stroke-linejoin="miter"/>
<path d="M214.4,972.7L218.6,964.7L222.8,972.7Z" fill="#fff200" stroke="#111" stroke-width="1" stroke-linejoin="miter"/>
<path d="M219.9,971.6L224.1,963.6L228.3,971.6Z" fill="#fff200" stroke="#111" stroke-width="1" stroke-linejoin="miter"/>
<path d="M216.6,977.1L220.8,969.1L225.0,977.1Z" fill="#fff200" stroke="#111" stroke-width="1" stroke-linejoin="miter"/>
<path d="M279.0,933.3L283.2,925.3L287.4,933.3Z" fill="#fff200" stroke="#111" stroke-width="1" stroke-linejoin="miter"/>
<path d="M286.7,935.5L290.9,927.5L295.1,935.5Z" fill="#fff200" stroke="#111" stroke-width="1" stroke-linejoin="miter"/>
<path d="M283.4,943.1L287.6,935.1L291.8,943.1Z" fill="#fff200" stroke="#111" stroke-width="1" stroke-linejoin="miter"/>
<path d="M292.1,939.8L296.3,931.8L300.5,939.8Z" fill="#fff200" stroke="#111" stroke-width="1" stroke-linejoin="miter"/>
<path d="M298.7,938.7L302.9,930.7L307.1,938.7Z" fill="#fff200" stroke="#111" stroke-width="1" stroke-linejoin="miter"/>
<path d="M302.0,943.1L306.2,935.1L310.4,943.1Z" fill="#fff200" stroke="#111" stroke-width="1" stroke-linejoin="miter"/>
<path d="M199.0,957.3L203.2,949.3L207.4,957.3Z" fill="#fff200" stroke="#111" stroke-width="1" stroke-linejoin="miter"/>
<path d="M215.1,972.4L219.3,964.4L223.5,972.4Z" fill="#fff200" stroke="#111" stroke-width="1" stroke-linejoin="miter"/>
<path d="M220.3,972.4L224.5,964.4L228.7,972.4Z" fill="#fff200" stroke="#111" stroke-width="1" stroke-linejoin="miter"/>
<path d="M299.6,917.3L303.5,921.6L299.6,925.9L295.7,921.6Z" fill="#44e0fa" stroke="#111" stroke-width="1"/>
<path d="M300.7,925.0L304.6,929.3L300.7,933.6L296.8,929.3Z" fill="#44e0fa" stroke="#111" stroke-width="1"/>
<path d="M299.1,917.3L303.0,921.6L299.1,925.9L295.2,921.6Z" fill="#44e0fa" stroke="#111" stroke-width="1"/>
<path d="M301.0,924.5L304.9,928.8L301.0,933.1L297.1,928.8Z" fill="#44e0fa" stroke="#111" stroke-width="1"/>
<path d="M314.1,916.6L318.2,924.4L322.3,916.6Z" fill="#8a10d0" stroke="#111" stroke-width="1"/>
<path d="M230.9,925.4L235.0,933.2L239.1,925.4Z" fill="#8a10d0" stroke="#111" stroke-width="1"/>
<path d="M238.6,923.2L242.7,931.0L246.8,923.2Z" fill="#8a10d0" stroke="#111" stroke-width="1"/>
<path d="M243.0,929.7L247.1,937.5L251.2,929.7Z" fill="#8a10d0" stroke="#111" stroke-width="1"/>
<path d="M229.8,935.2L233.9,943.0L238.0,935.2Z" fill="#8a10d0" stroke="#111" stroke-width="1"/>
<path d="M266.0,923.2L270.1,931.0L274.2,923.2Z" fill="#8a10d0" stroke="#111" stroke-width="1"/>
<path d="M273.6,924.3L277.7,932.1L281.8,924.3Z" fill="#8a10d0" stroke="#111" stroke-width="1"/>
<path d="M279.1,923.2L283.2,931.0L287.3,923.2Z" fill="#8a10d0" stroke="#111" stroke-width="1"/>
<path d="M266.0,931.9L270.1,939.7L274.2,931.9Z" fill="#8a10d0" stroke="#111" stroke-width="1"/>
<path d="M274.7,930.8L278.8,938.6L282.9,930.8Z" fill="#8a10d0" stroke="#111" stroke-width="1"/>
<path d="M280.2,934.1L284.3,941.9L288.4,934.1Z" fill="#8a10d0" stroke="#111" stroke-width="1"/>
<path d="M287.9,935.2L292.0,943.0L296.1,935.2Z" fill="#8a10d0" stroke="#111" stroke-width="1"/>
<path d="M293.3,934.1L297.4,941.9L301.5,934.1Z" fill="#8a10d0" stroke="#111" stroke-width="1"/>
<path d="M298.8,936.3L302.9,944.1L307.0,936.3Z" fill="#8a10d0" stroke="#111" stroke-width="1"/>
<path d="M232.0,953.8L236.1,961.6L240.2,953.8Z" fill="#8a10d0" stroke="#111" stroke-width="1"/>
<path d="M268.2,941.8L272.3,949.6L276.4,941.8Z" fill="#8a10d0" stroke="#111" stroke-width="1"/>
<path d="M273.6,948.4L277.7,956.2L281.8,948.4Z" fill="#8a10d0" stroke="#111" stroke-width="1"/>
<path d="M279.1,950.5L283.2,958.3L287.3,950.5Z" fill="#8a10d0" stroke="#111" stroke-width="1"/>
<path d="M270.3,954.9L274.4,962.7L278.5,954.9Z" fill="#8a10d0" stroke="#111" stroke-width="1"/>
<path d="M274.7,959.3L278.8,967.1L282.9,959.3Z" fill="#8a10d0" stroke="#111" stroke-width="1"/>
<path d="M281.3,957.1L285.4,964.9L289.5,957.1Z" fill="#8a10d0" stroke="#111" stroke-width="1"/>
<path d="M266.0,961.5L270.1,969.3L274.2,961.5Z" fill="#8a10d0" stroke="#111" stroke-width="1"/>
<path d="M259.4,967.0L263.5,974.8L267.6,967.0Z" fill="#8a10d0" stroke="#111" stroke-width="1"/>
<path d="M268.2,967.0L272.3,974.8L276.4,967.0Z" fill="#8a10d0" stroke="#111" stroke-width="1"/>
<path d="M276.9,965.9L281.0,973.7L285.1,965.9Z" fill="#8a10d0" stroke="#111" stroke-width="1"/>
<path d="M272.5,972.4L276.6,980.2L280.7,972.4Z" fill="#8a10d0" stroke="#111" stroke-width="1"/>
<path d="M253.9,972.4L258.0,980.2L262.1,972.4Z" fill="#8a10d0" stroke="#111" stroke-width="1"/>
<path d="M248.5,968.1L252.6,975.9L256.7,968.1Z" fill="#8a10d0" stroke="#111" stroke-width="1"/>
<path d="M238.6,970.3L242.7,978.1L246.8,970.3Z" fill="#8a10d0" stroke="#111" stroke-width="1"/>
<path d="M158.0,923.0L162.1,930.8L166.2,923.0Z" fill="#8a10d0" stroke="#111" stroke-width="1"/>
<path d="M189.7,933.9L193.8,941.7L197.9,933.9Z" fill="#8a10d0" stroke="#111" stroke-width="1"/>
<path d="M186.7,947.0L190.8,954.8L194.9,947.0Z" fill="#8a10d0" stroke="#111" stroke-width="1"/>
<path d="M229.2,972.4L233.3,980.2L237.4,972.4Z" fill="#8a10d0" stroke="#111" stroke-width="1"/>
<path d="M237.9,970.6L242.0,978.4L246.1,970.6Z" fill="#8a10d0" stroke="#111" stroke-width="1"/>
<path d="M246.7,967.1L250.8,974.9L254.9,967.1Z" fill="#8a10d0" stroke="#111" stroke-width="1"/>
<path d="M253.7,972.4L257.8,980.2L261.9,972.4Z" fill="#8a10d0" stroke="#111" stroke-width="1"/>
<path d="M260.7,971.5L264.8,979.3L268.9,971.5Z" fill="#8a10d0" stroke="#111" stroke-width="1"/>
<path d="M269.5,965.4L273.6,973.2L277.7,965.4Z" fill="#8a10d0" stroke="#111" stroke-width="1"/>
<path d="M273.9,965.4L278.0,973.2L282.1,965.4Z" fill="#8a10d0" stroke="#111" stroke-width="1"/>
<path d="M265.1,962.7L269.2,970.5L273.3,962.7Z" fill="#8a10d0" stroke="#111" stroke-width="1"/>
<path d="M276.5,953.1L280.6,960.9L284.7,953.1Z" fill="#8a10d0" stroke="#111" stroke-width="1"/>
<path d="M280.0,951.4L284.1,959.2L288.2,951.4Z" fill="#8a10d0" stroke="#111" stroke-width="1"/>
<path d="M314.7,917.1L318.8,924.9L322.9,917.1Z" fill="#8a10d0" stroke="#111" stroke-width="1"/>
<path d="M283.9,942.1L288.0,949.9L292.1,942.1Z" fill="#8a10d0" stroke="#111" stroke-width="1"/>
<path d="M261.9,944.1L266.0,951.9L270.1,944.1Z" fill="#8a10d0" stroke="#111" stroke-width="1"/>
<rect x="251.4" y="934.7" width="6.688" height="6.688" fill="#fff" stroke="#222" stroke-width="1"/>
<line x1="251.36" y1="941.34" x2="258.04" y2="934.66" stroke="#222" stroke-width="1" />
<rect x="260.2" y="933.6" width="6.688" height="6.688" fill="#fff" stroke="#222" stroke-width="1"/>
<line x1="260.16" y1="940.24" x2="266.84" y2="933.56" stroke="#222" stroke-width="1" />
<rect x="242.7" y="946.8" width="6.688" height="6.688" fill="#fff" stroke="#222" stroke-width="1"/>
<line x1="242.66" y1="953.44" x2="249.34" y2="946.76" stroke="#222" stroke-width="1" />
<rect x="251.4" y="946.8" width="6.688" height="6.688" fill="#fff" stroke="#222" stroke-width="1"/>
<line x1="251.36" y1="953.44" x2="258.04" y2="946.76" stroke="#222" stroke-width="1" />
<rect x="259.1" y="944.6" width="6.688" height="6.688" fill="#fff" stroke="#222" stroke-width="1"/>
<line x1="259.06" y1="951.24" x2="265.74" y2="944.56" stroke="#222" stroke-width="1" />
<rect x="240.5" y="954.4" width="6.688" height="6.688" fill="#fff" stroke="#222" stroke-width="1"/>
<line x1="240.46" y1="961.04" x2="247.14" y2="954.36" stroke="#222" stroke-width="1" />
<rect x="249.3" y="954.4" width="6.688" height="6.688" fill="#fff" stroke="#222" stroke-width="1"/>
<line x1="249.26" y1="961.04" x2="255.94" y2="954.36" stroke="#222" stroke-width="1" />
<rect x="244.9" y="959.9" width="6.688" height="6.688" fill="#fff" stroke="#222" stroke-width="1"/>
<line x1="244.86" y1="966.54" x2="251.54" y2="959.86" stroke="#222" stroke-width="1" />
<rect x="254.7" y="939.7" width="6.688" height="6.688" fill="#fff" stroke="#222" stroke-width="1"/>
<line x1="254.66" y1="946.34" x2="261.34" y2="939.66" stroke="#222" stroke-width="1" />
<rect x="262.7" y="951.7" width="6.688" height="6.688" fill="#fff" stroke="#222" stroke-width="1"/>
<line x1="262.66" y1="958.34" x2="269.34" y2="951.66" stroke="#222" stroke-width="1" />
<path d="M261.5,960.5L266.8,950.5L272.1,960.5Z" fill="#0808c8" stroke="#111" stroke-width="1" stroke-linejoin="miter"/>
<rect x="235.2" y="950.3" width="8.208" height="8.208" fill="#fff" stroke="#222" stroke-width="1"/>
<line x1="235.25" y1="958.47" x2="243.45" y2="950.26" stroke="#222" stroke-width="1" />
<rect x="238.9" y="942.1" width="8.208" height="8.208" fill="#fff" stroke="#222" stroke-width="1"/>
<line x1="238.93" y1="950.29" x2="247.14" y2="942.08" stroke="#222" stroke-width="1" />
<rect x="257.4" y="953.6" width="8.208" height="8.208" fill="#fff" stroke="#222" stroke-width="1"/>
<line x1="257.40" y1="961.86" x2="265.61" y2="953.65" stroke="#222" stroke-width="1" />
<rect x="249.8" y="943.3" width="8.208" height="8.208" fill="#fff" stroke="#222" stroke-width="1"/>
<line x1="249.76" y1="951.54" x2="257.97" y2="943.34" stroke="#222" stroke-width="1" />
<rect x="234.6" y="941.0" width="8.208" height="8.208" fill="#fff" stroke="#222" stroke-width="1"/>
<line x1="234.57" y1="949.24" x2="242.77" y2="941.03" stroke="#222" stroke-width="1" />
<rect x="246.9" y="955.7" width="8.208" height="8.208" fill="#fff" stroke="#222" stroke-width="1"/>
<line x1="246.93" y1="963.93" x2="255.14" y2="955.73" stroke="#222" stroke-width="1" />
<rect x="253.0" y="952.3" width="8.208" height="8.208" fill="#fff" stroke="#222" stroke-width="1"/>
<line x1="253.04" y1="960.54" x2="261.25" y2="952.33" stroke="#222" stroke-width="1" />
<rect x="249.1" y="932.1" width="8.208" height="8.208" fill="#fff" stroke="#222" stroke-width="1"/>
<line x1="249.09" y1="940.27" x2="257.30" y2="932.06" stroke="#222" stroke-width="1" />
<rect x="263.7" y="954.6" width="8.208" height="8.208" fill="#fff" stroke="#222" stroke-width="1"/>
<line x1="263.68" y1="962.81" x2="271.88" y2="954.60" stroke="#222" stroke-width="1" />
<rect x="247.1" y="929.2" width="8.208" height="8.208" fill="#fff" stroke="#222" stroke-width="1"/>
<line x1="247.05" y1="937.46" x2="255.26" y2="929.25" stroke="#222" stroke-width="1" />
<rect x="251.8" y="943.3" width="8.208" height="8.208" fill="#fff" stroke="#222" stroke-width="1"/>
<line x1="251.83" y1="951.46" x2="260.04" y2="943.26" stroke="#222" stroke-width="1" />
<rect x="260.9" y="946.8" width="8.208" height="8.208" fill="#fff" stroke="#222" stroke-width="1"/>
<line x1="260.93" y1="955.01" x2="269.13" y2="946.80" stroke="#222" stroke-width="1" />
<rect x="251.6" y="946.0" width="8.208" height="8.208" fill="#fff" stroke="#222" stroke-width="1"/>
<line x1="251.63" y1="954.23" x2="259.84" y2="946.03" stroke="#222" stroke-width="1" />
<rect x="247.1" y="927.6" width="8.208" height="8.208" fill="#fff" stroke="#222" stroke-width="1"/>
<line x1="247.09" y1="935.82" x2="255.30" y2="927.61" stroke="#222" stroke-width="1" />
<rect x="263.3" y="936.3" width="8.208" height="8.208" fill="#fff" stroke="#222" stroke-width="1"/>
<line x1="263.26" y1="944.47" x2="271.47" y2="936.26" stroke="#222" stroke-width="1" />
<rect x="265.0" y="944.2" width="8.208" height="8.208" fill="#fff" stroke="#222" stroke-width="1"/>
<line x1="265.00" y1="952.38" x2="273.21" y2="944.17" stroke="#222" stroke-width="1" />
<rect x="237.5" y="955.8" width="8.208" height="8.208" fill="#fff" stroke="#222" stroke-width="1"/>
<line x1="237.50" y1="964.05" x2="245.71" y2="955.85" stroke="#222" stroke-width="1" />
<rect x="254.3" y="958.5" width="8.208" height="8.208" fill="#fff" stroke="#222" stroke-width="1"/>
<line x1="254.35" y1="966.75" x2="262.56" y2="958.54" stroke="#222" stroke-width="1" />
<rect x="257.7" y="929.2" width="8.208" height="8.208" fill="#fff" stroke="#222" stroke-width="1"/>
<line x1="257.67" y1="937.40" x2="265.88" y2="929.19" stroke="#222" stroke-width="1" />
<rect x="255.7" y="953.4" width="8.208" height="8.208" fill="#fff" stroke="#222" stroke-width="1"/>
<line x1="255.69" y1="961.65" x2="263.90" y2="953.44" stroke="#222" stroke-width="1" />
<rect x="265.4" y="937.5" width="8.208" height="8.208" fill="#fff" stroke="#222" stroke-width="1"/>
<line x1="265.36" y1="945.70" x2="273.57" y2="937.49" stroke="#222" stroke-width="1" />
<rect x="252.4" y="950.4" width="8.208" height="8.208" fill="#fff" stroke="#222" stroke-width="1"/>
<line x1="252.41" y1="958.64" x2="260.62" y2="950.44" stroke="#222" stroke-width="1" />
<rect x="239.7" y="955.6" width="8.208" height="8.208" fill="#fff" stroke="#222" stroke-width="1"/>
<line x1="239.73" y1="963.80" x2="247.94" y2="955.59" stroke="#222" stroke-width="1" />
<rect x="254.6" y="938.8" width="8.208" height="8.208" fill="#fff" stroke="#222" stroke-width="1"/>
<line x1="254.60" y1="946.99" x2="262.80" y2="938.78" stroke="#222" stroke-width="1" />
<path d="M261.5,960.5L266.8,950.5L272.1,960.5Z" fill="#0808c8" stroke="#111" stroke-width="1" stroke-linejoin="miter"/>
<path d="M238.8,927.9L244.5,934L238.8,940.1L233.1,934Z" fill="#000"/>
<rect x="204.90" y="965.80" width="9.20" height="10.90" fill="#000" stroke="none" stroke-width="1" />
<path d="M210.2,999.9L216,988.9L221.9,999.9Z" fill="#000"/>
<ellipse cx="345" cy="906" rx="6" ry="6.8" fill="#000"/>
<line x1="49.60" y1="1038.40" x2="440.20" y2="845.10" stroke="#111" stroke-width="1.2" />
<line x1="49.60" y1="1061.70" x2="440.20" y2="878.70" stroke="#111" stroke-width="1.2" />
<line x1="119.10" y1="1139.00" x2="119.10" y2="1132.00" stroke="#111" stroke-width="1" />
<line x1="119.10" y1="818.00" x2="119.10" y2="825.00" stroke="#111" stroke-width="1" />
<line x1="348.60" y1="1139.00" x2="348.60" y2="1132.00" stroke="#111" stroke-width="1" />
<line x1="348.60" y1="818.00" x2="348.60" y2="825.00" stroke="#111" stroke-width="1" />
<line x1="68.19" y1="1139.00" x2="68.19" y2="1135.00" stroke="#111" stroke-width="1" />
<line x1="68.19" y1="818.00" x2="68.19" y2="822.00" stroke="#111" stroke-width="1" />
<line x1="83.55" y1="1139.00" x2="83.55" y2="1135.00" stroke="#111" stroke-width="1" />
<line x1="83.55" y1="818.00" x2="83.55" y2="822.00" stroke="#111" stroke-width="1" />
<line x1="96.86" y1="1139.00" x2="96.86" y2="1135.00" stroke="#111" stroke-width="1" />
<line x1="96.86" y1="818.00" x2="96.86" y2="822.00" stroke="#111" stroke-width="1" />
<line x1="108.60" y1="1139.00" x2="108.60" y2="1135.00" stroke="#111" stroke-width="1" />
<line x1="108.60" y1="818.00" x2="108.60" y2="822.00" stroke="#111" stroke-width="1" />
<line x1="188.19" y1="1139.00" x2="188.19" y2="1135.00" stroke="#111" stroke-width="1" />
<line x1="188.19" y1="818.00" x2="188.19" y2="822.00" stroke="#111" stroke-width="1" />
<line x1="228.60" y1="1139.00" x2="228.60" y2="1135.00" stroke="#111" stroke-width="1" />
<line x1="228.60" y1="818.00" x2="228.60" y2="822.00" stroke="#111" stroke-width="1" />
<line x1="257.27" y1="1139.00" x2="257.27" y2="1135.00" stroke="#111" stroke-width="1" />
<line x1="257.27" y1="818.00" x2="257.27" y2="822.00" stroke="#111" stroke-width="1" />
<line x1="279.51" y1="1139.00" x2="279.51" y2="1135.00" stroke="#111" stroke-width="1" />
<line x1="279.51" y1="818.00" x2="279.51" y2="822.00" stroke="#111" stroke-width="1" />
<line x1="297.69" y1="1139.00" x2="297.69" y2="1135.00" stroke="#111" stroke-width="1" />
<line x1="297.69" y1="818.00" x2="297.69" y2="822.00" stroke="#111" stroke-width="1" />
<line x1="313.05" y1="1139.00" x2="313.05" y2="1135.00" stroke="#111" stroke-width="1" />
<line x1="313.05" y1="818.00" x2="313.05" y2="822.00" stroke="#111" stroke-width="1" />
<line x1="326.36" y1="1139.00" x2="326.36" y2="1135.00" stroke="#111" stroke-width="1" />
<line x1="326.36" y1="818.00" x2="326.36" y2="822.00" stroke="#111" stroke-width="1" />
<line x1="338.10" y1="1139.00" x2="338.10" y2="1135.00" stroke="#111" stroke-width="1" />
<line x1="338.10" y1="818.00" x2="338.10" y2="822.00" stroke="#111" stroke-width="1" />
<line x1="417.69" y1="1139.00" x2="417.69" y2="1135.00" stroke="#111" stroke-width="1" />
<line x1="417.69" y1="818.00" x2="417.69" y2="822.00" stroke="#111" stroke-width="1" />
<line x1="49.60" y1="855.20" x2="56.60" y2="855.20" stroke="#111" stroke-width="1" />
<line x1="440.20" y1="855.20" x2="433.20" y2="855.20" stroke="#111" stroke-width="1" />
<line x1="49.60" y1="947.20" x2="56.60" y2="947.20" stroke="#111" stroke-width="1" />
<line x1="440.20" y1="947.20" x2="433.20" y2="947.20" stroke="#111" stroke-width="1" />
<line x1="49.60" y1="1039.20" x2="56.60" y2="1039.20" stroke="#111" stroke-width="1" />
<line x1="440.20" y1="1039.20" x2="433.20" y2="1039.20" stroke="#111" stroke-width="1" />
<line x1="49.60" y1="1131.20" x2="56.60" y2="1131.20" stroke="#111" stroke-width="1" />
<line x1="440.20" y1="1131.20" x2="433.20" y2="1131.20" stroke="#111" stroke-width="1" />
<line x1="49.60" y1="1103.51" x2="53.60" y2="1103.51" stroke="#111" stroke-width="1" />
<line x1="440.20" y1="1103.51" x2="436.20" y2="1103.51" stroke="#111" stroke-width="1" />
<line x1="49.60" y1="1087.30" x2="53.60" y2="1087.30" stroke="#111" stroke-width="1" />
<line x1="440.20" y1="1087.30" x2="436.20" y2="1087.30" stroke="#111" stroke-width="1" />
<line x1="49.60" y1="1075.81" x2="53.60" y2="1075.81" stroke="#111" stroke-width="1" />
<line x1="440.20" y1="1075.81" x2="436.20" y2="1075.81" stroke="#111" stroke-width="1" />
<line x1="49.60" y1="1066.89" x2="53.60" y2="1066.89" stroke="#111" stroke-width="1" />
<line x1="440.20" y1="1066.89" x2="436.20" y2="1066.89" stroke="#111" stroke-width="1" />
<line x1="49.60" y1="1059.61" x2="53.60" y2="1059.61" stroke="#111" stroke-width="1" />
<line x1="440.20" y1="1059.61" x2="436.20" y2="1059.61" stroke="#111" stroke-width="1" />
<line x1="49.60" y1="1053.45" x2="53.60" y2="1053.45" stroke="#111" stroke-width="1" />
<line x1="440.20" y1="1053.45" x2="436.20" y2="1053.45" stroke="#111" stroke-width="1" />
<line x1="49.60" y1="1048.12" x2="53.60" y2="1048.12" stroke="#111" stroke-width="1" />
<line x1="440.20" y1="1048.12" x2="436.20" y2="1048.12" stroke="#111" stroke-width="1" />
<line x1="49.60" y1="1043.41" x2="53.60" y2="1043.41" stroke="#111" stroke-width="1" />
<line x1="440.20" y1="1043.41" x2="436.20" y2="1043.41" stroke="#111" stroke-width="1" />
<line x1="49.60" y1="1011.51" x2="53.60" y2="1011.51" stroke="#111" stroke-width="1" />
<line x1="440.20" y1="1011.51" x2="436.20" y2="1011.51" stroke="#111" stroke-width="1" />
<line x1="49.60" y1="995.30" x2="53.60" y2="995.30" stroke="#111" stroke-width="1" />
<line x1="440.20" y1="995.30" x2="436.20" y2="995.30" stroke="#111" stroke-width="1" />
<line x1="49.60" y1="983.81" x2="53.60" y2="983.81" stroke="#111" stroke-width="1" />
<line x1="440.20" y1="983.81" x2="436.20" y2="983.81" stroke="#111" stroke-width="1" />
<line x1="49.60" y1="974.89" x2="53.60" y2="974.89" stroke="#111" stroke-width="1" />
<line x1="440.20" y1="974.89" x2="436.20" y2="974.89" stroke="#111" stroke-width="1" />
<line x1="49.60" y1="967.61" x2="53.60" y2="967.61" stroke="#111" stroke-width="1" />
<line x1="440.20" y1="967.61" x2="436.20" y2="967.61" stroke="#111" stroke-width="1" />
<line x1="49.60" y1="961.45" x2="53.60" y2="961.45" stroke="#111" stroke-width="1" />
<line x1="440.20" y1="961.45" x2="436.20" y2="961.45" stroke="#111" stroke-width="1" />
<line x1="49.60" y1="956.12" x2="53.60" y2="956.12" stroke="#111" stroke-width="1" />
<line x1="440.20" y1="956.12" x2="436.20" y2="956.12" stroke="#111" stroke-width="1" />
<line x1="49.60" y1="951.41" x2="53.60" y2="951.41" stroke="#111" stroke-width="1" />
<line x1="440.20" y1="951.41" x2="436.20" y2="951.41" stroke="#111" stroke-width="1" />
<line x1="49.60" y1="919.51" x2="53.60" y2="919.51" stroke="#111" stroke-width="1" />
<line x1="440.20" y1="919.51" x2="436.20" y2="919.51" stroke="#111" stroke-width="1" />
<line x1="49.60" y1="903.30" x2="53.60" y2="903.30" stroke="#111" stroke-width="1" />
<line x1="440.20" y1="903.30" x2="436.20" y2="903.30" stroke="#111" stroke-width="1" />
<line x1="49.60" y1="891.81" x2="53.60" y2="891.81" stroke="#111" stroke-width="1" />
<line x1="440.20" y1="891.81" x2="436.20" y2="891.81" stroke="#111" stroke-width="1" />
<line x1="49.60" y1="882.89" x2="53.60" y2="882.89" stroke="#111" stroke-width="1" />
<line x1="440.20" y1="882.89" x2="436.20" y2="882.89" stroke="#111" stroke-width="1" />
<line x1="49.60" y1="875.61" x2="53.60" y2="875.61" stroke="#111" stroke-width="1" />
<line x1="440.20" y1="875.61" x2="436.20" y2="875.61" stroke="#111" stroke-width="1" />
<line x1="49.60" y1="869.45" x2="53.60" y2="869.45" stroke="#111" stroke-width="1" />
<line x1="440.20" y1="869.45" x2="436.20" y2="869.45" stroke="#111" stroke-width="1" />
<line x1="49.60" y1="864.12" x2="53.60" y2="864.12" stroke="#111" stroke-width="1" />
<line x1="440.20" y1="864.12" x2="436.20" y2="864.12" stroke="#111" stroke-width="1" />
<line x1="49.60" y1="859.41" x2="53.60" y2="859.41" stroke="#111" stroke-width="1" />
<line x1="440.20" y1="859.41" x2="436.20" y2="859.41" stroke="#111" stroke-width="1" />
<line x1="49.60" y1="827.51" x2="53.60" y2="827.51" stroke="#111" stroke-width="1" />
<line x1="440.20" y1="827.51" x2="436.20" y2="827.51" stroke="#111" stroke-width="1" />
<rect x="347.80" y="929.40" width="92.40" height="209.60" fill="#fff" stroke="#222" stroke-width="1.2" />
<rect x="49.60" y="818.00" width="390.60" height="321.00" fill="none" stroke="#222" stroke-width="1.3" />
<rect x="489.60" y="152.22" width="14.90" height="0.78" fill="#bb9906" stroke="#1a1a1a" stroke-width="1" />
<rect x="504.50" y="151.06" width="14.90" height="1.94" fill="#bb9906" stroke="#1a1a1a" stroke-width="1" />
<rect x="519.40" y="148.74" width="14.90" height="4.26" fill="#bb9906" stroke="#1a1a1a" stroke-width="1" />
<rect x="534.30" y="139.05" width="14.90" height="13.95" fill="#bb9906" stroke="#1a1a1a" stroke-width="1" />
<rect x="549.20" y="106.88" width="14.90" height="46.12" fill="#bb9906" stroke="#1a1a1a" stroke-width="1" />
<rect x="564.10" y="16.96" width="14.90" height="136.04" fill="#bb9906" stroke="#1a1a1a" stroke-width="1" />
<rect x="579.00" y="80.52" width="14.90" height="72.48" fill="#bb9906" stroke="#1a1a1a" stroke-width="1" />
<rect x="593.90" y="134.40" width="14.90" height="18.60" fill="#bb9906" stroke="#1a1a1a" stroke-width="1" />
<rect x="608.80" y="149.12" width="14.90" height="3.88" fill="#bb9906" stroke="#1a1a1a" stroke-width="1" />
<rect x="623.70" y="150.29" width="14.90" height="2.71" fill="#bb9906" stroke="#1a1a1a" stroke-width="1" />
<rect x="638.60" y="152.22" width="14.90" height="0.78" fill="#bb9906" stroke="#1a1a1a" stroke-width="1" />
<line x1="549.20" y1="7.30" x2="549.20" y2="153.00" stroke="#e8502a" stroke-width="1" stroke-dasharray="2,1.5"/>
<rect x="489.60" y="6.30" width="178.80" height="146.70" fill="none" stroke="#222" stroke-width="1.2" />
<line x1="489.60" y1="153.00" x2="489.60" y2="149.00" stroke="#111" stroke-width="1" />
<line x1="489.60" y1="6.30" x2="489.60" y2="10.30" stroke="#111" stroke-width="1" />
<line x1="549.20" y1="153.00" x2="549.20" y2="149.00" stroke="#111" stroke-width="1" />
<line x1="549.20" y1="6.30" x2="549.20" y2="10.30" stroke="#111" stroke-width="1" />
<line x1="608.80" y1="153.00" x2="608.80" y2="149.00" stroke="#111" stroke-width="1" />
<line x1="608.80" y1="6.30" x2="608.80" y2="10.30" stroke="#111" stroke-width="1" />
<line x1="668.40" y1="153.00" x2="668.40" y2="149.00" stroke="#111" stroke-width="1" />
<line x1="668.40" y1="6.30" x2="668.40" y2="10.30" stroke="#111" stroke-width="1" />
<line x1="489.60" y1="153.00" x2="493.60" y2="153.00" stroke="#111" stroke-width="1" />
<line x1="668.40" y1="153.00" x2="664.40" y2="153.00" stroke="#111" stroke-width="1" />
<line x1="489.60" y1="133.62" x2="493.60" y2="133.62" stroke="#111" stroke-width="1" />
<line x1="668.40" y1="133.62" x2="664.40" y2="133.62" stroke="#111" stroke-width="1" />
<line x1="489.60" y1="114.24" x2="493.60" y2="114.24" stroke="#111" stroke-width="1" />
<line x1="668.40" y1="114.24" x2="664.40" y2="114.24" stroke="#111" stroke-width="1" />
<line x1="489.60" y1="94.86" x2="493.60" y2="94.86" stroke="#111" stroke-width="1" />
<line x1="668.40" y1="94.86" x2="664.40" y2="94.86" stroke="#111" stroke-width="1" />
<line x1="489.60" y1="75.48" x2="493.60" y2="75.48" stroke="#111" stroke-width="1" />
<line x1="668.40" y1="75.48" x2="664.40" y2="75.48" stroke="#111" stroke-width="1" />
<line x1="489.60" y1="56.10" x2="493.60" y2="56.10" stroke="#111" stroke-width="1" />
<line x1="668.40" y1="56.10" x2="664.40" y2="56.10" stroke="#111" stroke-width="1" />
<line x1="489.60" y1="36.73" x2="493.60" y2="36.73" stroke="#111" stroke-width="1" />
<line x1="668.40" y1="36.73" x2="664.40" y2="36.73" stroke="#111" stroke-width="1" />
<line x1="489.60" y1="17.35" x2="493.60" y2="17.35" stroke="#111" stroke-width="1" />
<line x1="668.40" y1="17.35" x2="664.40" y2="17.35" stroke="#111" stroke-width="1" />
<rect x="516.87" y="335.21" width="6.39" height="3.09" fill="#c0c0c0" stroke="#1a1a1a" stroke-width="1" />
<rect x="523.26" y="330.05" width="6.39" height="8.25" fill="#c0c0c0" stroke="#1a1a1a" stroke-width="1" />
<rect x="529.65" y="316.64" width="6.39" height="21.66" fill="#c0c0c0" stroke="#1a1a1a" stroke-width="1" />
<rect x="536.04" y="257.86" width="6.39" height="80.44" fill="#c0c0c0" stroke="#1a1a1a" stroke-width="1" />
<rect x="542.42" y="192.88" width="6.39" height="145.42" fill="#c0c0c0" stroke="#1a1a1a" stroke-width="1" />
<rect x="548.81" y="265.08" width="6.39" height="73.22" fill="#c0c0c0" stroke="#1a1a1a" stroke-width="1" />
<rect x="555.20" y="307.36" width="6.39" height="30.94" fill="#c0c0c0" stroke="#1a1a1a" stroke-width="1" />
<rect x="561.59" y="319.22" width="6.39" height="19.08" fill="#c0c0c0" stroke="#1a1a1a" stroke-width="1" />
<rect x="567.98" y="318.19" width="6.39" height="20.11" fill="#c0c0c0" stroke="#1a1a1a" stroke-width="1" />
<rect x="574.37" y="332.11" width="6.39" height="6.19" fill="#c0c0c0" stroke="#1a1a1a" stroke-width="1" />
<rect x="580.76" y="328.50" width="6.39" height="9.80" fill="#c0c0c0" stroke="#1a1a1a" stroke-width="1" />
<rect x="587.15" y="333.66" width="6.39" height="4.64" fill="#c0c0c0" stroke="#1a1a1a" stroke-width="1" />
<rect x="593.54" y="332.11" width="6.39" height="6.19" fill="#c0c0c0" stroke="#1a1a1a" stroke-width="1" />
<rect x="599.93" y="334.17" width="6.39" height="4.13" fill="#c0c0c0" stroke="#1a1a1a" stroke-width="1" />
<rect x="612.71" y="335.21" width="6.39" height="3.09" fill="#c0c0c0" stroke="#1a1a1a" stroke-width="1" />
<rect x="619.10" y="336.75" width="6.39" height="1.55" fill="#c0c0c0" stroke="#1a1a1a" stroke-width="1" />
<rect x="631.88" y="336.75" width="6.39" height="1.55" fill="#c0c0c0" stroke="#1a1a1a" stroke-width="1" />
<rect x="638.26" y="336.75" width="6.39" height="1.55" fill="#c0c0c0" stroke="#1a1a1a" stroke-width="1" />
<rect x="657.43" y="336.75" width="6.39" height="1.55" fill="#c0c0c0" stroke="#1a1a1a" stroke-width="1" />
<line x1="548.81" y1="184.60" x2="548.81" y2="338.30" stroke="#e8502a" stroke-width="1" stroke-dasharray="2,1.5"/>
<rect x="497.70" y="183.60" width="178.90" height="154.70" fill="none" stroke="#222" stroke-width="1.2" />
<line x1="497.70" y1="338.30" x2="497.70" y2="334.30" stroke="#111" stroke-width="1" />
<line x1="497.70" y1="183.60" x2="497.70" y2="187.60" stroke="#111" stroke-width="1" />
<line x1="523.26" y1="338.30" x2="523.26" y2="334.30" stroke="#111" stroke-width="1" />
<line x1="523.26" y1="183.60" x2="523.26" y2="187.60" stroke="#111" stroke-width="1" />
<line x1="548.81" y1="338.30" x2="548.81" y2="334.30" stroke="#111" stroke-width="1" />
<line x1="548.81" y1="183.60" x2="548.81" y2="187.60" stroke="#111" stroke-width="1" />
<line x1="574.37" y1="338.30" x2="574.37" y2="334.30" stroke="#111" stroke-width="1" />
<line x1="574.37" y1="183.60" x2="574.37" y2="187.60" stroke="#111" stroke-width="1" />
<line x1="599.93" y1="338.30" x2="599.93" y2="334.30" stroke="#111" stroke-width="1" />
<line x1="599.93" y1="183.60" x2="599.93" y2="187.60" stroke="#111" stroke-width="1" />
<line x1="625.49" y1="338.30" x2="625.49" y2="334.30" stroke="#111" stroke-width="1" />
<line x1="625.49" y1="183.60" x2="625.49" y2="187.60" stroke="#111" stroke-width="1" />
<line x1="651.04" y1="338.30" x2="651.04" y2="334.30" stroke="#111" stroke-width="1" />
<line x1="651.04" y1="183.60" x2="651.04" y2="187.60" stroke="#111" stroke-width="1" />
<line x1="676.60" y1="338.30" x2="676.60" y2="334.30" stroke="#111" stroke-width="1" />
<line x1="676.60" y1="183.60" x2="676.60" y2="187.60" stroke="#111" stroke-width="1" />
<line x1="497.70" y1="338.30" x2="501.70" y2="338.30" stroke="#111" stroke-width="1" />
<line x1="676.60" y1="338.30" x2="672.60" y2="338.30" stroke="#111" stroke-width="1" />
<line x1="497.70" y1="286.73" x2="501.70" y2="286.73" stroke="#111" stroke-width="1" />
<line x1="676.60" y1="286.73" x2="672.60" y2="286.73" stroke="#111" stroke-width="1" />
<line x1="497.70" y1="235.17" x2="501.70" y2="235.17" stroke="#111" stroke-width="1" />
<line x1="676.60" y1="235.17" x2="672.60" y2="235.17" stroke="#111" stroke-width="1" />
<line x1="497.70" y1="183.60" x2="501.70" y2="183.60" stroke="#111" stroke-width="1" />
<line x1="676.60" y1="183.60" x2="672.60" y2="183.60" stroke="#111" stroke-width="1" />
<rect x="507.70" y="565.41" width="15.30" height="2.29" fill="#bb9906" stroke="#1a1a1a" stroke-width="1" />
<rect x="523.00" y="562.85" width="15.30" height="4.85" fill="#bb9906" stroke="#1a1a1a" stroke-width="1" />
<rect x="538.30" y="558.01" width="15.30" height="9.69" fill="#bb9906" stroke="#1a1a1a" stroke-width="1" />
<rect x="553.60" y="521.65" width="15.30" height="46.05" fill="#bb9906" stroke="#1a1a1a" stroke-width="1" />
<rect x="568.90" y="442.71" width="15.30" height="124.99" fill="#bb9906" stroke="#1a1a1a" stroke-width="1" />
<rect x="584.20" y="501.22" width="15.30" height="66.48" fill="#bb9906" stroke="#1a1a1a" stroke-width="1" />
<rect x="599.50" y="553.85" width="15.30" height="13.85" fill="#bb9906" stroke="#1a1a1a" stroke-width="1" />
<rect x="614.80" y="564.41" width="15.30" height="3.29" fill="#bb9906" stroke="#1a1a1a" stroke-width="1" />
<rect x="630.10" y="565.10" width="15.30" height="2.60" fill="#bb9906" stroke="#1a1a1a" stroke-width="1" />
<rect x="660.70" y="567.01" width="15.30" height="0.69" fill="#bb9906" stroke="#1a1a1a" stroke-width="1" />
<line x1="553.60" y1="437.20" x2="553.60" y2="567.70" stroke="#e8502a" stroke-width="1" stroke-dasharray="2,1.5"/>
<rect x="492.40" y="436.20" width="183.60" height="131.50" fill="none" stroke="#222" stroke-width="1.2" />
<line x1="492.40" y1="567.70" x2="492.40" y2="563.70" stroke="#111" stroke-width="1" />
<line x1="492.40" y1="436.20" x2="492.40" y2="440.20" stroke="#111" stroke-width="1" />
<line x1="553.60" y1="567.70" x2="553.60" y2="563.70" stroke="#111" stroke-width="1" />
<line x1="553.60" y1="436.20" x2="553.60" y2="440.20" stroke="#111" stroke-width="1" />
<line x1="614.80" y1="567.70" x2="614.80" y2="563.70" stroke="#111" stroke-width="1" />
<line x1="614.80" y1="436.20" x2="614.80" y2="440.20" stroke="#111" stroke-width="1" />
<line x1="676.00" y1="567.70" x2="676.00" y2="563.70" stroke="#111" stroke-width="1" />
<line x1="676.00" y1="436.20" x2="676.00" y2="440.20" stroke="#111" stroke-width="1" />
<line x1="492.40" y1="567.70" x2="492.40" y2="565.20" stroke="#111" stroke-width="0.8" />
<line x1="492.40" y1="436.20" x2="492.40" y2="438.70" stroke="#111" stroke-width="0.8" />
<line x1="498.52" y1="567.70" x2="498.52" y2="565.20" stroke="#111" stroke-width="0.8" />
<line x1="498.52" y1="436.20" x2="498.52" y2="438.70" stroke="#111" stroke-width="0.8" />
<line x1="504.64" y1="567.70" x2="504.64" y2="565.20" stroke="#111" stroke-width="0.8" />
<line x1="504.64" y1="436.20" x2="504.64" y2="438.70" stroke="#111" stroke-width="0.8" />
<line x1="510.76" y1="567.70" x2="510.76" y2="565.20" stroke="#111" stroke-width="0.8" />
<line x1="510.76" y1="436.20" x2="510.76" y2="438.70" stroke="#111" stroke-width="0.8" />
<line x1="516.88" y1="567.70" x2="516.88" y2="565.20" stroke="#111" stroke-width="0.8" />
<line x1="516.88" y1="436.20" x2="516.88" y2="438.70" stroke="#111" stroke-width="0.8" />
<line x1="523.00" y1="567.70" x2="523.00" y2="565.20" stroke="#111" stroke-width="0.8" />
<line x1="523.00" y1="436.20" x2="523.00" y2="438.70" stroke="#111" stroke-width="0.8" />
<line x1="529.12" y1="567.70" x2="529.12" y2="565.20" stroke="#111" stroke-width="0.8" />
<line x1="529.12" y1="436.20" x2="529.12" y2="438.70" stroke="#111" stroke-width="0.8" />
<line x1="535.24" y1="567.70" x2="535.24" y2="565.20" stroke="#111" stroke-width="0.8" />
<line x1="535.24" y1="436.20" x2="535.24" y2="438.70" stroke="#111" stroke-width="0.8" />
<line x1="541.36" y1="567.70" x2="541.36" y2="565.20" stroke="#111" stroke-width="0.8" />
<line x1="541.36" y1="436.20" x2="541.36" y2="438.70" stroke="#111" stroke-width="0.8" />
<line x1="547.48" y1="567.70" x2="547.48" y2="565.20" stroke="#111" stroke-width="0.8" />
<line x1="547.48" y1="436.20" x2="547.48" y2="438.70" stroke="#111" stroke-width="0.8" />
<line x1="553.60" y1="567.70" x2="553.60" y2="565.20" stroke="#111" stroke-width="0.8" />
<line x1="553.60" y1="436.20" x2="553.60" y2="438.70" stroke="#111" stroke-width="0.8" />
<line x1="559.72" y1="567.70" x2="559.72" y2="565.20" stroke="#111" stroke-width="0.8" />
<line x1="559.72" y1="436.20" x2="559.72" y2="438.70" stroke="#111" stroke-width="0.8" />
<line x1="565.84" y1="567.70" x2="565.84" y2="565.20" stroke="#111" stroke-width="0.8" />
<line x1="565.84" y1="436.20" x2="565.84" y2="438.70" stroke="#111" stroke-width="0.8" />
<line x1="571.96" y1="567.70" x2="571.96" y2="565.20" stroke="#111" stroke-width="0.8" />
<line x1="571.96" y1="436.20" x2="571.96" y2="438.70" stroke="#111" stroke-width="0.8" />
<line x1="578.08" y1="567.70" x2="578.08" y2="565.20" stroke="#111" stroke-width="0.8" />
<line x1="578.08" y1="436.20" x2="578.08" y2="438.70" stroke="#111" stroke-width="0.8" />
<line x1="584.20" y1="567.70" x2="584.20" y2="565.20" stroke="#111" stroke-width="0.8" />
<line x1="584.20" y1="436.20" x2="584.20" y2="438.70" stroke="#111" stroke-width="0.8" />
<line x1="590.32" y1="567.70" x2="590.32" y2="565.20" stroke="#111" stroke-width="0.8" />
<line x1="590.32" y1="436.20" x2="590.32" y2="438.70" stroke="#111" stroke-width="0.8" />
<line x1="596.44" y1="567.70" x2="596.44" y2="565.20" stroke="#111" stroke-width="0.8" />
<line x1="596.44" y1="436.20" x2="596.44" y2="438.70" stroke="#111" stroke-width="0.8" />
<line x1="602.56" y1="567.70" x2="602.56" y2="565.20" stroke="#111" stroke-width="0.8" />
<line x1="602.56" y1="436.20" x2="602.56" y2="438.70" stroke="#111" stroke-width="0.8" />
<line x1="608.68" y1="567.70" x2="608.68" y2="565.20" stroke="#111" stroke-width="0.8" />
<line x1="608.68" y1="436.20" x2="608.68" y2="438.70" stroke="#111" stroke-width="0.8" />
<line x1="614.80" y1="567.70" x2="614.80" y2="565.20" stroke="#111" stroke-width="0.8" />
<line x1="614.80" y1="436.20" x2="614.80" y2="438.70" stroke="#111" stroke-width="0.8" />
<line x1="620.92" y1="567.70" x2="620.92" y2="565.20" stroke="#111" stroke-width="0.8" />
<line x1="620.92" y1="436.20" x2="620.92" y2="438.70" stroke="#111" stroke-width="0.8" />
<line x1="627.04" y1="567.70" x2="627.04" y2="565.20" stroke="#111" stroke-width="0.8" />
<line x1="627.04" y1="436.20" x2="627.04" y2="438.70" stroke="#111" stroke-width="0.8" />
<line x1="633.16" y1="567.70" x2="633.16" y2="565.20" stroke="#111" stroke-width="0.8" />
<line x1="633.16" y1="436.20" x2="633.16" y2="438.70" stroke="#111" stroke-width="0.8" />
<line x1="639.28" y1="567.70" x2="639.28" y2="565.20" stroke="#111" stroke-width="0.8" />
<line x1="639.28" y1="436.20" x2="639.28" y2="438.70" stroke="#111" stroke-width="0.8" />
<line x1="645.40" y1="567.70" x2="645.40" y2="565.20" stroke="#111" stroke-width="0.8" />
<line x1="645.40" y1="436.20" x2="645.40" y2="438.70" stroke="#111" stroke-width="0.8" />
<line x1="651.52" y1="567.70" x2="651.52" y2="565.20" stroke="#111" stroke-width="0.8" />
<line x1="651.52" y1="436.20" x2="651.52" y2="438.70" stroke="#111" stroke-width="0.8" />
<line x1="657.64" y1="567.70" x2="657.64" y2="565.20" stroke="#111" stroke-width="0.8" />
<line x1="657.64" y1="436.20" x2="657.64" y2="438.70" stroke="#111" stroke-width="0.8" />
<line x1="663.76" y1="567.70" x2="663.76" y2="565.20" stroke="#111" stroke-width="0.8" />
<line x1="663.76" y1="436.20" x2="663.76" y2="438.70" stroke="#111" stroke-width="0.8" />
<line x1="669.88" y1="567.70" x2="669.88" y2="565.20" stroke="#111" stroke-width="0.8" />
<line x1="669.88" y1="436.20" x2="669.88" y2="438.70" stroke="#111" stroke-width="0.8" />
<line x1="676.00" y1="567.70" x2="676.00" y2="565.20" stroke="#111" stroke-width="0.8" />
<line x1="676.00" y1="436.20" x2="676.00" y2="438.70" stroke="#111" stroke-width="0.8" />
<line x1="492.40" y1="567.70" x2="496.40" y2="567.70" stroke="#111" stroke-width="1" />
<line x1="676.00" y1="567.70" x2="672.00" y2="567.70" stroke="#111" stroke-width="1" />
<line x1="492.40" y1="550.39" x2="496.40" y2="550.39" stroke="#111" stroke-width="1" />
<line x1="676.00" y1="550.39" x2="672.00" y2="550.39" stroke="#111" stroke-width="1" />
<line x1="492.40" y1="533.08" x2="496.40" y2="533.08" stroke="#111" stroke-width="1" />
<line x1="676.00" y1="533.08" x2="672.00" y2="533.08" stroke="#111" stroke-width="1" />
<line x1="492.40" y1="515.76" x2="496.40" y2="515.76" stroke="#111" stroke-width="1" />
<line x1="676.00" y1="515.76" x2="672.00" y2="515.76" stroke="#111" stroke-width="1" />
<line x1="492.40" y1="498.45" x2="496.40" y2="498.45" stroke="#111" stroke-width="1" />
<line x1="676.00" y1="498.45" x2="672.00" y2="498.45" stroke="#111" stroke-width="1" />
<line x1="492.40" y1="481.14" x2="496.40" y2="481.14" stroke="#111" stroke-width="1" />
<line x1="676.00" y1="481.14" x2="672.00" y2="481.14" stroke="#111" stroke-width="1" />
<line x1="492.40" y1="463.83" x2="496.40" y2="463.83" stroke="#111" stroke-width="1" />
<line x1="676.00" y1="463.83" x2="672.00" y2="463.83" stroke="#111" stroke-width="1" />
<line x1="492.40" y1="446.52" x2="496.40" y2="446.52" stroke="#111" stroke-width="1" />
<line x1="676.00" y1="446.52" x2="672.00" y2="446.52" stroke="#111" stroke-width="1" />
<rect x="508.85" y="742.81" width="15.25" height="1.69" fill="#dcdcdc" stroke="#1a1a1a" stroke-width="1" />
<rect x="524.10" y="704.38" width="15.25" height="40.12" fill="#dcdcdc" stroke="#1a1a1a" stroke-width="1" />
<rect x="539.35" y="622.70" width="15.25" height="121.80" fill="#dcdcdc" stroke="#1a1a1a" stroke-width="1" />
<rect x="554.60" y="719.37" width="15.25" height="25.13" fill="#dcdcdc" stroke="#1a1a1a" stroke-width="1" />
<rect x="569.85" y="735.80" width="15.25" height="8.70" fill="#dcdcdc" stroke="#1a1a1a" stroke-width="1" />
<rect x="585.10" y="741.60" width="15.25" height="2.90" fill="#dcdcdc" stroke="#1a1a1a" stroke-width="1" />
<rect x="600.35" y="742.81" width="15.25" height="1.69" fill="#dcdcdc" stroke="#1a1a1a" stroke-width="1" />
<rect x="615.60" y="743.77" width="15.25" height="0.73" fill="#dcdcdc" stroke="#1a1a1a" stroke-width="1" />
<rect x="630.85" y="744.02" width="15.25" height="0.48" fill="#dcdcdc" stroke="#1a1a1a" stroke-width="1" />
<line x1="554.60" y1="600.50" x2="554.60" y2="744.50" stroke="#e0206a" stroke-width="1" stroke-dasharray="2,1.5"/>
<rect x="493.60" y="599.50" width="183.00" height="145.00" fill="none" stroke="#222" stroke-width="1.2" />
<line x1="493.60" y1="744.50" x2="493.60" y2="740.50" stroke="#111" stroke-width="1" />
<line x1="493.60" y1="599.50" x2="493.60" y2="603.50" stroke="#111" stroke-width="1" />
<line x1="554.60" y1="744.50" x2="554.60" y2="740.50" stroke="#111" stroke-width="1" />
<line x1="554.60" y1="599.50" x2="554.60" y2="603.50" stroke="#111" stroke-width="1" />
<line x1="615.60" y1="744.50" x2="615.60" y2="740.50" stroke="#111" stroke-width="1" />
<line x1="615.60" y1="599.50" x2="615.60" y2="603.50" stroke="#111" stroke-width="1" />
<line x1="676.60" y1="744.50" x2="676.60" y2="740.50" stroke="#111" stroke-width="1" />
<line x1="676.60" y1="599.50" x2="676.60" y2="603.50" stroke="#111" stroke-width="1" />
<line x1="493.60" y1="744.50" x2="493.60" y2="742.00" stroke="#111" stroke-width="0.8" />
<line x1="493.60" y1="599.50" x2="493.60" y2="602.00" stroke="#111" stroke-width="0.8" />
<line x1="499.70" y1="744.50" x2="499.70" y2="742.00" stroke="#111" stroke-width="0.8" />
<line x1="499.70" y1="599.50" x2="499.70" y2="602.00" stroke="#111" stroke-width="0.8" />
<line x1="505.80" y1="744.50" x2="505.80" y2="742.00" stroke="#111" stroke-width="0.8" />
<line x1="505.80" y1="599.50" x2="505.80" y2="602.00" stroke="#111" stroke-width="0.8" />
<line x1="511.90" y1="744.50" x2="511.90" y2="742.00" stroke="#111" stroke-width="0.8" />
<line x1="511.90" y1="599.50" x2="511.90" y2="602.00" stroke="#111" stroke-width="0.8" />
<line x1="518.00" y1="744.50" x2="518.00" y2="742.00" stroke="#111" stroke-width="0.8" />
<line x1="518.00" y1="599.50" x2="518.00" y2="602.00" stroke="#111" stroke-width="0.8" />
<line x1="524.10" y1="744.50" x2="524.10" y2="742.00" stroke="#111" stroke-width="0.8" />
<line x1="524.10" y1="599.50" x2="524.10" y2="602.00" stroke="#111" stroke-width="0.8" />
<line x1="530.20" y1="744.50" x2="530.20" y2="742.00" stroke="#111" stroke-width="0.8" />
<line x1="530.20" y1="599.50" x2="530.20" y2="602.00" stroke="#111" stroke-width="0.8" />
<line x1="536.30" y1="744.50" x2="536.30" y2="742.00" stroke="#111" stroke-width="0.8" />
<line x1="536.30" y1="599.50" x2="536.30" y2="602.00" stroke="#111" stroke-width="0.8" />
<line x1="542.40" y1="744.50" x2="542.40" y2="742.00" stroke="#111" stroke-width="0.8" />
<line x1="542.40" y1="599.50" x2="542.40" y2="602.00" stroke="#111" stroke-width="0.8" />
<line x1="548.50" y1="744.50" x2="548.50" y2="742.00" stroke="#111" stroke-width="0.8" />
<line x1="548.50" y1="599.50" x2="548.50" y2="602.00" stroke="#111" stroke-width="0.8" />
<line x1="554.60" y1="744.50" x2="554.60" y2="742.00" stroke="#111" stroke-width="0.8" />
<line x1="554.60" y1="599.50" x2="554.60" y2="602.00" stroke="#111" stroke-width="0.8" />
<line x1="560.70" y1="744.50" x2="560.70" y2="742.00" stroke="#111" stroke-width="0.8" />
<line x1="560.70" y1="599.50" x2="560.70" y2="602.00" stroke="#111" stroke-width="0.8" />
<line x1="566.80" y1="744.50" x2="566.80" y2="742.00" stroke="#111" stroke-width="0.8" />
<line x1="566.80" y1="599.50" x2="566.80" y2="602.00" stroke="#111" stroke-width="0.8" />
<line x1="572.90" y1="744.50" x2="572.90" y2="742.00" stroke="#111" stroke-width="0.8" />
<line x1="572.90" y1="599.50" x2="572.90" y2="602.00" stroke="#111" stroke-width="0.8" />
<line x1="579.00" y1="744.50" x2="579.00" y2="742.00" stroke="#111" stroke-width="0.8" />
<line x1="579.00" y1="599.50" x2="579.00" y2="602.00" stroke="#111" stroke-width="0.8" />
<line x1="585.10" y1="744.50" x2="585.10" y2="742.00" stroke="#111" stroke-width="0.8" />
<line x1="585.10" y1="599.50" x2="585.10" y2="602.00" stroke="#111" stroke-width="0.8" />
<line x1="591.20" y1="744.50" x2="591.20" y2="742.00" stroke="#111" stroke-width="0.8" />
<line x1="591.20" y1="599.50" x2="591.20" y2="602.00" stroke="#111" stroke-width="0.8" />
<line x1="597.30" y1="744.50" x2="597.30" y2="742.00" stroke="#111" stroke-width="0.8" />
<line x1="597.30" y1="599.50" x2="597.30" y2="602.00" stroke="#111" stroke-width="0.8" />
<line x1="603.40" y1="744.50" x2="603.40" y2="742.00" stroke="#111" stroke-width="0.8" />
<line x1="603.40" y1="599.50" x2="603.40" y2="602.00" stroke="#111" stroke-width="0.8" />
<line x1="609.50" y1="744.50" x2="609.50" y2="742.00" stroke="#111" stroke-width="0.8" />
<line x1="609.50" y1="599.50" x2="609.50" y2="602.00" stroke="#111" stroke-width="0.8" />
<line x1="615.60" y1="744.50" x2="615.60" y2="742.00" stroke="#111" stroke-width="0.8" />
<line x1="615.60" y1="599.50" x2="615.60" y2="602.00" stroke="#111" stroke-width="0.8" />
<line x1="621.70" y1="744.50" x2="621.70" y2="742.00" stroke="#111" stroke-width="0.8" />
<line x1="621.70" y1="599.50" x2="621.70" y2="602.00" stroke="#111" stroke-width="0.8" />
<line x1="627.80" y1="744.50" x2="627.80" y2="742.00" stroke="#111" stroke-width="0.8" />
<line x1="627.80" y1="599.50" x2="627.80" y2="602.00" stroke="#111" stroke-width="0.8" />
<line x1="633.90" y1="744.50" x2="633.90" y2="742.00" stroke="#111" stroke-width="0.8" />
<line x1="633.90" y1="599.50" x2="633.90" y2="602.00" stroke="#111" stroke-width="0.8" />
<line x1="640.00" y1="744.50" x2="640.00" y2="742.00" stroke="#111" stroke-width="0.8" />
<line x1="640.00" y1="599.50" x2="640.00" y2="602.00" stroke="#111" stroke-width="0.8" />
<line x1="646.10" y1="744.50" x2="646.10" y2="742.00" stroke="#111" stroke-width="0.8" />
<line x1="646.10" y1="599.50" x2="646.10" y2="602.00" stroke="#111" stroke-width="0.8" />
<line x1="652.20" y1="744.50" x2="652.20" y2="742.00" stroke="#111" stroke-width="0.8" />
<line x1="652.20" y1="599.50" x2="652.20" y2="602.00" stroke="#111" stroke-width="0.8" />
<line x1="658.30" y1="744.50" x2="658.30" y2="742.00" stroke="#111" stroke-width="0.8" />
<line x1="658.30" y1="599.50" x2="658.30" y2="602.00" stroke="#111" stroke-width="0.8" />
<line x1="664.40" y1="744.50" x2="664.40" y2="742.00" stroke="#111" stroke-width="0.8" />
<line x1="664.40" y1="599.50" x2="664.40" y2="602.00" stroke="#111" stroke-width="0.8" />
<line x1="670.50" y1="744.50" x2="670.50" y2="742.00" stroke="#111" stroke-width="0.8" />
<line x1="670.50" y1="599.50" x2="670.50" y2="602.00" stroke="#111" stroke-width="0.8" />
<line x1="676.60" y1="744.50" x2="676.60" y2="742.00" stroke="#111" stroke-width="0.8" />
<line x1="676.60" y1="599.50" x2="676.60" y2="602.00" stroke="#111" stroke-width="0.8" />
<line x1="493.60" y1="744.50" x2="497.60" y2="744.50" stroke="#111" stroke-width="1" />
<line x1="676.60" y1="744.50" x2="672.60" y2="744.50" stroke="#111" stroke-width="1" />
<line x1="493.60" y1="720.33" x2="497.60" y2="720.33" stroke="#111" stroke-width="1" />
<line x1="676.60" y1="720.33" x2="672.60" y2="720.33" stroke="#111" stroke-width="1" />
<line x1="493.60" y1="696.17" x2="497.60" y2="696.17" stroke="#111" stroke-width="1" />
<line x1="676.60" y1="696.17" x2="672.60" y2="696.17" stroke="#111" stroke-width="1" />
<line x1="493.60" y1="672.00" x2="497.60" y2="672.00" stroke="#111" stroke-width="1" />
<line x1="676.60" y1="672.00" x2="672.60" y2="672.00" stroke="#111" stroke-width="1" />
<line x1="493.60" y1="647.83" x2="497.60" y2="647.83" stroke="#111" stroke-width="1" />
<line x1="676.60" y1="647.83" x2="672.60" y2="647.83" stroke="#111" stroke-width="1" />
<line x1="493.60" y1="623.67" x2="497.60" y2="623.67" stroke="#111" stroke-width="1" />
<line x1="676.60" y1="623.67" x2="672.60" y2="623.67" stroke="#111" stroke-width="1" />
<line x1="493.60" y1="599.50" x2="497.60" y2="599.50" stroke="#111" stroke-width="1" />
<line x1="676.60" y1="599.50" x2="672.60" y2="599.50" stroke="#111" stroke-width="1" />
<rect x="504.27" y="954.80" width="16.27" height="1.60" fill="#bb9906" stroke="#1a1a1a" stroke-width="1" />
<rect x="520.55" y="949.35" width="16.28" height="7.05" fill="#bb9906" stroke="#1a1a1a" stroke-width="1" />
<rect x="536.83" y="923.82" width="16.27" height="32.58" fill="#bb9906" stroke="#1a1a1a" stroke-width="1" />
<rect x="553.10" y="886.56" width="16.27" height="69.84" fill="#bb9906" stroke="#1a1a1a" stroke-width="1" />
<rect x="569.38" y="819.74" width="16.27" height="136.66" fill="#bb9906" stroke="#1a1a1a" stroke-width="1" />
<rect x="585.65" y="862.05" width="16.27" height="94.35" fill="#bb9906" stroke="#1a1a1a" stroke-width="1" />
<rect x="601.92" y="932.57" width="16.27" height="23.83" fill="#bb9906" stroke="#1a1a1a" stroke-width="1" />
<rect x="618.20" y="944.73" width="16.27" height="11.67" fill="#bb9906" stroke="#1a1a1a" stroke-width="1" />
<rect x="634.47" y="952.75" width="16.28" height="3.65" fill="#bb9906" stroke="#1a1a1a" stroke-width="1" />
<line x1="553.10" y1="811.50" x2="553.10" y2="956.40" stroke="#e0206a" stroke-width="1" stroke-dasharray="2,1.5"/>
<rect x="488.00" y="810.50" width="195.30" height="145.90" fill="none" stroke="#222" stroke-width="1.2" />
<line x1="488.00" y1="956.40" x2="488.00" y2="952.40" stroke="#111" stroke-width="1" />
<line x1="488.00" y1="810.50" x2="488.00" y2="814.50" stroke="#111" stroke-width="1" />
<line x1="553.10" y1="956.40" x2="553.10" y2="952.40" stroke="#111" stroke-width="1" />
<line x1="553.10" y1="810.50" x2="553.10" y2="814.50" stroke="#111" stroke-width="1" />
<line x1="618.20" y1="956.40" x2="618.20" y2="952.40" stroke="#111" stroke-width="1" />
<line x1="618.20" y1="810.50" x2="618.20" y2="814.50" stroke="#111" stroke-width="1" />
<line x1="683.30" y1="956.40" x2="683.30" y2="952.40" stroke="#111" stroke-width="1" />
<line x1="683.30" y1="810.50" x2="683.30" y2="814.50" stroke="#111" stroke-width="1" />
<line x1="488.00" y1="956.40" x2="488.00" y2="953.90" stroke="#111" stroke-width="0.8" />
<line x1="488.00" y1="810.50" x2="488.00" y2="813.00" stroke="#111" stroke-width="0.8" />
<line x1="494.51" y1="956.40" x2="494.51" y2="953.90" stroke="#111" stroke-width="0.8" />
<line x1="494.51" y1="810.50" x2="494.51" y2="813.00" stroke="#111" stroke-width="0.8" />
<line x1="501.02" y1="956.40" x2="501.02" y2="953.90" stroke="#111" stroke-width="0.8" />
<line x1="501.02" y1="810.50" x2="501.02" y2="813.00" stroke="#111" stroke-width="0.8" />
<line x1="507.53" y1="956.40" x2="507.53" y2="953.90" stroke="#111" stroke-width="0.8" />
<line x1="507.53" y1="810.50" x2="507.53" y2="813.00" stroke="#111" stroke-width="0.8" />
<line x1="514.04" y1="956.40" x2="514.04" y2="953.90" stroke="#111" stroke-width="0.8" />
<line x1="514.04" y1="810.50" x2="514.04" y2="813.00" stroke="#111" stroke-width="0.8" />
<line x1="520.55" y1="956.40" x2="520.55" y2="953.90" stroke="#111" stroke-width="0.8" />
<line x1="520.55" y1="810.50" x2="520.55" y2="813.00" stroke="#111" stroke-width="0.8" />
<line x1="527.06" y1="956.40" x2="527.06" y2="953.90" stroke="#111" stroke-width="0.8" />
<line x1="527.06" y1="810.50" x2="527.06" y2="813.00" stroke="#111" stroke-width="0.8" />
<line x1="533.57" y1="956.40" x2="533.57" y2="953.90" stroke="#111" stroke-width="0.8" />
<line x1="533.57" y1="810.50" x2="533.57" y2="813.00" stroke="#111" stroke-width="0.8" />
<line x1="540.08" y1="956.40" x2="540.08" y2="953.90" stroke="#111" stroke-width="0.8" />
<line x1="540.08" y1="810.50" x2="540.08" y2="813.00" stroke="#111" stroke-width="0.8" />
<line x1="546.59" y1="956.40" x2="546.59" y2="953.90" stroke="#111" stroke-width="0.8" />
<line x1="546.59" y1="810.50" x2="546.59" y2="813.00" stroke="#111" stroke-width="0.8" />
<line x1="553.10" y1="956.40" x2="553.10" y2="953.90" stroke="#111" stroke-width="0.8" />
<line x1="553.10" y1="810.50" x2="553.10" y2="813.00" stroke="#111" stroke-width="0.8" />
<line x1="559.61" y1="956.40" x2="559.61" y2="953.90" stroke="#111" stroke-width="0.8" />
<line x1="559.61" y1="810.50" x2="559.61" y2="813.00" stroke="#111" stroke-width="0.8" />
<line x1="566.12" y1="956.40" x2="566.12" y2="953.90" stroke="#111" stroke-width="0.8" />
<line x1="566.12" y1="810.50" x2="566.12" y2="813.00" stroke="#111" stroke-width="0.8" />
<line x1="572.63" y1="956.40" x2="572.63" y2="953.90" stroke="#111" stroke-width="0.8" />
<line x1="572.63" y1="810.50" x2="572.63" y2="813.00" stroke="#111" stroke-width="0.8" />
<line x1="579.14" y1="956.40" x2="579.14" y2="953.90" stroke="#111" stroke-width="0.8" />
<line x1="579.14" y1="810.50" x2="579.14" y2="813.00" stroke="#111" stroke-width="0.8" />
<line x1="585.65" y1="956.40" x2="585.65" y2="953.90" stroke="#111" stroke-width="0.8" />
<line x1="585.65" y1="810.50" x2="585.65" y2="813.00" stroke="#111" stroke-width="0.8" />
<line x1="592.16" y1="956.40" x2="592.16" y2="953.90" stroke="#111" stroke-width="0.8" />
<line x1="592.16" y1="810.50" x2="592.16" y2="813.00" stroke="#111" stroke-width="0.8" />
<line x1="598.67" y1="956.40" x2="598.67" y2="953.90" stroke="#111" stroke-width="0.8" />
<line x1="598.67" y1="810.50" x2="598.67" y2="813.00" stroke="#111" stroke-width="0.8" />
<line x1="605.18" y1="956.40" x2="605.18" y2="953.90" stroke="#111" stroke-width="0.8" />
<line x1="605.18" y1="810.50" x2="605.18" y2="813.00" stroke="#111" stroke-width="0.8" />
<line x1="611.69" y1="956.40" x2="611.69" y2="953.90" stroke="#111" stroke-width="0.8" />
<line x1="611.69" y1="810.50" x2="611.69" y2="813.00" stroke="#111" stroke-width="0.8" />
<line x1="618.20" y1="956.40" x2="618.20" y2="953.90" stroke="#111" stroke-width="0.8" />
<line x1="618.20" y1="810.50" x2="618.20" y2="813.00" stroke="#111" stroke-width="0.8" />
<line x1="624.71" y1="956.40" x2="624.71" y2="953.90" stroke="#111" stroke-width="0.8" />
<line x1="624.71" y1="810.50" x2="624.71" y2="813.00" stroke="#111" stroke-width="0.8" />
<line x1="631.22" y1="956.40" x2="631.22" y2="953.90" stroke="#111" stroke-width="0.8" />
<line x1="631.22" y1="810.50" x2="631.22" y2="813.00" stroke="#111" stroke-width="0.8" />
<line x1="637.73" y1="956.40" x2="637.73" y2="953.90" stroke="#111" stroke-width="0.8" />
<line x1="637.73" y1="810.50" x2="637.73" y2="813.00" stroke="#111" stroke-width="0.8" />
<line x1="644.24" y1="956.40" x2="644.24" y2="953.90" stroke="#111" stroke-width="0.8" />
<line x1="644.24" y1="810.50" x2="644.24" y2="813.00" stroke="#111" stroke-width="0.8" />
<line x1="650.75" y1="956.40" x2="650.75" y2="953.90" stroke="#111" stroke-width="0.8" />
<line x1="650.75" y1="810.50" x2="650.75" y2="813.00" stroke="#111" stroke-width="0.8" />
<line x1="657.26" y1="956.40" x2="657.26" y2="953.90" stroke="#111" stroke-width="0.8" />
<line x1="657.26" y1="810.50" x2="657.26" y2="813.00" stroke="#111" stroke-width="0.8" />
<line x1="663.77" y1="956.40" x2="663.77" y2="953.90" stroke="#111" stroke-width="0.8" />
<line x1="663.77" y1="810.50" x2="663.77" y2="813.00" stroke="#111" stroke-width="0.8" />
<line x1="670.28" y1="956.40" x2="670.28" y2="953.90" stroke="#111" stroke-width="0.8" />
<line x1="670.28" y1="810.50" x2="670.28" y2="813.00" stroke="#111" stroke-width="0.8" />
<line x1="676.79" y1="956.40" x2="676.79" y2="953.90" stroke="#111" stroke-width="0.8" />
<line x1="676.79" y1="810.50" x2="676.79" y2="813.00" stroke="#111" stroke-width="0.8" />
<line x1="683.30" y1="956.40" x2="683.30" y2="953.90" stroke="#111" stroke-width="0.8" />
<line x1="683.30" y1="810.50" x2="683.30" y2="813.00" stroke="#111" stroke-width="0.8" />
<line x1="488.00" y1="956.40" x2="492.00" y2="956.40" stroke="#111" stroke-width="1" />
<line x1="683.30" y1="956.40" x2="679.30" y2="956.40" stroke="#111" stroke-width="1" />
<line x1="488.00" y1="932.08" x2="492.00" y2="932.08" stroke="#111" stroke-width="1" />
<line x1="683.30" y1="932.08" x2="679.30" y2="932.08" stroke="#111" stroke-width="1" />
<line x1="488.00" y1="907.77" x2="492.00" y2="907.77" stroke="#111" stroke-width="1" />
<line x1="683.30" y1="907.77" x2="679.30" y2="907.77" stroke="#111" stroke-width="1" />
<line x1="488.00" y1="883.45" x2="492.00" y2="883.45" stroke="#111" stroke-width="1" />
<line x1="683.30" y1="883.45" x2="679.30" y2="883.45" stroke="#111" stroke-width="1" />
<line x1="488.00" y1="859.13" x2="492.00" y2="859.13" stroke="#111" stroke-width="1" />
<line x1="683.30" y1="859.13" x2="679.30" y2="859.13" stroke="#111" stroke-width="1" />
<line x1="488.00" y1="834.82" x2="492.00" y2="834.82" stroke="#111" stroke-width="1" />
<line x1="683.30" y1="834.82" x2="679.30" y2="834.82" stroke="#111" stroke-width="1" />
<line x1="488.00" y1="810.50" x2="492.00" y2="810.50" stroke="#111" stroke-width="1" />
<line x1="683.30" y1="810.50" x2="679.30" y2="810.50" stroke="#111" stroke-width="1" />
<line x1="488.00" y1="956.40" x2="490.50" y2="956.40" stroke="#111" stroke-width="0.8" />
<line x1="683.30" y1="956.40" x2="680.80" y2="956.40" stroke="#111" stroke-width="0.8" />
<line x1="488.00" y1="951.54" x2="490.50" y2="951.54" stroke="#111" stroke-width="0.8" />
<line x1="683.30" y1="951.54" x2="680.80" y2="951.54" stroke="#111" stroke-width="0.8" />
<line x1="488.00" y1="946.67" x2="490.50" y2="946.67" stroke="#111" stroke-width="0.8" />
<line x1="683.30" y1="946.67" x2="680.80" y2="946.67" stroke="#111" stroke-width="0.8" />
<line x1="488.00" y1="941.81" x2="490.50" y2="941.81" stroke="#111" stroke-width="0.8" />
<line x1="683.30" y1="941.81" x2="680.80" y2="941.81" stroke="#111" stroke-width="0.8" />
<line x1="488.00" y1="936.95" x2="490.50" y2="936.95" stroke="#111" stroke-width="0.8" />
<line x1="683.30" y1="936.95" x2="680.80" y2="936.95" stroke="#111" stroke-width="0.8" />
<line x1="488.00" y1="932.08" x2="490.50" y2="932.08" stroke="#111" stroke-width="0.8" />
<line x1="683.30" y1="932.08" x2="680.80" y2="932.08" stroke="#111" stroke-width="0.8" />
<line x1="488.00" y1="927.22" x2="490.50" y2="927.22" stroke="#111" stroke-width="0.8" />
<line x1="683.30" y1="927.22" x2="680.80" y2="927.22" stroke="#111" stroke-width="0.8" />
<line x1="488.00" y1="922.36" x2="490.50" y2="922.36" stroke="#111" stroke-width="0.8" />
<line x1="683.30" y1="922.36" x2="680.80" y2="922.36" stroke="#111" stroke-width="0.8" />
<line x1="488.00" y1="917.49" x2="490.50" y2="917.49" stroke="#111" stroke-width="0.8" />
<line x1="683.30" y1="917.49" x2="680.80" y2="917.49" stroke="#111" stroke-width="0.8" />
<line x1="488.00" y1="912.63" x2="490.50" y2="912.63" stroke="#111" stroke-width="0.8" />
<line x1="683.30" y1="912.63" x2="680.80" y2="912.63" stroke="#111" stroke-width="0.8" />
<line x1="488.00" y1="907.77" x2="490.50" y2="907.77" stroke="#111" stroke-width="0.8" />
<line x1="683.30" y1="907.77" x2="680.80" y2="907.77" stroke="#111" stroke-width="0.8" />
<line x1="488.00" y1="902.90" x2="490.50" y2="902.90" stroke="#111" stroke-width="0.8" />
<line x1="683.30" y1="902.90" x2="680.80" y2="902.90" stroke="#111" stroke-width="0.8" />
<line x1="488.00" y1="898.04" x2="490.50" y2="898.04" stroke="#111" stroke-width="0.8" />
<line x1="683.30" y1="898.04" x2="680.80" y2="898.04" stroke="#111" stroke-width="0.8" />
<line x1="488.00" y1="893.18" x2="490.50" y2="893.18" stroke="#111" stroke-width="0.8" />
<line x1="683.30" y1="893.18" x2="680.80" y2="893.18" stroke="#111" stroke-width="0.8" />
<line x1="488.00" y1="888.31" x2="490.50" y2="888.31" stroke="#111" stroke-width="0.8" />
<line x1="683.30" y1="888.31" x2="680.80" y2="888.31" stroke="#111" stroke-width="0.8" />
<line x1="488.00" y1="883.45" x2="490.50" y2="883.45" stroke="#111" stroke-width="0.8" />
<line x1="683.30" y1="883.45" x2="680.80" y2="883.45" stroke="#111" stroke-width="0.8" />
<line x1="488.00" y1="878.59" x2="490.50" y2="878.59" stroke="#111" stroke-width="0.8" />
<line x1="683.30" y1="878.59" x2="680.80" y2="878.59" stroke="#111" stroke-width="0.8" />
<line x1="488.00" y1="873.72" x2="490.50" y2="873.72" stroke="#111" stroke-width="0.8" />
<line x1="683.30" y1="873.72" x2="680.80" y2="873.72" stroke="#111" stroke-width="0.8" />
<line x1="488.00" y1="868.86" x2="490.50" y2="868.86" stroke="#111" stroke-width="0.8" />
<line x1="683.30" y1="868.86" x2="680.80" y2="868.86" stroke="#111" stroke-width="0.8" />
<line x1="488.00" y1="864.00" x2="490.50" y2="864.00" stroke="#111" stroke-width="0.8" />
<line x1="683.30" y1="864.00" x2="680.80" y2="864.00" stroke="#111" stroke-width="0.8" />
<line x1="488.00" y1="859.13" x2="490.50" y2="859.13" stroke="#111" stroke-width="0.8" />
<line x1="683.30" y1="859.13" x2="680.80" y2="859.13" stroke="#111" stroke-width="0.8" />
<line x1="488.00" y1="854.27" x2="490.50" y2="854.27" stroke="#111" stroke-width="0.8" />
<line x1="683.30" y1="854.27" x2="680.80" y2="854.27" stroke="#111" stroke-width="0.8" />
<line x1="488.00" y1="849.41" x2="490.50" y2="849.41" stroke="#111" stroke-width="0.8" />
<line x1="683.30" y1="849.41" x2="680.80" y2="849.41" stroke="#111" stroke-width="0.8" />
<line x1="488.00" y1="844.54" x2="490.50" y2="844.54" stroke="#111" stroke-width="0.8" />
<line x1="683.30" y1="844.54" x2="680.80" y2="844.54" stroke="#111" stroke-width="0.8" />
<line x1="488.00" y1="839.68" x2="490.50" y2="839.68" stroke="#111" stroke-width="0.8" />
<line x1="683.30" y1="839.68" x2="680.80" y2="839.68" stroke="#111" stroke-width="0.8" />
<line x1="488.00" y1="834.82" x2="490.50" y2="834.82" stroke="#111" stroke-width="0.8" />
<line x1="683.30" y1="834.82" x2="680.80" y2="834.82" stroke="#111" stroke-width="0.8" />
<line x1="488.00" y1="829.95" x2="490.50" y2="829.95" stroke="#111" stroke-width="0.8" />
<line x1="683.30" y1="829.95" x2="680.80" y2="829.95" stroke="#111" stroke-width="0.8" />
<line x1="488.00" y1="825.09" x2="490.50" y2="825.09" stroke="#111" stroke-width="0.8" />
<line x1="683.30" y1="825.09" x2="680.80" y2="825.09" stroke="#111" stroke-width="0.8" />
<line x1="488.00" y1="820.23" x2="490.50" y2="820.23" stroke="#111" stroke-width="0.8" />
<line x1="683.30" y1="820.23" x2="680.80" y2="820.23" stroke="#111" stroke-width="0.8" />
<line x1="488.00" y1="815.36" x2="490.50" y2="815.36" stroke="#111" stroke-width="0.8" />
<line x1="683.30" y1="815.36" x2="680.80" y2="815.36" stroke="#111" stroke-width="0.8" />
<line x1="488.00" y1="810.50" x2="490.50" y2="810.50" stroke="#111" stroke-width="0.8" />
<line x1="683.30" y1="810.50" x2="680.80" y2="810.50" stroke="#111" stroke-width="0.8" />
<rect x="494.70" y="1131.45" width="15.71" height="0.75" fill="#dcdcdc" stroke="#1a1a1a" stroke-width="1" />
<rect x="510.41" y="1129.51" width="15.71" height="2.69" fill="#dcdcdc" stroke="#1a1a1a" stroke-width="1" />
<rect x="526.12" y="1115.04" width="15.71" height="17.16" fill="#dcdcdc" stroke="#1a1a1a" stroke-width="1" />
<rect x="541.83" y="1075.50" width="15.71" height="56.70" fill="#dcdcdc" stroke="#1a1a1a" stroke-width="1" />
<rect x="557.53" y="990.46" width="15.71" height="141.74" fill="#dcdcdc" stroke="#1a1a1a" stroke-width="1" />
<rect x="573.24" y="1085.95" width="15.71" height="46.25" fill="#dcdcdc" stroke="#1a1a1a" stroke-width="1" />
<rect x="588.95" y="1118.77" width="15.71" height="13.43" fill="#dcdcdc" stroke="#1a1a1a" stroke-width="1" />
<rect x="604.66" y="1126.53" width="15.71" height="5.67" fill="#dcdcdc" stroke="#1a1a1a" stroke-width="1" />
<rect x="620.37" y="1131.45" width="15.71" height="0.75" fill="#dcdcdc" stroke="#1a1a1a" stroke-width="1" />
<rect x="651.78" y="1131.45" width="15.71" height="0.75" fill="#dcdcdc" stroke="#1a1a1a" stroke-width="1" />
<line x1="557.53" y1="984.00" x2="557.53" y2="1132.20" stroke="#e0206a" stroke-width="1" stroke-dasharray="2,1.5"/>
<rect x="494.70" y="983.00" width="188.50" height="149.20" fill="none" stroke="#222" stroke-width="1.2" />
<line x1="494.70" y1="1132.20" x2="494.70" y2="1128.20" stroke="#111" stroke-width="1" />
<line x1="494.70" y1="983.00" x2="494.70" y2="987.00" stroke="#111" stroke-width="1" />
<line x1="557.53" y1="1132.20" x2="557.53" y2="1128.20" stroke="#111" stroke-width="1" />
<line x1="557.53" y1="983.00" x2="557.53" y2="987.00" stroke="#111" stroke-width="1" />
<line x1="620.37" y1="1132.20" x2="620.37" y2="1128.20" stroke="#111" stroke-width="1" />
<line x1="620.37" y1="983.00" x2="620.37" y2="987.00" stroke="#111" stroke-width="1" />
<line x1="683.20" y1="1132.20" x2="683.20" y2="1128.20" stroke="#111" stroke-width="1" />
<line x1="683.20" y1="983.00" x2="683.20" y2="987.00" stroke="#111" stroke-width="1" />
<line x1="494.70" y1="1132.20" x2="498.70" y2="1132.20" stroke="#111" stroke-width="1" />
<line x1="683.20" y1="1132.20" x2="679.20" y2="1132.20" stroke="#111" stroke-width="1" />
<line x1="494.70" y1="1094.90" x2="498.70" y2="1094.90" stroke="#111" stroke-width="1" />
<line x1="683.20" y1="1094.90" x2="679.20" y2="1094.90" stroke="#111" stroke-width="1" />
<line x1="494.70" y1="1057.60" x2="498.70" y2="1057.60" stroke="#111" stroke-width="1" />
<line x1="683.20" y1="1057.60" x2="679.20" y2="1057.60" stroke="#111" stroke-width="1" />
<line x1="494.70" y1="1020.30" x2="498.70" y2="1020.30" stroke="#111" stroke-width="1" />
<line x1="683.20" y1="1020.30" x2="679.20" y2="1020.30" stroke="#111" stroke-width="1" />
<line x1="494.70" y1="983.00" x2="498.70" y2="983.00" stroke="#111" stroke-width="1" />
<line x1="683.20" y1="983.00" x2="679.20" y2="983.00" stroke="#111" stroke-width="1" />
<text transform="translate(13.29,13.60) scale(0.811,1)" font-size="18.8" font-weight="bold" font-style="normal" fill="#111" stroke="#111" stroke-width="0.55">10</text>
<text transform="translate(22.39,125.50) scale(0.543,1)" font-size="18.8" font-weight="bold" font-style="normal" fill="#111" stroke="#111" stroke-width="0.55">1</text>
<text transform="translate(8.53,236.90) scale(0.759,1)" font-size="18.8" font-weight="bold" font-style="normal" fill="#111" stroke="#111" stroke-width="0.55">0.1</text>
<text transform="translate(-0.90,349.10) scale(0.801,1)" font-size="18.8" font-weight="bold" font-style="normal" fill="#111" stroke="#111" stroke-width="0.55">0.01</text>
<text transform="translate(99.39,361.60) scale(0.543,1)" font-size="18.8" font-weight="bold" font-style="normal" fill="#111" stroke="#111" stroke-width="0.55">1</text>
<text transform="translate(330.96,361.50) scale(0.846,1)" font-size="18.5" font-weight="bold" font-style="normal" fill="#111" stroke="#111" stroke-width="0.55">10</text>
<text transform="translate(219.51,372.00) scale(0.929,1)" font-size="17.5" font-weight="bold" font-style="normal" fill="#111" stroke="#111" stroke-width="0.55">Zr/Y</text>
<text transform="translate(22.80,186.87) rotate(-90) scale(1.180,1)" font-size="15.8" font-weight="bold" fill="#111" stroke="#111" stroke-width="0.55">Nb/Y</text>
<text transform="translate(43.33,30.60) scale(0.797,1)" font-size="18.5" font-weight="bold" font-style="italic" fill="#111" stroke="#111" stroke-width="0.55">a)</text>
<text transform="translate(19.81,446.50) scale(0.566,1)" font-size="17.3" font-weight="bold" font-style="normal" fill="#111" stroke="#111" stroke-width="0.55">1</text>
<text transform="translate(7.69,603.40) scale(0.737,1)" font-size="17.3" font-weight="bold" font-style="normal" fill="#111" stroke="#111" stroke-width="0.55">0.1</text>
<text transform="translate(-0.35,759.20) scale(0.807,1)" font-size="17.0" font-weight="bold" font-style="normal" fill="#111" stroke="#111" stroke-width="0.55">0.01</text>
<text transform="translate(99.81,771.80) scale(0.676,1)" font-size="17.0" font-weight="bold" font-style="normal" fill="#111" stroke="#111" stroke-width="0.55">1</text>
<text transform="translate(332.03,771.80) scale(0.850,1)" font-size="17.0" font-weight="bold" font-style="normal" fill="#111" stroke="#111" stroke-width="0.55">10</text>
<text transform="translate(225.28,777.20) scale(0.875,1)" font-size="16" font-weight="bold" font-style="normal" fill="#111" stroke="#111" stroke-width="0.55">Zr/Y</text>
<text transform="translate(23.80,574.34) rotate(-90) scale(1.170,1)" font-size="15" font-weight="bold" fill="#111" stroke="#111" stroke-width="0.55">Nb/Zr</text>
<text transform="translate(40.00,460.00) scale(0.819,1)" font-size="16" font-weight="bold" font-style="italic" fill="#111" stroke="#111" stroke-width="0.55">b)</text>
<text transform="translate(17.98,858.60) scale(0.767,1)" font-size="17" font-weight="bold" font-style="normal" fill="#111" stroke="#111" stroke-width="0.55">0.01</text>
<text transform="translate(10.17,951.20) scale(0.785,1)" font-size="17" font-weight="bold" font-style="normal" fill="#111" stroke="#111" stroke-width="0.55">0.001</text>
<text transform="translate(2.26,1042.80) scale(0.793,1)" font-size="17" font-weight="bold" font-style="normal" fill="#111" stroke="#111" stroke-width="0.55">0.0001</text>
<text transform="translate(21.35,1134.80) scale(0.762,1)" font-size="16.5" font-weight="bold" font-style="normal" fill="#111" stroke="#111" stroke-width="0.55">10</text>
<text transform="translate(34.96,1125.20) scale(1.161,1)" font-size="9.5" font-weight="bold" font-style="normal" fill="#111" stroke="#111" stroke-width="0.3">-5</text>
<text transform="translate(116.53,1158.50) scale(0.570,1)" font-size="16.8" font-weight="bold" font-style="normal" fill="#111" stroke="#111" stroke-width="0.55">1</text>
<text transform="translate(342.19,1158.50) scale(0.802,1)" font-size="16.8" font-weight="bold" font-style="normal" fill="#111" stroke="#111" stroke-width="0.55">10</text>
<text transform="translate(232.46,1167.50) scale(0.854,1)" font-size="17" font-weight="bold" font-style="normal" fill="#111" stroke="#111" stroke-width="0.55">Zr/Y</text>
<text transform="translate(32.10,1009.07) rotate(-90) scale(1.180,1)" font-size="14.4" font-weight="bold" fill="#111" stroke="#111" stroke-width="0.55">Nb/Ti</text>
<text transform="translate(58.51,843.50) scale(0.876,1)" font-size="15" font-weight="bold" font-style="italic" fill="#111" stroke="#111" stroke-width="0.55">c)</text>
<text transform="translate(481.68,156.05) scale(0.850,1)" font-size="11" font-weight="bold" font-style="normal" fill="#111" stroke="#111" stroke-width="0.3">0</text>
<text transform="translate(476.50,136.67) scale(0.850,1)" font-size="11" font-weight="bold" font-style="normal" fill="#111" stroke="#111" stroke-width="0.3">50</text>
<text transform="translate(471.31,117.29) scale(0.850,1)" font-size="11" font-weight="bold" font-style="normal" fill="#111" stroke="#111" stroke-width="0.3">100</text>
<text transform="translate(471.31,97.91) scale(0.850,1)" font-size="11" font-weight="bold" font-style="normal" fill="#111" stroke="#111" stroke-width="0.3">150</text>
<text transform="translate(471.31,78.53) scale(0.850,1)" font-size="11" font-weight="bold" font-style="normal" fill="#111" stroke="#111" stroke-width="0.3">200</text>
<text transform="translate(471.31,59.15) scale(0.850,1)" font-size="11" font-weight="bold" font-style="normal" fill="#111" stroke="#111" stroke-width="0.3">250</text>
<text transform="translate(471.31,39.78) scale(0.850,1)" font-size="11" font-weight="bold" font-style="normal" fill="#111" stroke="#111" stroke-width="0.3">300</text>
<text transform="translate(471.31,20.40) scale(0.850,1)" font-size="11" font-weight="bold" font-style="normal" fill="#111" stroke="#111" stroke-width="0.3">350</text>
<text transform="translate(481.43,162.80) scale(0.880,1)" font-size="10.7" font-weight="bold" font-style="normal" fill="#111" stroke="#111" stroke-width="0.3">-0.5</text>
<text transform="translate(546.59,162.80) scale(0.880,1)" font-size="10.7" font-weight="bold" font-style="normal" fill="#111" stroke="#111" stroke-width="0.3">0</text>
<text transform="translate(602.19,162.80) scale(0.880,1)" font-size="10.7" font-weight="bold" font-style="normal" fill="#111" stroke="#111" stroke-width="0.3">0.5</text>
<text transform="translate(665.62,162.80) scale(0.880,1)" font-size="10.7" font-weight="bold" font-style="normal" fill="#111" stroke="#111" stroke-width="0.3">1</text>
<text transform="translate(464.80,103.54) rotate(-90) scale(1.240,1)" font-size="9.0" font-weight="bold" fill="#111" stroke="#111" stroke-width="0.3">Frequency</text>
<text transform="translate(570.79,170.30) scale(0.900,1)" font-size="10.2" font-weight="bold" font-style="normal" fill="#111" stroke="#111" stroke-width="0.3">ΔNb</text>
<text transform="translate(606.58,16.90) scale(0.879,1)" font-size="6.2" font-weight="bold" font-style="normal" fill="#111" stroke="#111" stroke-width="0.2">Gulf of Guinea (797)</text>
<text transform="translate(606.58,32.00) scale(0.855,1)" font-size="6.4" font-weight="bold" font-style="normal" fill="#111" stroke="#111" stroke-width="0.2">ΔNb = 0.21 ± 0.19</text>
<text transform="translate(490.48,340.85) scale(0.820,1)" font-size="10.7" font-weight="bold" font-style="normal" fill="#111" stroke="#111" stroke-width="0.3">0</text>
<text transform="translate(485.61,289.28) scale(0.820,1)" font-size="10.7" font-weight="bold" font-style="normal" fill="#111" stroke="#111" stroke-width="0.3">50</text>
<text transform="translate(480.74,237.71) scale(0.820,1)" font-size="10.7" font-weight="bold" font-style="normal" fill="#111" stroke="#111" stroke-width="0.3">100</text>
<text transform="translate(480.74,186.15) scale(0.820,1)" font-size="10.7" font-weight="bold" font-style="normal" fill="#111" stroke="#111" stroke-width="0.3">150</text>
<text transform="translate(489.78,349.40) scale(0.970,1)" font-size="9.3" font-weight="bold" font-style="normal" fill="#111" stroke="#111" stroke-width="0.3">-0.4</text>
<text transform="translate(515.50,349.40) scale(0.970,1)" font-size="9.3" font-weight="bold" font-style="normal" fill="#111" stroke="#111" stroke-width="0.3">-0.2</text>
<text transform="translate(546.31,349.40) scale(0.970,1)" font-size="9.3" font-weight="bold" font-style="normal" fill="#111" stroke="#111" stroke-width="0.3">0</text>
<text transform="translate(568.10,349.40) scale(0.970,1)" font-size="9.3" font-weight="bold" font-style="normal" fill="#111" stroke="#111" stroke-width="0.3">0.2</text>
<text transform="translate(593.50,349.40) scale(0.970,1)" font-size="9.3" font-weight="bold" font-style="normal" fill="#111" stroke="#111" stroke-width="0.3">0.4</text>
<text transform="translate(619.19,349.40) scale(0.970,1)" font-size="9.3" font-weight="bold" font-style="normal" fill="#111" stroke="#111" stroke-width="0.3">0.6</text>
<text transform="translate(644.73,349.40) scale(0.970,1)" font-size="9.3" font-weight="bold" font-style="normal" fill="#111" stroke="#111" stroke-width="0.3">0.8</text>
<text transform="translate(673.94,349.40) scale(0.970,1)" font-size="9.3" font-weight="bold" font-style="normal" fill="#111" stroke="#111" stroke-width="0.3">1</text>
<text transform="translate(477.90,302.30) rotate(-90) scale(1.177,1)" font-size="9.8" font-weight="bold" fill="#111" stroke="#111" stroke-width="0.3">Frequency</text>
<text transform="translate(582.24,363.20) scale(0.880,1)" font-size="10.6" font-weight="bold" font-style="normal" fill="#111" stroke="#111" stroke-width="0.3">ΔNb</text>
<text transform="translate(613.49,197.50) scale(0.873,1)" font-size="6.1" font-weight="bold" font-style="normal" fill="#111" stroke="#111" stroke-width="0.2">Global CAMP (418)</text>
<text transform="translate(613.09,213.30) scale(0.877,1)" font-size="6.1" font-weight="bold" font-style="normal" fill="#111" stroke="#111" stroke-width="0.2">ΔNb = 0.02 ± 0.13</text>
<text transform="translate(484.67,569.45) scale(0.750,1)" font-size="10.7" font-weight="bold" font-style="normal" fill="#111" stroke="#111" stroke-width="0.3">0</text>
<text transform="translate(480.21,552.13) scale(0.750,1)" font-size="10.7" font-weight="bold" font-style="normal" fill="#111" stroke="#111" stroke-width="0.3">50</text>
<text transform="translate(475.76,534.82) scale(0.750,1)" font-size="10.7" font-weight="bold" font-style="normal" fill="#111" stroke="#111" stroke-width="0.3">100</text>
<text transform="translate(475.76,517.51) scale(0.750,1)" font-size="10.7" font-weight="bold" font-style="normal" fill="#111" stroke="#111" stroke-width="0.3">150</text>
<text transform="translate(475.76,500.20) scale(0.750,1)" font-size="10.7" font-weight="bold" font-style="normal" fill="#111" stroke="#111" stroke-width="0.3">200</text>
<text transform="translate(475.76,482.89) scale(0.750,1)" font-size="10.7" font-weight="bold" font-style="normal" fill="#111" stroke="#111" stroke-width="0.3">250</text>
<text transform="translate(475.76,465.57) scale(0.750,1)" font-size="10.7" font-weight="bold" font-style="normal" fill="#111" stroke="#111" stroke-width="0.3">300</text>
<text transform="translate(475.76,448.26) scale(0.750,1)" font-size="10.7" font-weight="bold" font-style="normal" fill="#111" stroke="#111" stroke-width="0.3">350</text>
<text transform="translate(484.98,578.60) scale(0.910,1)" font-size="9.4" font-weight="bold" font-style="normal" fill="#111" stroke="#111" stroke-width="0.3">-0.5</text>
<text transform="translate(551.23,578.60) scale(0.910,1)" font-size="9.4" font-weight="bold" font-style="normal" fill="#111" stroke="#111" stroke-width="0.3">0</text>
<text transform="translate(608.79,578.60) scale(0.910,1)" font-size="9.4" font-weight="bold" font-style="normal" fill="#111" stroke="#111" stroke-width="0.3">0.5</text>
<text transform="translate(673.48,578.60) scale(0.910,1)" font-size="9.4" font-weight="bold" font-style="normal" fill="#111" stroke="#111" stroke-width="0.3">1</text>
<text transform="translate(471.20,529.32) rotate(-90) scale(1.110,1)" font-size="9.8" font-weight="bold" fill="#111" stroke="#111" stroke-width="0.3">Frequency</text>
<text transform="translate(569.35,584.00) scale(0.790,1)" font-size="9.2" font-weight="bold" font-style="normal" fill="#111" stroke="#111" stroke-width="0.3">ΔNb</text>
<text transform="translate(583.05,588.70) scale(0.781,1)" font-size="6.3" font-weight="bold" font-style="normal" fill="#111" stroke="#111" stroke-width="0.15">Zr</text>
<text transform="translate(610.70,449.50) scale(0.830,1)" font-size="5.9" font-weight="bold" font-style="normal" fill="#111" stroke="#111" stroke-width="0.2">Gulf of Guinea (797)</text>
<text transform="translate(610.71,464.90) scale(0.787,1)" font-size="6" font-weight="bold" font-style="normal" fill="#111" stroke="#111" stroke-width="0.2">ΔNb</text>
<text transform="translate(620.60,467.50) scale(0.768,1)" font-size="4.5" font-weight="bold" font-style="normal" fill="#111" stroke="#111" stroke-width="0.2">Zr</text>
<text transform="translate(625.20,464.90) scale(0.822,1)" font-size="6" font-weight="bold" font-style="normal" fill="#111" stroke="#111" stroke-width="0.2">= 0.21 ± 0.17</text>
<text transform="translate(486.81,746.66) scale(0.830,1)" font-size="11.9" font-weight="bold" font-style="normal" fill="#111" stroke="#111" stroke-width="0.3">0</text>
<text transform="translate(481.33,722.50) scale(0.830,1)" font-size="11.9" font-weight="bold" font-style="normal" fill="#111" stroke="#111" stroke-width="0.3">50</text>
<text transform="translate(475.85,698.33) scale(0.830,1)" font-size="11.9" font-weight="bold" font-style="normal" fill="#111" stroke="#111" stroke-width="0.3">100</text>
<text transform="translate(475.85,674.16) scale(0.830,1)" font-size="11.9" font-weight="bold" font-style="normal" fill="#111" stroke="#111" stroke-width="0.3">150</text>
<text transform="translate(475.85,650.00) scale(0.830,1)" font-size="11.9" font-weight="bold" font-style="normal" fill="#111" stroke="#111" stroke-width="0.3">200</text>
<text transform="translate(475.85,625.83) scale(0.830,1)" font-size="11.9" font-weight="bold" font-style="normal" fill="#111" stroke="#111" stroke-width="0.3">250</text>
<text transform="translate(475.85,601.66) scale(0.830,1)" font-size="11.9" font-weight="bold" font-style="normal" fill="#111" stroke="#111" stroke-width="0.3">300</text>
<text transform="translate(485.09,756.40) scale(0.900,1)" font-size="10.9" font-weight="bold" font-style="normal" fill="#111" stroke="#111" stroke-width="0.3">-0.5</text>
<text transform="translate(551.88,756.40) scale(0.900,1)" font-size="10.9" font-weight="bold" font-style="normal" fill="#111" stroke="#111" stroke-width="0.3">0</text>
<text transform="translate(608.71,756.40) scale(0.900,1)" font-size="10.9" font-weight="bold" font-style="normal" fill="#111" stroke="#111" stroke-width="0.3">0.5</text>
<text transform="translate(673.71,756.40) scale(0.900,1)" font-size="10.9" font-weight="bold" font-style="normal" fill="#111" stroke="#111" stroke-width="0.3">1</text>
<text transform="translate(466.90,697.58) rotate(-90) scale(1.180,1)" font-size="10.2" font-weight="bold" fill="#111" stroke="#111" stroke-width="0.3">Frequency</text>
<text transform="translate(560.32,765.20) scale(0.780,1)" font-size="9.1" font-weight="bold" font-style="normal" fill="#111" stroke="#111" stroke-width="0.3">ΔNb</text>
<text transform="translate(575.03,769.60) scale(0.960,1)" font-size="6" font-weight="bold" font-style="normal" fill="#111" stroke="#111" stroke-width="0.15">Zr</text>
<text transform="translate(601.56,612.30) scale(0.934,1)" font-size="6.3" font-weight="bold" font-style="normal" fill="#111" stroke="#111" stroke-width="0.2">Global CAMP (418)</text>
<text transform="translate(601.35,628.50) scale(0.983,1)" font-size="6.3" font-weight="bold" font-style="normal" fill="#111" stroke="#111" stroke-width="0.2">ΔNb</text>
<text transform="translate(613.87,631.80) scale(0.956,1)" font-size="4.6" font-weight="bold" font-style="normal" fill="#111" stroke="#111" stroke-width="0.2">Zr</text>
<text transform="translate(619.67,628.50) scale(0.923,1)" font-size="6.3" font-weight="bold" font-style="normal" fill="#111" stroke="#111" stroke-width="0.2">= -0.05 ± 0.11</text>
<text transform="translate(480.01,958.91) scale(0.860,1)" font-size="10.6" font-weight="bold" font-style="normal" fill="#111" stroke="#111" stroke-width="0.3">0</text>
<text transform="translate(474.95,934.59) scale(0.860,1)" font-size="10.6" font-weight="bold" font-style="normal" fill="#111" stroke="#111" stroke-width="0.3">50</text>
<text transform="translate(469.89,910.28) scale(0.860,1)" font-size="10.6" font-weight="bold" font-style="normal" fill="#111" stroke="#111" stroke-width="0.3">100</text>
<text transform="translate(469.89,885.96) scale(0.860,1)" font-size="10.6" font-weight="bold" font-style="normal" fill="#111" stroke="#111" stroke-width="0.3">150</text>
<text transform="translate(469.89,861.64) scale(0.860,1)" font-size="10.6" font-weight="bold" font-style="normal" fill="#111" stroke="#111" stroke-width="0.3">200</text>
<text transform="translate(469.89,837.33) scale(0.860,1)" font-size="10.6" font-weight="bold" font-style="normal" fill="#111" stroke="#111" stroke-width="0.3">250</text>
<text transform="translate(469.89,813.01) scale(0.860,1)" font-size="10.6" font-weight="bold" font-style="normal" fill="#111" stroke="#111" stroke-width="0.3">300</text>
<text transform="translate(479.22,969.70) scale(0.920,1)" font-size="11" font-weight="bold" font-style="normal" fill="#111" stroke="#111" stroke-width="0.3">-0.5</text>
<text transform="translate(550.29,969.70) scale(0.920,1)" font-size="11" font-weight="bold" font-style="normal" fill="#111" stroke="#111" stroke-width="0.3">0</text>
<text transform="translate(611.09,969.70) scale(0.920,1)" font-size="11" font-weight="bold" font-style="normal" fill="#111" stroke="#111" stroke-width="0.3">0.5</text>
<text transform="translate(680.31,969.70) scale(0.920,1)" font-size="11" font-weight="bold" font-style="normal" fill="#111" stroke="#111" stroke-width="0.3">1</text>
<text transform="translate(465.50,904.40) rotate(-90) scale(1.157,1)" font-size="9.8" font-weight="bold" fill="#111" stroke="#111" stroke-width="0.3">Frequency</text>
<text transform="translate(574.02,973.00) scale(0.890,1)" font-size="8.2" font-weight="bold" font-style="normal" fill="#111" stroke="#111" stroke-width="0.3">ΔNb</text>
<text transform="translate(588.95,976.70) scale(0.915,1)" font-size="5.5" font-weight="bold" font-style="normal" fill="#111" stroke="#111" stroke-width="0.15">Ti</text>
<text transform="translate(618.58,821.20) scale(0.905,1)" font-size="6.1" font-weight="bold" font-style="normal" fill="#111" stroke="#111" stroke-width="0.2">Gulf of Guinea 9797)</text>
<text transform="translate(618.37,836.80) scale(0.949,1)" font-size="6.1" font-weight="bold" font-style="normal" fill="#111" stroke="#111" stroke-width="0.2">ΔNb</text>
<text transform="translate(630.46,839.40) scale(1.001,1)" font-size="4.4" font-weight="bold" font-style="normal" fill="#111" stroke="#111" stroke-width="0.2">Ti</text>
<text transform="translate(634.98,836.80) scale(0.900,1)" font-size="6.1" font-weight="bold" font-style="normal" fill="#111" stroke="#111" stroke-width="0.2">= 0.20 ± 0.18</text>
<text transform="translate(487.06,1134.65) scale(0.880,1)" font-size="8.7" font-weight="bold" font-style="normal" fill="#111" stroke="#111" stroke-width="0.3">0</text>
<text transform="translate(482.81,1097.32) scale(0.880,1)" font-size="8.7" font-weight="bold" font-style="normal" fill="#111" stroke="#111" stroke-width="0.3">50</text>
<text transform="translate(478.56,1060.00) scale(0.880,1)" font-size="8.7" font-weight="bold" font-style="normal" fill="#111" stroke="#111" stroke-width="0.3">100</text>
<text transform="translate(478.56,1022.67) scale(0.880,1)" font-size="8.7" font-weight="bold" font-style="normal" fill="#111" stroke="#111" stroke-width="0.3">150</text>
<text transform="translate(478.56,985.34) scale(0.880,1)" font-size="8.7" font-weight="bold" font-style="normal" fill="#111" stroke="#111" stroke-width="0.3">200</text>
<text transform="translate(487.86,1144.30) scale(0.950,1)" font-size="8.3" font-weight="bold" font-style="normal" fill="#111" stroke="#111" stroke-width="0.3">-0.5</text>
<text transform="translate(555.45,1144.30) scale(0.950,1)" font-size="8.3" font-weight="bold" font-style="normal" fill="#111" stroke="#111" stroke-width="0.3">0</text>
<text transform="translate(615.03,1144.30) scale(0.950,1)" font-size="8.3" font-weight="bold" font-style="normal" fill="#111" stroke="#111" stroke-width="0.3">0.5</text>
<text transform="translate(681.17,1144.30) scale(0.950,1)" font-size="8.3" font-weight="bold" font-style="normal" fill="#111" stroke="#111" stroke-width="0.3">1</text>
<text transform="translate(474.30,1073.67) rotate(-90) scale(1.120,1)" font-size="8.3" font-weight="bold" fill="#111" stroke="#111" stroke-width="0.3">Frequency</text>
<text transform="translate(569.23,1154.10) scale(0.880,1)" font-size="8.5" font-weight="bold" font-style="normal" fill="#111" stroke="#111" stroke-width="0.3">ΔNb</text>
<text transform="translate(584.56,1157.80) scale(0.783,1)" font-size="5.3" font-weight="bold" font-style="normal" fill="#111" stroke="#111" stroke-width="0.15">Ti</text>
<text transform="translate(607.88,994.90) scale(0.905,1)" font-size="6.2" font-weight="bold" font-style="normal" fill="#111" stroke="#111" stroke-width="0.2">Global CAMP (418)</text>
<text transform="translate(607.56,1010.00) scale(0.950,1)" font-size="6.2" font-weight="bold" font-style="normal" fill="#111" stroke="#111" stroke-width="0.2">ΔNb</text>
<text transform="translate(619.66,1013.20) scale(0.886,1)" font-size="4.4" font-weight="bold" font-style="normal" fill="#111" stroke="#111" stroke-width="0.2">Ti</text>
<text transform="translate(623.98,1010.00) scale(0.893,1)" font-size="6.2" font-weight="bold" font-style="normal" fill="#111" stroke="#111" stroke-width="0.2">= -0.04 ± 0.15</text>
<circle cx="352.7" cy="144.4" r="2.8" fill="#c09a0a"/>
<text transform="translate(371.18,148.72) scale(0.880,1)" font-size="12" font-weight="bold" font-style="normal" fill="#c09a0a" stroke="#c09a0a" stroke-width="0.25">CL_Cont.</text>
<circle cx="352.7" cy="161.3" r="2.8" fill="#0ac4f5"/>
<text transform="translate(371.18,165.67) scale(0.880,1)" font-size="12" font-weight="bold" font-style="normal" fill="#0ac4f5" stroke="#0ac4f5" stroke-width="0.25">CL_Oceanic</text>
<ellipse cx="352.7" cy="178.3" rx="4.9" ry="5.6" fill="none" stroke="#111" stroke-width="1.2"/>
<text transform="translate(370.91,182.62) scale(0.880,1)" font-size="12" font-weight="bold" font-style="normal" fill="#111" stroke="#111" stroke-width="0.25">Benue Tr</text>
<path d="M347.9,199.8L352.7,190.7L357.4,199.8Z" fill="#fff200" stroke="#111" stroke-width="1" stroke-linejoin="miter"/>
<text transform="translate(370.91,199.57) scale(0.880,1)" font-size="12" font-weight="bold" font-style="normal" fill="#111" stroke="#111" stroke-width="0.25">Morocco</text>
<path d="M347.9,216.7L352.7,207.7L357.4,216.7Z" fill="#b8900c" stroke="#111" stroke-width="1" stroke-linejoin="miter"/>
<text transform="translate(371.34,216.52) scale(0.880,1)" font-size="12" font-weight="bold" font-style="normal" fill="#111" stroke="#111" stroke-width="0.25">Algeria</text>
<path d="M352.7,223.7L357.7,229.2L352.7,234.7L347.7,229.2Z" fill="#44e0fa" stroke="#111" stroke-width="1"/>
<text transform="translate(370.91,233.47) scale(0.880,1)" font-size="12" font-weight="bold" font-style="normal" fill="#111" stroke="#111" stroke-width="0.25">Mali</text>
<rect x="347.2" y="240.6" width="11.0" height="12.0" fill="#0b5a1c" stroke="#111" stroke-width="1"/>
<text transform="translate(371.18,250.42) scale(0.880,1)" font-size="12" font-weight="bold" font-style="normal" fill="#111" stroke="#111" stroke-width="0.25">Guinea</text>
<path d="M348.1,258.6L352.7,267.5L357.3,258.6Z" fill="#a0a0a0" stroke="#111" stroke-width="1"/>
<text transform="translate(371.28,267.37) scale(0.880,1)" font-size="12" font-weight="bold" font-style="normal" fill="#111" stroke="#111" stroke-width="0.25">S-Leone</text>
<path d="M348.1,275.6L352.7,284.4L357.3,275.6Z" fill="#8a10d0" stroke="#111" stroke-width="1"/>
<text transform="translate(371.28,284.32) scale(0.880,1)" font-size="12" font-weight="bold" font-style="normal" fill="#111" stroke="#111" stroke-width="0.25">S_America</text>
<path d="M347.9,301.5L352.7,292.4L357.4,301.5Z" fill="#33ee33" stroke="#111" stroke-width="1" stroke-linejoin="miter"/>
<text transform="translate(370.91,301.27) scale(0.880,1)" font-size="12" font-weight="bold" font-style="normal" fill="#111" stroke="#111" stroke-width="0.25">N_America</text>
<rect x="347.4" y="308.6" width="10.5" height="10.5" fill="#fff" stroke="#222" stroke-width="1"/>
<line x1="347.45" y1="319.15" x2="357.95" y2="308.65" stroke="#222" stroke-width="1" />
<text transform="translate(370.91,318.22) scale(0.880,1)" font-size="12" font-weight="bold" font-style="normal" fill="#111" stroke="#111" stroke-width="0.25">Europe</text>
<path d="M346.2,337.0L352.7,324.7L359.2,337.0Z" fill="#0808c8" stroke="#111" stroke-width="1" stroke-linejoin="miter"/>
<text transform="translate(370.91,335.17) scale(0.880,1)" font-size="12" font-weight="bold" font-style="normal" fill="#111" stroke="#111" stroke-width="0.25">Kendem</text>
<circle cx="366.7" cy="942.4" r="2.38" fill="#c09a0a"/>
<text transform="translate(382.23,946.36) scale(0.860,1)" font-size="11" font-weight="normal" font-style="normal" fill="#c09a0a">CL_Cont.</text>
<circle cx="366.7" cy="959.3" r="2.38" fill="#0ac4f5"/>
<text transform="translate(382.23,963.26) scale(0.860,1)" font-size="11" font-weight="normal" font-style="normal" fill="#0ac4f5">CL_Oceanic</text>
<ellipse cx="366.7" cy="976.2" rx="4.165" ry="4.76" fill="none" stroke="#111" stroke-width="1.2"/>
<text transform="translate(381.94,980.16) scale(0.860,1)" font-size="11" font-weight="normal" font-style="normal" fill="#111">Benue Tr</text>
<path d="M362.7,996.9L366.7,989.3L370.7,996.9Z" fill="#fff200" stroke="#111" stroke-width="1" stroke-linejoin="miter"/>
<text transform="translate(381.94,997.06) scale(0.860,1)" font-size="11" font-weight="normal" font-style="normal" fill="#111">Morocco</text>
<path d="M362.7,1013.8L366.7,1006.2L370.7,1013.8Z" fill="#b8900c" stroke="#111" stroke-width="1" stroke-linejoin="miter"/>
<text transform="translate(382.70,1013.96) scale(0.860,1)" font-size="11" font-weight="normal" font-style="normal" fill="#111">Algeria</text>
<path d="M366.7,1022.2L370.9,1026.9L366.7,1031.6L362.4,1026.9Z" fill="#44e0fa" stroke="#111" stroke-width="1"/>
<text transform="translate(381.94,1030.86) scale(0.860,1)" font-size="11" font-weight="normal" font-style="normal" fill="#111">Mali</text>
<rect x="362.0" y="1039.1" width="9.35" height="10.35" fill="#0b5a1c" stroke="#111" stroke-width="1"/>
<text transform="translate(382.23,1047.76) scale(0.860,1)" font-size="11" font-weight="normal" font-style="normal" fill="#111">Guinea</text>
<path d="M362.7,1056.9L366.7,1064.5L370.7,1056.9Z" fill="#a0a0a0" stroke="#111" stroke-width="1"/>
<text transform="translate(382.27,1064.66) scale(0.860,1)" font-size="11" font-weight="normal" font-style="normal" fill="#111">S-Leone</text>
<path d="M362.7,1073.8L366.7,1081.4L370.7,1073.8Z" fill="#8a10d0" stroke="#111" stroke-width="1"/>
<text transform="translate(382.27,1081.56) scale(0.860,1)" font-size="11" font-weight="normal" font-style="normal" fill="#111">S_America</text>
<path d="M362.7,1098.3L366.7,1090.7L370.7,1098.3Z" fill="#33ee33" stroke="#111" stroke-width="1" stroke-linejoin="miter"/>
<text transform="translate(381.94,1098.46) scale(0.860,1)" font-size="11" font-weight="normal" font-style="normal" fill="#111">N_America</text>
<rect x="362.2" y="1106.9" width="8.924999999999999" height="8.924999999999999" fill="#fff" stroke="#222" stroke-width="1"/>
<line x1="362.24" y1="1115.86" x2="371.16" y2="1106.94" stroke="#222" stroke-width="1" />
<text transform="translate(381.94,1115.36) scale(0.860,1)" font-size="11" font-weight="normal" font-style="normal" fill="#111">Europe</text>
<path d="M361.2,1133.5L366.7,1123.1L372.2,1133.5Z" fill="#0808c8" stroke="#111" stroke-width="1" stroke-linejoin="miter"/>
<text transform="translate(381.94,1132.26) scale(0.860,1)" font-size="11" font-weight="normal" font-style="normal" fill="#111">Kendem</text>
</svg></body></html>
